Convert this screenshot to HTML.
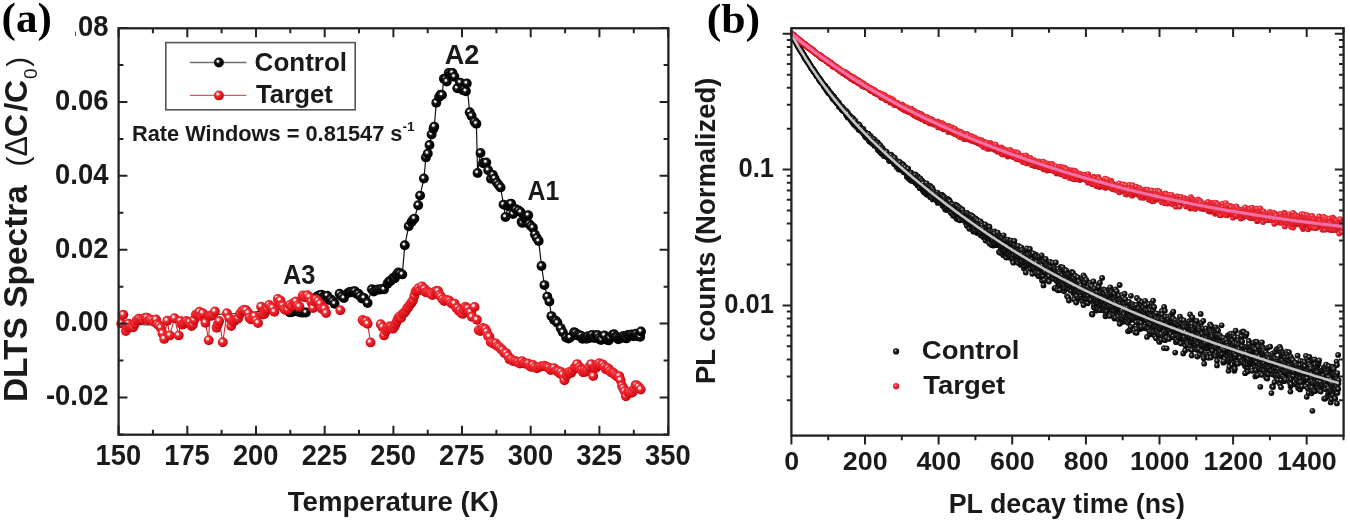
<!DOCTYPE html>
<html><head><meta charset="utf-8"><title>DLTS and PL decay</title>
<style>html,body{margin:0;padding:0;background:#fff;} svg{display:block;will-change:transform;}</style></head>
<body><svg width="1350" height="523" viewBox="0 0 1350 523">
<rect width="1350" height="523" fill="#fff"/>
<defs><radialGradient id="gk" cx="0.4" cy="0.38" r="0.62"><stop offset="0" stop-color="#ffffff"/><stop offset="0.14" stop-color="#f0f0f0"/><stop offset="0.3" stop-color="#2a2a2a"/><stop offset="0.55" stop-color="#050505"/><stop offset="1" stop-color="#000"/></radialGradient><radialGradient id="gr" cx="0.38" cy="0.36" r="0.64"><stop offset="0" stop-color="#ffffff"/><stop offset="0.16" stop-color="#ffd8d8"/><stop offset="0.34" stop-color="#ee3038"/><stop offset="0.7" stop-color="#e3141c"/><stop offset="1" stop-color="#b80810"/></radialGradient><radialGradient id="gk2" cx="0.4" cy="0.38" r="0.6"><stop offset="0" stop-color="#e0e0e0"/><stop offset="0.28" stop-color="#3a3a3a"/><stop offset="0.62" stop-color="#0e0e0e"/><stop offset="1" stop-color="#050505"/></radialGradient><radialGradient id="gr2" cx="0.4" cy="0.38" r="0.6"><stop offset="0" stop-color="#ffb0b8"/><stop offset="0.35" stop-color="#ee3a44"/><stop offset="0.75" stop-color="#e41a26"/><stop offset="1" stop-color="#b80c16"/></radialGradient></defs>
<path d="M118.6 322 L125 322.5 L135 324 L145 325 L155 324.5 L165 322.5 L175 320.5 L185 320 L195 318 L205 316 L215 314.5 L225 314 L235 313.5 L245 312.4 L255 312 L265 310.5 L275 309 L285 310 L292.3 312 L299 312 L305.9 312.5 L312 303 L319.5 295.1 L325.3 296.5 L331 299.4 L334.6 303.7 L339.6 293.7 L343.9 298 L348 293 L351.1 292.2 L356.8 293.7 L360 296 L364 298 L367.6 303 L371.9 289.3 L376 290 L380 289.5 L384 289.4 L387.5 283.8 L390.5 281 L393.1 277.9 L396.5 275 L400 273.3 L402.3 274.4 L404.8 245.3 L408.7 226.2 L411.5 222 L414.4 218.6 L418.2 205.2 L420.1 195.6 L423.9 178.5 L425.9 157.4 L427.8 153.6 L429.5 145 L431.6 134.5 L433.5 128.8 L434.3 126.6 L436.3 102.7 L439.1 96.9 L442 95 L443.9 78.8 L446.8 81.6 L448.7 73 L452.5 73 L454.4 76.8 L457.3 88.3 L460.2 82.6 L463 90.2 L465.9 91.2 L466.8 83.5 L469.7 112.2 L471.6 116 L474.5 121.8 L476.4 123.7 L477.6 173 L480.5 152.9 L483.2 163.2 L486.3 162.5 L488.2 170.2 L491 178.8 L493 174.9 L494.6 178.5 L496.8 182.6 L498.6 185 L500.6 187.4 L503.5 204.6 L505.5 217 L508 206 L511.1 203.6 L513 214 L515.9 209.3 L518.6 210.5 L520.7 212.2 L521.6 221.8 L522.4 222.9 L525 219 L528.2 215.3 L529.1 223.9 L531 226 L532.9 227.7 L534.9 234.4 L536.8 238 L538.7 241.1 L541.5 266 L544.4 285.1 L547.3 296.6 L549.4 301.4 L551.4 316.1 L554.1 320.1 L557.4 322.8 L560.8 328.2 L562.8 332.2 L566.1 337.5 L568.5 338.5 L570.1 337.5 L574.1 332.2 L577 335.4 L579.8 335.9 L582.5 338.8 L585.2 338.1 L588 336.3 L590.8 336 L593.5 337.6 L596.2 335.1 L599 338 L601.8 339.7 L604.5 335.5 L607.2 339.7 L610 338 L612.8 334.6 L615.5 336.7 L618.2 339.3 L621 338.2 L623.8 336 L626.5 338.4 L629.2 335.3 L632 334.5 L634.8 335 L637.5 336 L640.2 336.8 L641 331.5" fill="none" stroke="#111" stroke-width="1.2"/>
<g fill="url(#gk)"><circle cx="289.9" cy="312.4" r="4.95"/><circle cx="292.3" cy="312" r="4.95"/><circle cx="294.5" cy="311" r="4.95"/><circle cx="296.8" cy="310.3" r="4.95"/><circle cx="299" cy="312" r="4.95"/><circle cx="301.3" cy="312.6" r="4.95"/><circle cx="303.6" cy="312.5" r="4.95"/><circle cx="305.9" cy="312.5" r="4.95"/><circle cx="312" cy="303" r="4.95"/><circle cx="314.5" cy="300.9" r="4.95"/><circle cx="317" cy="296.4" r="4.95"/><circle cx="319.5" cy="295.1" r="4.95"/><circle cx="321.4" cy="294.6" r="4.95"/><circle cx="323.4" cy="296.8" r="4.95"/><circle cx="325.3" cy="296.5" r="4.95"/><circle cx="327.2" cy="295.8" r="4.95"/><circle cx="329.1" cy="299.9" r="4.95"/><circle cx="331" cy="299.4" r="4.95"/><circle cx="332.8" cy="301.3" r="4.95"/><circle cx="334.6" cy="303.7" r="4.95"/><circle cx="339.6" cy="293.7" r="4.95"/><circle cx="341.8" cy="296.3" r="4.95"/><circle cx="343.9" cy="298" r="4.95"/><circle cx="348" cy="293" r="4.95"/><circle cx="349.6" cy="291.9" r="4.95"/><circle cx="351.1" cy="292.2" r="4.95"/><circle cx="353" cy="291.4" r="4.95"/><circle cx="354.9" cy="291.2" r="4.95"/><circle cx="356.8" cy="293.7" r="4.95"/><circle cx="358.4" cy="293.7" r="4.95"/><circle cx="360" cy="296" r="4.95"/><circle cx="362" cy="298.5" r="4.95"/><circle cx="364" cy="298" r="4.95"/><circle cx="367.6" cy="303" r="4.95"/><circle cx="371.9" cy="289.3" r="4.95"/><circle cx="373.9" cy="291.5" r="4.95"/><circle cx="376" cy="290" r="4.95"/><circle cx="378" cy="289.5" r="4.95"/><circle cx="380" cy="289.5" r="4.95"/><circle cx="382" cy="289" r="4.95"/><circle cx="384" cy="289.4" r="4.95"/><circle cx="387.5" cy="283.8" r="4.95"/><circle cx="389" cy="281.5" r="4.95"/><circle cx="390.5" cy="281" r="4.95"/><circle cx="393.1" cy="277.9" r="4.95"/><circle cx="394.8" cy="278.3" r="4.95"/><circle cx="396.5" cy="275" r="4.95"/><circle cx="398.2" cy="272.4" r="4.95"/><circle cx="400" cy="273.3" r="4.95"/><circle cx="402.3" cy="274.4" r="4.95"/><circle cx="404.8" cy="245.3" r="4.95"/><circle cx="408.7" cy="226.2" r="4.95"/><circle cx="411.5" cy="222" r="4.95"/><circle cx="412.9" cy="219.9" r="4.95"/><circle cx="414.4" cy="218.6" r="4.95"/><circle cx="418.2" cy="205.2" r="4.95"/><circle cx="420.1" cy="195.6" r="4.95"/><circle cx="423.9" cy="178.5" r="4.95"/><circle cx="425.9" cy="157.4" r="4.95"/><circle cx="427.8" cy="153.6" r="4.95"/><circle cx="429.5" cy="145" r="4.95"/><circle cx="431.6" cy="134.5" r="4.95"/><circle cx="433.5" cy="128.8" r="4.95"/><circle cx="434.3" cy="126.6" r="4.95"/><circle cx="436.3" cy="102.7" r="4.95"/><circle cx="439.1" cy="96.9" r="4.95"/><circle cx="440.6" cy="94.6" r="4.95"/><circle cx="442" cy="95" r="4.95"/><circle cx="443.9" cy="78.8" r="4.95"/><circle cx="445.4" cy="79.2" r="4.95"/><circle cx="446.8" cy="81.6" r="4.95"/><circle cx="448.7" cy="73" r="4.95"/><circle cx="450.6" cy="74.1" r="4.95"/><circle cx="452.5" cy="73" r="4.95"/><circle cx="454.4" cy="76.8" r="4.95"/><circle cx="457.3" cy="88.3" r="4.95"/><circle cx="460.2" cy="82.6" r="4.95"/><circle cx="463" cy="90.2" r="4.95"/><circle cx="464.4" cy="89.5" r="4.95"/><circle cx="465.9" cy="91.2" r="4.95"/><circle cx="466.8" cy="83.5" r="4.95"/><circle cx="469.7" cy="112.2" r="4.95"/><circle cx="471.6" cy="116" r="4.95"/><circle cx="474.5" cy="121.8" r="4.95"/><circle cx="476.4" cy="123.7" r="4.95"/><circle cx="477.6" cy="173" r="4.95"/><circle cx="480.5" cy="152.9" r="4.95"/><circle cx="483.2" cy="163.2" r="4.95"/><circle cx="484.8" cy="163.1" r="4.95"/><circle cx="486.3" cy="162.5" r="4.95"/><circle cx="488.2" cy="170.2" r="4.95"/><circle cx="491" cy="178.8" r="4.95"/><circle cx="493" cy="174.9" r="4.95"/><circle cx="494.6" cy="178.5" r="4.95"/><circle cx="496.8" cy="182.6" r="4.95"/><circle cx="498.6" cy="185" r="4.95"/><circle cx="500.6" cy="187.4" r="4.95"/><circle cx="503.5" cy="204.6" r="4.95"/><circle cx="505.5" cy="217" r="4.95"/><circle cx="508" cy="206" r="4.95"/><circle cx="509.6" cy="204.3" r="4.95"/><circle cx="511.1" cy="203.6" r="4.95"/><circle cx="513" cy="214" r="4.95"/><circle cx="515.9" cy="209.3" r="4.95"/><circle cx="518.6" cy="210.5" r="4.95"/><circle cx="520.7" cy="212.2" r="4.95"/><circle cx="521.6" cy="221.8" r="4.95"/><circle cx="522.4" cy="222.9" r="4.95"/><circle cx="525" cy="219" r="4.95"/><circle cx="526.6" cy="217.2" r="4.95"/><circle cx="528.2" cy="215.3" r="4.95"/><circle cx="529.1" cy="223.9" r="4.95"/><circle cx="531" cy="226" r="4.95"/><circle cx="532.9" cy="227.7" r="4.95"/><circle cx="534.9" cy="234.4" r="4.95"/><circle cx="536.8" cy="238" r="4.95"/><circle cx="538.7" cy="241.1" r="4.95"/><circle cx="541.5" cy="266" r="4.95"/><circle cx="544.4" cy="285.1" r="4.95"/><circle cx="547.3" cy="296.6" r="4.95"/><circle cx="549.4" cy="301.4" r="4.95"/><circle cx="551.4" cy="316.1" r="4.95"/><circle cx="554.1" cy="320.1" r="4.95"/><circle cx="555.8" cy="320.8" r="4.95"/><circle cx="557.4" cy="322.8" r="4.95"/><circle cx="560.8" cy="328.2" r="4.95"/><circle cx="562.8" cy="332.2" r="4.95"/><circle cx="566.1" cy="337.5" r="4.95"/><circle cx="568.5" cy="338.5" r="4.95"/><circle cx="570.1" cy="337.5" r="4.95"/><circle cx="574.1" cy="332.2" r="4.95"/><circle cx="575.5" cy="332.9" r="4.95"/><circle cx="577" cy="335.4" r="4.95"/><circle cx="578.4" cy="334.8" r="4.95"/><circle cx="579.8" cy="335.9" r="4.95"/><circle cx="581.1" cy="335.7" r="4.95"/><circle cx="582.5" cy="338.8" r="4.95"/><circle cx="583.9" cy="338.3" r="4.95"/><circle cx="585.2" cy="338.1" r="4.95"/><circle cx="586.6" cy="338.7" r="4.95"/><circle cx="588" cy="336.3" r="4.95"/><circle cx="589.4" cy="338" r="4.95"/><circle cx="590.8" cy="336" r="4.95"/><circle cx="592.1" cy="334.9" r="4.95"/><circle cx="593.5" cy="337.6" r="4.95"/><circle cx="594.9" cy="338" r="4.95"/><circle cx="596.2" cy="335.1" r="4.95"/><circle cx="597.6" cy="335.1" r="4.95"/><circle cx="599" cy="338" r="4.95"/><circle cx="600.4" cy="339.8" r="4.95"/><circle cx="601.8" cy="339.7" r="4.95"/><circle cx="604.5" cy="335.5" r="4.95"/><circle cx="607.2" cy="339.7" r="4.95"/><circle cx="608.6" cy="340.4" r="4.95"/><circle cx="610" cy="338" r="4.95"/><circle cx="612.8" cy="334.6" r="4.95"/><circle cx="614.1" cy="334.3" r="4.95"/><circle cx="615.5" cy="336.7" r="4.95"/><circle cx="616.9" cy="337.3" r="4.95"/><circle cx="618.2" cy="339.3" r="4.95"/><circle cx="619.6" cy="338.3" r="4.95"/><circle cx="621" cy="338.2" r="4.95"/><circle cx="622.4" cy="336.5" r="4.95"/><circle cx="623.8" cy="336" r="4.95"/><circle cx="625.1" cy="337.2" r="4.95"/><circle cx="626.5" cy="338.4" r="4.95"/><circle cx="627.9" cy="334.9" r="4.95"/><circle cx="629.2" cy="335.3" r="4.95"/><circle cx="630.6" cy="334.6" r="4.95"/><circle cx="632" cy="334.5" r="4.95"/><circle cx="633.4" cy="336.2" r="4.95"/><circle cx="634.8" cy="335" r="4.95"/><circle cx="636.1" cy="333.8" r="4.95"/><circle cx="637.5" cy="336" r="4.95"/><circle cx="638.9" cy="336.4" r="4.95"/><circle cx="640.2" cy="336.8" r="4.95"/><circle cx="641" cy="331.5" r="4.95"/></g>
<path d="M121.2 323.4 L123.3 314.8 L125.9 331.1 L128.5 323.8 L131.5 327.2 L136.7 320.4 L141 319 L145.3 317.8 L150.4 319.5 L156 319.5 L159 325.5 L164.2 338.9 L167.2 320.8 L169.8 335.4 L174.5 318.2 L178.7 335.4 L180.5 321 L183 324.4 L186.5 321 L191.6 326.1 L194.2 320.1 L197.7 314.1 L202.8 313.2 L205.4 322.7 L208.7 340.2 L209.7 315.8 L214.9 311.5 L216.6 327.8 L219.2 321 L222.8 342.2 L226.9 313.2 L231.2 326.1 L232.9 321.8 L238.1 318.4 L244.1 309.8 L248.4 313.2 L249.4 317.8 L254.6 316.1 L258 323 L261.1 306.7 L263.2 314.4 L265.8 310.9 L269.2 304.9 L274.4 311.8 L277.8 298.9 L280.4 300.6 L283 305.8 L285.6 310.1 L289.9 304.9 L295.9 301.5 L299.4 306.7 L302.8 295.5 L305.4 297.2 L309.5 297.2 L313.1 308 L315.9 299.4 L318 301 L320.2 303.7 L323.1 309.4 L326 313" fill="none" stroke="#d01018" stroke-width="1.0"/>
<path d="M362.6 320 L365 322 L367.6 323.8 L370.5 342.4" fill="none" stroke="#d01018" stroke-width="1.0"/>
<path d="M380.7 324.2 L382.5 327 L384.1 335.4 L386 331 L388.4 328.5 L391.5 327 L394.4 326.8 L397 321 L399.6 316.5 L402.5 314 L405.6 311.3 L408.5 307 L411.6 302.7 L414.3 296 L416.8 290.7 L418.4 288.2 L420 290 L422 286.4 L424.5 289 L427.1 291.5 L429.7 293 L432.3 295 L434.5 292 L436.6 290.7 L439.6 295 L442.6 299.3 L446 300 L449.5 301 L452.9 304 L456.4 307.9 L459 311 L461.5 313 L464 310 L466.7 307.9 L469.3 312 L471.8 316.8 L474.5 307 L476.9 319.8 L478.8 330.2 L480.3 331 L483 328 L485.5 329.3 L488 336 L490.7 342 L494 344 L497.5 346 L501 349 L504.4 352.9 L508 356 L511.3 359.3 L515 361 L519.9 363.5 L524 363 L528.5 363.7 L533 365 L538.8 367.1 L543 366 L547.5 367.1 L552 369 L556.1 370.6 L558.5 371 L561 372 L564.4 380.2 L566.5 375.7 L569.5 372 L572.4 370.8 L574.5 368 L577.1 364.1 L579.5 367 L581.8 370.1 L584.5 370 L587.1 370.1 L589 367 L591.1 364.1 L593.2 376.1 L595.5 368 L597.8 364.8 L601 365 L604.5 366.8 L607 368 L609.9 370.8 L612.5 372.5 L615.2 374.8 L618 377 L620.6 380.2 L623.3 388.2 L625.9 396.2 L628 392.2 L630.5 393 L632.6 392.2 L634.5 389 L636.7 385.5 L638.7 387 L640.7 389.5" fill="none" stroke="#d01018" stroke-width="1.0"/>
<g fill="url(#gr)"><circle cx="121.2" cy="323.4" r="4.95"/><circle cx="123.3" cy="314.8" r="4.95"/><circle cx="125.9" cy="331.1" r="4.95"/><circle cx="127.2" cy="327.4" r="4.95"/><circle cx="128.5" cy="323.8" r="4.95"/><circle cx="130" cy="326.9" r="4.95"/><circle cx="131.5" cy="327.2" r="4.95"/><circle cx="133.2" cy="327.3" r="4.95"/><circle cx="135" cy="323.7" r="4.95"/><circle cx="136.7" cy="320.4" r="4.95"/><circle cx="138.8" cy="318.6" r="4.95"/><circle cx="141" cy="319" r="4.95"/><circle cx="143.2" cy="319.3" r="4.95"/><circle cx="145.3" cy="317.8" r="4.95"/><circle cx="147" cy="317.6" r="4.95"/><circle cx="148.7" cy="320.3" r="4.95"/><circle cx="150.4" cy="319.5" r="4.95"/><circle cx="152.3" cy="320.4" r="4.95"/><circle cx="154.1" cy="321.9" r="4.95"/><circle cx="156" cy="319.5" r="4.95"/><circle cx="157.5" cy="324.3" r="4.95"/><circle cx="159" cy="325.5" r="4.95"/><circle cx="160.7" cy="327.7" r="4.95"/><circle cx="162.5" cy="333.4" r="4.95"/><circle cx="164.2" cy="338.9" r="4.95"/><circle cx="167.2" cy="320.8" r="4.95"/><circle cx="169.8" cy="335.4" r="4.95"/><circle cx="174.5" cy="318.2" r="4.95"/><circle cx="178.7" cy="335.4" r="4.95"/><circle cx="180.5" cy="321" r="4.95"/><circle cx="181.8" cy="324.5" r="4.95"/><circle cx="183" cy="324.4" r="4.95"/><circle cx="184.8" cy="323.2" r="4.95"/><circle cx="186.5" cy="321" r="4.95"/><circle cx="188.2" cy="321.9" r="4.95"/><circle cx="189.9" cy="322.2" r="4.95"/><circle cx="191.6" cy="326.1" r="4.95"/><circle cx="192.9" cy="324.4" r="4.95"/><circle cx="194.2" cy="320.1" r="4.95"/><circle cx="195.9" cy="314.6" r="4.95"/><circle cx="197.7" cy="314.1" r="4.95"/><circle cx="199.4" cy="311.8" r="4.95"/><circle cx="201.1" cy="316" r="4.95"/><circle cx="202.8" cy="313.2" r="4.95"/><circle cx="205.4" cy="322.7" r="4.95"/><circle cx="208.7" cy="340.2" r="4.95"/><circle cx="209.7" cy="315.8" r="4.95"/><circle cx="211.4" cy="315.7" r="4.95"/><circle cx="213.2" cy="314.8" r="4.95"/><circle cx="214.9" cy="311.5" r="4.95"/><circle cx="216.6" cy="327.8" r="4.95"/><circle cx="217.9" cy="324.3" r="4.95"/><circle cx="219.2" cy="321" r="4.95"/><circle cx="222.8" cy="342.2" r="4.95"/><circle cx="226.9" cy="313.2" r="4.95"/><circle cx="229.1" cy="318" r="4.95"/><circle cx="231.2" cy="326.1" r="4.95"/><circle cx="232.9" cy="321.8" r="4.95"/><circle cx="234.6" cy="320.8" r="4.95"/><circle cx="236.4" cy="319.2" r="4.95"/><circle cx="238.1" cy="318.4" r="4.95"/><circle cx="240.1" cy="313.8" r="4.95"/><circle cx="242.1" cy="311" r="4.95"/><circle cx="244.1" cy="309.8" r="4.95"/><circle cx="246.2" cy="310.3" r="4.95"/><circle cx="248.4" cy="313.2" r="4.95"/><circle cx="249.4" cy="317.8" r="4.95"/><circle cx="251.1" cy="319.4" r="4.95"/><circle cx="252.9" cy="319.1" r="4.95"/><circle cx="254.6" cy="316.1" r="4.95"/><circle cx="256.3" cy="320.6" r="4.95"/><circle cx="258" cy="323" r="4.95"/><circle cx="261.1" cy="306.7" r="4.95"/><circle cx="263.2" cy="314.4" r="4.95"/><circle cx="264.5" cy="313.8" r="4.95"/><circle cx="265.8" cy="310.9" r="4.95"/><circle cx="267.5" cy="309.1" r="4.95"/><circle cx="269.2" cy="304.9" r="4.95"/><circle cx="270.9" cy="307.3" r="4.95"/><circle cx="272.7" cy="307.9" r="4.95"/><circle cx="274.4" cy="311.8" r="4.95"/><circle cx="277.8" cy="298.9" r="4.95"/><circle cx="279.1" cy="301.6" r="4.95"/><circle cx="280.4" cy="300.6" r="4.95"/><circle cx="281.7" cy="305.1" r="4.95"/><circle cx="283" cy="305.8" r="4.95"/><circle cx="284.3" cy="309" r="4.95"/><circle cx="285.6" cy="310.1" r="4.95"/><circle cx="287.8" cy="309.7" r="4.95"/><circle cx="289.9" cy="304.9" r="4.95"/><circle cx="291.9" cy="306.2" r="4.95"/><circle cx="293.9" cy="302.7" r="4.95"/><circle cx="295.9" cy="301.5" r="4.95"/><circle cx="297.6" cy="305.4" r="4.95"/><circle cx="299.4" cy="306.7" r="4.95"/><circle cx="302.8" cy="295.5" r="4.95"/><circle cx="304.1" cy="296.9" r="4.95"/><circle cx="305.4" cy="297.2" r="4.95"/><circle cx="307.4" cy="295.3" r="4.95"/><circle cx="309.5" cy="297.2" r="4.95"/><circle cx="311.3" cy="301.7" r="4.95"/><circle cx="313.1" cy="308" r="4.95"/><circle cx="314.5" cy="301.5" r="4.95"/><circle cx="315.9" cy="299.4" r="4.95"/><circle cx="318" cy="301" r="4.95"/><circle cx="320.2" cy="303.7" r="4.95"/><circle cx="321.6" cy="308.5" r="4.95"/><circle cx="323.1" cy="309.4" r="4.95"/><circle cx="324.6" cy="308.8" r="4.95"/><circle cx="326" cy="313" r="4.95"/><circle cx="340.3" cy="310.2" r="4.95"/><circle cx="362.6" cy="320" r="4.95"/><circle cx="363.8" cy="321.2" r="4.95"/><circle cx="365" cy="322" r="4.95"/><circle cx="366.3" cy="321.3" r="4.95"/><circle cx="367.6" cy="323.8" r="4.95"/><circle cx="370.5" cy="342.4" r="4.95"/><circle cx="380.7" cy="324.2" r="4.95"/><circle cx="382.5" cy="327" r="4.95"/><circle cx="384.1" cy="335.4" r="4.95"/><circle cx="386" cy="331" r="4.95"/><circle cx="387.2" cy="328" r="4.95"/><circle cx="388.4" cy="328.5" r="4.95"/><circle cx="389.9" cy="326.1" r="4.95"/><circle cx="391.5" cy="327" r="4.95"/><circle cx="392.9" cy="328.8" r="4.95"/><circle cx="394.4" cy="326.8" r="4.95"/><circle cx="395.7" cy="323.9" r="4.95"/><circle cx="397" cy="321" r="4.95"/><circle cx="398.3" cy="318" r="4.95"/><circle cx="399.6" cy="316.5" r="4.95"/><circle cx="401.1" cy="317.7" r="4.95"/><circle cx="402.5" cy="314" r="4.95"/><circle cx="404.1" cy="312.9" r="4.95"/><circle cx="405.6" cy="311.3" r="4.95"/><circle cx="407.1" cy="308.2" r="4.95"/><circle cx="408.5" cy="307" r="4.95"/><circle cx="410.1" cy="304.2" r="4.95"/><circle cx="411.6" cy="302.7" r="4.95"/><circle cx="413" cy="300.3" r="4.95"/><circle cx="414.3" cy="296" r="4.95"/><circle cx="415.6" cy="291.5" r="4.95"/><circle cx="416.8" cy="290.7" r="4.95"/><circle cx="418.4" cy="288.2" r="4.95"/><circle cx="420" cy="290" r="4.95"/><circle cx="422" cy="286.4" r="4.95"/><circle cx="423.2" cy="289" r="4.95"/><circle cx="424.5" cy="289" r="4.95"/><circle cx="425.8" cy="292.2" r="4.95"/><circle cx="427.1" cy="291.5" r="4.95"/><circle cx="428.4" cy="292.1" r="4.95"/><circle cx="429.7" cy="293" r="4.95"/><circle cx="431" cy="293.7" r="4.95"/><circle cx="432.3" cy="295" r="4.95"/><circle cx="434.5" cy="292" r="4.95"/><circle cx="436.6" cy="290.7" r="4.95"/><circle cx="438.1" cy="291.1" r="4.95"/><circle cx="439.6" cy="295" r="4.95"/><circle cx="441.1" cy="296.8" r="4.95"/><circle cx="442.6" cy="299.3" r="4.95"/><circle cx="444.3" cy="301" r="4.95"/><circle cx="446" cy="300" r="4.95"/><circle cx="447.8" cy="300.1" r="4.95"/><circle cx="449.5" cy="301" r="4.95"/><circle cx="451.2" cy="303.1" r="4.95"/><circle cx="452.9" cy="304" r="4.95"/><circle cx="454.6" cy="303.7" r="4.95"/><circle cx="456.4" cy="307.9" r="4.95"/><circle cx="457.7" cy="308" r="4.95"/><circle cx="459" cy="311" r="4.95"/><circle cx="460.2" cy="310.5" r="4.95"/><circle cx="461.5" cy="313" r="4.95"/><circle cx="462.8" cy="313.9" r="4.95"/><circle cx="464" cy="310" r="4.95"/><circle cx="465.4" cy="306.7" r="4.95"/><circle cx="466.7" cy="307.9" r="4.95"/><circle cx="468" cy="308.5" r="4.95"/><circle cx="469.3" cy="312" r="4.95"/><circle cx="470.6" cy="312.1" r="4.95"/><circle cx="471.8" cy="316.8" r="4.95"/><circle cx="474.5" cy="307" r="4.95"/><circle cx="476.9" cy="319.8" r="4.95"/><circle cx="478.8" cy="330.2" r="4.95"/><circle cx="480.3" cy="331" r="4.95"/><circle cx="481.6" cy="330.2" r="4.95"/><circle cx="483" cy="328" r="4.95"/><circle cx="484.2" cy="329.4" r="4.95"/><circle cx="485.5" cy="329.3" r="4.95"/><circle cx="486.8" cy="331.9" r="4.95"/><circle cx="488" cy="336" r="4.95"/><circle cx="489.4" cy="336.7" r="4.95"/><circle cx="490.7" cy="342" r="4.95"/><circle cx="492.4" cy="342.7" r="4.95"/><circle cx="494" cy="344" r="4.95"/><circle cx="495.8" cy="343.4" r="4.95"/><circle cx="497.5" cy="346" r="4.95"/><circle cx="499.2" cy="347.1" r="4.95"/><circle cx="501" cy="349" r="4.95"/><circle cx="502.7" cy="350.3" r="4.95"/><circle cx="504.4" cy="352.9" r="4.95"/><circle cx="506.2" cy="353.1" r="4.95"/><circle cx="508" cy="356" r="4.95"/><circle cx="509.6" cy="359.4" r="4.95"/><circle cx="511.3" cy="359.3" r="4.95"/><circle cx="513.1" cy="361.1" r="4.95"/><circle cx="515" cy="361" r="4.95"/><circle cx="516.6" cy="361.7" r="4.95"/><circle cx="518.3" cy="362.2" r="4.95"/><circle cx="519.9" cy="363.5" r="4.95"/><circle cx="522" cy="361.3" r="4.95"/><circle cx="524" cy="363" r="4.95"/><circle cx="525.5" cy="363.7" r="4.95"/><circle cx="527" cy="363.5" r="4.95"/><circle cx="528.5" cy="363.7" r="4.95"/><circle cx="530" cy="366.2" r="4.95"/><circle cx="531.5" cy="366.9" r="4.95"/><circle cx="533" cy="365" r="4.95"/><circle cx="534.9" cy="367.2" r="4.95"/><circle cx="536.9" cy="368.2" r="4.95"/><circle cx="538.8" cy="367.1" r="4.95"/><circle cx="540.9" cy="366.5" r="4.95"/><circle cx="543" cy="366" r="4.95"/><circle cx="544.5" cy="365.7" r="4.95"/><circle cx="546" cy="366.6" r="4.95"/><circle cx="547.5" cy="367.1" r="4.95"/><circle cx="549" cy="367.9" r="4.95"/><circle cx="550.5" cy="370" r="4.95"/><circle cx="552" cy="369" r="4.95"/><circle cx="554" cy="368.1" r="4.95"/><circle cx="556.1" cy="370.6" r="4.95"/><circle cx="557.3" cy="371.3" r="4.95"/><circle cx="558.5" cy="371" r="4.95"/><circle cx="559.8" cy="373.5" r="4.95"/><circle cx="561" cy="372" r="4.95"/><circle cx="562.7" cy="374.7" r="4.95"/><circle cx="564.4" cy="380.2" r="4.95"/><circle cx="566.5" cy="375.7" r="4.95"/><circle cx="568" cy="372.8" r="4.95"/><circle cx="569.5" cy="372" r="4.95"/><circle cx="571" cy="373.1" r="4.95"/><circle cx="572.4" cy="370.8" r="4.95"/><circle cx="574.5" cy="368" r="4.95"/><circle cx="575.8" cy="366.8" r="4.95"/><circle cx="577.1" cy="364.1" r="4.95"/><circle cx="578.3" cy="367.9" r="4.95"/><circle cx="579.5" cy="367" r="4.95"/><circle cx="580.6" cy="369.3" r="4.95"/><circle cx="581.8" cy="370.1" r="4.95"/><circle cx="583.1" cy="372.3" r="4.95"/><circle cx="584.5" cy="370" r="4.95"/><circle cx="585.8" cy="371.7" r="4.95"/><circle cx="587.1" cy="370.1" r="4.95"/><circle cx="589" cy="367" r="4.95"/><circle cx="591.1" cy="364.1" r="4.95"/><circle cx="593.2" cy="376.1" r="4.95"/><circle cx="595.5" cy="368" r="4.95"/><circle cx="596.6" cy="367.3" r="4.95"/><circle cx="597.8" cy="364.8" r="4.95"/><circle cx="599.4" cy="363.3" r="4.95"/><circle cx="601" cy="365" r="4.95"/><circle cx="602.8" cy="364.5" r="4.95"/><circle cx="604.5" cy="366.8" r="4.95"/><circle cx="605.8" cy="369.2" r="4.95"/><circle cx="607" cy="368" r="4.95"/><circle cx="608.5" cy="368.6" r="4.95"/><circle cx="609.9" cy="370.8" r="4.95"/><circle cx="611.2" cy="372.6" r="4.95"/><circle cx="612.5" cy="372.5" r="4.95"/><circle cx="613.9" cy="373.3" r="4.95"/><circle cx="615.2" cy="374.8" r="4.95"/><circle cx="616.6" cy="375.7" r="4.95"/><circle cx="618" cy="377" r="4.95"/><circle cx="619.3" cy="376.2" r="4.95"/><circle cx="620.6" cy="380.2" r="4.95"/><circle cx="622" cy="385.8" r="4.95"/><circle cx="623.3" cy="388.2" r="4.95"/><circle cx="624.6" cy="391.3" r="4.95"/><circle cx="625.9" cy="396.2" r="4.95"/><circle cx="628" cy="392.2" r="4.95"/><circle cx="629.2" cy="391.8" r="4.95"/><circle cx="630.5" cy="393" r="4.95"/><circle cx="632.6" cy="392.2" r="4.95"/><circle cx="634.5" cy="389" r="4.95"/><circle cx="635.6" cy="385.1" r="4.95"/><circle cx="636.7" cy="385.5" r="4.95"/><circle cx="638.7" cy="387" r="4.95"/><circle cx="640.7" cy="389.5" r="4.95"/></g>
<rect x="118.6" y="28.3" width="549.8" height="406.4" fill="none" stroke="#222" stroke-width="2.3"/>
<path d="M118.6 434.7v-9M118.6 28.3v9M152.9 434.7v-5M152.9 28.3v5M187.3 434.7v-9M187.3 28.3v9M221.6 434.7v-5M221.6 28.3v5M256 434.7v-9M256 28.3v9M290.3 434.7v-5M290.3 28.3v5M324.7 434.7v-9M324.7 28.3v9M359 434.7v-5M359 28.3v5M393.4 434.7v-9M393.4 28.3v9M427.7 434.7v-5M427.7 28.3v5M462 434.7v-9M462 28.3v9M496.4 434.7v-5M496.4 28.3v5M530.7 434.7v-9M530.7 28.3v9M565.1 434.7v-5M565.1 28.3v5M599.4 434.7v-9M599.4 28.3v9M633.8 434.7v-5M633.8 28.3v5M668.1 434.7v-9M668.1 28.3v9M118.6 434.5h4.8M668.4 434.5h-4.8M118.6 397.5h8.8M668.4 397.5h-8.8M118.6 360.6h4.8M668.4 360.6h-4.8M118.6 323.6h8.8M668.4 323.6h-8.8M118.6 286.7h4.8M668.4 286.7h-4.8M118.6 249.7h8.8M668.4 249.7h-8.8M118.6 212.8h4.8M668.4 212.8h-4.8M118.6 175.8h8.8M668.4 175.8h-8.8M118.6 138.9h4.8M668.4 138.9h-4.8M118.6 101.9h8.8M668.4 101.9h-8.8M118.6 64.9h4.8M668.4 64.9h-4.8M118.6 28h8.8M668.4 28h-8.8" stroke="#222" stroke-width="2" fill="none"/>
<text transform="translate(108.4,35.8) scale(1.000,1.095)" font-family="Liberation Sans" font-weight="bold" font-size="27.4" text-anchor="end" fill="#1a1a1a" >0.08</text>
<text transform="translate(108.4,109.7) scale(1.000,1.095)" font-family="Liberation Sans" font-weight="bold" font-size="27.4" text-anchor="end" fill="#1a1a1a" >0.06</text>
<text transform="translate(108.4,183.6) scale(1.000,1.095)" font-family="Liberation Sans" font-weight="bold" font-size="27.4" text-anchor="end" fill="#1a1a1a" >0.04</text>
<text transform="translate(108.4,257.5) scale(1.000,1.095)" font-family="Liberation Sans" font-weight="bold" font-size="27.4" text-anchor="end" fill="#1a1a1a" >0.02</text>
<text transform="translate(108.4,331.4) scale(1.000,1.095)" font-family="Liberation Sans" font-weight="bold" font-size="27.4" text-anchor="end" fill="#1a1a1a" >0.00</text>
<text transform="translate(108.4,405.3) scale(1.000,1.095)" font-family="Liberation Sans" font-weight="bold" font-size="27.4" text-anchor="end" fill="#1a1a1a" >-0.02</text>
<text transform="translate(118.3,464.9) scale(1.000,1.105)" font-family="Liberation Sans" font-weight="bold" font-size="27.3" text-anchor="middle" fill="#1a1a1a" >150</text>
<text transform="translate(187,464.9) scale(1.000,1.105)" font-family="Liberation Sans" font-weight="bold" font-size="27.3" text-anchor="middle" fill="#1a1a1a" >175</text>
<text transform="translate(255.7,464.9) scale(1.000,1.105)" font-family="Liberation Sans" font-weight="bold" font-size="27.3" text-anchor="middle" fill="#1a1a1a" >200</text>
<text transform="translate(324.4,464.9) scale(1.000,1.105)" font-family="Liberation Sans" font-weight="bold" font-size="27.3" text-anchor="middle" fill="#1a1a1a" >225</text>
<text transform="translate(393.1,464.9) scale(1.000,1.105)" font-family="Liberation Sans" font-weight="bold" font-size="27.3" text-anchor="middle" fill="#1a1a1a" >250</text>
<text transform="translate(461.7,464.9) scale(1.000,1.105)" font-family="Liberation Sans" font-weight="bold" font-size="27.3" text-anchor="middle" fill="#1a1a1a" >275</text>
<text transform="translate(530.4,464.9) scale(1.000,1.105)" font-family="Liberation Sans" font-weight="bold" font-size="27.3" text-anchor="middle" fill="#1a1a1a" >300</text>
<text transform="translate(599.1,464.9) scale(1.000,1.105)" font-family="Liberation Sans" font-weight="bold" font-size="27.3" text-anchor="middle" fill="#1a1a1a" >325</text>
<text transform="translate(667.8,464.9) scale(1.000,1.105)" font-family="Liberation Sans" font-weight="bold" font-size="27.3" text-anchor="middle" fill="#1a1a1a" >350</text>
<rect x="0" y="0" width="75.2" height="44" fill="#fff"/>
<text transform="translate(1.6,31.9) scale(1.040,1.000)" font-family="Liberation Serif" font-weight="bold" font-size="41.5" text-anchor="start" fill="#000" >(a)</text>
<text transform="translate(287.8,510.7) scale(1.000,1.030)" font-family="Liberation Sans" font-weight="bold" font-size="27.6" text-anchor="start" fill="#1a1a1a" >Temperature (K)</text>
<text transform="translate(27.3,402.1) rotate(-90) scale(1.015,1)" font-family="Liberation Sans" font-weight="bold" font-size="33.0" fill="#1a1a1a">DLTS Spectra</text>
<text transform="translate(27.8,166.6) rotate(-90) scale(1.000,1)" font-family="Liberation Sans" font-weight="normal" font-size="29.5" fill="#1a1a1a">(</text>
<text transform="translate(27.4,156.4) rotate(-90) scale(1.000,1)" font-family="Liberation Sans" font-weight="normal" font-size="30.5" fill="#1a1a1a">Δ</text>
<text transform="translate(27.4,137) rotate(-90) scale(1.000,1)" font-family="Liberation Sans" font-weight="bold" font-size="32.0" fill="#1a1a1a">C</text>
<text transform="translate(27.4,111.5) rotate(-90) scale(1.000,1)" font-family="Liberation Sans" font-weight="bold" font-size="32.0" fill="#1a1a1a">/</text>
<text transform="translate(27.4,103.1) rotate(-90) scale(1.000,1)" font-family="Liberation Sans" font-weight="bold" font-size="32.0" fill="#1a1a1a">C</text>
<text transform="translate(36.8,78.9) rotate(-90) scale(1.000,1)" font-family="Liberation Sans" font-weight="normal" font-size="19.0" fill="#1a1a1a">0</text>
<text transform="translate(27.8,66.7) rotate(-90) scale(1.000,1)" font-family="Liberation Sans" font-weight="normal" font-size="29.5" fill="#1a1a1a">)</text>
<rect x="165.8" y="42.6" width="189.4" height="67.2" fill="none" stroke="#555" stroke-width="1.6"/>
<path d="M189.8 62.5H246.4" stroke="#707070" stroke-width="1.4"/>
<path d="M189.8 95.4H246.4" stroke="#c86060" stroke-width="1.3"/>
<circle cx="218.9" cy="62.5" r="4.95" fill="url(#gk)"/>
<circle cx="218.9" cy="95.4" r="4.95" fill="url(#gr)"/>
<text transform="translate(254.6,70.5)" font-family="Liberation Sans" font-weight="bold" font-size="26.0" text-anchor="start" fill="#1a1a1a" >Control</text>
<text transform="translate(256,103)" font-family="Liberation Sans" font-weight="bold" font-size="25.8" text-anchor="start" fill="#1a1a1a" >Target</text>
<text transform="translate(131.9,141.1)" font-family="Liberation Sans" font-weight="bold" font-size="21.8" fill="#1a1a1a">Rate Windows = 0.81547 s<tspan font-size="13.7" dy="-10.3">-1</tspan></text>
<text transform="translate(444.7,63.8)" font-family="Liberation Sans" font-weight="bold" font-size="27.0" text-anchor="start" fill="#1a1a1a" >A2</text>
<text transform="translate(527.6,199.5) scale(0.920,1.000)" font-family="Liberation Sans" font-weight="bold" font-size="27.0" text-anchor="start" fill="#1a1a1a" >A1</text>
<text transform="translate(283,283.7) scale(0.940,1.000)" font-family="Liberation Sans" font-weight="bold" font-size="27.0" text-anchor="start" fill="#1a1a1a" >A3</text>
<clipPath id="cb"><rect x="791.4" y="28.2" width="552.2" height="407.4"/></clipPath>
<g clip-path="url(#cb)">
<g fill="url(#gk2)"><circle cx="791.6" cy="35.2" r="2.9"/><circle cx="791.7" cy="35.3" r="2.9"/><circle cx="791.7" cy="34.8" r="2.9"/><circle cx="792.0" cy="35.5" r="2.9"/><circle cx="792.1" cy="35.7" r="2.9"/><circle cx="792.2" cy="35.7" r="2.9"/><circle cx="792.2" cy="36.0" r="2.9"/><circle cx="792.3" cy="36.0" r="2.9"/><circle cx="792.4" cy="35.8" r="2.9"/><circle cx="792.4" cy="36.0" r="2.9"/><circle cx="792.4" cy="36.0" r="2.9"/><circle cx="792.5" cy="36.2" r="2.9"/><circle cx="792.6" cy="36.3" r="2.9"/><circle cx="792.6" cy="36.7" r="2.9"/><circle cx="792.7" cy="36.5" r="2.9"/><circle cx="794.0" cy="38.4" r="2.9"/><circle cx="794.1" cy="39.6" r="2.9"/><circle cx="794.1" cy="39.0" r="2.9"/><circle cx="794.2" cy="39.8" r="2.9"/><circle cx="794.3" cy="39.5" r="2.9"/><circle cx="794.5" cy="39.9" r="2.9"/><circle cx="794.5" cy="39.6" r="2.9"/><circle cx="794.5" cy="39.9" r="2.9"/><circle cx="794.7" cy="40.1" r="2.9"/><circle cx="794.8" cy="40.4" r="2.9"/><circle cx="795.3" cy="41.4" r="2.9"/><circle cx="795.5" cy="41.5" r="2.9"/><circle cx="796.2" cy="43.1" r="2.9"/><circle cx="796.3" cy="42.4" r="2.9"/><circle cx="796.4" cy="42.8" r="2.9"/><circle cx="797.2" cy="44.6" r="2.9"/><circle cx="797.5" cy="45.2" r="2.9"/><circle cx="797.5" cy="45.4" r="2.9"/><circle cx="797.6" cy="45.7" r="2.9"/><circle cx="797.9" cy="45.9" r="2.9"/><circle cx="798.3" cy="46.6" r="2.9"/><circle cx="798.4" cy="46.7" r="2.9"/><circle cx="798.5" cy="46.7" r="2.9"/><circle cx="798.5" cy="46.8" r="2.9"/><circle cx="798.7" cy="47.1" r="2.9"/><circle cx="798.9" cy="47.2" r="2.9"/><circle cx="799.2" cy="47.9" r="2.9"/><circle cx="799.3" cy="48.4" r="2.9"/><circle cx="799.5" cy="48.6" r="2.9"/><circle cx="799.6" cy="49.0" r="2.9"/><circle cx="799.7" cy="48.7" r="2.9"/><circle cx="799.8" cy="48.8" r="2.9"/><circle cx="799.9" cy="49.3" r="2.9"/><circle cx="800.0" cy="48.9" r="2.9"/><circle cx="800.3" cy="49.5" r="2.9"/><circle cx="800.5" cy="50.3" r="2.9"/><circle cx="800.6" cy="50.1" r="2.9"/><circle cx="800.8" cy="51.0" r="2.9"/><circle cx="801.0" cy="50.9" r="2.9"/><circle cx="801.0" cy="50.7" r="2.9"/><circle cx="801.0" cy="50.5" r="2.9"/><circle cx="801.3" cy="51.8" r="2.9"/><circle cx="801.5" cy="51.7" r="2.9"/><circle cx="801.5" cy="51.5" r="2.9"/><circle cx="801.6" cy="51.3" r="2.9"/><circle cx="801.9" cy="52.0" r="2.9"/><circle cx="802.0" cy="52.4" r="2.9"/><circle cx="802.0" cy="53.0" r="2.9"/><circle cx="802.4" cy="53.0" r="2.9"/><circle cx="802.7" cy="53.8" r="2.9"/><circle cx="803.0" cy="54.3" r="2.9"/><circle cx="803.2" cy="53.8" r="2.9"/><circle cx="803.3" cy="54.2" r="2.9"/><circle cx="803.5" cy="55.3" r="2.9"/><circle cx="803.8" cy="54.8" r="2.9"/><circle cx="803.8" cy="56.0" r="2.9"/><circle cx="803.9" cy="55.7" r="2.9"/><circle cx="804.2" cy="55.5" r="2.9"/><circle cx="804.2" cy="56.9" r="2.9"/><circle cx="804.3" cy="56.3" r="2.9"/><circle cx="804.4" cy="57.1" r="2.9"/><circle cx="804.9" cy="57.3" r="2.9"/><circle cx="804.9" cy="57.0" r="2.9"/><circle cx="805.1" cy="58.1" r="2.9"/><circle cx="805.2" cy="58.5" r="2.9"/><circle cx="805.5" cy="58.8" r="2.9"/><circle cx="805.8" cy="58.2" r="2.9"/><circle cx="805.8" cy="58.9" r="2.9"/><circle cx="806.0" cy="58.5" r="2.9"/><circle cx="806.2" cy="59.1" r="2.9"/><circle cx="806.2" cy="59.9" r="2.9"/><circle cx="806.7" cy="59.5" r="2.9"/><circle cx="806.9" cy="61.3" r="2.9"/><circle cx="807.4" cy="60.6" r="2.9"/><circle cx="807.5" cy="60.9" r="2.9"/><circle cx="807.7" cy="62.0" r="2.9"/><circle cx="807.7" cy="61.6" r="2.9"/><circle cx="807.9" cy="61.9" r="2.9"/><circle cx="808.1" cy="61.9" r="2.9"/><circle cx="808.2" cy="62.8" r="2.9"/><circle cx="808.2" cy="62.6" r="2.9"/><circle cx="808.4" cy="62.7" r="2.9"/><circle cx="808.4" cy="62.5" r="2.9"/><circle cx="808.6" cy="62.4" r="2.9"/><circle cx="808.7" cy="63.3" r="2.9"/><circle cx="808.8" cy="62.6" r="2.9"/><circle cx="808.8" cy="63.1" r="2.9"/><circle cx="809.3" cy="64.5" r="2.9"/><circle cx="809.3" cy="64.6" r="2.9"/><circle cx="809.8" cy="64.8" r="2.9"/><circle cx="809.9" cy="64.4" r="2.9"/><circle cx="810.3" cy="66.0" r="2.9"/><circle cx="810.4" cy="66.3" r="2.9"/><circle cx="810.4" cy="66.0" r="2.9"/><circle cx="810.7" cy="67.0" r="2.9"/><circle cx="810.8" cy="67.0" r="2.9"/><circle cx="810.9" cy="65.8" r="2.9"/><circle cx="811.1" cy="66.9" r="2.9"/><circle cx="811.3" cy="67.1" r="2.9"/><circle cx="811.6" cy="68.4" r="2.9"/><circle cx="811.7" cy="68.4" r="2.9"/><circle cx="811.9" cy="68.2" r="2.9"/><circle cx="812.3" cy="69.0" r="2.9"/><circle cx="812.4" cy="69.4" r="2.9"/><circle cx="812.5" cy="68.8" r="2.9"/><circle cx="812.5" cy="69.1" r="2.9"/><circle cx="812.6" cy="69.1" r="2.9"/><circle cx="812.7" cy="69.2" r="2.9"/><circle cx="812.7" cy="69.2" r="2.9"/><circle cx="812.9" cy="69.8" r="2.9"/><circle cx="813.0" cy="69.2" r="2.9"/><circle cx="813.0" cy="69.3" r="2.9"/><circle cx="813.2" cy="70.4" r="2.9"/><circle cx="813.5" cy="71.3" r="2.9"/><circle cx="813.6" cy="71.6" r="2.9"/><circle cx="813.6" cy="70.0" r="2.9"/><circle cx="813.8" cy="71.2" r="2.9"/><circle cx="813.8" cy="70.6" r="2.9"/><circle cx="813.9" cy="70.9" r="2.9"/><circle cx="814.6" cy="72.1" r="2.9"/><circle cx="814.9" cy="72.8" r="2.9"/><circle cx="815.1" cy="73.2" r="2.9"/><circle cx="815.2" cy="72.2" r="2.9"/><circle cx="815.3" cy="72.9" r="2.9"/><circle cx="815.6" cy="74.3" r="2.9"/><circle cx="815.7" cy="73.9" r="2.9"/><circle cx="815.7" cy="73.1" r="2.9"/><circle cx="816.2" cy="74.1" r="2.9"/><circle cx="816.3" cy="74.3" r="2.9"/><circle cx="816.4" cy="75.3" r="2.9"/><circle cx="816.7" cy="76.2" r="2.9"/><circle cx="817.3" cy="75.5" r="2.9"/><circle cx="817.3" cy="76.4" r="2.9"/><circle cx="817.3" cy="76.1" r="2.9"/><circle cx="817.4" cy="76.6" r="2.9"/><circle cx="817.8" cy="76.7" r="2.9"/><circle cx="818.2" cy="76.8" r="2.9"/><circle cx="818.3" cy="77.1" r="2.9"/><circle cx="818.6" cy="77.7" r="2.9"/><circle cx="818.7" cy="78.9" r="2.9"/><circle cx="818.7" cy="77.7" r="2.9"/><circle cx="819.1" cy="79.0" r="2.9"/><circle cx="819.4" cy="78.6" r="2.9"/><circle cx="819.5" cy="78.8" r="2.9"/><circle cx="819.6" cy="79.6" r="2.9"/><circle cx="819.6" cy="79.1" r="2.9"/><circle cx="819.6" cy="80.6" r="2.9"/><circle cx="819.8" cy="80.5" r="2.9"/><circle cx="820.1" cy="79.4" r="2.9"/><circle cx="820.2" cy="80.6" r="2.9"/><circle cx="820.4" cy="81.5" r="2.9"/><circle cx="820.9" cy="80.5" r="2.9"/><circle cx="821.0" cy="81.2" r="2.9"/><circle cx="821.3" cy="82.8" r="2.9"/><circle cx="821.3" cy="81.3" r="2.9"/><circle cx="821.5" cy="82.5" r="2.9"/><circle cx="821.8" cy="82.5" r="2.9"/><circle cx="821.9" cy="82.8" r="2.9"/><circle cx="822.4" cy="82.6" r="2.9"/><circle cx="822.6" cy="83.5" r="2.9"/><circle cx="822.9" cy="83.7" r="2.9"/><circle cx="823.6" cy="86.2" r="2.9"/><circle cx="824.3" cy="86.4" r="2.9"/><circle cx="824.4" cy="86.1" r="2.9"/><circle cx="824.6" cy="86.3" r="2.9"/><circle cx="824.6" cy="86.9" r="2.9"/><circle cx="824.8" cy="85.5" r="2.9"/><circle cx="824.9" cy="86.0" r="2.9"/><circle cx="825.2" cy="86.5" r="2.9"/><circle cx="825.3" cy="86.6" r="2.9"/><circle cx="825.4" cy="86.1" r="2.9"/><circle cx="825.5" cy="87.9" r="2.9"/><circle cx="825.6" cy="87.3" r="2.9"/><circle cx="825.6" cy="88.7" r="2.9"/><circle cx="825.7" cy="87.8" r="2.9"/><circle cx="826.0" cy="88.0" r="2.9"/><circle cx="826.1" cy="88.7" r="2.9"/><circle cx="826.4" cy="89.1" r="2.9"/><circle cx="826.5" cy="88.6" r="2.9"/><circle cx="826.6" cy="89.4" r="2.9"/><circle cx="826.6" cy="90.0" r="2.9"/><circle cx="826.6" cy="88.7" r="2.9"/><circle cx="826.7" cy="90.2" r="2.9"/><circle cx="826.9" cy="89.3" r="2.9"/><circle cx="827.0" cy="90.2" r="2.9"/><circle cx="827.1" cy="89.7" r="2.9"/><circle cx="827.2" cy="89.5" r="2.9"/><circle cx="827.3" cy="90.1" r="2.9"/><circle cx="827.3" cy="89.0" r="2.9"/><circle cx="827.3" cy="88.7" r="2.9"/><circle cx="827.5" cy="90.2" r="2.9"/><circle cx="827.6" cy="90.2" r="2.9"/><circle cx="827.7" cy="89.5" r="2.9"/><circle cx="827.7" cy="92.0" r="2.9"/><circle cx="827.7" cy="90.8" r="2.9"/><circle cx="827.8" cy="90.0" r="2.9"/><circle cx="827.9" cy="91.2" r="2.9"/><circle cx="828.0" cy="91.3" r="2.9"/><circle cx="828.1" cy="90.7" r="2.9"/><circle cx="828.2" cy="91.0" r="2.9"/><circle cx="828.3" cy="89.8" r="2.9"/><circle cx="828.3" cy="91.4" r="2.9"/><circle cx="828.4" cy="92.9" r="2.9"/><circle cx="828.4" cy="92.4" r="2.9"/><circle cx="828.7" cy="92.7" r="2.9"/><circle cx="829.1" cy="91.8" r="2.9"/><circle cx="829.2" cy="91.5" r="2.9"/><circle cx="829.4" cy="93.4" r="2.9"/><circle cx="829.5" cy="93.1" r="2.9"/><circle cx="829.9" cy="93.2" r="2.9"/><circle cx="830.3" cy="93.5" r="2.9"/><circle cx="830.3" cy="94.6" r="2.9"/><circle cx="830.3" cy="94.4" r="2.9"/><circle cx="830.5" cy="93.7" r="2.9"/><circle cx="830.6" cy="94.1" r="2.9"/><circle cx="830.6" cy="92.8" r="2.9"/><circle cx="830.9" cy="93.5" r="2.9"/><circle cx="831.2" cy="95.6" r="2.9"/><circle cx="831.6" cy="95.1" r="2.9"/><circle cx="831.8" cy="95.0" r="2.9"/><circle cx="831.8" cy="96.0" r="2.9"/><circle cx="832.0" cy="97.2" r="2.9"/><circle cx="832.2" cy="95.5" r="2.9"/><circle cx="832.4" cy="96.3" r="2.9"/><circle cx="832.8" cy="96.8" r="2.9"/><circle cx="832.8" cy="98.9" r="2.9"/><circle cx="832.9" cy="98.1" r="2.9"/><circle cx="832.9" cy="97.4" r="2.9"/><circle cx="833.1" cy="96.0" r="2.9"/><circle cx="833.2" cy="98.3" r="2.9"/><circle cx="833.3" cy="98.2" r="2.9"/><circle cx="833.3" cy="97.5" r="2.9"/><circle cx="833.4" cy="97.1" r="2.9"/><circle cx="833.5" cy="97.5" r="2.9"/><circle cx="833.6" cy="96.4" r="2.9"/><circle cx="833.8" cy="97.9" r="2.9"/><circle cx="833.9" cy="98.0" r="2.9"/><circle cx="834.0" cy="97.7" r="2.9"/><circle cx="834.2" cy="98.5" r="2.9"/><circle cx="834.3" cy="97.5" r="2.9"/><circle cx="834.4" cy="100.1" r="2.9"/><circle cx="834.6" cy="99.1" r="2.9"/><circle cx="834.6" cy="98.2" r="2.9"/><circle cx="835.1" cy="100.7" r="2.9"/><circle cx="835.3" cy="100.7" r="2.9"/><circle cx="835.6" cy="100.0" r="2.9"/><circle cx="835.7" cy="99.3" r="2.9"/><circle cx="835.8" cy="100.7" r="2.9"/><circle cx="836.3" cy="101.8" r="2.9"/><circle cx="836.3" cy="102.1" r="2.9"/><circle cx="836.4" cy="102.4" r="2.9"/><circle cx="836.4" cy="102.4" r="2.9"/><circle cx="836.5" cy="100.1" r="2.9"/><circle cx="836.6" cy="101.8" r="2.9"/><circle cx="836.6" cy="100.1" r="2.9"/><circle cx="836.7" cy="102.9" r="2.9"/><circle cx="836.9" cy="102.6" r="2.9"/><circle cx="837.2" cy="103.4" r="2.9"/><circle cx="837.6" cy="103.1" r="2.9"/><circle cx="837.7" cy="103.1" r="2.9"/><circle cx="838.8" cy="103.8" r="2.9"/><circle cx="838.8" cy="102.6" r="2.9"/><circle cx="838.9" cy="104.3" r="2.9"/><circle cx="838.9" cy="106.7" r="2.9"/><circle cx="839.0" cy="106.1" r="2.9"/><circle cx="839.1" cy="104.5" r="2.9"/><circle cx="839.2" cy="105.3" r="2.9"/><circle cx="839.5" cy="105.8" r="2.9"/><circle cx="839.5" cy="104.7" r="2.9"/><circle cx="840.0" cy="105.9" r="2.9"/><circle cx="840.1" cy="106.4" r="2.9"/><circle cx="840.1" cy="105.5" r="2.9"/><circle cx="840.2" cy="106.6" r="2.9"/><circle cx="840.4" cy="107.7" r="2.9"/><circle cx="840.7" cy="107.6" r="2.9"/><circle cx="840.9" cy="107.2" r="2.9"/><circle cx="840.9" cy="106.8" r="2.9"/><circle cx="841.2" cy="108.1" r="2.9"/><circle cx="841.5" cy="107.1" r="2.9"/><circle cx="841.5" cy="107.0" r="2.9"/><circle cx="841.6" cy="109.2" r="2.9"/><circle cx="842.0" cy="107.8" r="2.9"/><circle cx="842.1" cy="106.9" r="2.9"/><circle cx="842.1" cy="109.4" r="2.9"/><circle cx="842.2" cy="109.4" r="2.9"/><circle cx="842.3" cy="109.9" r="2.9"/><circle cx="842.7" cy="109.0" r="2.9"/><circle cx="843.1" cy="110.9" r="2.9"/><circle cx="843.2" cy="109.5" r="2.9"/><circle cx="843.3" cy="108.7" r="2.9"/><circle cx="844.0" cy="110.4" r="2.9"/><circle cx="844.0" cy="110.9" r="2.9"/><circle cx="844.1" cy="109.5" r="2.9"/><circle cx="844.2" cy="110.6" r="2.9"/><circle cx="844.3" cy="111.2" r="2.9"/><circle cx="844.3" cy="110.5" r="2.9"/><circle cx="844.6" cy="111.5" r="2.9"/><circle cx="845.2" cy="112.0" r="2.9"/><circle cx="845.9" cy="111.9" r="2.9"/><circle cx="845.9" cy="113.3" r="2.9"/><circle cx="846.0" cy="113.6" r="2.9"/><circle cx="846.0" cy="110.9" r="2.9"/><circle cx="846.1" cy="112.2" r="2.9"/><circle cx="846.1" cy="114.1" r="2.9"/><circle cx="846.4" cy="113.9" r="2.9"/><circle cx="846.6" cy="111.5" r="2.9"/><circle cx="846.6" cy="113.9" r="2.9"/><circle cx="846.6" cy="115.4" r="2.9"/><circle cx="846.6" cy="114.8" r="2.9"/><circle cx="846.7" cy="114.7" r="2.9"/><circle cx="846.8" cy="113.7" r="2.9"/><circle cx="846.9" cy="114.1" r="2.9"/><circle cx="847.3" cy="113.0" r="2.9"/><circle cx="847.3" cy="114.4" r="2.9"/><circle cx="847.5" cy="117.1" r="2.9"/><circle cx="847.7" cy="114.9" r="2.9"/><circle cx="847.9" cy="114.0" r="2.9"/><circle cx="847.9" cy="115.9" r="2.9"/><circle cx="848.0" cy="113.1" r="2.9"/><circle cx="848.1" cy="117.7" r="2.9"/><circle cx="848.3" cy="116.4" r="2.9"/><circle cx="848.5" cy="115.6" r="2.9"/><circle cx="849.1" cy="116.1" r="2.9"/><circle cx="849.5" cy="115.8" r="2.9"/><circle cx="850.2" cy="117.9" r="2.9"/><circle cx="850.2" cy="117.8" r="2.9"/><circle cx="850.2" cy="115.8" r="2.9"/><circle cx="850.5" cy="119.4" r="2.9"/><circle cx="850.9" cy="118.1" r="2.9"/><circle cx="851.0" cy="117.2" r="2.9"/><circle cx="851.0" cy="119.9" r="2.9"/><circle cx="851.2" cy="119.9" r="2.9"/><circle cx="851.3" cy="118.2" r="2.9"/><circle cx="851.3" cy="118.1" r="2.9"/><circle cx="851.4" cy="120.6" r="2.9"/><circle cx="851.5" cy="118.7" r="2.9"/><circle cx="851.9" cy="119.9" r="2.9"/><circle cx="851.9" cy="121.5" r="2.9"/><circle cx="851.9" cy="118.1" r="2.9"/><circle cx="852.0" cy="117.8" r="2.9"/><circle cx="852.0" cy="118.7" r="2.9"/><circle cx="852.3" cy="119.3" r="2.9"/><circle cx="852.4" cy="120.2" r="2.9"/><circle cx="852.4" cy="121.5" r="2.9"/><circle cx="852.5" cy="119.8" r="2.9"/><circle cx="852.8" cy="123.0" r="2.9"/><circle cx="852.9" cy="121.1" r="2.9"/><circle cx="853.1" cy="118.5" r="2.9"/><circle cx="853.1" cy="121.0" r="2.9"/><circle cx="853.2" cy="122.0" r="2.9"/><circle cx="853.5" cy="122.9" r="2.9"/><circle cx="853.5" cy="120.5" r="2.9"/><circle cx="853.8" cy="121.6" r="2.9"/><circle cx="853.9" cy="124.5" r="2.9"/><circle cx="854.2" cy="122.4" r="2.9"/><circle cx="854.4" cy="121.2" r="2.9"/><circle cx="854.6" cy="120.5" r="2.9"/><circle cx="854.7" cy="122.2" r="2.9"/><circle cx="854.8" cy="123.4" r="2.9"/><circle cx="855.0" cy="121.6" r="2.9"/><circle cx="855.2" cy="125.2" r="2.9"/><circle cx="855.3" cy="122.3" r="2.9"/><circle cx="855.3" cy="120.9" r="2.9"/><circle cx="855.6" cy="124.6" r="2.9"/><circle cx="855.6" cy="123.8" r="2.9"/><circle cx="855.8" cy="123.6" r="2.9"/><circle cx="855.9" cy="125.9" r="2.9"/><circle cx="856.1" cy="123.4" r="2.9"/><circle cx="856.1" cy="125.3" r="2.9"/><circle cx="856.1" cy="123.6" r="2.9"/><circle cx="856.5" cy="127.1" r="2.9"/><circle cx="856.6" cy="124.9" r="2.9"/><circle cx="856.7" cy="124.9" r="2.9"/><circle cx="856.8" cy="125.9" r="2.9"/><circle cx="857.0" cy="125.2" r="2.9"/><circle cx="857.1" cy="126.1" r="2.9"/><circle cx="857.2" cy="125.2" r="2.9"/><circle cx="857.7" cy="126.9" r="2.9"/><circle cx="857.7" cy="126.1" r="2.9"/><circle cx="857.7" cy="125.2" r="2.9"/><circle cx="858.1" cy="127.2" r="2.9"/><circle cx="858.1" cy="127.1" r="2.9"/><circle cx="858.2" cy="125.0" r="2.9"/><circle cx="858.2" cy="126.1" r="2.9"/><circle cx="858.3" cy="124.2" r="2.9"/><circle cx="858.3" cy="126.8" r="2.9"/><circle cx="858.5" cy="128.1" r="2.9"/><circle cx="858.7" cy="129.8" r="2.9"/><circle cx="858.7" cy="127.6" r="2.9"/><circle cx="859.0" cy="128.9" r="2.9"/><circle cx="859.0" cy="129.6" r="2.9"/><circle cx="859.0" cy="128.5" r="2.9"/><circle cx="859.1" cy="124.7" r="2.9"/><circle cx="859.1" cy="126.8" r="2.9"/><circle cx="859.1" cy="128.0" r="2.9"/><circle cx="859.2" cy="128.0" r="2.9"/><circle cx="859.3" cy="127.9" r="2.9"/><circle cx="859.7" cy="126.8" r="2.9"/><circle cx="859.7" cy="125.3" r="2.9"/><circle cx="859.8" cy="128.8" r="2.9"/><circle cx="859.8" cy="130.0" r="2.9"/><circle cx="860.0" cy="127.8" r="2.9"/><circle cx="860.3" cy="129.6" r="2.9"/><circle cx="860.4" cy="128.1" r="2.9"/><circle cx="860.4" cy="128.7" r="2.9"/><circle cx="860.5" cy="128.1" r="2.9"/><circle cx="860.7" cy="130.4" r="2.9"/><circle cx="860.7" cy="127.8" r="2.9"/><circle cx="860.7" cy="129.5" r="2.9"/><circle cx="861.2" cy="131.1" r="2.9"/><circle cx="861.5" cy="130.0" r="2.9"/><circle cx="861.7" cy="128.3" r="2.9"/><circle cx="861.7" cy="130.8" r="2.9"/><circle cx="862.0" cy="130.3" r="2.9"/><circle cx="862.1" cy="128.7" r="2.9"/><circle cx="862.1" cy="130.4" r="2.9"/><circle cx="862.2" cy="130.3" r="2.9"/><circle cx="862.5" cy="132.0" r="2.9"/><circle cx="862.9" cy="130.7" r="2.9"/><circle cx="863.0" cy="131.7" r="2.9"/><circle cx="863.3" cy="132.9" r="2.9"/><circle cx="863.3" cy="129.0" r="2.9"/><circle cx="863.4" cy="133.5" r="2.9"/><circle cx="863.5" cy="132.1" r="2.9"/><circle cx="863.5" cy="130.5" r="2.9"/><circle cx="863.7" cy="132.5" r="2.9"/><circle cx="863.7" cy="133.9" r="2.9"/><circle cx="864.1" cy="131.6" r="2.9"/><circle cx="865.1" cy="132.8" r="2.9"/><circle cx="865.3" cy="136.1" r="2.9"/><circle cx="865.4" cy="136.5" r="2.9"/><circle cx="865.4" cy="137.0" r="2.9"/><circle cx="865.6" cy="134.4" r="2.9"/><circle cx="865.8" cy="133.0" r="2.9"/><circle cx="865.9" cy="133.0" r="2.9"/><circle cx="866.1" cy="134.2" r="2.9"/><circle cx="866.3" cy="133.3" r="2.9"/><circle cx="866.4" cy="135.8" r="2.9"/><circle cx="866.5" cy="137.2" r="2.9"/><circle cx="866.7" cy="133.6" r="2.9"/><circle cx="867.0" cy="138.1" r="2.9"/><circle cx="867.0" cy="134.2" r="2.9"/><circle cx="867.3" cy="134.8" r="2.9"/><circle cx="867.4" cy="133.8" r="2.9"/><circle cx="867.4" cy="137.3" r="2.9"/><circle cx="867.6" cy="136.1" r="2.9"/><circle cx="867.6" cy="136.3" r="2.9"/><circle cx="868.2" cy="133.8" r="2.9"/><circle cx="868.4" cy="136.0" r="2.9"/><circle cx="868.4" cy="137.6" r="2.9"/><circle cx="868.5" cy="134.0" r="2.9"/><circle cx="868.7" cy="140.4" r="2.9"/><circle cx="868.9" cy="138.1" r="2.9"/><circle cx="869.3" cy="139.8" r="2.9"/><circle cx="869.4" cy="137.6" r="2.9"/><circle cx="869.6" cy="139.8" r="2.9"/><circle cx="869.7" cy="140.5" r="2.9"/><circle cx="869.7" cy="141.5" r="2.9"/><circle cx="869.7" cy="136.6" r="2.9"/><circle cx="869.9" cy="141.7" r="2.9"/><circle cx="870.1" cy="136.9" r="2.9"/><circle cx="870.3" cy="139.3" r="2.9"/><circle cx="870.4" cy="138.5" r="2.9"/><circle cx="870.8" cy="139.2" r="2.9"/><circle cx="870.8" cy="136.2" r="2.9"/><circle cx="871.0" cy="139.2" r="2.9"/><circle cx="871.0" cy="137.6" r="2.9"/><circle cx="871.0" cy="139.4" r="2.9"/><circle cx="871.3" cy="140.5" r="2.9"/><circle cx="871.6" cy="140.4" r="2.9"/><circle cx="871.9" cy="140.5" r="2.9"/><circle cx="871.9" cy="143.1" r="2.9"/><circle cx="871.9" cy="141.3" r="2.9"/><circle cx="872.1" cy="141.9" r="2.9"/><circle cx="872.1" cy="143.2" r="2.9"/><circle cx="872.1" cy="140.8" r="2.9"/><circle cx="872.2" cy="141.1" r="2.9"/><circle cx="872.2" cy="142.2" r="2.9"/><circle cx="872.3" cy="140.6" r="2.9"/><circle cx="872.5" cy="143.4" r="2.9"/><circle cx="872.8" cy="140.5" r="2.9"/><circle cx="872.9" cy="141.3" r="2.9"/><circle cx="872.9" cy="141.4" r="2.9"/><circle cx="873.0" cy="141.1" r="2.9"/><circle cx="873.0" cy="141.7" r="2.9"/><circle cx="873.2" cy="141.1" r="2.9"/><circle cx="873.3" cy="138.6" r="2.9"/><circle cx="873.4" cy="144.2" r="2.9"/><circle cx="873.6" cy="141.5" r="2.9"/><circle cx="873.6" cy="143.7" r="2.9"/><circle cx="873.9" cy="140.7" r="2.9"/><circle cx="873.9" cy="143.6" r="2.9"/><circle cx="874.0" cy="140.4" r="2.9"/><circle cx="874.4" cy="145.7" r="2.9"/><circle cx="874.5" cy="142.9" r="2.9"/><circle cx="874.5" cy="142.4" r="2.9"/><circle cx="874.6" cy="139.8" r="2.9"/><circle cx="874.6" cy="139.8" r="2.9"/><circle cx="874.7" cy="142.4" r="2.9"/><circle cx="874.7" cy="142.2" r="2.9"/><circle cx="874.8" cy="142.3" r="2.9"/><circle cx="874.8" cy="142.5" r="2.9"/><circle cx="875.0" cy="145.3" r="2.9"/><circle cx="875.1" cy="143.0" r="2.9"/><circle cx="875.2" cy="143.0" r="2.9"/><circle cx="875.5" cy="142.6" r="2.9"/><circle cx="875.5" cy="142.1" r="2.9"/><circle cx="875.8" cy="145.0" r="2.9"/><circle cx="875.8" cy="143.5" r="2.9"/><circle cx="875.8" cy="143.6" r="2.9"/><circle cx="875.9" cy="145.0" r="2.9"/><circle cx="876.0" cy="144.7" r="2.9"/><circle cx="876.0" cy="146.0" r="2.9"/><circle cx="876.4" cy="146.3" r="2.9"/><circle cx="876.7" cy="142.8" r="2.9"/><circle cx="876.8" cy="143.8" r="2.9"/><circle cx="877.0" cy="147.3" r="2.9"/><circle cx="877.1" cy="144.9" r="2.9"/><circle cx="877.3" cy="146.9" r="2.9"/><circle cx="877.3" cy="144.1" r="2.9"/><circle cx="877.5" cy="142.4" r="2.9"/><circle cx="877.5" cy="142.5" r="2.9"/><circle cx="877.6" cy="144.8" r="2.9"/><circle cx="877.7" cy="145.4" r="2.9"/><circle cx="877.8" cy="149.7" r="2.9"/><circle cx="878.0" cy="147.9" r="2.9"/><circle cx="878.3" cy="148.1" r="2.9"/><circle cx="878.5" cy="148.7" r="2.9"/><circle cx="878.5" cy="144.0" r="2.9"/><circle cx="878.6" cy="147.2" r="2.9"/><circle cx="878.7" cy="146.9" r="2.9"/><circle cx="878.9" cy="150.8" r="2.9"/><circle cx="879.0" cy="146.1" r="2.9"/><circle cx="879.4" cy="145.0" r="2.9"/><circle cx="879.4" cy="148.0" r="2.9"/><circle cx="879.5" cy="147.6" r="2.9"/><circle cx="879.6" cy="148.2" r="2.9"/><circle cx="879.7" cy="148.6" r="2.9"/><circle cx="879.8" cy="148.5" r="2.9"/><circle cx="880.0" cy="147.2" r="2.9"/><circle cx="880.1" cy="147.7" r="2.9"/><circle cx="880.2" cy="152.1" r="2.9"/><circle cx="880.3" cy="147.5" r="2.9"/><circle cx="880.3" cy="149.7" r="2.9"/><circle cx="880.4" cy="146.9" r="2.9"/><circle cx="880.5" cy="145.6" r="2.9"/><circle cx="880.6" cy="150.8" r="2.9"/><circle cx="880.8" cy="149.7" r="2.9"/><circle cx="880.9" cy="152.0" r="2.9"/><circle cx="881.0" cy="151.5" r="2.9"/><circle cx="881.0" cy="150.0" r="2.9"/><circle cx="881.1" cy="148.1" r="2.9"/><circle cx="881.1" cy="153.0" r="2.9"/><circle cx="881.2" cy="149.9" r="2.9"/><circle cx="881.3" cy="153.1" r="2.9"/><circle cx="881.6" cy="151.6" r="2.9"/><circle cx="881.7" cy="152.1" r="2.9"/><circle cx="881.9" cy="151.7" r="2.9"/><circle cx="882.0" cy="151.5" r="2.9"/><circle cx="882.1" cy="150.3" r="2.9"/><circle cx="882.2" cy="154.1" r="2.9"/><circle cx="882.2" cy="149.1" r="2.9"/><circle cx="882.5" cy="148.1" r="2.9"/><circle cx="882.7" cy="151.9" r="2.9"/><circle cx="882.7" cy="150.1" r="2.9"/><circle cx="882.8" cy="153.3" r="2.9"/><circle cx="882.9" cy="151.1" r="2.9"/><circle cx="883.0" cy="154.0" r="2.9"/><circle cx="883.3" cy="152.0" r="2.9"/><circle cx="883.3" cy="150.3" r="2.9"/><circle cx="883.3" cy="151.3" r="2.9"/><circle cx="883.4" cy="153.3" r="2.9"/><circle cx="883.5" cy="150.8" r="2.9"/><circle cx="883.5" cy="150.4" r="2.9"/><circle cx="883.5" cy="151.7" r="2.9"/><circle cx="883.6" cy="152.7" r="2.9"/><circle cx="883.7" cy="154.7" r="2.9"/><circle cx="883.8" cy="153.1" r="2.9"/><circle cx="884.0" cy="154.2" r="2.9"/><circle cx="884.0" cy="152.1" r="2.9"/><circle cx="884.1" cy="155.9" r="2.9"/><circle cx="884.2" cy="156.0" r="2.9"/><circle cx="884.2" cy="151.4" r="2.9"/><circle cx="884.3" cy="153.2" r="2.9"/><circle cx="884.3" cy="152.6" r="2.9"/><circle cx="884.5" cy="153.6" r="2.9"/><circle cx="884.9" cy="152.7" r="2.9"/><circle cx="885.4" cy="152.3" r="2.9"/><circle cx="885.7" cy="151.4" r="2.9"/><circle cx="886.1" cy="153.4" r="2.9"/><circle cx="886.2" cy="154.6" r="2.9"/><circle cx="886.3" cy="156.7" r="2.9"/><circle cx="886.3" cy="155.7" r="2.9"/><circle cx="886.3" cy="153.8" r="2.9"/><circle cx="886.5" cy="153.5" r="2.9"/><circle cx="886.6" cy="151.8" r="2.9"/><circle cx="886.7" cy="156.4" r="2.9"/><circle cx="886.7" cy="155.2" r="2.9"/><circle cx="887.2" cy="156.7" r="2.9"/><circle cx="887.2" cy="157.0" r="2.9"/><circle cx="887.9" cy="157.2" r="2.9"/><circle cx="888.0" cy="155.9" r="2.9"/><circle cx="888.0" cy="155.5" r="2.9"/><circle cx="888.6" cy="154.6" r="2.9"/><circle cx="888.7" cy="155.4" r="2.9"/><circle cx="888.7" cy="157.7" r="2.9"/><circle cx="889.0" cy="160.6" r="2.9"/><circle cx="889.0" cy="156.2" r="2.9"/><circle cx="889.3" cy="157.8" r="2.9"/><circle cx="889.5" cy="161.1" r="2.9"/><circle cx="889.5" cy="157.7" r="2.9"/><circle cx="889.6" cy="156.9" r="2.9"/><circle cx="890.0" cy="157.9" r="2.9"/><circle cx="891.0" cy="158.3" r="2.9"/><circle cx="891.0" cy="154.7" r="2.9"/><circle cx="891.1" cy="160.7" r="2.9"/><circle cx="891.2" cy="155.1" r="2.9"/><circle cx="891.4" cy="157.9" r="2.9"/><circle cx="891.5" cy="158.3" r="2.9"/><circle cx="891.6" cy="160.2" r="2.9"/><circle cx="891.8" cy="158.9" r="2.9"/><circle cx="891.8" cy="158.4" r="2.9"/><circle cx="892.3" cy="158.0" r="2.9"/><circle cx="892.4" cy="160.4" r="2.9"/><circle cx="892.5" cy="159.2" r="2.9"/><circle cx="892.6" cy="158.5" r="2.9"/><circle cx="892.8" cy="157.3" r="2.9"/><circle cx="892.9" cy="158.4" r="2.9"/><circle cx="892.9" cy="160.6" r="2.9"/><circle cx="893.1" cy="157.0" r="2.9"/><circle cx="893.2" cy="160.8" r="2.9"/><circle cx="893.7" cy="161.2" r="2.9"/><circle cx="893.8" cy="163.6" r="2.9"/><circle cx="894.1" cy="159.8" r="2.9"/><circle cx="894.5" cy="159.5" r="2.9"/><circle cx="894.5" cy="161.4" r="2.9"/><circle cx="894.6" cy="160.8" r="2.9"/><circle cx="894.7" cy="157.7" r="2.9"/><circle cx="894.8" cy="164.5" r="2.9"/><circle cx="895.3" cy="162.8" r="2.9"/><circle cx="895.4" cy="162.7" r="2.9"/><circle cx="895.5" cy="160.7" r="2.9"/><circle cx="896.2" cy="163.9" r="2.9"/><circle cx="896.6" cy="162.8" r="2.9"/><circle cx="896.8" cy="167.2" r="2.9"/><circle cx="897.0" cy="165.3" r="2.9"/><circle cx="897.0" cy="167.0" r="2.9"/><circle cx="897.0" cy="161.1" r="2.9"/><circle cx="897.1" cy="161.9" r="2.9"/><circle cx="897.2" cy="163.0" r="2.9"/><circle cx="897.4" cy="162.8" r="2.9"/><circle cx="898.1" cy="168.4" r="2.9"/><circle cx="898.2" cy="165.6" r="2.9"/><circle cx="898.2" cy="162.4" r="2.9"/><circle cx="898.4" cy="164.4" r="2.9"/><circle cx="898.8" cy="169.6" r="2.9"/><circle cx="898.8" cy="164.7" r="2.9"/><circle cx="898.8" cy="166.8" r="2.9"/><circle cx="899.0" cy="161.6" r="2.9"/><circle cx="899.1" cy="164.4" r="2.9"/><circle cx="899.3" cy="165.4" r="2.9"/><circle cx="899.3" cy="165.2" r="2.9"/><circle cx="899.3" cy="165.8" r="2.9"/><circle cx="899.5" cy="166.8" r="2.9"/><circle cx="899.7" cy="168.8" r="2.9"/><circle cx="900.0" cy="162.4" r="2.9"/><circle cx="900.1" cy="166.7" r="2.9"/><circle cx="900.1" cy="168.2" r="2.9"/><circle cx="900.5" cy="167.4" r="2.9"/><circle cx="900.5" cy="169.6" r="2.9"/><circle cx="900.7" cy="166.7" r="2.9"/><circle cx="901.1" cy="166.4" r="2.9"/><circle cx="901.3" cy="165.6" r="2.9"/><circle cx="901.3" cy="169.7" r="2.9"/><circle cx="901.3" cy="164.6" r="2.9"/><circle cx="901.4" cy="166.6" r="2.9"/><circle cx="901.6" cy="167.7" r="2.9"/><circle cx="901.7" cy="169.3" r="2.9"/><circle cx="901.7" cy="167.2" r="2.9"/><circle cx="901.7" cy="165.7" r="2.9"/><circle cx="902.1" cy="169.6" r="2.9"/><circle cx="902.2" cy="165.6" r="2.9"/><circle cx="902.3" cy="166.7" r="2.9"/><circle cx="902.3" cy="164.1" r="2.9"/><circle cx="902.3" cy="168.8" r="2.9"/><circle cx="902.6" cy="168.9" r="2.9"/><circle cx="902.7" cy="164.5" r="2.9"/><circle cx="902.9" cy="168.3" r="2.9"/><circle cx="903.0" cy="170.3" r="2.9"/><circle cx="903.1" cy="167.4" r="2.9"/><circle cx="903.1" cy="165.0" r="2.9"/><circle cx="903.3" cy="168.9" r="2.9"/><circle cx="903.4" cy="170.7" r="2.9"/><circle cx="903.4" cy="165.0" r="2.9"/><circle cx="903.6" cy="171.4" r="2.9"/><circle cx="903.8" cy="169.4" r="2.9"/><circle cx="903.9" cy="171.9" r="2.9"/><circle cx="904.1" cy="167.4" r="2.9"/><circle cx="904.1" cy="172.1" r="2.9"/><circle cx="904.2" cy="170.7" r="2.9"/><circle cx="904.2" cy="171.8" r="2.9"/><circle cx="904.3" cy="170.2" r="2.9"/><circle cx="904.3" cy="172.4" r="2.9"/><circle cx="904.3" cy="169.7" r="2.9"/><circle cx="904.4" cy="169.1" r="2.9"/><circle cx="905.3" cy="168.4" r="2.9"/><circle cx="905.4" cy="167.2" r="2.9"/><circle cx="905.4" cy="171.2" r="2.9"/><circle cx="905.7" cy="170.4" r="2.9"/><circle cx="905.8" cy="171.1" r="2.9"/><circle cx="906.4" cy="171.2" r="2.9"/><circle cx="906.7" cy="172.9" r="2.9"/><circle cx="906.7" cy="172.2" r="2.9"/><circle cx="906.7" cy="170.7" r="2.9"/><circle cx="906.8" cy="174.0" r="2.9"/><circle cx="906.9" cy="177.1" r="2.9"/><circle cx="906.9" cy="170.1" r="2.9"/><circle cx="907.2" cy="171.4" r="2.9"/><circle cx="907.3" cy="173.9" r="2.9"/><circle cx="907.3" cy="170.9" r="2.9"/><circle cx="907.4" cy="175.2" r="2.9"/><circle cx="907.5" cy="171.1" r="2.9"/><circle cx="907.6" cy="169.9" r="2.9"/><circle cx="907.6" cy="170.6" r="2.9"/><circle cx="907.8" cy="175.7" r="2.9"/><circle cx="907.9" cy="168.7" r="2.9"/><circle cx="907.9" cy="173.5" r="2.9"/><circle cx="908.0" cy="168.7" r="2.9"/><circle cx="908.0" cy="175.1" r="2.9"/><circle cx="908.1" cy="174.4" r="2.9"/><circle cx="908.6" cy="175.4" r="2.9"/><circle cx="908.8" cy="178.8" r="2.9"/><circle cx="909.1" cy="174.2" r="2.9"/><circle cx="909.1" cy="177.3" r="2.9"/><circle cx="909.2" cy="175.9" r="2.9"/><circle cx="909.6" cy="177.5" r="2.9"/><circle cx="909.7" cy="173.1" r="2.9"/><circle cx="909.8" cy="177.9" r="2.9"/><circle cx="909.8" cy="174.3" r="2.9"/><circle cx="909.9" cy="179.0" r="2.9"/><circle cx="910.2" cy="177.8" r="2.9"/><circle cx="910.2" cy="175.7" r="2.9"/><circle cx="910.3" cy="177.1" r="2.9"/><circle cx="910.4" cy="177.1" r="2.9"/><circle cx="910.5" cy="176.4" r="2.9"/><circle cx="910.8" cy="180.6" r="2.9"/><circle cx="910.8" cy="174.0" r="2.9"/><circle cx="910.9" cy="172.7" r="2.9"/><circle cx="911.0" cy="173.0" r="2.9"/><circle cx="911.2" cy="175.9" r="2.9"/><circle cx="911.3" cy="176.5" r="2.9"/><circle cx="911.4" cy="178.4" r="2.9"/><circle cx="912.0" cy="179.7" r="2.9"/><circle cx="912.1" cy="177.9" r="2.9"/><circle cx="912.2" cy="177.8" r="2.9"/><circle cx="912.3" cy="175.0" r="2.9"/><circle cx="912.4" cy="180.1" r="2.9"/><circle cx="912.4" cy="181.1" r="2.9"/><circle cx="912.8" cy="177.6" r="2.9"/><circle cx="913.0" cy="180.0" r="2.9"/><circle cx="913.4" cy="176.8" r="2.9"/><circle cx="913.4" cy="178.4" r="2.9"/><circle cx="913.6" cy="178.9" r="2.9"/><circle cx="913.6" cy="180.8" r="2.9"/><circle cx="913.6" cy="174.9" r="2.9"/><circle cx="914.1" cy="179.2" r="2.9"/><circle cx="914.3" cy="181.5" r="2.9"/><circle cx="914.8" cy="180.6" r="2.9"/><circle cx="914.9" cy="181.5" r="2.9"/><circle cx="915.1" cy="174.5" r="2.9"/><circle cx="915.2" cy="177.6" r="2.9"/><circle cx="915.4" cy="178.9" r="2.9"/><circle cx="915.4" cy="178.0" r="2.9"/><circle cx="915.5" cy="174.8" r="2.9"/><circle cx="915.5" cy="182.9" r="2.9"/><circle cx="915.5" cy="180.7" r="2.9"/><circle cx="915.5" cy="175.0" r="2.9"/><circle cx="915.7" cy="178.9" r="2.9"/><circle cx="915.7" cy="180.3" r="2.9"/><circle cx="915.7" cy="182.8" r="2.9"/><circle cx="915.8" cy="182.1" r="2.9"/><circle cx="916.2" cy="177.9" r="2.9"/><circle cx="916.4" cy="179.0" r="2.9"/><circle cx="916.6" cy="181.5" r="2.9"/><circle cx="917.0" cy="183.9" r="2.9"/><circle cx="917.1" cy="180.1" r="2.9"/><circle cx="917.2" cy="179.6" r="2.9"/><circle cx="917.5" cy="183.1" r="2.9"/><circle cx="917.6" cy="182.0" r="2.9"/><circle cx="917.6" cy="185.4" r="2.9"/><circle cx="917.6" cy="183.0" r="2.9"/><circle cx="917.7" cy="184.5" r="2.9"/><circle cx="917.7" cy="176.5" r="2.9"/><circle cx="917.9" cy="178.2" r="2.9"/><circle cx="918.1" cy="177.9" r="2.9"/><circle cx="918.1" cy="180.2" r="2.9"/><circle cx="918.1" cy="183.0" r="2.9"/><circle cx="918.2" cy="181.3" r="2.9"/><circle cx="918.2" cy="183.5" r="2.9"/><circle cx="918.9" cy="180.5" r="2.9"/><circle cx="918.9" cy="185.3" r="2.9"/><circle cx="918.9" cy="185.0" r="2.9"/><circle cx="919.2" cy="178.2" r="2.9"/><circle cx="919.4" cy="180.1" r="2.9"/><circle cx="919.5" cy="181.4" r="2.9"/><circle cx="919.5" cy="185.4" r="2.9"/><circle cx="919.7" cy="185.4" r="2.9"/><circle cx="919.8" cy="188.2" r="2.9"/><circle cx="919.8" cy="179.2" r="2.9"/><circle cx="920.0" cy="184.1" r="2.9"/><circle cx="920.0" cy="183.4" r="2.9"/><circle cx="920.3" cy="182.9" r="2.9"/><circle cx="920.4" cy="183.3" r="2.9"/><circle cx="920.4" cy="178.6" r="2.9"/><circle cx="920.5" cy="184.7" r="2.9"/><circle cx="921.0" cy="183.1" r="2.9"/><circle cx="921.1" cy="180.8" r="2.9"/><circle cx="921.5" cy="188.5" r="2.9"/><circle cx="921.5" cy="182.7" r="2.9"/><circle cx="921.6" cy="185.4" r="2.9"/><circle cx="921.7" cy="182.8" r="2.9"/><circle cx="922.0" cy="180.7" r="2.9"/><circle cx="922.5" cy="184.1" r="2.9"/><circle cx="922.5" cy="186.3" r="2.9"/><circle cx="922.6" cy="182.7" r="2.9"/><circle cx="922.6" cy="186.9" r="2.9"/><circle cx="922.9" cy="190.6" r="2.9"/><circle cx="923.0" cy="189.2" r="2.9"/><circle cx="923.1" cy="185.1" r="2.9"/><circle cx="923.2" cy="183.8" r="2.9"/><circle cx="923.2" cy="188.7" r="2.9"/><circle cx="923.3" cy="182.2" r="2.9"/><circle cx="923.3" cy="183.2" r="2.9"/><circle cx="923.4" cy="191.1" r="2.9"/><circle cx="923.4" cy="187.3" r="2.9"/><circle cx="923.6" cy="187.8" r="2.9"/><circle cx="923.8" cy="185.8" r="2.9"/><circle cx="923.9" cy="191.9" r="2.9"/><circle cx="924.3" cy="192.3" r="2.9"/><circle cx="924.5" cy="186.8" r="2.9"/><circle cx="924.6" cy="189.8" r="2.9"/><circle cx="924.7" cy="186.6" r="2.9"/><circle cx="924.7" cy="188.8" r="2.9"/><circle cx="924.8" cy="191.5" r="2.9"/><circle cx="925.2" cy="191.6" r="2.9"/><circle cx="925.2" cy="187.2" r="2.9"/><circle cx="925.4" cy="189.2" r="2.9"/><circle cx="925.5" cy="193.2" r="2.9"/><circle cx="925.5" cy="191.0" r="2.9"/><circle cx="925.5" cy="192.4" r="2.9"/><circle cx="925.8" cy="190.1" r="2.9"/><circle cx="926.0" cy="188.4" r="2.9"/><circle cx="926.1" cy="185.5" r="2.9"/><circle cx="926.1" cy="185.9" r="2.9"/><circle cx="926.2" cy="183.9" r="2.9"/><circle cx="926.2" cy="185.7" r="2.9"/><circle cx="926.4" cy="186.4" r="2.9"/><circle cx="926.4" cy="191.1" r="2.9"/><circle cx="926.4" cy="184.1" r="2.9"/><circle cx="926.6" cy="190.3" r="2.9"/><circle cx="926.6" cy="183.4" r="2.9"/><circle cx="926.7" cy="194.3" r="2.9"/><circle cx="926.7" cy="187.5" r="2.9"/><circle cx="926.7" cy="189.6" r="2.9"/><circle cx="926.7" cy="194.3" r="2.9"/><circle cx="926.8" cy="188.7" r="2.9"/><circle cx="926.8" cy="189.6" r="2.9"/><circle cx="926.8" cy="189.7" r="2.9"/><circle cx="927.0" cy="191.1" r="2.9"/><circle cx="927.2" cy="188.1" r="2.9"/><circle cx="927.5" cy="194.9" r="2.9"/><circle cx="927.6" cy="193.3" r="2.9"/><circle cx="927.6" cy="190.4" r="2.9"/><circle cx="927.7" cy="193.6" r="2.9"/><circle cx="927.8" cy="189.8" r="2.9"/><circle cx="927.8" cy="188.5" r="2.9"/><circle cx="928.0" cy="189.9" r="2.9"/><circle cx="928.2" cy="191.8" r="2.9"/><circle cx="928.3" cy="185.9" r="2.9"/><circle cx="928.4" cy="189.6" r="2.9"/><circle cx="928.5" cy="192.0" r="2.9"/><circle cx="928.6" cy="187.4" r="2.9"/><circle cx="929.0" cy="192.0" r="2.9"/><circle cx="929.3" cy="188.0" r="2.9"/><circle cx="929.4" cy="192.0" r="2.9"/><circle cx="929.7" cy="191.3" r="2.9"/><circle cx="929.9" cy="192.7" r="2.9"/><circle cx="930.0" cy="189.6" r="2.9"/><circle cx="930.2" cy="186.2" r="2.9"/><circle cx="930.2" cy="186.2" r="2.9"/><circle cx="930.3" cy="197.3" r="2.9"/><circle cx="930.7" cy="187.9" r="2.9"/><circle cx="931.0" cy="189.9" r="2.9"/><circle cx="931.0" cy="187.5" r="2.9"/><circle cx="931.2" cy="196.9" r="2.9"/><circle cx="931.2" cy="194.9" r="2.9"/><circle cx="931.5" cy="195.5" r="2.9"/><circle cx="931.5" cy="189.5" r="2.9"/><circle cx="931.6" cy="196.1" r="2.9"/><circle cx="931.8" cy="190.9" r="2.9"/><circle cx="931.9" cy="197.0" r="2.9"/><circle cx="932.0" cy="193.1" r="2.9"/><circle cx="932.4" cy="187.8" r="2.9"/><circle cx="932.4" cy="193.3" r="2.9"/><circle cx="932.7" cy="191.2" r="2.9"/><circle cx="932.8" cy="199.4" r="2.9"/><circle cx="932.9" cy="189.9" r="2.9"/><circle cx="933.1" cy="193.2" r="2.9"/><circle cx="933.2" cy="193.3" r="2.9"/><circle cx="933.4" cy="191.8" r="2.9"/><circle cx="933.6" cy="192.2" r="2.9"/><circle cx="933.6" cy="194.4" r="2.9"/><circle cx="933.9" cy="195.8" r="2.9"/><circle cx="934.0" cy="193.5" r="2.9"/><circle cx="934.0" cy="194.0" r="2.9"/><circle cx="934.0" cy="194.8" r="2.9"/><circle cx="934.1" cy="191.9" r="2.9"/><circle cx="934.2" cy="194.2" r="2.9"/><circle cx="934.3" cy="195.2" r="2.9"/><circle cx="934.5" cy="198.4" r="2.9"/><circle cx="934.6" cy="197.3" r="2.9"/><circle cx="934.6" cy="196.8" r="2.9"/><circle cx="934.8" cy="198.3" r="2.9"/><circle cx="934.9" cy="193.1" r="2.9"/><circle cx="934.9" cy="199.0" r="2.9"/><circle cx="935.3" cy="194.7" r="2.9"/><circle cx="935.4" cy="195.4" r="2.9"/><circle cx="935.4" cy="194.6" r="2.9"/><circle cx="935.8" cy="198.2" r="2.9"/><circle cx="935.8" cy="194.2" r="2.9"/><circle cx="935.9" cy="198.1" r="2.9"/><circle cx="936.0" cy="195.2" r="2.9"/><circle cx="936.0" cy="194.7" r="2.9"/><circle cx="936.0" cy="197.5" r="2.9"/><circle cx="936.0" cy="193.6" r="2.9"/><circle cx="936.3" cy="200.3" r="2.9"/><circle cx="936.3" cy="194.3" r="2.9"/><circle cx="936.8" cy="195.4" r="2.9"/><circle cx="936.9" cy="200.7" r="2.9"/><circle cx="937.4" cy="192.7" r="2.9"/><circle cx="937.5" cy="200.3" r="2.9"/><circle cx="937.5" cy="197.6" r="2.9"/><circle cx="937.7" cy="197.8" r="2.9"/><circle cx="937.7" cy="198.2" r="2.9"/><circle cx="937.7" cy="194.7" r="2.9"/><circle cx="937.8" cy="202.9" r="2.9"/><circle cx="937.9" cy="199.4" r="2.9"/><circle cx="938.2" cy="200.0" r="2.9"/><circle cx="938.3" cy="200.6" r="2.9"/><circle cx="938.4" cy="201.1" r="2.9"/><circle cx="939.0" cy="199.5" r="2.9"/><circle cx="939.3" cy="195.8" r="2.9"/><circle cx="939.4" cy="194.8" r="2.9"/><circle cx="939.6" cy="194.6" r="2.9"/><circle cx="939.6" cy="197.5" r="2.9"/><circle cx="939.6" cy="202.2" r="2.9"/><circle cx="939.6" cy="194.8" r="2.9"/><circle cx="939.7" cy="197.9" r="2.9"/><circle cx="939.7" cy="200.9" r="2.9"/><circle cx="939.7" cy="198.0" r="2.9"/><circle cx="939.8" cy="198.2" r="2.9"/><circle cx="939.8" cy="195.7" r="2.9"/><circle cx="939.9" cy="199.6" r="2.9"/><circle cx="939.9" cy="197.3" r="2.9"/><circle cx="940.5" cy="197.4" r="2.9"/><circle cx="940.5" cy="198.3" r="2.9"/><circle cx="940.6" cy="200.8" r="2.9"/><circle cx="940.7" cy="202.8" r="2.9"/><circle cx="941.2" cy="196.4" r="2.9"/><circle cx="941.2" cy="201.7" r="2.9"/><circle cx="941.3" cy="196.6" r="2.9"/><circle cx="941.5" cy="194.6" r="2.9"/><circle cx="941.7" cy="198.4" r="2.9"/><circle cx="942.0" cy="200.9" r="2.9"/><circle cx="942.0" cy="200.5" r="2.9"/><circle cx="942.2" cy="202.1" r="2.9"/><circle cx="942.3" cy="195.2" r="2.9"/><circle cx="942.6" cy="205.7" r="2.9"/><circle cx="942.7" cy="203.9" r="2.9"/><circle cx="942.7" cy="203.4" r="2.9"/><circle cx="942.8" cy="196.2" r="2.9"/><circle cx="943.2" cy="203.1" r="2.9"/><circle cx="943.3" cy="200.1" r="2.9"/><circle cx="943.3" cy="200.2" r="2.9"/><circle cx="943.5" cy="201.9" r="2.9"/><circle cx="943.5" cy="196.7" r="2.9"/><circle cx="943.6" cy="205.5" r="2.9"/><circle cx="943.7" cy="205.3" r="2.9"/><circle cx="943.9" cy="204.8" r="2.9"/><circle cx="944.1" cy="207.0" r="2.9"/><circle cx="944.4" cy="197.1" r="2.9"/><circle cx="944.8" cy="201.9" r="2.9"/><circle cx="944.8" cy="201.8" r="2.9"/><circle cx="945.1" cy="199.1" r="2.9"/><circle cx="945.1" cy="205.9" r="2.9"/><circle cx="945.2" cy="209.5" r="2.9"/><circle cx="945.2" cy="199.9" r="2.9"/><circle cx="945.4" cy="205.3" r="2.9"/><circle cx="945.5" cy="203.8" r="2.9"/><circle cx="945.6" cy="204.1" r="2.9"/><circle cx="945.7" cy="204.0" r="2.9"/><circle cx="946.4" cy="206.5" r="2.9"/><circle cx="946.5" cy="202.2" r="2.9"/><circle cx="946.5" cy="202.9" r="2.9"/><circle cx="946.5" cy="209.7" r="2.9"/><circle cx="946.7" cy="204.5" r="2.9"/><circle cx="946.8" cy="204.5" r="2.9"/><circle cx="947.0" cy="198.9" r="2.9"/><circle cx="947.1" cy="206.3" r="2.9"/><circle cx="947.2" cy="206.9" r="2.9"/><circle cx="947.3" cy="205.8" r="2.9"/><circle cx="947.4" cy="210.1" r="2.9"/><circle cx="947.4" cy="198.9" r="2.9"/><circle cx="947.5" cy="208.0" r="2.9"/><circle cx="947.6" cy="199.7" r="2.9"/><circle cx="947.6" cy="201.6" r="2.9"/><circle cx="948.5" cy="199.7" r="2.9"/><circle cx="948.7" cy="208.6" r="2.9"/><circle cx="948.8" cy="205.5" r="2.9"/><circle cx="948.9" cy="204.6" r="2.9"/><circle cx="949.1" cy="206.2" r="2.9"/><circle cx="949.2" cy="200.2" r="2.9"/><circle cx="949.3" cy="204.2" r="2.9"/><circle cx="949.4" cy="207.0" r="2.9"/><circle cx="949.5" cy="204.4" r="2.9"/><circle cx="949.5" cy="206.2" r="2.9"/><circle cx="950.0" cy="201.4" r="2.9"/><circle cx="950.0" cy="207.3" r="2.9"/><circle cx="950.3" cy="205.9" r="2.9"/><circle cx="950.6" cy="207.9" r="2.9"/><circle cx="950.7" cy="212.5" r="2.9"/><circle cx="950.8" cy="207.6" r="2.9"/><circle cx="951.0" cy="205.4" r="2.9"/><circle cx="951.1" cy="208.8" r="2.9"/><circle cx="951.2" cy="203.8" r="2.9"/><circle cx="951.2" cy="213.1" r="2.9"/><circle cx="951.5" cy="207.8" r="2.9"/><circle cx="951.7" cy="208.0" r="2.9"/><circle cx="951.8" cy="209.7" r="2.9"/><circle cx="952.7" cy="204.4" r="2.9"/><circle cx="952.9" cy="208.7" r="2.9"/><circle cx="952.9" cy="208.0" r="2.9"/><circle cx="953.1" cy="215.7" r="2.9"/><circle cx="953.3" cy="213.9" r="2.9"/><circle cx="953.5" cy="215.4" r="2.9"/><circle cx="953.7" cy="209.5" r="2.9"/><circle cx="954.1" cy="210.1" r="2.9"/><circle cx="954.4" cy="213.5" r="2.9"/><circle cx="954.6" cy="207.6" r="2.9"/><circle cx="954.6" cy="206.8" r="2.9"/><circle cx="954.6" cy="215.4" r="2.9"/><circle cx="955.1" cy="212.0" r="2.9"/><circle cx="955.3" cy="212.1" r="2.9"/><circle cx="955.3" cy="204.7" r="2.9"/><circle cx="955.6" cy="209.2" r="2.9"/><circle cx="955.6" cy="209.1" r="2.9"/><circle cx="955.6" cy="208.3" r="2.9"/><circle cx="955.7" cy="211.9" r="2.9"/><circle cx="955.8" cy="207.7" r="2.9"/><circle cx="955.9" cy="206.9" r="2.9"/><circle cx="956.3" cy="218.0" r="2.9"/><circle cx="956.3" cy="212.9" r="2.9"/><circle cx="956.4" cy="207.7" r="2.9"/><circle cx="956.4" cy="218.3" r="2.9"/><circle cx="956.4" cy="213.4" r="2.9"/><circle cx="956.5" cy="212.7" r="2.9"/><circle cx="956.6" cy="205.4" r="2.9"/><circle cx="956.6" cy="216.8" r="2.9"/><circle cx="956.7" cy="212.3" r="2.9"/><circle cx="956.9" cy="216.2" r="2.9"/><circle cx="956.9" cy="217.9" r="2.9"/><circle cx="957.2" cy="207.6" r="2.9"/><circle cx="957.4" cy="218.8" r="2.9"/><circle cx="957.4" cy="215.3" r="2.9"/><circle cx="957.5" cy="212.8" r="2.9"/><circle cx="957.5" cy="206.0" r="2.9"/><circle cx="957.8" cy="219.4" r="2.9"/><circle cx="957.9" cy="213.9" r="2.9"/><circle cx="958.3" cy="215.3" r="2.9"/><circle cx="958.5" cy="209.1" r="2.9"/><circle cx="958.5" cy="215.4" r="2.9"/><circle cx="958.9" cy="215.6" r="2.9"/><circle cx="959.0" cy="219.0" r="2.9"/><circle cx="959.0" cy="210.4" r="2.9"/><circle cx="959.3" cy="207.3" r="2.9"/><circle cx="959.4" cy="211.7" r="2.9"/><circle cx="959.5" cy="210.4" r="2.9"/><circle cx="959.5" cy="214.9" r="2.9"/><circle cx="959.6" cy="213.4" r="2.9"/><circle cx="959.6" cy="214.8" r="2.9"/><circle cx="959.7" cy="218.7" r="2.9"/><circle cx="959.9" cy="220.3" r="2.9"/><circle cx="959.9" cy="214.5" r="2.9"/><circle cx="960.2" cy="208.8" r="2.9"/><circle cx="960.2" cy="214.4" r="2.9"/><circle cx="960.2" cy="213.7" r="2.9"/><circle cx="960.6" cy="214.4" r="2.9"/><circle cx="961.7" cy="214.9" r="2.9"/><circle cx="961.9" cy="215.5" r="2.9"/><circle cx="961.9" cy="209.1" r="2.9"/><circle cx="962.0" cy="217.7" r="2.9"/><circle cx="962.1" cy="217.5" r="2.9"/><circle cx="962.2" cy="217.0" r="2.9"/><circle cx="962.2" cy="215.3" r="2.9"/><circle cx="962.5" cy="219.2" r="2.9"/><circle cx="962.5" cy="209.8" r="2.9"/><circle cx="962.8" cy="215.7" r="2.9"/><circle cx="962.8" cy="218.2" r="2.9"/><circle cx="962.9" cy="214.5" r="2.9"/><circle cx="962.9" cy="215.9" r="2.9"/><circle cx="962.9" cy="219.8" r="2.9"/><circle cx="963.2" cy="215.7" r="2.9"/><circle cx="963.4" cy="213.3" r="2.9"/><circle cx="963.4" cy="214.8" r="2.9"/><circle cx="963.7" cy="218.1" r="2.9"/><circle cx="963.9" cy="213.1" r="2.9"/><circle cx="964.1" cy="217.0" r="2.9"/><circle cx="964.2" cy="215.5" r="2.9"/><circle cx="964.2" cy="217.3" r="2.9"/><circle cx="964.3" cy="219.9" r="2.9"/><circle cx="964.3" cy="219.8" r="2.9"/><circle cx="964.7" cy="217.7" r="2.9"/><circle cx="964.7" cy="218.2" r="2.9"/><circle cx="964.9" cy="220.5" r="2.9"/><circle cx="965.4" cy="215.0" r="2.9"/><circle cx="965.4" cy="218.5" r="2.9"/><circle cx="965.7" cy="213.9" r="2.9"/><circle cx="965.7" cy="222.7" r="2.9"/><circle cx="965.9" cy="218.7" r="2.9"/><circle cx="966.3" cy="213.9" r="2.9"/><circle cx="966.5" cy="217.0" r="2.9"/><circle cx="966.7" cy="221.7" r="2.9"/><circle cx="966.8" cy="220.0" r="2.9"/><circle cx="967.0" cy="213.0" r="2.9"/><circle cx="967.0" cy="225.7" r="2.9"/><circle cx="967.4" cy="220.3" r="2.9"/><circle cx="967.4" cy="220.9" r="2.9"/><circle cx="967.6" cy="218.5" r="2.9"/><circle cx="967.9" cy="216.8" r="2.9"/><circle cx="968.1" cy="214.3" r="2.9"/><circle cx="968.3" cy="220.7" r="2.9"/><circle cx="968.3" cy="220.1" r="2.9"/><circle cx="968.4" cy="219.2" r="2.9"/><circle cx="968.4" cy="223.0" r="2.9"/><circle cx="968.8" cy="221.7" r="2.9"/><circle cx="968.9" cy="216.7" r="2.9"/><circle cx="969.2" cy="219.2" r="2.9"/><circle cx="969.2" cy="225.0" r="2.9"/><circle cx="969.2" cy="215.6" r="2.9"/><circle cx="969.3" cy="228.4" r="2.9"/><circle cx="969.6" cy="219.0" r="2.9"/><circle cx="969.7" cy="228.7" r="2.9"/><circle cx="969.9" cy="223.0" r="2.9"/><circle cx="970.1" cy="215.4" r="2.9"/><circle cx="970.3" cy="223.4" r="2.9"/><circle cx="970.3" cy="222.0" r="2.9"/><circle cx="970.4" cy="220.1" r="2.9"/><circle cx="971.1" cy="222.4" r="2.9"/><circle cx="971.2" cy="222.5" r="2.9"/><circle cx="971.2" cy="215.2" r="2.9"/><circle cx="971.4" cy="225.2" r="2.9"/><circle cx="971.4" cy="221.4" r="2.9"/><circle cx="971.4" cy="222.6" r="2.9"/><circle cx="971.5" cy="225.2" r="2.9"/><circle cx="971.6" cy="222.6" r="2.9"/><circle cx="971.7" cy="218.0" r="2.9"/><circle cx="971.7" cy="225.8" r="2.9"/><circle cx="971.9" cy="221.6" r="2.9"/><circle cx="971.9" cy="223.7" r="2.9"/><circle cx="972.1" cy="220.2" r="2.9"/><circle cx="972.1" cy="222.4" r="2.9"/><circle cx="972.3" cy="219.3" r="2.9"/><circle cx="972.3" cy="229.2" r="2.9"/><circle cx="972.4" cy="219.1" r="2.9"/><circle cx="972.6" cy="227.0" r="2.9"/><circle cx="972.8" cy="216.3" r="2.9"/><circle cx="972.9" cy="224.5" r="2.9"/><circle cx="973.0" cy="222.5" r="2.9"/><circle cx="973.2" cy="227.6" r="2.9"/><circle cx="973.4" cy="224.8" r="2.9"/><circle cx="973.4" cy="231.5" r="2.9"/><circle cx="973.6" cy="231.6" r="2.9"/><circle cx="973.7" cy="222.0" r="2.9"/><circle cx="973.8" cy="226.9" r="2.9"/><circle cx="973.9" cy="220.6" r="2.9"/><circle cx="974.0" cy="220.6" r="2.9"/><circle cx="974.0" cy="224.1" r="2.9"/><circle cx="974.1" cy="227.9" r="2.9"/><circle cx="974.2" cy="227.1" r="2.9"/><circle cx="974.4" cy="223.9" r="2.9"/><circle cx="974.4" cy="229.1" r="2.9"/><circle cx="974.7" cy="220.3" r="2.9"/><circle cx="974.7" cy="221.4" r="2.9"/><circle cx="975.4" cy="225.1" r="2.9"/><circle cx="975.5" cy="218.3" r="2.9"/><circle cx="975.5" cy="230.8" r="2.9"/><circle cx="975.6" cy="225.0" r="2.9"/><circle cx="975.7" cy="224.3" r="2.9"/><circle cx="975.9" cy="227.5" r="2.9"/><circle cx="976.1" cy="220.6" r="2.9"/><circle cx="976.6" cy="225.8" r="2.9"/><circle cx="976.6" cy="219.5" r="2.9"/><circle cx="976.7" cy="225.7" r="2.9"/><circle cx="977.2" cy="227.2" r="2.9"/><circle cx="977.2" cy="233.1" r="2.9"/><circle cx="977.3" cy="226.8" r="2.9"/><circle cx="977.4" cy="232.3" r="2.9"/><circle cx="977.5" cy="226.9" r="2.9"/><circle cx="977.8" cy="220.6" r="2.9"/><circle cx="978.2" cy="230.5" r="2.9"/><circle cx="978.3" cy="227.8" r="2.9"/><circle cx="978.3" cy="225.2" r="2.9"/><circle cx="978.5" cy="231.4" r="2.9"/><circle cx="978.9" cy="223.6" r="2.9"/><circle cx="979.2" cy="226.6" r="2.9"/><circle cx="979.4" cy="231.1" r="2.9"/><circle cx="979.4" cy="231.7" r="2.9"/><circle cx="979.5" cy="225.7" r="2.9"/><circle cx="979.6" cy="229.6" r="2.9"/><circle cx="979.9" cy="228.9" r="2.9"/><circle cx="979.9" cy="231.2" r="2.9"/><circle cx="980.0" cy="227.8" r="2.9"/><circle cx="980.5" cy="221.3" r="2.9"/><circle cx="980.5" cy="227.5" r="2.9"/><circle cx="980.7" cy="235.3" r="2.9"/><circle cx="980.8" cy="225.8" r="2.9"/><circle cx="980.9" cy="228.4" r="2.9"/><circle cx="980.9" cy="232.7" r="2.9"/><circle cx="981.1" cy="228.5" r="2.9"/><circle cx="981.2" cy="225.1" r="2.9"/><circle cx="981.3" cy="229.5" r="2.9"/><circle cx="981.5" cy="228.9" r="2.9"/><circle cx="981.6" cy="226.2" r="2.9"/><circle cx="981.6" cy="229.2" r="2.9"/><circle cx="981.7" cy="224.1" r="2.9"/><circle cx="981.8" cy="223.5" r="2.9"/><circle cx="982.1" cy="225.5" r="2.9"/><circle cx="982.1" cy="229.4" r="2.9"/><circle cx="982.3" cy="230.2" r="2.9"/><circle cx="982.3" cy="227.7" r="2.9"/><circle cx="982.5" cy="234.9" r="2.9"/><circle cx="982.8" cy="233.1" r="2.9"/><circle cx="983.0" cy="231.0" r="2.9"/><circle cx="983.1" cy="235.5" r="2.9"/><circle cx="983.2" cy="237.1" r="2.9"/><circle cx="983.4" cy="234.0" r="2.9"/><circle cx="983.7" cy="228.9" r="2.9"/><circle cx="984.0" cy="235.0" r="2.9"/><circle cx="984.2" cy="236.6" r="2.9"/><circle cx="984.4" cy="233.5" r="2.9"/><circle cx="984.4" cy="231.3" r="2.9"/><circle cx="984.6" cy="233.1" r="2.9"/><circle cx="984.9" cy="233.5" r="2.9"/><circle cx="985.1" cy="224.5" r="2.9"/><circle cx="985.4" cy="239.1" r="2.9"/><circle cx="985.5" cy="232.7" r="2.9"/><circle cx="985.6" cy="240.6" r="2.9"/><circle cx="985.7" cy="233.0" r="2.9"/><circle cx="985.7" cy="229.3" r="2.9"/><circle cx="985.8" cy="236.2" r="2.9"/><circle cx="986.0" cy="233.2" r="2.9"/><circle cx="986.1" cy="236.7" r="2.9"/><circle cx="986.2" cy="231.2" r="2.9"/><circle cx="986.6" cy="231.4" r="2.9"/><circle cx="986.7" cy="230.5" r="2.9"/><circle cx="986.8" cy="230.5" r="2.9"/><circle cx="986.8" cy="235.2" r="2.9"/><circle cx="986.9" cy="228.1" r="2.9"/><circle cx="987.0" cy="234.3" r="2.9"/><circle cx="987.2" cy="238.3" r="2.9"/><circle cx="987.3" cy="229.7" r="2.9"/><circle cx="987.4" cy="232.8" r="2.9"/><circle cx="987.4" cy="230.5" r="2.9"/><circle cx="987.5" cy="232.2" r="2.9"/><circle cx="987.5" cy="234.4" r="2.9"/><circle cx="987.8" cy="237.0" r="2.9"/><circle cx="987.9" cy="237.9" r="2.9"/><circle cx="988.0" cy="231.3" r="2.9"/><circle cx="988.2" cy="237.2" r="2.9"/><circle cx="988.3" cy="231.7" r="2.9"/><circle cx="988.5" cy="229.5" r="2.9"/><circle cx="988.8" cy="230.5" r="2.9"/><circle cx="988.8" cy="226.5" r="2.9"/><circle cx="989.0" cy="234.9" r="2.9"/><circle cx="989.0" cy="226.8" r="2.9"/><circle cx="989.0" cy="235.6" r="2.9"/><circle cx="989.3" cy="243.2" r="2.9"/><circle cx="989.4" cy="231.0" r="2.9"/><circle cx="989.5" cy="226.9" r="2.9"/><circle cx="989.6" cy="236.7" r="2.9"/><circle cx="990.0" cy="230.9" r="2.9"/><circle cx="990.2" cy="235.3" r="2.9"/><circle cx="990.2" cy="235.5" r="2.9"/><circle cx="990.3" cy="236.6" r="2.9"/><circle cx="990.9" cy="244.4" r="2.9"/><circle cx="990.9" cy="237.4" r="2.9"/><circle cx="991.1" cy="237.3" r="2.9"/><circle cx="991.6" cy="236.1" r="2.9"/><circle cx="991.6" cy="233.4" r="2.9"/><circle cx="991.6" cy="233.8" r="2.9"/><circle cx="991.7" cy="232.0" r="2.9"/><circle cx="991.9" cy="240.6" r="2.9"/><circle cx="991.9" cy="236.1" r="2.9"/><circle cx="991.9" cy="239.7" r="2.9"/><circle cx="992.1" cy="238.4" r="2.9"/><circle cx="992.2" cy="245.3" r="2.9"/><circle cx="992.3" cy="236.7" r="2.9"/><circle cx="992.4" cy="239.9" r="2.9"/><circle cx="992.5" cy="234.6" r="2.9"/><circle cx="992.5" cy="242.4" r="2.9"/><circle cx="992.5" cy="236.5" r="2.9"/><circle cx="992.5" cy="237.5" r="2.9"/><circle cx="992.8" cy="231.6" r="2.9"/><circle cx="993.2" cy="240.3" r="2.9"/><circle cx="993.6" cy="245.5" r="2.9"/><circle cx="993.9" cy="244.4" r="2.9"/><circle cx="994.3" cy="233.8" r="2.9"/><circle cx="994.4" cy="242.7" r="2.9"/><circle cx="994.5" cy="235.6" r="2.9"/><circle cx="994.5" cy="231.5" r="2.9"/><circle cx="994.6" cy="233.3" r="2.9"/><circle cx="994.6" cy="244.5" r="2.9"/><circle cx="994.7" cy="237.5" r="2.9"/><circle cx="994.7" cy="233.5" r="2.9"/><circle cx="995.0" cy="240.7" r="2.9"/><circle cx="995.2" cy="240.7" r="2.9"/><circle cx="995.7" cy="238.2" r="2.9"/><circle cx="995.7" cy="241.8" r="2.9"/><circle cx="995.8" cy="238.0" r="2.9"/><circle cx="995.8" cy="245.2" r="2.9"/><circle cx="996.0" cy="243.2" r="2.9"/><circle cx="996.2" cy="239.7" r="2.9"/><circle cx="996.3" cy="241.6" r="2.9"/><circle cx="996.4" cy="244.1" r="2.9"/><circle cx="997.0" cy="240.0" r="2.9"/><circle cx="997.5" cy="243.1" r="2.9"/><circle cx="997.5" cy="240.2" r="2.9"/><circle cx="997.5" cy="239.3" r="2.9"/><circle cx="997.7" cy="232.6" r="2.9"/><circle cx="998.0" cy="235.6" r="2.9"/><circle cx="998.1" cy="236.6" r="2.9"/><circle cx="998.4" cy="241.5" r="2.9"/><circle cx="999.0" cy="251.9" r="2.9"/><circle cx="999.1" cy="237.5" r="2.9"/><circle cx="999.2" cy="239.7" r="2.9"/><circle cx="999.3" cy="236.1" r="2.9"/><circle cx="999.3" cy="240.0" r="2.9"/><circle cx="999.6" cy="240.8" r="2.9"/><circle cx="999.6" cy="245.5" r="2.9"/><circle cx="999.7" cy="235.8" r="2.9"/><circle cx="999.7" cy="244.5" r="2.9"/><circle cx="999.7" cy="243.2" r="2.9"/><circle cx="999.9" cy="240.7" r="2.9"/><circle cx="1000.2" cy="236.7" r="2.9"/><circle cx="1000.2" cy="237.6" r="2.9"/><circle cx="1000.2" cy="241.3" r="2.9"/><circle cx="1000.3" cy="245.2" r="2.9"/><circle cx="1000.3" cy="241.8" r="2.9"/><circle cx="1000.3" cy="238.9" r="2.9"/><circle cx="1000.3" cy="243.7" r="2.9"/><circle cx="1000.3" cy="237.7" r="2.9"/><circle cx="1000.5" cy="246.6" r="2.9"/><circle cx="1000.6" cy="253.2" r="2.9"/><circle cx="1000.6" cy="239.9" r="2.9"/><circle cx="1001.0" cy="248.3" r="2.9"/><circle cx="1001.1" cy="238.5" r="2.9"/><circle cx="1001.2" cy="243.4" r="2.9"/><circle cx="1001.4" cy="245.9" r="2.9"/><circle cx="1001.6" cy="249.6" r="2.9"/><circle cx="1001.7" cy="243.4" r="2.9"/><circle cx="1001.8" cy="250.6" r="2.9"/><circle cx="1002.0" cy="237.8" r="2.9"/><circle cx="1002.1" cy="242.6" r="2.9"/><circle cx="1002.3" cy="243.6" r="2.9"/><circle cx="1002.4" cy="244.2" r="2.9"/><circle cx="1002.5" cy="243.2" r="2.9"/><circle cx="1002.7" cy="253.9" r="2.9"/><circle cx="1002.8" cy="242.3" r="2.9"/><circle cx="1003.0" cy="249.6" r="2.9"/><circle cx="1003.1" cy="246.5" r="2.9"/><circle cx="1003.3" cy="255.3" r="2.9"/><circle cx="1003.4" cy="243.4" r="2.9"/><circle cx="1003.5" cy="248.4" r="2.9"/><circle cx="1003.6" cy="247.7" r="2.9"/><circle cx="1003.6" cy="235.3" r="2.9"/><circle cx="1003.7" cy="246.9" r="2.9"/><circle cx="1004.1" cy="250.6" r="2.9"/><circle cx="1004.2" cy="253.3" r="2.9"/><circle cx="1004.2" cy="240.2" r="2.9"/><circle cx="1004.3" cy="244.2" r="2.9"/><circle cx="1004.4" cy="251.9" r="2.9"/><circle cx="1004.5" cy="240.2" r="2.9"/><circle cx="1004.6" cy="241.7" r="2.9"/><circle cx="1004.7" cy="248.7" r="2.9"/><circle cx="1004.7" cy="249.3" r="2.9"/><circle cx="1004.8" cy="252.8" r="2.9"/><circle cx="1005.0" cy="251.8" r="2.9"/><circle cx="1005.1" cy="246.9" r="2.9"/><circle cx="1005.2" cy="241.0" r="2.9"/><circle cx="1005.2" cy="242.9" r="2.9"/><circle cx="1005.4" cy="246.0" r="2.9"/><circle cx="1005.6" cy="248.2" r="2.9"/><circle cx="1005.7" cy="246.5" r="2.9"/><circle cx="1005.7" cy="250.6" r="2.9"/><circle cx="1005.7" cy="242.7" r="2.9"/><circle cx="1005.8" cy="244.3" r="2.9"/><circle cx="1005.9" cy="240.4" r="2.9"/><circle cx="1006.2" cy="257.5" r="2.9"/><circle cx="1006.4" cy="245.9" r="2.9"/><circle cx="1006.6" cy="252.2" r="2.9"/><circle cx="1007.1" cy="254.2" r="2.9"/><circle cx="1007.1" cy="249.2" r="2.9"/><circle cx="1007.2" cy="246.3" r="2.9"/><circle cx="1007.4" cy="245.1" r="2.9"/><circle cx="1007.5" cy="246.2" r="2.9"/><circle cx="1007.9" cy="239.7" r="2.9"/><circle cx="1007.9" cy="245.2" r="2.9"/><circle cx="1007.9" cy="252.0" r="2.9"/><circle cx="1008.0" cy="249.4" r="2.9"/><circle cx="1008.1" cy="252.5" r="2.9"/><circle cx="1008.1" cy="252.4" r="2.9"/><circle cx="1008.3" cy="251.9" r="2.9"/><circle cx="1008.6" cy="248.8" r="2.9"/><circle cx="1009.0" cy="249.5" r="2.9"/><circle cx="1009.0" cy="253.6" r="2.9"/><circle cx="1009.1" cy="246.7" r="2.9"/><circle cx="1009.1" cy="242.2" r="2.9"/><circle cx="1009.2" cy="253.2" r="2.9"/><circle cx="1009.2" cy="248.7" r="2.9"/><circle cx="1009.3" cy="254.6" r="2.9"/><circle cx="1009.3" cy="245.5" r="2.9"/><circle cx="1009.6" cy="241.1" r="2.9"/><circle cx="1009.8" cy="248.0" r="2.9"/><circle cx="1009.9" cy="245.9" r="2.9"/><circle cx="1010.1" cy="244.5" r="2.9"/><circle cx="1010.1" cy="257.7" r="2.9"/><circle cx="1010.1" cy="250.7" r="2.9"/><circle cx="1010.3" cy="243.6" r="2.9"/><circle cx="1010.3" cy="241.7" r="2.9"/><circle cx="1010.3" cy="248.6" r="2.9"/><circle cx="1010.4" cy="252.5" r="2.9"/><circle cx="1010.7" cy="251.0" r="2.9"/><circle cx="1010.9" cy="256.1" r="2.9"/><circle cx="1010.9" cy="251.4" r="2.9"/><circle cx="1011.0" cy="252.3" r="2.9"/><circle cx="1011.0" cy="240.7" r="2.9"/><circle cx="1011.4" cy="257.1" r="2.9"/><circle cx="1011.5" cy="247.3" r="2.9"/><circle cx="1011.7" cy="255.4" r="2.9"/><circle cx="1011.8" cy="242.8" r="2.9"/><circle cx="1011.9" cy="245.9" r="2.9"/><circle cx="1011.9" cy="256.9" r="2.9"/><circle cx="1011.9" cy="244.4" r="2.9"/><circle cx="1012.3" cy="251.4" r="2.9"/><circle cx="1012.5" cy="248.7" r="2.9"/><circle cx="1012.6" cy="260.5" r="2.9"/><circle cx="1012.8" cy="253.0" r="2.9"/><circle cx="1012.9" cy="258.2" r="2.9"/><circle cx="1013.0" cy="250.8" r="2.9"/><circle cx="1013.1" cy="242.9" r="2.9"/><circle cx="1013.3" cy="262.7" r="2.9"/><circle cx="1013.4" cy="248.4" r="2.9"/><circle cx="1013.5" cy="251.6" r="2.9"/><circle cx="1013.5" cy="251.1" r="2.9"/><circle cx="1013.7" cy="243.9" r="2.9"/><circle cx="1013.8" cy="255.5" r="2.9"/><circle cx="1013.8" cy="249.6" r="2.9"/><circle cx="1014.0" cy="243.2" r="2.9"/><circle cx="1014.4" cy="244.7" r="2.9"/><circle cx="1014.4" cy="240.9" r="2.9"/><circle cx="1014.7" cy="248.1" r="2.9"/><circle cx="1015.0" cy="251.1" r="2.9"/><circle cx="1015.1" cy="247.5" r="2.9"/><circle cx="1015.2" cy="251.9" r="2.9"/><circle cx="1015.6" cy="250.6" r="2.9"/><circle cx="1015.8" cy="255.3" r="2.9"/><circle cx="1015.8" cy="252.4" r="2.9"/><circle cx="1015.8" cy="251.6" r="2.9"/><circle cx="1015.8" cy="248.5" r="2.9"/><circle cx="1015.9" cy="246.7" r="2.9"/><circle cx="1016.4" cy="248.3" r="2.9"/><circle cx="1016.6" cy="255.0" r="2.9"/><circle cx="1016.9" cy="250.7" r="2.9"/><circle cx="1017.1" cy="261.6" r="2.9"/><circle cx="1017.2" cy="257.9" r="2.9"/><circle cx="1017.3" cy="246.7" r="2.9"/><circle cx="1017.4" cy="255.9" r="2.9"/><circle cx="1017.7" cy="260.7" r="2.9"/><circle cx="1017.8" cy="250.4" r="2.9"/><circle cx="1017.8" cy="260.7" r="2.9"/><circle cx="1018.0" cy="250.1" r="2.9"/><circle cx="1018.2" cy="263.0" r="2.9"/><circle cx="1018.2" cy="257.0" r="2.9"/><circle cx="1018.2" cy="252.7" r="2.9"/><circle cx="1018.3" cy="245.8" r="2.9"/><circle cx="1018.6" cy="253.4" r="2.9"/><circle cx="1019.0" cy="250.6" r="2.9"/><circle cx="1019.4" cy="256.7" r="2.9"/><circle cx="1019.5" cy="250.2" r="2.9"/><circle cx="1019.5" cy="257.4" r="2.9"/><circle cx="1019.8" cy="252.4" r="2.9"/><circle cx="1019.8" cy="258.2" r="2.9"/><circle cx="1019.8" cy="259.6" r="2.9"/><circle cx="1020.0" cy="255.9" r="2.9"/><circle cx="1020.1" cy="257.9" r="2.9"/><circle cx="1020.3" cy="261.6" r="2.9"/><circle cx="1020.4" cy="250.5" r="2.9"/><circle cx="1020.5" cy="258.8" r="2.9"/><circle cx="1020.6" cy="256.7" r="2.9"/><circle cx="1020.8" cy="264.9" r="2.9"/><circle cx="1021.0" cy="254.6" r="2.9"/><circle cx="1021.1" cy="261.4" r="2.9"/><circle cx="1021.2" cy="247.3" r="2.9"/><circle cx="1021.4" cy="263.2" r="2.9"/><circle cx="1021.5" cy="258.4" r="2.9"/><circle cx="1021.7" cy="258.2" r="2.9"/><circle cx="1021.8" cy="261.3" r="2.9"/><circle cx="1021.9" cy="249.9" r="2.9"/><circle cx="1022.1" cy="255.1" r="2.9"/><circle cx="1022.2" cy="256.7" r="2.9"/><circle cx="1022.3" cy="254.8" r="2.9"/><circle cx="1022.4" cy="253.8" r="2.9"/><circle cx="1023.0" cy="262.5" r="2.9"/><circle cx="1023.6" cy="257.3" r="2.9"/><circle cx="1023.8" cy="256.0" r="2.9"/><circle cx="1023.8" cy="257.5" r="2.9"/><circle cx="1023.9" cy="265.1" r="2.9"/><circle cx="1023.9" cy="268.4" r="2.9"/><circle cx="1024.0" cy="263.9" r="2.9"/><circle cx="1024.2" cy="260.5" r="2.9"/><circle cx="1024.2" cy="250.8" r="2.9"/><circle cx="1024.7" cy="254.9" r="2.9"/><circle cx="1024.8" cy="253.1" r="2.9"/><circle cx="1024.8" cy="253.1" r="2.9"/><circle cx="1024.9" cy="265.0" r="2.9"/><circle cx="1024.9" cy="254.8" r="2.9"/><circle cx="1024.9" cy="266.2" r="2.9"/><circle cx="1025.0" cy="258.6" r="2.9"/><circle cx="1025.2" cy="257.3" r="2.9"/><circle cx="1025.2" cy="257.0" r="2.9"/><circle cx="1025.2" cy="251.0" r="2.9"/><circle cx="1025.3" cy="256.0" r="2.9"/><circle cx="1025.4" cy="263.3" r="2.9"/><circle cx="1025.7" cy="262.5" r="2.9"/><circle cx="1025.7" cy="259.3" r="2.9"/><circle cx="1025.7" cy="262.5" r="2.9"/><circle cx="1025.8" cy="259.3" r="2.9"/><circle cx="1025.8" cy="260.8" r="2.9"/><circle cx="1025.8" cy="272.5" r="2.9"/><circle cx="1026.3" cy="259.6" r="2.9"/><circle cx="1026.7" cy="250.3" r="2.9"/><circle cx="1026.9" cy="248.5" r="2.9"/><circle cx="1027.0" cy="255.5" r="2.9"/><circle cx="1027.0" cy="260.5" r="2.9"/><circle cx="1027.3" cy="265.3" r="2.9"/><circle cx="1027.4" cy="259.3" r="2.9"/><circle cx="1027.6" cy="260.3" r="2.9"/><circle cx="1028.0" cy="263.4" r="2.9"/><circle cx="1028.1" cy="254.9" r="2.9"/><circle cx="1028.2" cy="259.6" r="2.9"/><circle cx="1028.5" cy="262.1" r="2.9"/><circle cx="1028.6" cy="258.1" r="2.9"/><circle cx="1029.3" cy="256.3" r="2.9"/><circle cx="1029.5" cy="263.9" r="2.9"/><circle cx="1029.9" cy="267.6" r="2.9"/><circle cx="1029.9" cy="261.4" r="2.9"/><circle cx="1029.9" cy="249.0" r="2.9"/><circle cx="1030.1" cy="257.0" r="2.9"/><circle cx="1030.2" cy="258.9" r="2.9"/><circle cx="1030.3" cy="263.8" r="2.9"/><circle cx="1030.5" cy="258.7" r="2.9"/><circle cx="1030.5" cy="258.9" r="2.9"/><circle cx="1030.5" cy="267.2" r="2.9"/><circle cx="1030.7" cy="269.0" r="2.9"/><circle cx="1030.7" cy="261.7" r="2.9"/><circle cx="1030.8" cy="255.7" r="2.9"/><circle cx="1030.8" cy="255.0" r="2.9"/><circle cx="1031.0" cy="265.3" r="2.9"/><circle cx="1031.4" cy="257.6" r="2.9"/><circle cx="1031.5" cy="261.5" r="2.9"/><circle cx="1031.6" cy="260.7" r="2.9"/><circle cx="1031.9" cy="262.8" r="2.9"/><circle cx="1031.9" cy="263.9" r="2.9"/><circle cx="1032.0" cy="256.6" r="2.9"/><circle cx="1032.0" cy="258.6" r="2.9"/><circle cx="1032.2" cy="263.1" r="2.9"/><circle cx="1032.3" cy="262.1" r="2.9"/><circle cx="1032.3" cy="255.1" r="2.9"/><circle cx="1032.3" cy="273.8" r="2.9"/><circle cx="1032.6" cy="255.0" r="2.9"/><circle cx="1032.8" cy="268.7" r="2.9"/><circle cx="1033.2" cy="254.2" r="2.9"/><circle cx="1033.3" cy="268.5" r="2.9"/><circle cx="1033.3" cy="253.5" r="2.9"/><circle cx="1033.7" cy="268.4" r="2.9"/><circle cx="1034.0" cy="264.0" r="2.9"/><circle cx="1034.4" cy="268.1" r="2.9"/><circle cx="1035.2" cy="259.8" r="2.9"/><circle cx="1035.3" cy="265.3" r="2.9"/><circle cx="1035.4" cy="265.2" r="2.9"/><circle cx="1035.5" cy="264.8" r="2.9"/><circle cx="1035.5" cy="260.9" r="2.9"/><circle cx="1035.7" cy="272.4" r="2.9"/><circle cx="1035.8" cy="254.6" r="2.9"/><circle cx="1035.8" cy="256.0" r="2.9"/><circle cx="1036.0" cy="256.5" r="2.9"/><circle cx="1036.0" cy="273.0" r="2.9"/><circle cx="1036.3" cy="259.6" r="2.9"/><circle cx="1036.4" cy="260.5" r="2.9"/><circle cx="1036.4" cy="260.5" r="2.9"/><circle cx="1036.5" cy="262.7" r="2.9"/><circle cx="1036.5" cy="263.0" r="2.9"/><circle cx="1036.6" cy="261.9" r="2.9"/><circle cx="1036.7" cy="256.5" r="2.9"/><circle cx="1036.9" cy="267.1" r="2.9"/><circle cx="1037.0" cy="264.6" r="2.9"/><circle cx="1037.2" cy="274.3" r="2.9"/><circle cx="1037.8" cy="267.7" r="2.9"/><circle cx="1037.8" cy="264.7" r="2.9"/><circle cx="1037.8" cy="257.6" r="2.9"/><circle cx="1037.9" cy="265.7" r="2.9"/><circle cx="1038.0" cy="269.0" r="2.9"/><circle cx="1038.1" cy="275.8" r="2.9"/><circle cx="1038.6" cy="268.1" r="2.9"/><circle cx="1038.7" cy="270.7" r="2.9"/><circle cx="1038.8" cy="269.5" r="2.9"/><circle cx="1038.8" cy="276.1" r="2.9"/><circle cx="1038.9" cy="273.0" r="2.9"/><circle cx="1039.0" cy="266.2" r="2.9"/><circle cx="1039.3" cy="258.4" r="2.9"/><circle cx="1039.4" cy="276.4" r="2.9"/><circle cx="1039.5" cy="266.7" r="2.9"/><circle cx="1039.6" cy="262.0" r="2.9"/><circle cx="1039.7" cy="258.7" r="2.9"/><circle cx="1039.7" cy="256.9" r="2.9"/><circle cx="1040.1" cy="268.1" r="2.9"/><circle cx="1040.3" cy="265.7" r="2.9"/><circle cx="1040.8" cy="268.8" r="2.9"/><circle cx="1040.8" cy="274.7" r="2.9"/><circle cx="1040.9" cy="263.7" r="2.9"/><circle cx="1040.9" cy="268.8" r="2.9"/><circle cx="1041.0" cy="264.2" r="2.9"/><circle cx="1041.4" cy="262.6" r="2.9"/><circle cx="1041.6" cy="255.4" r="2.9"/><circle cx="1041.6" cy="263.2" r="2.9"/><circle cx="1041.7" cy="274.4" r="2.9"/><circle cx="1041.8" cy="264.7" r="2.9"/><circle cx="1041.8" cy="269.4" r="2.9"/><circle cx="1041.9" cy="268.3" r="2.9"/><circle cx="1042.0" cy="280.6" r="2.9"/><circle cx="1042.1" cy="277.0" r="2.9"/><circle cx="1042.2" cy="264.2" r="2.9"/><circle cx="1042.3" cy="265.5" r="2.9"/><circle cx="1042.4" cy="275.2" r="2.9"/><circle cx="1042.7" cy="269.6" r="2.9"/><circle cx="1042.9" cy="268.8" r="2.9"/><circle cx="1042.9" cy="275.8" r="2.9"/><circle cx="1043.3" cy="272.1" r="2.9"/><circle cx="1043.4" cy="269.5" r="2.9"/><circle cx="1043.5" cy="285.4" r="2.9"/><circle cx="1043.7" cy="271.4" r="2.9"/><circle cx="1043.8" cy="261.6" r="2.9"/><circle cx="1044.0" cy="271.1" r="2.9"/><circle cx="1044.2" cy="270.8" r="2.9"/><circle cx="1044.4" cy="280.2" r="2.9"/><circle cx="1044.5" cy="271.4" r="2.9"/><circle cx="1044.7" cy="265.9" r="2.9"/><circle cx="1045.0" cy="271.9" r="2.9"/><circle cx="1045.2" cy="263.0" r="2.9"/><circle cx="1045.2" cy="267.6" r="2.9"/><circle cx="1045.6" cy="272.1" r="2.9"/><circle cx="1045.7" cy="265.2" r="2.9"/><circle cx="1045.7" cy="258.9" r="2.9"/><circle cx="1046.0" cy="264.3" r="2.9"/><circle cx="1046.3" cy="265.7" r="2.9"/><circle cx="1047.1" cy="274.3" r="2.9"/><circle cx="1047.4" cy="268.1" r="2.9"/><circle cx="1047.5" cy="270.3" r="2.9"/><circle cx="1047.5" cy="265.6" r="2.9"/><circle cx="1047.7" cy="271.2" r="2.9"/><circle cx="1047.7" cy="267.3" r="2.9"/><circle cx="1047.7" cy="274.4" r="2.9"/><circle cx="1048.2" cy="272.5" r="2.9"/><circle cx="1048.3" cy="280.5" r="2.9"/><circle cx="1048.5" cy="274.9" r="2.9"/><circle cx="1048.7" cy="269.4" r="2.9"/><circle cx="1048.7" cy="266.4" r="2.9"/><circle cx="1048.7" cy="272.5" r="2.9"/><circle cx="1049.0" cy="276.1" r="2.9"/><circle cx="1049.0" cy="281.5" r="2.9"/><circle cx="1049.2" cy="268.4" r="2.9"/><circle cx="1050.0" cy="264.6" r="2.9"/><circle cx="1050.2" cy="261.9" r="2.9"/><circle cx="1050.7" cy="266.7" r="2.9"/><circle cx="1051.1" cy="271.3" r="2.9"/><circle cx="1051.3" cy="270.9" r="2.9"/><circle cx="1051.5" cy="270.8" r="2.9"/><circle cx="1051.7" cy="272.4" r="2.9"/><circle cx="1051.8" cy="274.8" r="2.9"/><circle cx="1052.0" cy="263.5" r="2.9"/><circle cx="1052.1" cy="273.0" r="2.9"/><circle cx="1052.2" cy="271.9" r="2.9"/><circle cx="1052.4" cy="271.9" r="2.9"/><circle cx="1052.5" cy="270.5" r="2.9"/><circle cx="1052.7" cy="262.7" r="2.9"/><circle cx="1052.7" cy="276.0" r="2.9"/><circle cx="1052.8" cy="270.4" r="2.9"/><circle cx="1052.9" cy="272.4" r="2.9"/><circle cx="1053.0" cy="275.1" r="2.9"/><circle cx="1053.0" cy="273.4" r="2.9"/><circle cx="1053.2" cy="275.9" r="2.9"/><circle cx="1053.4" cy="276.1" r="2.9"/><circle cx="1053.6" cy="268.4" r="2.9"/><circle cx="1053.7" cy="267.2" r="2.9"/><circle cx="1053.7" cy="278.9" r="2.9"/><circle cx="1054.5" cy="269.7" r="2.9"/><circle cx="1054.5" cy="288.4" r="2.9"/><circle cx="1054.6" cy="267.9" r="2.9"/><circle cx="1054.7" cy="275.0" r="2.9"/><circle cx="1054.7" cy="273.7" r="2.9"/><circle cx="1054.8" cy="275.8" r="2.9"/><circle cx="1055.2" cy="269.1" r="2.9"/><circle cx="1055.3" cy="276.4" r="2.9"/><circle cx="1055.5" cy="287.7" r="2.9"/><circle cx="1055.7" cy="271.5" r="2.9"/><circle cx="1055.8" cy="262.4" r="2.9"/><circle cx="1056.1" cy="278.9" r="2.9"/><circle cx="1056.2" cy="277.5" r="2.9"/><circle cx="1056.2" cy="279.2" r="2.9"/><circle cx="1056.3" cy="270.4" r="2.9"/><circle cx="1056.3" cy="277.5" r="2.9"/><circle cx="1056.5" cy="280.8" r="2.9"/><circle cx="1056.9" cy="272.5" r="2.9"/><circle cx="1056.9" cy="275.5" r="2.9"/><circle cx="1057.0" cy="278.6" r="2.9"/><circle cx="1057.0" cy="280.1" r="2.9"/><circle cx="1057.0" cy="274.0" r="2.9"/><circle cx="1057.2" cy="276.5" r="2.9"/><circle cx="1057.3" cy="288.7" r="2.9"/><circle cx="1057.5" cy="289.1" r="2.9"/><circle cx="1057.6" cy="269.7" r="2.9"/><circle cx="1057.9" cy="290.3" r="2.9"/><circle cx="1057.9" cy="273.6" r="2.9"/><circle cx="1058.0" cy="282.8" r="2.9"/><circle cx="1058.1" cy="268.9" r="2.9"/><circle cx="1058.2" cy="274.8" r="2.9"/><circle cx="1058.5" cy="272.4" r="2.9"/><circle cx="1058.5" cy="281.4" r="2.9"/><circle cx="1058.6" cy="277.3" r="2.9"/><circle cx="1058.7" cy="278.9" r="2.9"/><circle cx="1058.7" cy="278.6" r="2.9"/><circle cx="1058.8" cy="277.3" r="2.9"/><circle cx="1059.0" cy="282.3" r="2.9"/><circle cx="1059.0" cy="276.9" r="2.9"/><circle cx="1059.1" cy="275.8" r="2.9"/><circle cx="1059.3" cy="272.8" r="2.9"/><circle cx="1059.5" cy="271.4" r="2.9"/><circle cx="1059.5" cy="273.5" r="2.9"/><circle cx="1059.8" cy="278.9" r="2.9"/><circle cx="1059.8" cy="283.4" r="2.9"/><circle cx="1059.8" cy="275.9" r="2.9"/><circle cx="1059.8" cy="290.0" r="2.9"/><circle cx="1059.9" cy="285.0" r="2.9"/><circle cx="1060.2" cy="277.1" r="2.9"/><circle cx="1060.4" cy="279.2" r="2.9"/><circle cx="1060.5" cy="276.9" r="2.9"/><circle cx="1060.6" cy="266.8" r="2.9"/><circle cx="1060.7" cy="282.5" r="2.9"/><circle cx="1061.1" cy="278.6" r="2.9"/><circle cx="1061.2" cy="267.9" r="2.9"/><circle cx="1061.2" cy="283.2" r="2.9"/><circle cx="1061.3" cy="274.2" r="2.9"/><circle cx="1061.5" cy="276.1" r="2.9"/><circle cx="1061.5" cy="267.8" r="2.9"/><circle cx="1061.6" cy="277.3" r="2.9"/><circle cx="1061.6" cy="280.3" r="2.9"/><circle cx="1062.3" cy="275.5" r="2.9"/><circle cx="1062.4" cy="277.9" r="2.9"/><circle cx="1062.7" cy="267.3" r="2.9"/><circle cx="1062.9" cy="281.6" r="2.9"/><circle cx="1063.0" cy="277.9" r="2.9"/><circle cx="1063.2" cy="278.1" r="2.9"/><circle cx="1063.3" cy="282.8" r="2.9"/><circle cx="1063.4" cy="285.3" r="2.9"/><circle cx="1063.8" cy="278.2" r="2.9"/><circle cx="1064.1" cy="284.8" r="2.9"/><circle cx="1064.1" cy="291.2" r="2.9"/><circle cx="1064.2" cy="272.6" r="2.9"/><circle cx="1064.3" cy="279.4" r="2.9"/><circle cx="1064.7" cy="269.8" r="2.9"/><circle cx="1064.8" cy="281.3" r="2.9"/><circle cx="1065.0" cy="288.5" r="2.9"/><circle cx="1065.2" cy="278.5" r="2.9"/><circle cx="1065.3" cy="272.8" r="2.9"/><circle cx="1065.3" cy="276.3" r="2.9"/><circle cx="1065.5" cy="282.1" r="2.9"/><circle cx="1065.6" cy="270.9" r="2.9"/><circle cx="1065.6" cy="271.4" r="2.9"/><circle cx="1065.7" cy="282.5" r="2.9"/><circle cx="1065.7" cy="271.7" r="2.9"/><circle cx="1065.9" cy="280.0" r="2.9"/><circle cx="1066.0" cy="273.5" r="2.9"/><circle cx="1066.1" cy="270.5" r="2.9"/><circle cx="1066.8" cy="285.5" r="2.9"/><circle cx="1066.8" cy="287.8" r="2.9"/><circle cx="1066.8" cy="275.6" r="2.9"/><circle cx="1067.0" cy="296.1" r="2.9"/><circle cx="1067.0" cy="281.2" r="2.9"/><circle cx="1067.1" cy="283.8" r="2.9"/><circle cx="1067.4" cy="281.6" r="2.9"/><circle cx="1067.7" cy="274.4" r="2.9"/><circle cx="1067.7" cy="287.8" r="2.9"/><circle cx="1067.7" cy="281.6" r="2.9"/><circle cx="1067.9" cy="284.3" r="2.9"/><circle cx="1067.9" cy="281.8" r="2.9"/><circle cx="1067.9" cy="278.7" r="2.9"/><circle cx="1068.2" cy="297.5" r="2.9"/><circle cx="1068.3" cy="284.1" r="2.9"/><circle cx="1068.6" cy="280.0" r="2.9"/><circle cx="1068.6" cy="285.9" r="2.9"/><circle cx="1068.6" cy="274.3" r="2.9"/><circle cx="1068.7" cy="283.8" r="2.9"/><circle cx="1068.9" cy="300.5" r="2.9"/><circle cx="1068.9" cy="277.6" r="2.9"/><circle cx="1069.0" cy="284.9" r="2.9"/><circle cx="1069.3" cy="274.8" r="2.9"/><circle cx="1069.5" cy="282.0" r="2.9"/><circle cx="1069.6" cy="289.6" r="2.9"/><circle cx="1070.5" cy="276.4" r="2.9"/><circle cx="1070.5" cy="276.9" r="2.9"/><circle cx="1070.9" cy="290.7" r="2.9"/><circle cx="1070.9" cy="284.3" r="2.9"/><circle cx="1071.0" cy="287.2" r="2.9"/><circle cx="1071.1" cy="286.3" r="2.9"/><circle cx="1071.4" cy="275.2" r="2.9"/><circle cx="1071.4" cy="272.8" r="2.9"/><circle cx="1071.7" cy="271.9" r="2.9"/><circle cx="1071.8" cy="286.4" r="2.9"/><circle cx="1072.1" cy="274.8" r="2.9"/><circle cx="1072.1" cy="272.7" r="2.9"/><circle cx="1072.6" cy="280.1" r="2.9"/><circle cx="1072.7" cy="282.5" r="2.9"/><circle cx="1072.9" cy="285.2" r="2.9"/><circle cx="1073.0" cy="272.8" r="2.9"/><circle cx="1073.3" cy="293.0" r="2.9"/><circle cx="1073.4" cy="278.2" r="2.9"/><circle cx="1073.5" cy="284.7" r="2.9"/><circle cx="1073.6" cy="283.6" r="2.9"/><circle cx="1073.7" cy="278.0" r="2.9"/><circle cx="1073.8" cy="286.7" r="2.9"/><circle cx="1074.1" cy="286.4" r="2.9"/><circle cx="1074.2" cy="292.1" r="2.9"/><circle cx="1074.3" cy="297.9" r="2.9"/><circle cx="1074.3" cy="299.6" r="2.9"/><circle cx="1074.6" cy="291.1" r="2.9"/><circle cx="1074.8" cy="289.3" r="2.9"/><circle cx="1075.1" cy="282.6" r="2.9"/><circle cx="1075.4" cy="275.9" r="2.9"/><circle cx="1075.4" cy="287.8" r="2.9"/><circle cx="1075.4" cy="281.5" r="2.9"/><circle cx="1075.9" cy="283.5" r="2.9"/><circle cx="1075.9" cy="282.3" r="2.9"/><circle cx="1075.9" cy="288.1" r="2.9"/><circle cx="1076.1" cy="282.8" r="2.9"/><circle cx="1076.2" cy="302.5" r="2.9"/><circle cx="1076.4" cy="291.7" r="2.9"/><circle cx="1076.5" cy="282.4" r="2.9"/><circle cx="1076.7" cy="288.2" r="2.9"/><circle cx="1076.7" cy="295.8" r="2.9"/><circle cx="1076.8" cy="278.5" r="2.9"/><circle cx="1077.0" cy="287.2" r="2.9"/><circle cx="1077.0" cy="282.6" r="2.9"/><circle cx="1077.5" cy="286.4" r="2.9"/><circle cx="1077.6" cy="283.2" r="2.9"/><circle cx="1077.7" cy="287.4" r="2.9"/><circle cx="1077.8" cy="289.5" r="2.9"/><circle cx="1077.8" cy="290.7" r="2.9"/><circle cx="1077.9" cy="277.3" r="2.9"/><circle cx="1077.9" cy="291.4" r="2.9"/><circle cx="1078.1" cy="286.6" r="2.9"/><circle cx="1078.1" cy="282.6" r="2.9"/><circle cx="1078.3" cy="286.2" r="2.9"/><circle cx="1078.4" cy="298.3" r="2.9"/><circle cx="1078.7" cy="285.8" r="2.9"/><circle cx="1078.8" cy="281.5" r="2.9"/><circle cx="1079.0" cy="292.0" r="2.9"/><circle cx="1079.2" cy="285.8" r="2.9"/><circle cx="1079.5" cy="292.3" r="2.9"/><circle cx="1079.7" cy="289.2" r="2.9"/><circle cx="1079.9" cy="297.5" r="2.9"/><circle cx="1080.1" cy="283.9" r="2.9"/><circle cx="1080.7" cy="285.5" r="2.9"/><circle cx="1081.0" cy="296.1" r="2.9"/><circle cx="1082.1" cy="301.1" r="2.9"/><circle cx="1082.2" cy="290.2" r="2.9"/><circle cx="1082.6" cy="297.8" r="2.9"/><circle cx="1082.7" cy="292.4" r="2.9"/><circle cx="1082.8" cy="289.1" r="2.9"/><circle cx="1082.9" cy="278.8" r="2.9"/><circle cx="1083.5" cy="305.0" r="2.9"/><circle cx="1083.5" cy="298.0" r="2.9"/><circle cx="1083.5" cy="275.3" r="2.9"/><circle cx="1083.6" cy="295.2" r="2.9"/><circle cx="1084.0" cy="285.9" r="2.9"/><circle cx="1084.1" cy="283.3" r="2.9"/><circle cx="1084.1" cy="286.1" r="2.9"/><circle cx="1084.1" cy="295.0" r="2.9"/><circle cx="1084.2" cy="289.2" r="2.9"/><circle cx="1084.2" cy="288.3" r="2.9"/><circle cx="1084.3" cy="288.6" r="2.9"/><circle cx="1084.6" cy="287.4" r="2.9"/><circle cx="1084.6" cy="293.7" r="2.9"/><circle cx="1084.6" cy="277.1" r="2.9"/><circle cx="1084.9" cy="281.7" r="2.9"/><circle cx="1084.9" cy="288.9" r="2.9"/><circle cx="1084.9" cy="282.6" r="2.9"/><circle cx="1084.9" cy="291.0" r="2.9"/><circle cx="1085.0" cy="287.6" r="2.9"/><circle cx="1085.0" cy="292.8" r="2.9"/><circle cx="1085.3" cy="289.1" r="2.9"/><circle cx="1085.7" cy="294.8" r="2.9"/><circle cx="1085.7" cy="290.3" r="2.9"/><circle cx="1085.8" cy="295.8" r="2.9"/><circle cx="1086.0" cy="288.4" r="2.9"/><circle cx="1086.3" cy="279.8" r="2.9"/><circle cx="1086.5" cy="290.9" r="2.9"/><circle cx="1086.6" cy="291.1" r="2.9"/><circle cx="1086.6" cy="287.9" r="2.9"/><circle cx="1086.9" cy="298.7" r="2.9"/><circle cx="1087.1" cy="295.2" r="2.9"/><circle cx="1087.5" cy="303.1" r="2.9"/><circle cx="1087.6" cy="289.2" r="2.9"/><circle cx="1087.6" cy="289.2" r="2.9"/><circle cx="1087.6" cy="295.5" r="2.9"/><circle cx="1087.8" cy="303.1" r="2.9"/><circle cx="1087.9" cy="287.5" r="2.9"/><circle cx="1088.1" cy="295.7" r="2.9"/><circle cx="1088.3" cy="291.9" r="2.9"/><circle cx="1088.4" cy="290.3" r="2.9"/><circle cx="1089.3" cy="299.5" r="2.9"/><circle cx="1089.4" cy="299.4" r="2.9"/><circle cx="1089.4" cy="298.1" r="2.9"/><circle cx="1089.8" cy="288.8" r="2.9"/><circle cx="1090.0" cy="293.0" r="2.9"/><circle cx="1090.5" cy="282.7" r="2.9"/><circle cx="1090.5" cy="297.4" r="2.9"/><circle cx="1090.5" cy="285.1" r="2.9"/><circle cx="1090.6" cy="291.6" r="2.9"/><circle cx="1090.9" cy="299.9" r="2.9"/><circle cx="1091.0" cy="292.0" r="2.9"/><circle cx="1091.0" cy="294.7" r="2.9"/><circle cx="1091.2" cy="289.4" r="2.9"/><circle cx="1091.8" cy="313.9" r="2.9"/><circle cx="1091.9" cy="286.3" r="2.9"/><circle cx="1092.1" cy="290.4" r="2.9"/><circle cx="1092.3" cy="293.4" r="2.9"/><circle cx="1092.4" cy="314.5" r="2.9"/><circle cx="1093.1" cy="291.1" r="2.9"/><circle cx="1093.3" cy="295.4" r="2.9"/><circle cx="1093.3" cy="301.2" r="2.9"/><circle cx="1093.4" cy="281.5" r="2.9"/><circle cx="1093.5" cy="302.1" r="2.9"/><circle cx="1093.6" cy="298.1" r="2.9"/><circle cx="1093.8" cy="307.1" r="2.9"/><circle cx="1094.2" cy="307.5" r="2.9"/><circle cx="1094.2" cy="299.7" r="2.9"/><circle cx="1094.3" cy="304.4" r="2.9"/><circle cx="1094.4" cy="291.7" r="2.9"/><circle cx="1094.6" cy="288.6" r="2.9"/><circle cx="1094.7" cy="294.5" r="2.9"/><circle cx="1094.7" cy="297.7" r="2.9"/><circle cx="1094.9" cy="294.1" r="2.9"/><circle cx="1095.3" cy="299.9" r="2.9"/><circle cx="1095.5" cy="301.6" r="2.9"/><circle cx="1095.9" cy="310.4" r="2.9"/><circle cx="1096.0" cy="295.7" r="2.9"/><circle cx="1096.0" cy="293.8" r="2.9"/><circle cx="1096.1" cy="300.7" r="2.9"/><circle cx="1096.2" cy="298.9" r="2.9"/><circle cx="1096.6" cy="301.9" r="2.9"/><circle cx="1096.6" cy="310.6" r="2.9"/><circle cx="1096.9" cy="292.0" r="2.9"/><circle cx="1096.9" cy="303.3" r="2.9"/><circle cx="1096.9" cy="308.1" r="2.9"/><circle cx="1097.4" cy="307.9" r="2.9"/><circle cx="1097.4" cy="288.1" r="2.9"/><circle cx="1097.5" cy="295.6" r="2.9"/><circle cx="1097.5" cy="307.9" r="2.9"/><circle cx="1097.6" cy="297.9" r="2.9"/><circle cx="1097.6" cy="301.4" r="2.9"/><circle cx="1097.7" cy="297.1" r="2.9"/><circle cx="1097.8" cy="308.0" r="2.9"/><circle cx="1097.8" cy="299.9" r="2.9"/><circle cx="1097.9" cy="295.9" r="2.9"/><circle cx="1097.9" cy="298.8" r="2.9"/><circle cx="1098.2" cy="309.0" r="2.9"/><circle cx="1098.4" cy="301.3" r="2.9"/><circle cx="1098.5" cy="287.5" r="2.9"/><circle cx="1098.5" cy="284.5" r="2.9"/><circle cx="1098.7" cy="303.5" r="2.9"/><circle cx="1098.7" cy="287.1" r="2.9"/><circle cx="1099.2" cy="299.3" r="2.9"/><circle cx="1099.5" cy="293.5" r="2.9"/><circle cx="1099.9" cy="300.0" r="2.9"/><circle cx="1099.9" cy="293.4" r="2.9"/><circle cx="1099.9" cy="282.7" r="2.9"/><circle cx="1099.9" cy="309.0" r="2.9"/><circle cx="1100.0" cy="297.7" r="2.9"/><circle cx="1100.1" cy="296.8" r="2.9"/><circle cx="1100.2" cy="310.2" r="2.9"/><circle cx="1100.2" cy="303.4" r="2.9"/><circle cx="1100.3" cy="306.6" r="2.9"/><circle cx="1100.3" cy="296.6" r="2.9"/><circle cx="1100.6" cy="299.1" r="2.9"/><circle cx="1100.9" cy="301.8" r="2.9"/><circle cx="1101.0" cy="294.3" r="2.9"/><circle cx="1101.4" cy="304.9" r="2.9"/><circle cx="1101.4" cy="301.8" r="2.9"/><circle cx="1101.4" cy="296.4" r="2.9"/><circle cx="1101.4" cy="295.7" r="2.9"/><circle cx="1101.5" cy="305.2" r="2.9"/><circle cx="1101.7" cy="297.4" r="2.9"/><circle cx="1102.1" cy="301.9" r="2.9"/><circle cx="1102.1" cy="301.0" r="2.9"/><circle cx="1102.1" cy="297.4" r="2.9"/><circle cx="1102.1" cy="277.9" r="2.9"/><circle cx="1102.1" cy="301.4" r="2.9"/><circle cx="1102.4" cy="305.2" r="2.9"/><circle cx="1102.5" cy="294.7" r="2.9"/><circle cx="1102.9" cy="294.7" r="2.9"/><circle cx="1103.0" cy="306.0" r="2.9"/><circle cx="1103.0" cy="291.4" r="2.9"/><circle cx="1103.0" cy="308.9" r="2.9"/><circle cx="1103.1" cy="303.6" r="2.9"/><circle cx="1103.2" cy="310.1" r="2.9"/><circle cx="1103.3" cy="299.1" r="2.9"/><circle cx="1103.4" cy="300.3" r="2.9"/><circle cx="1103.5" cy="301.7" r="2.9"/><circle cx="1103.5" cy="289.5" r="2.9"/><circle cx="1103.8" cy="293.9" r="2.9"/><circle cx="1104.1" cy="308.5" r="2.9"/><circle cx="1104.2" cy="295.3" r="2.9"/><circle cx="1104.2" cy="293.6" r="2.9"/><circle cx="1104.6" cy="302.6" r="2.9"/><circle cx="1104.6" cy="310.8" r="2.9"/><circle cx="1104.8" cy="299.7" r="2.9"/><circle cx="1104.8" cy="298.3" r="2.9"/><circle cx="1104.8" cy="299.9" r="2.9"/><circle cx="1104.9" cy="303.5" r="2.9"/><circle cx="1104.9" cy="289.9" r="2.9"/><circle cx="1104.9" cy="303.0" r="2.9"/><circle cx="1105.0" cy="303.4" r="2.9"/><circle cx="1105.1" cy="308.5" r="2.9"/><circle cx="1105.2" cy="308.8" r="2.9"/><circle cx="1105.2" cy="305.5" r="2.9"/><circle cx="1105.4" cy="316.3" r="2.9"/><circle cx="1105.6" cy="300.7" r="2.9"/><circle cx="1105.8" cy="299.9" r="2.9"/><circle cx="1105.8" cy="313.6" r="2.9"/><circle cx="1105.8" cy="301.7" r="2.9"/><circle cx="1105.8" cy="296.9" r="2.9"/><circle cx="1106.0" cy="297.2" r="2.9"/><circle cx="1106.1" cy="300.8" r="2.9"/><circle cx="1106.1" cy="292.0" r="2.9"/><circle cx="1106.7" cy="309.0" r="2.9"/><circle cx="1106.9" cy="303.7" r="2.9"/><circle cx="1106.9" cy="311.3" r="2.9"/><circle cx="1106.9" cy="294.5" r="2.9"/><circle cx="1107.1" cy="299.0" r="2.9"/><circle cx="1107.4" cy="297.2" r="2.9"/><circle cx="1107.5" cy="305.7" r="2.9"/><circle cx="1107.5" cy="304.6" r="2.9"/><circle cx="1107.5" cy="307.5" r="2.9"/><circle cx="1107.6" cy="307.1" r="2.9"/><circle cx="1107.7" cy="294.5" r="2.9"/><circle cx="1108.4" cy="304.2" r="2.9"/><circle cx="1108.9" cy="302.9" r="2.9"/><circle cx="1109.1" cy="302.1" r="2.9"/><circle cx="1109.2" cy="306.3" r="2.9"/><circle cx="1109.3" cy="289.9" r="2.9"/><circle cx="1109.4" cy="297.8" r="2.9"/><circle cx="1109.5" cy="300.5" r="2.9"/><circle cx="1109.5" cy="296.8" r="2.9"/><circle cx="1109.5" cy="294.7" r="2.9"/><circle cx="1109.6" cy="309.7" r="2.9"/><circle cx="1109.6" cy="309.2" r="2.9"/><circle cx="1109.9" cy="315.9" r="2.9"/><circle cx="1110.2" cy="296.3" r="2.9"/><circle cx="1110.2" cy="287.3" r="2.9"/><circle cx="1110.5" cy="307.7" r="2.9"/><circle cx="1110.7" cy="300.3" r="2.9"/><circle cx="1110.7" cy="295.4" r="2.9"/><circle cx="1110.8" cy="306.5" r="2.9"/><circle cx="1111.1" cy="302.0" r="2.9"/><circle cx="1111.2" cy="291.3" r="2.9"/><circle cx="1111.4" cy="303.2" r="2.9"/><circle cx="1111.5" cy="291.8" r="2.9"/><circle cx="1111.6" cy="306.8" r="2.9"/><circle cx="1111.7" cy="294.4" r="2.9"/><circle cx="1111.8" cy="292.6" r="2.9"/><circle cx="1112.1" cy="308.4" r="2.9"/><circle cx="1112.2" cy="310.2" r="2.9"/><circle cx="1112.3" cy="301.1" r="2.9"/><circle cx="1113.1" cy="295.5" r="2.9"/><circle cx="1113.3" cy="307.9" r="2.9"/><circle cx="1113.4" cy="304.2" r="2.9"/><circle cx="1113.5" cy="305.1" r="2.9"/><circle cx="1113.6" cy="300.7" r="2.9"/><circle cx="1113.6" cy="293.5" r="2.9"/><circle cx="1113.6" cy="300.2" r="2.9"/><circle cx="1113.7" cy="314.6" r="2.9"/><circle cx="1113.7" cy="299.0" r="2.9"/><circle cx="1113.8" cy="302.6" r="2.9"/><circle cx="1113.8" cy="303.0" r="2.9"/><circle cx="1114.1" cy="310.9" r="2.9"/><circle cx="1114.2" cy="305.7" r="2.9"/><circle cx="1114.3" cy="300.8" r="2.9"/><circle cx="1114.4" cy="318.6" r="2.9"/><circle cx="1114.4" cy="305.0" r="2.9"/><circle cx="1114.4" cy="306.1" r="2.9"/><circle cx="1114.5" cy="299.3" r="2.9"/><circle cx="1114.5" cy="293.7" r="2.9"/><circle cx="1114.8" cy="307.3" r="2.9"/><circle cx="1115.2" cy="301.8" r="2.9"/><circle cx="1115.3" cy="306.6" r="2.9"/><circle cx="1115.5" cy="289.5" r="2.9"/><circle cx="1115.5" cy="317.6" r="2.9"/><circle cx="1116.0" cy="304.7" r="2.9"/><circle cx="1116.0" cy="310.8" r="2.9"/><circle cx="1116.2" cy="297.4" r="2.9"/><circle cx="1116.3" cy="305.3" r="2.9"/><circle cx="1116.3" cy="305.8" r="2.9"/><circle cx="1116.4" cy="313.5" r="2.9"/><circle cx="1116.5" cy="310.9" r="2.9"/><circle cx="1116.7" cy="291.2" r="2.9"/><circle cx="1116.9" cy="306.5" r="2.9"/><circle cx="1117.0" cy="305.9" r="2.9"/><circle cx="1117.1" cy="302.8" r="2.9"/><circle cx="1117.3" cy="306.7" r="2.9"/><circle cx="1117.3" cy="309.7" r="2.9"/><circle cx="1117.3" cy="312.7" r="2.9"/><circle cx="1117.7" cy="297.6" r="2.9"/><circle cx="1117.7" cy="299.6" r="2.9"/><circle cx="1117.8" cy="305.6" r="2.9"/><circle cx="1118.0" cy="310.6" r="2.9"/><circle cx="1118.1" cy="299.0" r="2.9"/><circle cx="1118.1" cy="305.5" r="2.9"/><circle cx="1118.2" cy="297.0" r="2.9"/><circle cx="1118.2" cy="305.7" r="2.9"/><circle cx="1118.2" cy="304.3" r="2.9"/><circle cx="1118.3" cy="309.5" r="2.9"/><circle cx="1118.4" cy="316.6" r="2.9"/><circle cx="1118.4" cy="300.4" r="2.9"/><circle cx="1118.5" cy="309.0" r="2.9"/><circle cx="1118.7" cy="295.3" r="2.9"/><circle cx="1118.9" cy="308.3" r="2.9"/><circle cx="1118.9" cy="320.0" r="2.9"/><circle cx="1119.1" cy="295.7" r="2.9"/><circle cx="1119.5" cy="302.7" r="2.9"/><circle cx="1119.6" cy="285.0" r="2.9"/><circle cx="1119.7" cy="309.6" r="2.9"/><circle cx="1119.7" cy="323.8" r="2.9"/><circle cx="1119.8" cy="300.1" r="2.9"/><circle cx="1120.0" cy="309.0" r="2.9"/><circle cx="1120.4" cy="317.8" r="2.9"/><circle cx="1120.6" cy="301.5" r="2.9"/><circle cx="1120.6" cy="308.3" r="2.9"/><circle cx="1120.7" cy="301.6" r="2.9"/><circle cx="1120.7" cy="303.5" r="2.9"/><circle cx="1120.9" cy="307.0" r="2.9"/><circle cx="1121.0" cy="314.0" r="2.9"/><circle cx="1121.1" cy="308.8" r="2.9"/><circle cx="1121.2" cy="306.7" r="2.9"/><circle cx="1121.6" cy="306.0" r="2.9"/><circle cx="1121.7" cy="316.0" r="2.9"/><circle cx="1122.0" cy="311.5" r="2.9"/><circle cx="1122.0" cy="310.7" r="2.9"/><circle cx="1122.1" cy="295.0" r="2.9"/><circle cx="1122.1" cy="306.0" r="2.9"/><circle cx="1122.3" cy="300.3" r="2.9"/><circle cx="1122.5" cy="321.9" r="2.9"/><circle cx="1122.5" cy="313.1" r="2.9"/><circle cx="1122.7" cy="319.6" r="2.9"/><circle cx="1122.8" cy="302.2" r="2.9"/><circle cx="1123.0" cy="297.5" r="2.9"/><circle cx="1123.4" cy="302.6" r="2.9"/><circle cx="1123.6" cy="313.4" r="2.9"/><circle cx="1123.8" cy="303.6" r="2.9"/><circle cx="1124.1" cy="314.3" r="2.9"/><circle cx="1124.1" cy="319.5" r="2.9"/><circle cx="1124.3" cy="306.2" r="2.9"/><circle cx="1124.5" cy="316.8" r="2.9"/><circle cx="1124.6" cy="293.7" r="2.9"/><circle cx="1124.6" cy="300.2" r="2.9"/><circle cx="1124.8" cy="304.6" r="2.9"/><circle cx="1125.2" cy="306.6" r="2.9"/><circle cx="1125.3" cy="299.2" r="2.9"/><circle cx="1125.5" cy="306.5" r="2.9"/><circle cx="1125.6" cy="317.7" r="2.9"/><circle cx="1126.6" cy="316.6" r="2.9"/><circle cx="1126.6" cy="313.1" r="2.9"/><circle cx="1126.9" cy="303.4" r="2.9"/><circle cx="1126.9" cy="321.5" r="2.9"/><circle cx="1127.3" cy="315.4" r="2.9"/><circle cx="1127.4" cy="303.0" r="2.9"/><circle cx="1127.4" cy="318.1" r="2.9"/><circle cx="1127.5" cy="307.6" r="2.9"/><circle cx="1127.5" cy="314.6" r="2.9"/><circle cx="1127.8" cy="313.3" r="2.9"/><circle cx="1128.0" cy="315.1" r="2.9"/><circle cx="1128.0" cy="322.8" r="2.9"/><circle cx="1128.0" cy="331.3" r="2.9"/><circle cx="1128.0" cy="313.7" r="2.9"/><circle cx="1128.1" cy="311.5" r="2.9"/><circle cx="1128.7" cy="310.5" r="2.9"/><circle cx="1128.8" cy="314.7" r="2.9"/><circle cx="1128.9" cy="316.0" r="2.9"/><circle cx="1129.1" cy="302.0" r="2.9"/><circle cx="1129.7" cy="312.2" r="2.9"/><circle cx="1129.7" cy="330.6" r="2.9"/><circle cx="1129.7" cy="317.9" r="2.9"/><circle cx="1129.7" cy="320.5" r="2.9"/><circle cx="1129.9" cy="311.1" r="2.9"/><circle cx="1130.0" cy="329.7" r="2.9"/><circle cx="1130.0" cy="316.6" r="2.9"/><circle cx="1130.1" cy="309.4" r="2.9"/><circle cx="1130.2" cy="306.4" r="2.9"/><circle cx="1130.6" cy="315.9" r="2.9"/><circle cx="1130.7" cy="326.8" r="2.9"/><circle cx="1130.7" cy="307.3" r="2.9"/><circle cx="1130.7" cy="305.0" r="2.9"/><circle cx="1130.9" cy="295.8" r="2.9"/><circle cx="1130.9" cy="317.9" r="2.9"/><circle cx="1131.0" cy="304.4" r="2.9"/><circle cx="1131.3" cy="306.9" r="2.9"/><circle cx="1131.8" cy="304.8" r="2.9"/><circle cx="1131.9" cy="306.0" r="2.9"/><circle cx="1132.1" cy="318.9" r="2.9"/><circle cx="1132.1" cy="306.8" r="2.9"/><circle cx="1132.1" cy="313.6" r="2.9"/><circle cx="1132.3" cy="307.1" r="2.9"/><circle cx="1132.4" cy="309.7" r="2.9"/><circle cx="1132.5" cy="317.9" r="2.9"/><circle cx="1132.6" cy="317.8" r="2.9"/><circle cx="1132.7" cy="304.2" r="2.9"/><circle cx="1132.9" cy="312.6" r="2.9"/><circle cx="1132.9" cy="305.8" r="2.9"/><circle cx="1133.3" cy="318.6" r="2.9"/><circle cx="1133.5" cy="308.3" r="2.9"/><circle cx="1134.2" cy="306.4" r="2.9"/><circle cx="1134.3" cy="319.9" r="2.9"/><circle cx="1134.5" cy="309.0" r="2.9"/><circle cx="1134.7" cy="314.2" r="2.9"/><circle cx="1134.7" cy="319.1" r="2.9"/><circle cx="1134.8" cy="309.3" r="2.9"/><circle cx="1135.1" cy="310.9" r="2.9"/><circle cx="1135.1" cy="318.3" r="2.9"/><circle cx="1135.3" cy="332.5" r="2.9"/><circle cx="1135.3" cy="318.3" r="2.9"/><circle cx="1135.4" cy="319.6" r="2.9"/><circle cx="1135.4" cy="313.6" r="2.9"/><circle cx="1135.5" cy="313.0" r="2.9"/><circle cx="1135.5" cy="326.1" r="2.9"/><circle cx="1135.6" cy="308.2" r="2.9"/><circle cx="1135.7" cy="308.5" r="2.9"/><circle cx="1136.0" cy="326.2" r="2.9"/><circle cx="1136.0" cy="308.1" r="2.9"/><circle cx="1136.3" cy="304.9" r="2.9"/><circle cx="1136.3" cy="317.8" r="2.9"/><circle cx="1136.4" cy="322.3" r="2.9"/><circle cx="1136.5" cy="328.8" r="2.9"/><circle cx="1136.7" cy="332.8" r="2.9"/><circle cx="1136.9" cy="298.0" r="2.9"/><circle cx="1137.0" cy="312.6" r="2.9"/><circle cx="1137.2" cy="311.8" r="2.9"/><circle cx="1137.3" cy="317.3" r="2.9"/><circle cx="1137.7" cy="308.2" r="2.9"/><circle cx="1138.1" cy="314.8" r="2.9"/><circle cx="1138.2" cy="316.9" r="2.9"/><circle cx="1138.2" cy="316.2" r="2.9"/><circle cx="1138.2" cy="308.5" r="2.9"/><circle cx="1138.4" cy="316.7" r="2.9"/><circle cx="1138.6" cy="308.5" r="2.9"/><circle cx="1138.7" cy="308.7" r="2.9"/><circle cx="1138.8" cy="312.9" r="2.9"/><circle cx="1139.3" cy="321.9" r="2.9"/><circle cx="1139.4" cy="300.7" r="2.9"/><circle cx="1139.5" cy="314.6" r="2.9"/><circle cx="1139.6" cy="327.0" r="2.9"/><circle cx="1139.8" cy="316.5" r="2.9"/><circle cx="1140.0" cy="311.4" r="2.9"/><circle cx="1140.1" cy="317.5" r="2.9"/><circle cx="1140.3" cy="329.0" r="2.9"/><circle cx="1140.4" cy="314.2" r="2.9"/><circle cx="1140.6" cy="310.4" r="2.9"/><circle cx="1141.0" cy="322.3" r="2.9"/><circle cx="1141.0" cy="313.7" r="2.9"/><circle cx="1141.1" cy="310.6" r="2.9"/><circle cx="1141.2" cy="322.8" r="2.9"/><circle cx="1141.2" cy="309.6" r="2.9"/><circle cx="1141.2" cy="313.5" r="2.9"/><circle cx="1141.2" cy="327.2" r="2.9"/><circle cx="1141.3" cy="317.0" r="2.9"/><circle cx="1141.5" cy="326.8" r="2.9"/><circle cx="1141.7" cy="303.0" r="2.9"/><circle cx="1141.7" cy="305.0" r="2.9"/><circle cx="1141.7" cy="310.2" r="2.9"/><circle cx="1142.1" cy="315.0" r="2.9"/><circle cx="1142.4" cy="302.3" r="2.9"/><circle cx="1142.5" cy="318.0" r="2.9"/><circle cx="1142.6" cy="312.2" r="2.9"/><circle cx="1142.8" cy="312.4" r="2.9"/><circle cx="1142.8" cy="316.4" r="2.9"/><circle cx="1142.8" cy="314.4" r="2.9"/><circle cx="1142.9" cy="307.5" r="2.9"/><circle cx="1143.0" cy="314.6" r="2.9"/><circle cx="1143.3" cy="307.7" r="2.9"/><circle cx="1143.9" cy="328.1" r="2.9"/><circle cx="1143.9" cy="313.3" r="2.9"/><circle cx="1144.2" cy="314.8" r="2.9"/><circle cx="1144.2" cy="311.9" r="2.9"/><circle cx="1144.2" cy="316.9" r="2.9"/><circle cx="1144.4" cy="318.8" r="2.9"/><circle cx="1144.6" cy="315.9" r="2.9"/><circle cx="1144.7" cy="309.3" r="2.9"/><circle cx="1144.7" cy="326.7" r="2.9"/><circle cx="1144.9" cy="316.8" r="2.9"/><circle cx="1144.9" cy="303.4" r="2.9"/><circle cx="1145.1" cy="300.8" r="2.9"/><circle cx="1145.2" cy="308.9" r="2.9"/><circle cx="1145.3" cy="308.6" r="2.9"/><circle cx="1145.8" cy="305.2" r="2.9"/><circle cx="1146.0" cy="310.3" r="2.9"/><circle cx="1146.1" cy="320.2" r="2.9"/><circle cx="1146.2" cy="328.4" r="2.9"/><circle cx="1146.5" cy="319.5" r="2.9"/><circle cx="1146.6" cy="320.5" r="2.9"/><circle cx="1146.9" cy="327.7" r="2.9"/><circle cx="1147.0" cy="336.9" r="2.9"/><circle cx="1147.2" cy="327.9" r="2.9"/><circle cx="1147.6" cy="323.3" r="2.9"/><circle cx="1147.7" cy="317.1" r="2.9"/><circle cx="1147.8" cy="310.7" r="2.9"/><circle cx="1147.8" cy="321.8" r="2.9"/><circle cx="1148.0" cy="328.7" r="2.9"/><circle cx="1148.0" cy="320.9" r="2.9"/><circle cx="1148.2" cy="314.3" r="2.9"/><circle cx="1148.4" cy="323.4" r="2.9"/><circle cx="1148.7" cy="317.8" r="2.9"/><circle cx="1148.7" cy="314.1" r="2.9"/><circle cx="1148.8" cy="304.0" r="2.9"/><circle cx="1148.8" cy="323.2" r="2.9"/><circle cx="1148.9" cy="313.7" r="2.9"/><circle cx="1148.9" cy="328.8" r="2.9"/><circle cx="1149.1" cy="314.0" r="2.9"/><circle cx="1149.5" cy="319.5" r="2.9"/><circle cx="1149.5" cy="314.7" r="2.9"/><circle cx="1149.6" cy="334.4" r="2.9"/><circle cx="1149.6" cy="330.8" r="2.9"/><circle cx="1149.6" cy="318.8" r="2.9"/><circle cx="1149.7" cy="331.5" r="2.9"/><circle cx="1149.9" cy="309.8" r="2.9"/><circle cx="1150.0" cy="324.8" r="2.9"/><circle cx="1150.0" cy="315.0" r="2.9"/><circle cx="1150.2" cy="318.1" r="2.9"/><circle cx="1150.7" cy="315.9" r="2.9"/><circle cx="1151.0" cy="324.7" r="2.9"/><circle cx="1151.5" cy="306.5" r="2.9"/><circle cx="1151.6" cy="316.3" r="2.9"/><circle cx="1151.7" cy="331.9" r="2.9"/><circle cx="1151.7" cy="303.1" r="2.9"/><circle cx="1152.6" cy="318.5" r="2.9"/><circle cx="1152.9" cy="310.3" r="2.9"/><circle cx="1153.1" cy="300.6" r="2.9"/><circle cx="1153.2" cy="323.9" r="2.9"/><circle cx="1153.2" cy="316.8" r="2.9"/><circle cx="1153.4" cy="331.8" r="2.9"/><circle cx="1153.6" cy="306.7" r="2.9"/><circle cx="1153.8" cy="324.0" r="2.9"/><circle cx="1153.9" cy="334.9" r="2.9"/><circle cx="1154.2" cy="307.1" r="2.9"/><circle cx="1154.2" cy="326.6" r="2.9"/><circle cx="1154.3" cy="327.1" r="2.9"/><circle cx="1154.6" cy="322.8" r="2.9"/><circle cx="1154.7" cy="333.6" r="2.9"/><circle cx="1154.7" cy="327.1" r="2.9"/><circle cx="1154.8" cy="315.8" r="2.9"/><circle cx="1155.1" cy="315.5" r="2.9"/><circle cx="1155.1" cy="320.2" r="2.9"/><circle cx="1155.1" cy="336.1" r="2.9"/><circle cx="1155.3" cy="320.4" r="2.9"/><circle cx="1155.4" cy="329.5" r="2.9"/><circle cx="1155.5" cy="320.4" r="2.9"/><circle cx="1155.6" cy="327.2" r="2.9"/><circle cx="1155.9" cy="326.5" r="2.9"/><circle cx="1155.9" cy="332.8" r="2.9"/><circle cx="1156.0" cy="338.3" r="2.9"/><circle cx="1156.3" cy="318.2" r="2.9"/><circle cx="1156.4" cy="313.3" r="2.9"/><circle cx="1156.8" cy="321.5" r="2.9"/><circle cx="1157.0" cy="321.9" r="2.9"/><circle cx="1157.0" cy="324.7" r="2.9"/><circle cx="1157.3" cy="331.4" r="2.9"/><circle cx="1157.7" cy="319.4" r="2.9"/><circle cx="1157.8" cy="322.7" r="2.9"/><circle cx="1158.0" cy="322.8" r="2.9"/><circle cx="1158.0" cy="332.8" r="2.9"/><circle cx="1158.4" cy="319.6" r="2.9"/><circle cx="1158.7" cy="333.9" r="2.9"/><circle cx="1158.9" cy="340.8" r="2.9"/><circle cx="1159.2" cy="321.6" r="2.9"/><circle cx="1159.3" cy="336.3" r="2.9"/><circle cx="1159.3" cy="328.4" r="2.9"/><circle cx="1159.4" cy="322.9" r="2.9"/><circle cx="1159.5" cy="341.9" r="2.9"/><circle cx="1159.7" cy="335.0" r="2.9"/><circle cx="1160.1" cy="321.4" r="2.9"/><circle cx="1160.3" cy="329.1" r="2.9"/><circle cx="1160.5" cy="318.9" r="2.9"/><circle cx="1160.5" cy="313.5" r="2.9"/><circle cx="1161.1" cy="334.0" r="2.9"/><circle cx="1161.2" cy="324.5" r="2.9"/><circle cx="1161.3" cy="339.6" r="2.9"/><circle cx="1161.3" cy="326.0" r="2.9"/><circle cx="1161.5" cy="327.1" r="2.9"/><circle cx="1161.5" cy="323.6" r="2.9"/><circle cx="1161.5" cy="326.2" r="2.9"/><circle cx="1161.8" cy="318.6" r="2.9"/><circle cx="1161.8" cy="322.8" r="2.9"/><circle cx="1161.9" cy="311.4" r="2.9"/><circle cx="1161.9" cy="310.9" r="2.9"/><circle cx="1162.3" cy="314.4" r="2.9"/><circle cx="1162.7" cy="320.1" r="2.9"/><circle cx="1162.9" cy="324.2" r="2.9"/><circle cx="1163.0" cy="323.6" r="2.9"/><circle cx="1163.1" cy="335.9" r="2.9"/><circle cx="1163.9" cy="348.1" r="2.9"/><circle cx="1164.1" cy="306.9" r="2.9"/><circle cx="1164.5" cy="339.0" r="2.9"/><circle cx="1164.6" cy="334.2" r="2.9"/><circle cx="1164.7" cy="321.1" r="2.9"/><circle cx="1164.9" cy="327.1" r="2.9"/><circle cx="1164.9" cy="310.7" r="2.9"/><circle cx="1164.9" cy="323.8" r="2.9"/><circle cx="1164.9" cy="340.2" r="2.9"/><circle cx="1165.5" cy="316.7" r="2.9"/><circle cx="1165.5" cy="321.2" r="2.9"/><circle cx="1165.7" cy="326.8" r="2.9"/><circle cx="1165.8" cy="332.2" r="2.9"/><circle cx="1165.9" cy="326.3" r="2.9"/><circle cx="1166.1" cy="321.9" r="2.9"/><circle cx="1166.2" cy="332.1" r="2.9"/><circle cx="1166.4" cy="321.5" r="2.9"/><circle cx="1166.6" cy="348.3" r="2.9"/><circle cx="1166.6" cy="337.7" r="2.9"/><circle cx="1166.9" cy="327.3" r="2.9"/><circle cx="1167.2" cy="320.1" r="2.9"/><circle cx="1167.3" cy="322.0" r="2.9"/><circle cx="1167.5" cy="320.8" r="2.9"/><circle cx="1167.5" cy="323.9" r="2.9"/><circle cx="1167.9" cy="330.6" r="2.9"/><circle cx="1168.1" cy="316.7" r="2.9"/><circle cx="1168.3" cy="328.3" r="2.9"/><circle cx="1168.4" cy="326.9" r="2.9"/><circle cx="1168.5" cy="319.4" r="2.9"/><circle cx="1169.0" cy="338.9" r="2.9"/><circle cx="1169.2" cy="331.5" r="2.9"/><circle cx="1169.3" cy="330.1" r="2.9"/><circle cx="1169.3" cy="322.6" r="2.9"/><circle cx="1169.9" cy="321.6" r="2.9"/><circle cx="1170.1" cy="327.7" r="2.9"/><circle cx="1170.5" cy="316.2" r="2.9"/><circle cx="1170.6" cy="330.8" r="2.9"/><circle cx="1170.6" cy="318.7" r="2.9"/><circle cx="1170.8" cy="327.3" r="2.9"/><circle cx="1170.8" cy="333.7" r="2.9"/><circle cx="1171.2" cy="325.6" r="2.9"/><circle cx="1171.2" cy="322.6" r="2.9"/><circle cx="1171.4" cy="321.9" r="2.9"/><circle cx="1171.4" cy="329.0" r="2.9"/><circle cx="1171.8" cy="319.2" r="2.9"/><circle cx="1172.2" cy="327.5" r="2.9"/><circle cx="1172.3" cy="337.0" r="2.9"/><circle cx="1172.3" cy="313.4" r="2.9"/><circle cx="1172.3" cy="321.8" r="2.9"/><circle cx="1173.0" cy="330.7" r="2.9"/><circle cx="1173.1" cy="319.6" r="2.9"/><circle cx="1173.1" cy="320.1" r="2.9"/><circle cx="1173.2" cy="318.7" r="2.9"/><circle cx="1173.3" cy="336.1" r="2.9"/><circle cx="1173.3" cy="311.7" r="2.9"/><circle cx="1173.5" cy="327.2" r="2.9"/><circle cx="1173.6" cy="326.5" r="2.9"/><circle cx="1173.9" cy="328.3" r="2.9"/><circle cx="1174.1" cy="322.2" r="2.9"/><circle cx="1174.4" cy="329.0" r="2.9"/><circle cx="1174.9" cy="324.5" r="2.9"/><circle cx="1175.0" cy="321.9" r="2.9"/><circle cx="1175.2" cy="352.6" r="2.9"/><circle cx="1175.2" cy="337.9" r="2.9"/><circle cx="1175.5" cy="320.3" r="2.9"/><circle cx="1175.7" cy="323.3" r="2.9"/><circle cx="1175.9" cy="332.8" r="2.9"/><circle cx="1176.0" cy="342.2" r="2.9"/><circle cx="1176.1" cy="327.4" r="2.9"/><circle cx="1176.1" cy="335.4" r="2.9"/><circle cx="1176.3" cy="330.8" r="2.9"/><circle cx="1176.3" cy="339.8" r="2.9"/><circle cx="1177.1" cy="325.1" r="2.9"/><circle cx="1177.3" cy="323.4" r="2.9"/><circle cx="1177.3" cy="331.9" r="2.9"/><circle cx="1177.4" cy="331.9" r="2.9"/><circle cx="1177.7" cy="329.9" r="2.9"/><circle cx="1177.8" cy="341.0" r="2.9"/><circle cx="1177.8" cy="336.0" r="2.9"/><circle cx="1178.0" cy="330.7" r="2.9"/><circle cx="1178.2" cy="320.7" r="2.9"/><circle cx="1178.8" cy="336.4" r="2.9"/><circle cx="1179.1" cy="338.1" r="2.9"/><circle cx="1179.2" cy="325.2" r="2.9"/><circle cx="1179.5" cy="329.6" r="2.9"/><circle cx="1179.5" cy="321.7" r="2.9"/><circle cx="1179.6" cy="331.4" r="2.9"/><circle cx="1179.8" cy="328.7" r="2.9"/><circle cx="1179.9" cy="316.7" r="2.9"/><circle cx="1180.0" cy="330.5" r="2.9"/><circle cx="1180.2" cy="328.0" r="2.9"/><circle cx="1180.4" cy="328.0" r="2.9"/><circle cx="1180.5" cy="340.4" r="2.9"/><circle cx="1180.6" cy="335.3" r="2.9"/><circle cx="1180.6" cy="338.9" r="2.9"/><circle cx="1180.6" cy="328.3" r="2.9"/><circle cx="1180.9" cy="343.5" r="2.9"/><circle cx="1180.9" cy="325.0" r="2.9"/><circle cx="1181.2" cy="337.9" r="2.9"/><circle cx="1181.3" cy="319.5" r="2.9"/><circle cx="1181.3" cy="333.1" r="2.9"/><circle cx="1181.4" cy="323.2" r="2.9"/><circle cx="1181.5" cy="319.9" r="2.9"/><circle cx="1181.5" cy="337.4" r="2.9"/><circle cx="1181.9" cy="333.1" r="2.9"/><circle cx="1182.2" cy="336.1" r="2.9"/><circle cx="1182.7" cy="332.0" r="2.9"/><circle cx="1182.8" cy="334.2" r="2.9"/><circle cx="1182.9" cy="331.4" r="2.9"/><circle cx="1183.1" cy="330.6" r="2.9"/><circle cx="1183.1" cy="332.9" r="2.9"/><circle cx="1183.2" cy="353.5" r="2.9"/><circle cx="1183.8" cy="324.2" r="2.9"/><circle cx="1183.8" cy="320.4" r="2.9"/><circle cx="1183.8" cy="325.0" r="2.9"/><circle cx="1184.0" cy="327.0" r="2.9"/><circle cx="1184.3" cy="337.5" r="2.9"/><circle cx="1184.4" cy="342.8" r="2.9"/><circle cx="1185.0" cy="343.5" r="2.9"/><circle cx="1185.1" cy="331.1" r="2.9"/><circle cx="1185.1" cy="339.7" r="2.9"/><circle cx="1185.1" cy="350.4" r="2.9"/><circle cx="1185.3" cy="339.1" r="2.9"/><circle cx="1185.5" cy="345.5" r="2.9"/><circle cx="1186.2" cy="325.8" r="2.9"/><circle cx="1186.4" cy="341.9" r="2.9"/><circle cx="1186.4" cy="341.2" r="2.9"/><circle cx="1186.5" cy="323.9" r="2.9"/><circle cx="1186.6" cy="334.0" r="2.9"/><circle cx="1186.8" cy="339.6" r="2.9"/><circle cx="1186.8" cy="326.7" r="2.9"/><circle cx="1187.4" cy="342.5" r="2.9"/><circle cx="1187.4" cy="343.2" r="2.9"/><circle cx="1187.4" cy="336.8" r="2.9"/><circle cx="1187.5" cy="333.0" r="2.9"/><circle cx="1187.7" cy="332.4" r="2.9"/><circle cx="1187.8" cy="337.6" r="2.9"/><circle cx="1188.1" cy="344.8" r="2.9"/><circle cx="1188.1" cy="323.4" r="2.9"/><circle cx="1188.4" cy="336.0" r="2.9"/><circle cx="1188.6" cy="336.6" r="2.9"/><circle cx="1188.6" cy="327.4" r="2.9"/><circle cx="1188.9" cy="324.2" r="2.9"/><circle cx="1189.0" cy="332.6" r="2.9"/><circle cx="1189.4" cy="321.2" r="2.9"/><circle cx="1189.5" cy="336.6" r="2.9"/><circle cx="1189.6" cy="332.2" r="2.9"/><circle cx="1189.9" cy="325.8" r="2.9"/><circle cx="1189.9" cy="334.6" r="2.9"/><circle cx="1189.9" cy="327.8" r="2.9"/><circle cx="1189.9" cy="328.8" r="2.9"/><circle cx="1190.1" cy="345.7" r="2.9"/><circle cx="1190.1" cy="328.4" r="2.9"/><circle cx="1190.1" cy="314.3" r="2.9"/><circle cx="1190.2" cy="337.3" r="2.9"/><circle cx="1190.3" cy="326.3" r="2.9"/><circle cx="1190.4" cy="327.4" r="2.9"/><circle cx="1190.5" cy="349.3" r="2.9"/><circle cx="1190.6" cy="334.0" r="2.9"/><circle cx="1190.6" cy="342.4" r="2.9"/><circle cx="1190.7" cy="323.6" r="2.9"/><circle cx="1190.9" cy="326.4" r="2.9"/><circle cx="1191.3" cy="328.1" r="2.9"/><circle cx="1191.3" cy="341.6" r="2.9"/><circle cx="1191.3" cy="329.4" r="2.9"/><circle cx="1191.4" cy="319.5" r="2.9"/><circle cx="1191.5" cy="341.9" r="2.9"/><circle cx="1191.6" cy="330.6" r="2.9"/><circle cx="1191.7" cy="335.6" r="2.9"/><circle cx="1191.7" cy="342.0" r="2.9"/><circle cx="1191.7" cy="355.5" r="2.9"/><circle cx="1191.8" cy="334.5" r="2.9"/><circle cx="1191.9" cy="350.0" r="2.9"/><circle cx="1192.0" cy="324.0" r="2.9"/><circle cx="1192.0" cy="336.4" r="2.9"/><circle cx="1192.2" cy="337.8" r="2.9"/><circle cx="1192.4" cy="317.5" r="2.9"/><circle cx="1192.4" cy="327.3" r="2.9"/><circle cx="1192.7" cy="329.4" r="2.9"/><circle cx="1192.7" cy="339.8" r="2.9"/><circle cx="1193.0" cy="331.4" r="2.9"/><circle cx="1193.2" cy="332.0" r="2.9"/><circle cx="1193.2" cy="330.0" r="2.9"/><circle cx="1193.6" cy="339.8" r="2.9"/><circle cx="1193.7" cy="335.0" r="2.9"/><circle cx="1193.8" cy="334.9" r="2.9"/><circle cx="1193.9" cy="333.8" r="2.9"/><circle cx="1194.7" cy="342.4" r="2.9"/><circle cx="1194.9" cy="330.4" r="2.9"/><circle cx="1194.9" cy="335.9" r="2.9"/><circle cx="1194.9" cy="336.2" r="2.9"/><circle cx="1195.1" cy="339.8" r="2.9"/><circle cx="1195.1" cy="345.9" r="2.9"/><circle cx="1195.1" cy="339.6" r="2.9"/><circle cx="1195.2" cy="325.8" r="2.9"/><circle cx="1195.3" cy="346.0" r="2.9"/><circle cx="1195.3" cy="348.1" r="2.9"/><circle cx="1195.4" cy="348.8" r="2.9"/><circle cx="1195.6" cy="345.0" r="2.9"/><circle cx="1195.7" cy="324.5" r="2.9"/><circle cx="1195.8" cy="335.8" r="2.9"/><circle cx="1195.8" cy="344.6" r="2.9"/><circle cx="1195.9" cy="344.8" r="2.9"/><circle cx="1196.0" cy="336.3" r="2.9"/><circle cx="1196.0" cy="338.4" r="2.9"/><circle cx="1196.0" cy="328.5" r="2.9"/><circle cx="1196.3" cy="341.1" r="2.9"/><circle cx="1196.6" cy="320.9" r="2.9"/><circle cx="1196.7" cy="335.6" r="2.9"/><circle cx="1196.8" cy="346.7" r="2.9"/><circle cx="1196.9" cy="328.0" r="2.9"/><circle cx="1197.2" cy="349.9" r="2.9"/><circle cx="1197.3" cy="356.5" r="2.9"/><circle cx="1197.5" cy="342.9" r="2.9"/><circle cx="1197.6" cy="333.7" r="2.9"/><circle cx="1197.7" cy="334.0" r="2.9"/><circle cx="1197.7" cy="328.3" r="2.9"/><circle cx="1197.9" cy="345.1" r="2.9"/><circle cx="1198.1" cy="329.3" r="2.9"/><circle cx="1198.1" cy="340.0" r="2.9"/><circle cx="1198.4" cy="329.5" r="2.9"/><circle cx="1198.5" cy="343.5" r="2.9"/><circle cx="1198.5" cy="327.3" r="2.9"/><circle cx="1198.5" cy="337.2" r="2.9"/><circle cx="1198.8" cy="332.6" r="2.9"/><circle cx="1198.8" cy="348.1" r="2.9"/><circle cx="1198.8" cy="335.1" r="2.9"/><circle cx="1198.8" cy="337.0" r="2.9"/><circle cx="1198.9" cy="349.2" r="2.9"/><circle cx="1198.9" cy="329.5" r="2.9"/><circle cx="1199.3" cy="328.6" r="2.9"/><circle cx="1199.3" cy="337.9" r="2.9"/><circle cx="1199.4" cy="330.3" r="2.9"/><circle cx="1199.7" cy="354.6" r="2.9"/><circle cx="1200.5" cy="340.2" r="2.9"/><circle cx="1200.5" cy="341.2" r="2.9"/><circle cx="1200.5" cy="336.1" r="2.9"/><circle cx="1200.7" cy="313.9" r="2.9"/><circle cx="1201.0" cy="351.1" r="2.9"/><circle cx="1201.3" cy="338.0" r="2.9"/><circle cx="1201.3" cy="322.9" r="2.9"/><circle cx="1201.3" cy="330.4" r="2.9"/><circle cx="1201.4" cy="338.8" r="2.9"/><circle cx="1201.6" cy="350.9" r="2.9"/><circle cx="1201.8" cy="342.4" r="2.9"/><circle cx="1201.8" cy="342.6" r="2.9"/><circle cx="1202.2" cy="342.4" r="2.9"/><circle cx="1202.2" cy="332.1" r="2.9"/><circle cx="1202.3" cy="333.9" r="2.9"/><circle cx="1202.4" cy="339.5" r="2.9"/><circle cx="1202.5" cy="328.7" r="2.9"/><circle cx="1202.7" cy="339.8" r="2.9"/><circle cx="1202.8" cy="345.8" r="2.9"/><circle cx="1203.3" cy="320.8" r="2.9"/><circle cx="1203.3" cy="337.8" r="2.9"/><circle cx="1203.4" cy="337.4" r="2.9"/><circle cx="1203.4" cy="340.5" r="2.9"/><circle cx="1203.4" cy="356.4" r="2.9"/><circle cx="1203.5" cy="328.6" r="2.9"/><circle cx="1203.7" cy="358.3" r="2.9"/><circle cx="1204.1" cy="346.4" r="2.9"/><circle cx="1204.2" cy="363.7" r="2.9"/><circle cx="1204.2" cy="336.9" r="2.9"/><circle cx="1204.6" cy="343.5" r="2.9"/><circle cx="1204.6" cy="339.0" r="2.9"/><circle cx="1204.7" cy="344.9" r="2.9"/><circle cx="1204.8" cy="332.9" r="2.9"/><circle cx="1204.9" cy="333.8" r="2.9"/><circle cx="1205.1" cy="338.8" r="2.9"/><circle cx="1205.2" cy="346.4" r="2.9"/><circle cx="1205.3" cy="329.8" r="2.9"/><circle cx="1205.5" cy="337.6" r="2.9"/><circle cx="1205.7" cy="335.3" r="2.9"/><circle cx="1205.7" cy="343.2" r="2.9"/><circle cx="1206.0" cy="348.4" r="2.9"/><circle cx="1206.0" cy="328.5" r="2.9"/><circle cx="1206.1" cy="332.4" r="2.9"/><circle cx="1206.1" cy="337.6" r="2.9"/><circle cx="1206.3" cy="332.4" r="2.9"/><circle cx="1206.3" cy="354.1" r="2.9"/><circle cx="1206.5" cy="356.8" r="2.9"/><circle cx="1206.5" cy="347.8" r="2.9"/><circle cx="1206.7" cy="345.5" r="2.9"/><circle cx="1206.8" cy="331.8" r="2.9"/><circle cx="1206.8" cy="332.9" r="2.9"/><circle cx="1207.5" cy="344.9" r="2.9"/><circle cx="1207.6" cy="355.2" r="2.9"/><circle cx="1207.6" cy="338.0" r="2.9"/><circle cx="1207.7" cy="343.6" r="2.9"/><circle cx="1208.1" cy="356.5" r="2.9"/><circle cx="1208.3" cy="357.8" r="2.9"/><circle cx="1208.6" cy="333.1" r="2.9"/><circle cx="1208.7" cy="343.8" r="2.9"/><circle cx="1209.0" cy="348.5" r="2.9"/><circle cx="1209.3" cy="328.2" r="2.9"/><circle cx="1209.3" cy="337.5" r="2.9"/><circle cx="1209.7" cy="343.3" r="2.9"/><circle cx="1209.8" cy="337.3" r="2.9"/><circle cx="1209.9" cy="346.5" r="2.9"/><circle cx="1210.0" cy="338.4" r="2.9"/><circle cx="1210.0" cy="327.7" r="2.9"/><circle cx="1210.1" cy="331.4" r="2.9"/><circle cx="1210.1" cy="324.3" r="2.9"/><circle cx="1210.2" cy="330.8" r="2.9"/><circle cx="1210.4" cy="347.0" r="2.9"/><circle cx="1210.4" cy="344.1" r="2.9"/><circle cx="1210.4" cy="346.2" r="2.9"/><circle cx="1210.6" cy="353.9" r="2.9"/><circle cx="1210.7" cy="332.3" r="2.9"/><circle cx="1210.8" cy="337.5" r="2.9"/><circle cx="1210.8" cy="342.6" r="2.9"/><circle cx="1210.9" cy="357.6" r="2.9"/><circle cx="1211.0" cy="344.2" r="2.9"/><circle cx="1211.0" cy="340.5" r="2.9"/><circle cx="1211.2" cy="344.5" r="2.9"/><circle cx="1211.2" cy="334.4" r="2.9"/><circle cx="1211.3" cy="325.9" r="2.9"/><circle cx="1211.4" cy="346.2" r="2.9"/><circle cx="1211.8" cy="338.4" r="2.9"/><circle cx="1211.8" cy="346.0" r="2.9"/><circle cx="1211.8" cy="332.3" r="2.9"/><circle cx="1212.0" cy="334.6" r="2.9"/><circle cx="1212.0" cy="349.1" r="2.9"/><circle cx="1212.1" cy="343.8" r="2.9"/><circle cx="1212.4" cy="351.1" r="2.9"/><circle cx="1212.5" cy="336.6" r="2.9"/><circle cx="1212.6" cy="342.7" r="2.9"/><circle cx="1212.6" cy="348.7" r="2.9"/><circle cx="1212.6" cy="350.7" r="2.9"/><circle cx="1212.9" cy="341.8" r="2.9"/><circle cx="1213.3" cy="345.0" r="2.9"/><circle cx="1213.4" cy="341.6" r="2.9"/><circle cx="1213.5" cy="341.2" r="2.9"/><circle cx="1213.6" cy="342.0" r="2.9"/><circle cx="1213.9" cy="346.8" r="2.9"/><circle cx="1214.0" cy="331.8" r="2.9"/><circle cx="1214.3" cy="342.3" r="2.9"/><circle cx="1214.6" cy="334.5" r="2.9"/><circle cx="1214.8" cy="342.8" r="2.9"/><circle cx="1214.9" cy="340.6" r="2.9"/><circle cx="1215.1" cy="344.3" r="2.9"/><circle cx="1215.2" cy="340.7" r="2.9"/><circle cx="1215.4" cy="341.5" r="2.9"/><circle cx="1215.4" cy="331.5" r="2.9"/><circle cx="1215.7" cy="356.1" r="2.9"/><circle cx="1215.7" cy="331.8" r="2.9"/><circle cx="1215.8" cy="327.5" r="2.9"/><circle cx="1215.9" cy="345.9" r="2.9"/><circle cx="1216.0" cy="348.2" r="2.9"/><circle cx="1216.4" cy="342.1" r="2.9"/><circle cx="1216.7" cy="340.3" r="2.9"/><circle cx="1216.7" cy="333.8" r="2.9"/><circle cx="1217.0" cy="360.8" r="2.9"/><circle cx="1217.0" cy="329.3" r="2.9"/><circle cx="1217.0" cy="365.4" r="2.9"/><circle cx="1217.1" cy="330.3" r="2.9"/><circle cx="1217.1" cy="334.8" r="2.9"/><circle cx="1217.3" cy="341.1" r="2.9"/><circle cx="1217.5" cy="339.6" r="2.9"/><circle cx="1217.6" cy="347.7" r="2.9"/><circle cx="1217.8" cy="336.4" r="2.9"/><circle cx="1217.9" cy="340.5" r="2.9"/><circle cx="1218.1" cy="330.6" r="2.9"/><circle cx="1218.1" cy="354.7" r="2.9"/><circle cx="1218.2" cy="341.0" r="2.9"/><circle cx="1218.4" cy="337.4" r="2.9"/><circle cx="1218.5" cy="343.7" r="2.9"/><circle cx="1218.5" cy="352.3" r="2.9"/><circle cx="1218.9" cy="347.2" r="2.9"/><circle cx="1219.0" cy="338.1" r="2.9"/><circle cx="1219.0" cy="345.2" r="2.9"/><circle cx="1219.3" cy="347.2" r="2.9"/><circle cx="1219.5" cy="348.1" r="2.9"/><circle cx="1219.7" cy="341.8" r="2.9"/><circle cx="1219.7" cy="350.8" r="2.9"/><circle cx="1219.7" cy="335.5" r="2.9"/><circle cx="1219.9" cy="345.6" r="2.9"/><circle cx="1220.2" cy="338.0" r="2.9"/><circle cx="1220.2" cy="345.1" r="2.9"/><circle cx="1220.3" cy="340.0" r="2.9"/><circle cx="1220.6" cy="351.3" r="2.9"/><circle cx="1220.8" cy="341.7" r="2.9"/><circle cx="1220.9" cy="356.5" r="2.9"/><circle cx="1221.0" cy="337.5" r="2.9"/><circle cx="1221.1" cy="355.0" r="2.9"/><circle cx="1221.5" cy="338.4" r="2.9"/><circle cx="1221.6" cy="325.3" r="2.9"/><circle cx="1221.7" cy="337.3" r="2.9"/><circle cx="1222.2" cy="353.9" r="2.9"/><circle cx="1222.2" cy="347.4" r="2.9"/><circle cx="1222.6" cy="350.3" r="2.9"/><circle cx="1222.7" cy="342.5" r="2.9"/><circle cx="1222.7" cy="348.9" r="2.9"/><circle cx="1223.3" cy="337.8" r="2.9"/><circle cx="1223.4" cy="362.7" r="2.9"/><circle cx="1223.5" cy="361.4" r="2.9"/><circle cx="1224.1" cy="350.6" r="2.9"/><circle cx="1224.3" cy="341.7" r="2.9"/><circle cx="1224.5" cy="341.2" r="2.9"/><circle cx="1224.7" cy="352.6" r="2.9"/><circle cx="1224.9" cy="350.1" r="2.9"/><circle cx="1226.2" cy="339.8" r="2.9"/><circle cx="1226.7" cy="354.5" r="2.9"/><circle cx="1226.8" cy="355.9" r="2.9"/><circle cx="1227.1" cy="353.0" r="2.9"/><circle cx="1227.3" cy="351.6" r="2.9"/><circle cx="1227.3" cy="350.0" r="2.9"/><circle cx="1227.3" cy="347.8" r="2.9"/><circle cx="1227.4" cy="345.4" r="2.9"/><circle cx="1227.6" cy="343.0" r="2.9"/><circle cx="1227.8" cy="360.1" r="2.9"/><circle cx="1227.8" cy="335.5" r="2.9"/><circle cx="1227.9" cy="349.2" r="2.9"/><circle cx="1228.0" cy="356.6" r="2.9"/><circle cx="1228.5" cy="370.8" r="2.9"/><circle cx="1228.5" cy="345.5" r="2.9"/><circle cx="1228.6" cy="361.9" r="2.9"/><circle cx="1228.9" cy="361.1" r="2.9"/><circle cx="1229.2" cy="358.0" r="2.9"/><circle cx="1229.3" cy="366.9" r="2.9"/><circle cx="1229.4" cy="335.5" r="2.9"/><circle cx="1229.5" cy="358.7" r="2.9"/><circle cx="1229.6" cy="348.2" r="2.9"/><circle cx="1229.8" cy="353.6" r="2.9"/><circle cx="1229.8" cy="348.1" r="2.9"/><circle cx="1230.0" cy="342.5" r="2.9"/><circle cx="1230.0" cy="334.2" r="2.9"/><circle cx="1230.1" cy="353.6" r="2.9"/><circle cx="1230.1" cy="347.4" r="2.9"/><circle cx="1230.5" cy="338.7" r="2.9"/><circle cx="1230.5" cy="348.4" r="2.9"/><circle cx="1230.9" cy="340.5" r="2.9"/><circle cx="1231.0" cy="342.4" r="2.9"/><circle cx="1231.0" cy="351.3" r="2.9"/><circle cx="1231.1" cy="357.2" r="2.9"/><circle cx="1231.1" cy="333.7" r="2.9"/><circle cx="1231.4" cy="348.8" r="2.9"/><circle cx="1231.4" cy="355.4" r="2.9"/><circle cx="1231.7" cy="339.2" r="2.9"/><circle cx="1231.8" cy="346.9" r="2.9"/><circle cx="1232.0" cy="352.7" r="2.9"/><circle cx="1232.2" cy="358.8" r="2.9"/><circle cx="1232.4" cy="340.3" r="2.9"/><circle cx="1232.5" cy="336.4" r="2.9"/><circle cx="1232.7" cy="344.6" r="2.9"/><circle cx="1232.8" cy="345.5" r="2.9"/><circle cx="1232.9" cy="349.3" r="2.9"/><circle cx="1233.4" cy="350.2" r="2.9"/><circle cx="1233.7" cy="334.1" r="2.9"/><circle cx="1233.8" cy="356.9" r="2.9"/><circle cx="1233.8" cy="336.3" r="2.9"/><circle cx="1234.0" cy="353.3" r="2.9"/><circle cx="1234.0" cy="354.8" r="2.9"/><circle cx="1234.1" cy="354.0" r="2.9"/><circle cx="1234.1" cy="352.9" r="2.9"/><circle cx="1234.2" cy="353.4" r="2.9"/><circle cx="1234.2" cy="343.5" r="2.9"/><circle cx="1234.2" cy="343.2" r="2.9"/><circle cx="1234.3" cy="370.8" r="2.9"/><circle cx="1234.6" cy="365.6" r="2.9"/><circle cx="1234.7" cy="363.4" r="2.9"/><circle cx="1234.7" cy="358.3" r="2.9"/><circle cx="1234.9" cy="337.2" r="2.9"/><circle cx="1234.9" cy="368.7" r="2.9"/><circle cx="1235.1" cy="348.5" r="2.9"/><circle cx="1235.1" cy="350.0" r="2.9"/><circle cx="1235.3" cy="357.8" r="2.9"/><circle cx="1235.4" cy="344.9" r="2.9"/><circle cx="1235.4" cy="363.3" r="2.9"/><circle cx="1235.6" cy="330.7" r="2.9"/><circle cx="1235.7" cy="362.5" r="2.9"/><circle cx="1235.7" cy="355.5" r="2.9"/><circle cx="1236.6" cy="343.7" r="2.9"/><circle cx="1236.7" cy="359.1" r="2.9"/><circle cx="1236.7" cy="362.2" r="2.9"/><circle cx="1236.7" cy="358.6" r="2.9"/><circle cx="1237.2" cy="360.2" r="2.9"/><circle cx="1237.4" cy="348.9" r="2.9"/><circle cx="1237.4" cy="361.3" r="2.9"/><circle cx="1237.6" cy="361.4" r="2.9"/><circle cx="1237.7" cy="363.7" r="2.9"/><circle cx="1237.9" cy="357.6" r="2.9"/><circle cx="1238.2" cy="337.5" r="2.9"/><circle cx="1238.3" cy="356.4" r="2.9"/><circle cx="1238.5" cy="340.4" r="2.9"/><circle cx="1238.5" cy="344.8" r="2.9"/><circle cx="1238.5" cy="350.0" r="2.9"/><circle cx="1239.0" cy="352.8" r="2.9"/><circle cx="1239.3" cy="348.8" r="2.9"/><circle cx="1239.5" cy="354.4" r="2.9"/><circle cx="1239.6" cy="356.2" r="2.9"/><circle cx="1239.6" cy="352.9" r="2.9"/><circle cx="1239.8" cy="351.9" r="2.9"/><circle cx="1240.0" cy="354.6" r="2.9"/><circle cx="1240.1" cy="358.0" r="2.9"/><circle cx="1240.5" cy="343.8" r="2.9"/><circle cx="1240.9" cy="339.2" r="2.9"/><circle cx="1241.0" cy="361.8" r="2.9"/><circle cx="1241.1" cy="352.5" r="2.9"/><circle cx="1241.3" cy="332.4" r="2.9"/><circle cx="1241.3" cy="362.3" r="2.9"/><circle cx="1241.4" cy="362.6" r="2.9"/><circle cx="1241.5" cy="336.4" r="2.9"/><circle cx="1241.7" cy="341.7" r="2.9"/><circle cx="1242.0" cy="347.3" r="2.9"/><circle cx="1242.1" cy="341.5" r="2.9"/><circle cx="1242.2" cy="346.4" r="2.9"/><circle cx="1242.4" cy="351.1" r="2.9"/><circle cx="1242.5" cy="361.3" r="2.9"/><circle cx="1243.0" cy="331.4" r="2.9"/><circle cx="1243.2" cy="352.7" r="2.9"/><circle cx="1243.5" cy="362.8" r="2.9"/><circle cx="1243.8" cy="332.0" r="2.9"/><circle cx="1243.8" cy="355.2" r="2.9"/><circle cx="1244.3" cy="351.8" r="2.9"/><circle cx="1244.3" cy="347.7" r="2.9"/><circle cx="1244.7" cy="360.0" r="2.9"/><circle cx="1244.9" cy="365.7" r="2.9"/><circle cx="1245.1" cy="363.6" r="2.9"/><circle cx="1245.1" cy="373.2" r="2.9"/><circle cx="1245.2" cy="346.9" r="2.9"/><circle cx="1245.7" cy="336.0" r="2.9"/><circle cx="1245.7" cy="348.6" r="2.9"/><circle cx="1245.8" cy="354.6" r="2.9"/><circle cx="1245.8" cy="364.7" r="2.9"/><circle cx="1246.0" cy="358.5" r="2.9"/><circle cx="1246.0" cy="348.2" r="2.9"/><circle cx="1246.1" cy="366.9" r="2.9"/><circle cx="1246.1" cy="357.7" r="2.9"/><circle cx="1246.2" cy="355.6" r="2.9"/><circle cx="1246.3" cy="351.7" r="2.9"/><circle cx="1246.4" cy="357.4" r="2.9"/><circle cx="1246.5" cy="359.1" r="2.9"/><circle cx="1246.6" cy="353.8" r="2.9"/><circle cx="1246.6" cy="333.7" r="2.9"/><circle cx="1246.9" cy="346.3" r="2.9"/><circle cx="1246.9" cy="357.9" r="2.9"/><circle cx="1247.2" cy="369.5" r="2.9"/><circle cx="1247.3" cy="365.6" r="2.9"/><circle cx="1247.6" cy="365.0" r="2.9"/><circle cx="1247.8" cy="371.5" r="2.9"/><circle cx="1247.9" cy="360.9" r="2.9"/><circle cx="1247.9" cy="367.5" r="2.9"/><circle cx="1248.0" cy="364.4" r="2.9"/><circle cx="1248.1" cy="356.7" r="2.9"/><circle cx="1248.5" cy="347.1" r="2.9"/><circle cx="1248.7" cy="341.0" r="2.9"/><circle cx="1248.7" cy="359.0" r="2.9"/><circle cx="1249.1" cy="344.5" r="2.9"/><circle cx="1249.6" cy="354.1" r="2.9"/><circle cx="1249.8" cy="362.4" r="2.9"/><circle cx="1250.0" cy="349.2" r="2.9"/><circle cx="1250.0" cy="364.3" r="2.9"/><circle cx="1250.1" cy="355.9" r="2.9"/><circle cx="1250.5" cy="347.9" r="2.9"/><circle cx="1250.6" cy="361.3" r="2.9"/><circle cx="1250.6" cy="362.7" r="2.9"/><circle cx="1250.6" cy="351.4" r="2.9"/><circle cx="1251.0" cy="360.7" r="2.9"/><circle cx="1251.0" cy="346.2" r="2.9"/><circle cx="1251.5" cy="357.0" r="2.9"/><circle cx="1251.5" cy="358.9" r="2.9"/><circle cx="1251.7" cy="347.3" r="2.9"/><circle cx="1251.8" cy="357.0" r="2.9"/><circle cx="1252.2" cy="370.8" r="2.9"/><circle cx="1252.3" cy="350.8" r="2.9"/><circle cx="1252.6" cy="346.7" r="2.9"/><circle cx="1253.3" cy="344.5" r="2.9"/><circle cx="1253.4" cy="350.0" r="2.9"/><circle cx="1253.4" cy="347.2" r="2.9"/><circle cx="1253.6" cy="342.7" r="2.9"/><circle cx="1253.8" cy="357.7" r="2.9"/><circle cx="1254.2" cy="360.2" r="2.9"/><circle cx="1254.2" cy="348.7" r="2.9"/><circle cx="1254.3" cy="357.6" r="2.9"/><circle cx="1254.6" cy="366.6" r="2.9"/><circle cx="1254.9" cy="360.9" r="2.9"/><circle cx="1255.0" cy="359.2" r="2.9"/><circle cx="1255.1" cy="364.3" r="2.9"/><circle cx="1255.3" cy="351.8" r="2.9"/><circle cx="1255.3" cy="366.5" r="2.9"/><circle cx="1255.3" cy="376.4" r="2.9"/><circle cx="1255.4" cy="351.9" r="2.9"/><circle cx="1255.7" cy="341.7" r="2.9"/><circle cx="1255.8" cy="351.5" r="2.9"/><circle cx="1255.8" cy="349.2" r="2.9"/><circle cx="1256.0" cy="360.0" r="2.9"/><circle cx="1256.2" cy="370.2" r="2.9"/><circle cx="1256.5" cy="363.8" r="2.9"/><circle cx="1256.5" cy="375.5" r="2.9"/><circle cx="1256.5" cy="362.7" r="2.9"/><circle cx="1256.7" cy="359.0" r="2.9"/><circle cx="1256.7" cy="341.8" r="2.9"/><circle cx="1256.8" cy="362.2" r="2.9"/><circle cx="1257.1" cy="352.9" r="2.9"/><circle cx="1257.2" cy="353.8" r="2.9"/><circle cx="1257.4" cy="356.0" r="2.9"/><circle cx="1257.8" cy="375.0" r="2.9"/><circle cx="1258.2" cy="367.5" r="2.9"/><circle cx="1258.2" cy="359.0" r="2.9"/><circle cx="1258.5" cy="346.7" r="2.9"/><circle cx="1259.2" cy="355.3" r="2.9"/><circle cx="1259.3" cy="356.7" r="2.9"/><circle cx="1259.5" cy="368.1" r="2.9"/><circle cx="1259.9" cy="364.8" r="2.9"/><circle cx="1259.9" cy="364.6" r="2.9"/><circle cx="1259.9" cy="351.2" r="2.9"/><circle cx="1260.0" cy="369.0" r="2.9"/><circle cx="1260.3" cy="386.8" r="2.9"/><circle cx="1260.9" cy="347.7" r="2.9"/><circle cx="1261.1" cy="350.8" r="2.9"/><circle cx="1261.2" cy="360.3" r="2.9"/><circle cx="1261.4" cy="369.6" r="2.9"/><circle cx="1261.6" cy="362.3" r="2.9"/><circle cx="1261.7" cy="360.7" r="2.9"/><circle cx="1261.8" cy="374.8" r="2.9"/><circle cx="1261.8" cy="350.5" r="2.9"/><circle cx="1261.9" cy="342.3" r="2.9"/><circle cx="1262.3" cy="346.8" r="2.9"/><circle cx="1262.3" cy="367.9" r="2.9"/><circle cx="1262.4" cy="369.4" r="2.9"/><circle cx="1262.4" cy="356.3" r="2.9"/><circle cx="1262.5" cy="347.4" r="2.9"/><circle cx="1262.5" cy="352.2" r="2.9"/><circle cx="1262.6" cy="363.4" r="2.9"/><circle cx="1262.6" cy="369.3" r="2.9"/><circle cx="1262.7" cy="354.2" r="2.9"/><circle cx="1262.9" cy="352.4" r="2.9"/><circle cx="1262.9" cy="351.6" r="2.9"/><circle cx="1263.2" cy="354.3" r="2.9"/><circle cx="1263.2" cy="366.2" r="2.9"/><circle cx="1263.3" cy="361.3" r="2.9"/><circle cx="1263.4" cy="363.0" r="2.9"/><circle cx="1263.4" cy="360.4" r="2.9"/><circle cx="1263.7" cy="361.4" r="2.9"/><circle cx="1263.7" cy="348.5" r="2.9"/><circle cx="1263.8" cy="350.5" r="2.9"/><circle cx="1263.8" cy="363.0" r="2.9"/><circle cx="1264.0" cy="363.6" r="2.9"/><circle cx="1264.0" cy="370.6" r="2.9"/><circle cx="1264.2" cy="359.0" r="2.9"/><circle cx="1264.3" cy="352.4" r="2.9"/><circle cx="1264.7" cy="358.1" r="2.9"/><circle cx="1265.0" cy="357.9" r="2.9"/><circle cx="1265.1" cy="365.4" r="2.9"/><circle cx="1265.1" cy="358.6" r="2.9"/><circle cx="1265.2" cy="365.3" r="2.9"/><circle cx="1265.3" cy="365.8" r="2.9"/><circle cx="1265.5" cy="365.8" r="2.9"/><circle cx="1265.6" cy="366.4" r="2.9"/><circle cx="1265.8" cy="352.2" r="2.9"/><circle cx="1266.1" cy="372.4" r="2.9"/><circle cx="1266.3" cy="377.8" r="2.9"/><circle cx="1266.4" cy="369.6" r="2.9"/><circle cx="1266.4" cy="377.7" r="2.9"/><circle cx="1266.9" cy="366.0" r="2.9"/><circle cx="1267.0" cy="357.0" r="2.9"/><circle cx="1267.0" cy="367.4" r="2.9"/><circle cx="1267.2" cy="361.7" r="2.9"/><circle cx="1267.3" cy="360.8" r="2.9"/><circle cx="1267.3" cy="378.5" r="2.9"/><circle cx="1267.8" cy="354.7" r="2.9"/><circle cx="1267.8" cy="373.9" r="2.9"/><circle cx="1267.8" cy="357.5" r="2.9"/><circle cx="1267.9" cy="347.7" r="2.9"/><circle cx="1268.2" cy="370.2" r="2.9"/><circle cx="1268.3" cy="363.9" r="2.9"/><circle cx="1268.3" cy="365.1" r="2.9"/><circle cx="1268.4" cy="365.6" r="2.9"/><circle cx="1268.5" cy="374.2" r="2.9"/><circle cx="1268.5" cy="366.9" r="2.9"/><circle cx="1268.7" cy="360.9" r="2.9"/><circle cx="1268.9" cy="362.6" r="2.9"/><circle cx="1269.1" cy="368.2" r="2.9"/><circle cx="1269.1" cy="358.7" r="2.9"/><circle cx="1269.3" cy="367.8" r="2.9"/><circle cx="1270.1" cy="346.7" r="2.9"/><circle cx="1270.3" cy="363.0" r="2.9"/><circle cx="1270.4" cy="364.0" r="2.9"/><circle cx="1270.7" cy="371.5" r="2.9"/><circle cx="1270.7" cy="354.8" r="2.9"/><circle cx="1270.9" cy="362.3" r="2.9"/><circle cx="1271.1" cy="369.0" r="2.9"/><circle cx="1271.4" cy="393.1" r="2.9"/><circle cx="1271.5" cy="366.4" r="2.9"/><circle cx="1271.7" cy="370.8" r="2.9"/><circle cx="1272.0" cy="359.8" r="2.9"/><circle cx="1272.1" cy="386.5" r="2.9"/><circle cx="1272.2" cy="362.5" r="2.9"/><circle cx="1272.4" cy="362.4" r="2.9"/><circle cx="1272.4" cy="366.3" r="2.9"/><circle cx="1272.5" cy="353.6" r="2.9"/><circle cx="1272.5" cy="356.0" r="2.9"/><circle cx="1272.6" cy="361.4" r="2.9"/><circle cx="1272.6" cy="357.5" r="2.9"/><circle cx="1272.7" cy="374.5" r="2.9"/><circle cx="1272.7" cy="360.1" r="2.9"/><circle cx="1273.0" cy="387.0" r="2.9"/><circle cx="1273.2" cy="367.4" r="2.9"/><circle cx="1273.3" cy="358.2" r="2.9"/><circle cx="1273.7" cy="366.3" r="2.9"/><circle cx="1273.7" cy="371.7" r="2.9"/><circle cx="1273.8" cy="364.7" r="2.9"/><circle cx="1274.0" cy="369.1" r="2.9"/><circle cx="1274.2" cy="362.5" r="2.9"/><circle cx="1274.4" cy="357.9" r="2.9"/><circle cx="1274.4" cy="363.7" r="2.9"/><circle cx="1274.5" cy="382.1" r="2.9"/><circle cx="1274.8" cy="361.1" r="2.9"/><circle cx="1274.9" cy="364.0" r="2.9"/><circle cx="1275.2" cy="351.8" r="2.9"/><circle cx="1275.3" cy="359.0" r="2.9"/><circle cx="1275.4" cy="367.9" r="2.9"/><circle cx="1275.6" cy="361.6" r="2.9"/><circle cx="1275.7" cy="376.2" r="2.9"/><circle cx="1275.7" cy="374.4" r="2.9"/><circle cx="1275.9" cy="360.8" r="2.9"/><circle cx="1276.0" cy="363.6" r="2.9"/><circle cx="1276.2" cy="371.3" r="2.9"/><circle cx="1276.2" cy="368.3" r="2.9"/><circle cx="1276.3" cy="362.0" r="2.9"/><circle cx="1276.5" cy="349.4" r="2.9"/><circle cx="1277.1" cy="378.7" r="2.9"/><circle cx="1277.6" cy="365.3" r="2.9"/><circle cx="1277.8" cy="366.8" r="2.9"/><circle cx="1277.8" cy="359.1" r="2.9"/><circle cx="1277.9" cy="380.0" r="2.9"/><circle cx="1277.9" cy="364.1" r="2.9"/><circle cx="1278.0" cy="367.0" r="2.9"/><circle cx="1278.1" cy="348.4" r="2.9"/><circle cx="1278.2" cy="361.2" r="2.9"/><circle cx="1278.3" cy="364.6" r="2.9"/><circle cx="1278.5" cy="369.1" r="2.9"/><circle cx="1278.6" cy="372.1" r="2.9"/><circle cx="1278.7" cy="363.4" r="2.9"/><circle cx="1278.9" cy="375.5" r="2.9"/><circle cx="1279.1" cy="364.2" r="2.9"/><circle cx="1279.2" cy="363.8" r="2.9"/><circle cx="1279.7" cy="365.4" r="2.9"/><circle cx="1279.7" cy="351.4" r="2.9"/><circle cx="1279.8" cy="346.9" r="2.9"/><circle cx="1279.9" cy="383.7" r="2.9"/><circle cx="1279.9" cy="350.9" r="2.9"/><circle cx="1280.0" cy="360.2" r="2.9"/><circle cx="1280.0" cy="371.1" r="2.9"/><circle cx="1280.2" cy="359.7" r="2.9"/><circle cx="1280.6" cy="376.5" r="2.9"/><circle cx="1280.7" cy="349.1" r="2.9"/><circle cx="1280.8" cy="366.7" r="2.9"/><circle cx="1280.9" cy="371.6" r="2.9"/><circle cx="1281.0" cy="387.3" r="2.9"/><circle cx="1281.0" cy="380.2" r="2.9"/><circle cx="1281.1" cy="359.4" r="2.9"/><circle cx="1281.1" cy="374.1" r="2.9"/><circle cx="1281.2" cy="368.2" r="2.9"/><circle cx="1281.3" cy="355.4" r="2.9"/><circle cx="1281.5" cy="361.2" r="2.9"/><circle cx="1282.0" cy="376.2" r="2.9"/><circle cx="1282.2" cy="363.2" r="2.9"/><circle cx="1282.2" cy="357.7" r="2.9"/><circle cx="1282.4" cy="360.5" r="2.9"/><circle cx="1282.4" cy="355.2" r="2.9"/><circle cx="1282.5" cy="352.6" r="2.9"/><circle cx="1282.6" cy="369.3" r="2.9"/><circle cx="1282.7" cy="370.3" r="2.9"/><circle cx="1283.0" cy="376.1" r="2.9"/><circle cx="1283.1" cy="353.0" r="2.9"/><circle cx="1283.2" cy="356.4" r="2.9"/><circle cx="1283.2" cy="369.9" r="2.9"/><circle cx="1283.2" cy="367.1" r="2.9"/><circle cx="1283.2" cy="364.2" r="2.9"/><circle cx="1284.0" cy="356.0" r="2.9"/><circle cx="1284.0" cy="363.3" r="2.9"/><circle cx="1284.1" cy="354.2" r="2.9"/><circle cx="1284.3" cy="381.2" r="2.9"/><circle cx="1284.4" cy="372.9" r="2.9"/><circle cx="1284.7" cy="357.9" r="2.9"/><circle cx="1284.7" cy="378.3" r="2.9"/><circle cx="1285.3" cy="357.7" r="2.9"/><circle cx="1285.3" cy="371.9" r="2.9"/><circle cx="1285.4" cy="367.7" r="2.9"/><circle cx="1285.6" cy="362.9" r="2.9"/><circle cx="1285.6" cy="379.6" r="2.9"/><circle cx="1285.8" cy="352.6" r="2.9"/><circle cx="1285.9" cy="363.5" r="2.9"/><circle cx="1286.1" cy="363.6" r="2.9"/><circle cx="1286.6" cy="351.7" r="2.9"/><circle cx="1287.0" cy="354.1" r="2.9"/><circle cx="1287.0" cy="367.7" r="2.9"/><circle cx="1287.0" cy="369.0" r="2.9"/><circle cx="1287.1" cy="358.3" r="2.9"/><circle cx="1287.4" cy="372.2" r="2.9"/><circle cx="1287.4" cy="371.3" r="2.9"/><circle cx="1287.6" cy="374.4" r="2.9"/><circle cx="1287.6" cy="364.8" r="2.9"/><circle cx="1287.6" cy="366.0" r="2.9"/><circle cx="1287.9" cy="372.9" r="2.9"/><circle cx="1287.9" cy="362.3" r="2.9"/><circle cx="1287.9" cy="360.0" r="2.9"/><circle cx="1288.7" cy="357.2" r="2.9"/><circle cx="1288.7" cy="372.2" r="2.9"/><circle cx="1288.9" cy="379.9" r="2.9"/><circle cx="1289.0" cy="352.1" r="2.9"/><circle cx="1289.3" cy="365.2" r="2.9"/><circle cx="1289.5" cy="374.9" r="2.9"/><circle cx="1289.9" cy="382.8" r="2.9"/><circle cx="1290.0" cy="370.7" r="2.9"/><circle cx="1290.3" cy="361.5" r="2.9"/><circle cx="1290.3" cy="375.5" r="2.9"/><circle cx="1290.4" cy="391.6" r="2.9"/><circle cx="1290.5" cy="372.5" r="2.9"/><circle cx="1290.5" cy="375.8" r="2.9"/><circle cx="1290.6" cy="386.2" r="2.9"/><circle cx="1290.7" cy="356.7" r="2.9"/><circle cx="1290.9" cy="377.3" r="2.9"/><circle cx="1291.0" cy="384.1" r="2.9"/><circle cx="1291.0" cy="379.3" r="2.9"/><circle cx="1291.2" cy="371.4" r="2.9"/><circle cx="1291.6" cy="366.6" r="2.9"/><circle cx="1291.6" cy="365.0" r="2.9"/><circle cx="1291.6" cy="358.9" r="2.9"/><circle cx="1291.7" cy="365.5" r="2.9"/><circle cx="1291.8" cy="359.9" r="2.9"/><circle cx="1292.3" cy="369.0" r="2.9"/><circle cx="1292.4" cy="368.0" r="2.9"/><circle cx="1292.5" cy="365.0" r="2.9"/><circle cx="1292.7" cy="366.5" r="2.9"/><circle cx="1292.7" cy="370.7" r="2.9"/><circle cx="1292.8" cy="359.8" r="2.9"/><circle cx="1292.8" cy="376.3" r="2.9"/><circle cx="1293.1" cy="371.9" r="2.9"/><circle cx="1293.4" cy="376.0" r="2.9"/><circle cx="1293.4" cy="367.4" r="2.9"/><circle cx="1293.6" cy="368.5" r="2.9"/><circle cx="1293.6" cy="371.8" r="2.9"/><circle cx="1293.6" cy="371.5" r="2.9"/><circle cx="1293.6" cy="367.0" r="2.9"/><circle cx="1294.4" cy="367.7" r="2.9"/><circle cx="1294.5" cy="366.2" r="2.9"/><circle cx="1294.7" cy="367.5" r="2.9"/><circle cx="1294.8" cy="364.5" r="2.9"/><circle cx="1294.9" cy="364.1" r="2.9"/><circle cx="1295.2" cy="362.6" r="2.9"/><circle cx="1295.3" cy="384.4" r="2.9"/><circle cx="1295.3" cy="365.3" r="2.9"/><circle cx="1295.4" cy="369.9" r="2.9"/><circle cx="1295.4" cy="362.8" r="2.9"/><circle cx="1295.6" cy="372.4" r="2.9"/><circle cx="1296.3" cy="383.3" r="2.9"/><circle cx="1296.6" cy="365.3" r="2.9"/><circle cx="1296.7" cy="372.9" r="2.9"/><circle cx="1296.8" cy="370.7" r="2.9"/><circle cx="1296.9" cy="380.0" r="2.9"/><circle cx="1297.5" cy="370.9" r="2.9"/><circle cx="1297.5" cy="370.7" r="2.9"/><circle cx="1297.5" cy="369.6" r="2.9"/><circle cx="1297.6" cy="355.7" r="2.9"/><circle cx="1298.1" cy="381.7" r="2.9"/><circle cx="1298.1" cy="388.1" r="2.9"/><circle cx="1298.4" cy="365.1" r="2.9"/><circle cx="1298.5" cy="380.5" r="2.9"/><circle cx="1298.7" cy="372.2" r="2.9"/><circle cx="1298.8" cy="386.5" r="2.9"/><circle cx="1298.9" cy="367.8" r="2.9"/><circle cx="1299.2" cy="376.9" r="2.9"/><circle cx="1299.2" cy="385.6" r="2.9"/><circle cx="1299.3" cy="378.1" r="2.9"/><circle cx="1299.5" cy="374.8" r="2.9"/><circle cx="1299.7" cy="372.5" r="2.9"/><circle cx="1299.8" cy="367.8" r="2.9"/><circle cx="1299.9" cy="374.4" r="2.9"/><circle cx="1300.0" cy="365.0" r="2.9"/><circle cx="1300.0" cy="389.4" r="2.9"/><circle cx="1300.0" cy="378.7" r="2.9"/><circle cx="1300.2" cy="371.9" r="2.9"/><circle cx="1300.3" cy="360.8" r="2.9"/><circle cx="1300.4" cy="383.8" r="2.9"/><circle cx="1300.4" cy="386.6" r="2.9"/><circle cx="1300.5" cy="378.0" r="2.9"/><circle cx="1300.7" cy="382.4" r="2.9"/><circle cx="1300.7" cy="382.3" r="2.9"/><circle cx="1300.9" cy="373.5" r="2.9"/><circle cx="1301.4" cy="371.5" r="2.9"/><circle cx="1301.8" cy="375.3" r="2.9"/><circle cx="1302.0" cy="386.4" r="2.9"/><circle cx="1302.3" cy="369.4" r="2.9"/><circle cx="1302.7" cy="361.4" r="2.9"/><circle cx="1302.9" cy="375.7" r="2.9"/><circle cx="1302.9" cy="375.7" r="2.9"/><circle cx="1303.0" cy="373.7" r="2.9"/><circle cx="1303.0" cy="376.3" r="2.9"/><circle cx="1303.2" cy="364.8" r="2.9"/><circle cx="1303.4" cy="367.3" r="2.9"/><circle cx="1303.4" cy="371.1" r="2.9"/><circle cx="1303.5" cy="373.9" r="2.9"/><circle cx="1303.6" cy="379.5" r="2.9"/><circle cx="1303.6" cy="381.7" r="2.9"/><circle cx="1303.8" cy="376.6" r="2.9"/><circle cx="1303.8" cy="373.3" r="2.9"/><circle cx="1304.2" cy="366.5" r="2.9"/><circle cx="1304.3" cy="370.5" r="2.9"/><circle cx="1304.6" cy="361.8" r="2.9"/><circle cx="1304.9" cy="368.7" r="2.9"/><circle cx="1304.9" cy="378.8" r="2.9"/><circle cx="1305.0" cy="380.2" r="2.9"/><circle cx="1305.0" cy="366.2" r="2.9"/><circle cx="1305.7" cy="386.2" r="2.9"/><circle cx="1305.9" cy="355.8" r="2.9"/><circle cx="1305.9" cy="380.0" r="2.9"/><circle cx="1305.9" cy="374.8" r="2.9"/><circle cx="1306.0" cy="373.3" r="2.9"/><circle cx="1306.2" cy="378.8" r="2.9"/><circle cx="1306.3" cy="371.3" r="2.9"/><circle cx="1306.7" cy="396.8" r="2.9"/><circle cx="1306.9" cy="371.1" r="2.9"/><circle cx="1307.0" cy="372.1" r="2.9"/><circle cx="1307.2" cy="378.1" r="2.9"/><circle cx="1307.3" cy="359.1" r="2.9"/><circle cx="1307.5" cy="373.9" r="2.9"/><circle cx="1307.7" cy="363.7" r="2.9"/><circle cx="1307.7" cy="388.3" r="2.9"/><circle cx="1307.7" cy="370.9" r="2.9"/><circle cx="1307.8" cy="373.9" r="2.9"/><circle cx="1308.4" cy="360.8" r="2.9"/><circle cx="1308.7" cy="393.0" r="2.9"/><circle cx="1308.8" cy="361.3" r="2.9"/><circle cx="1309.0" cy="363.4" r="2.9"/><circle cx="1309.1" cy="369.2" r="2.9"/><circle cx="1309.4" cy="357.0" r="2.9"/><circle cx="1309.4" cy="364.5" r="2.9"/><circle cx="1309.4" cy="371.8" r="2.9"/><circle cx="1310.0" cy="385.8" r="2.9"/><circle cx="1310.3" cy="386.3" r="2.9"/><circle cx="1310.5" cy="366.1" r="2.9"/><circle cx="1310.6" cy="370.8" r="2.9"/><circle cx="1310.7" cy="382.1" r="2.9"/><circle cx="1310.8" cy="387.1" r="2.9"/><circle cx="1310.8" cy="368.6" r="2.9"/><circle cx="1310.8" cy="373.3" r="2.9"/><circle cx="1311.4" cy="375.6" r="2.9"/><circle cx="1311.4" cy="377.1" r="2.9"/><circle cx="1311.5" cy="373.5" r="2.9"/><circle cx="1311.6" cy="393.3" r="2.9"/><circle cx="1311.9" cy="373.9" r="2.9"/><circle cx="1312.0" cy="387.6" r="2.9"/><circle cx="1312.2" cy="381.3" r="2.9"/><circle cx="1312.4" cy="410.8" r="2.9"/><circle cx="1312.4" cy="390.8" r="2.9"/><circle cx="1313.0" cy="360.7" r="2.9"/><circle cx="1313.2" cy="382.9" r="2.9"/><circle cx="1313.6" cy="359.9" r="2.9"/><circle cx="1313.8" cy="390.0" r="2.9"/><circle cx="1314.2" cy="374.2" r="2.9"/><circle cx="1314.5" cy="359.5" r="2.9"/><circle cx="1314.7" cy="368.7" r="2.9"/><circle cx="1314.8" cy="373.9" r="2.9"/><circle cx="1315.0" cy="391.2" r="2.9"/><circle cx="1315.0" cy="377.9" r="2.9"/><circle cx="1315.1" cy="381.7" r="2.9"/><circle cx="1315.1" cy="371.3" r="2.9"/><circle cx="1315.2" cy="372.8" r="2.9"/><circle cx="1315.3" cy="364.5" r="2.9"/><circle cx="1315.3" cy="373.3" r="2.9"/><circle cx="1315.6" cy="374.3" r="2.9"/><circle cx="1315.7" cy="375.9" r="2.9"/><circle cx="1315.8" cy="369.7" r="2.9"/><circle cx="1316.0" cy="374.7" r="2.9"/><circle cx="1316.0" cy="372.7" r="2.9"/><circle cx="1316.1" cy="378.8" r="2.9"/><circle cx="1316.3" cy="371.1" r="2.9"/><circle cx="1316.4" cy="371.3" r="2.9"/><circle cx="1316.4" cy="368.9" r="2.9"/><circle cx="1316.4" cy="370.5" r="2.9"/><circle cx="1316.4" cy="373.7" r="2.9"/><circle cx="1316.5" cy="367.7" r="2.9"/><circle cx="1316.6" cy="388.3" r="2.9"/><circle cx="1316.8" cy="386.2" r="2.9"/><circle cx="1317.0" cy="379.7" r="2.9"/><circle cx="1317.0" cy="383.6" r="2.9"/><circle cx="1317.4" cy="366.2" r="2.9"/><circle cx="1317.4" cy="371.1" r="2.9"/><circle cx="1317.5" cy="372.4" r="2.9"/><circle cx="1317.7" cy="378.6" r="2.9"/><circle cx="1317.8" cy="384.3" r="2.9"/><circle cx="1317.9" cy="384.9" r="2.9"/><circle cx="1318.1" cy="364.5" r="2.9"/><circle cx="1318.2" cy="376.1" r="2.9"/><circle cx="1318.2" cy="387.6" r="2.9"/><circle cx="1318.3" cy="374.5" r="2.9"/><circle cx="1318.3" cy="381.2" r="2.9"/><circle cx="1318.6" cy="362.9" r="2.9"/><circle cx="1318.8" cy="377.1" r="2.9"/><circle cx="1318.9" cy="374.6" r="2.9"/><circle cx="1319.1" cy="360.4" r="2.9"/><circle cx="1319.3" cy="384.7" r="2.9"/><circle cx="1319.5" cy="390.5" r="2.9"/><circle cx="1319.7" cy="385.1" r="2.9"/><circle cx="1319.8" cy="374.2" r="2.9"/><circle cx="1320.0" cy="376.0" r="2.9"/><circle cx="1320.4" cy="371.9" r="2.9"/><circle cx="1320.5" cy="383.3" r="2.9"/><circle cx="1320.5" cy="381.9" r="2.9"/><circle cx="1320.7" cy="391.6" r="2.9"/><circle cx="1320.7" cy="377.4" r="2.9"/><circle cx="1321.2" cy="386.8" r="2.9"/><circle cx="1321.3" cy="375.8" r="2.9"/><circle cx="1321.5" cy="371.9" r="2.9"/><circle cx="1321.7" cy="377.6" r="2.9"/><circle cx="1321.9" cy="370.7" r="2.9"/><circle cx="1322.0" cy="370.8" r="2.9"/><circle cx="1322.3" cy="385.3" r="2.9"/><circle cx="1322.3" cy="384.9" r="2.9"/><circle cx="1322.4" cy="371.5" r="2.9"/><circle cx="1322.6" cy="370.5" r="2.9"/><circle cx="1322.9" cy="376.4" r="2.9"/><circle cx="1323.2" cy="371.9" r="2.9"/><circle cx="1323.5" cy="385.2" r="2.9"/><circle cx="1323.6" cy="375.4" r="2.9"/><circle cx="1323.8" cy="367.4" r="2.9"/><circle cx="1323.9" cy="371.2" r="2.9"/><circle cx="1324.2" cy="382.4" r="2.9"/><circle cx="1324.2" cy="398.7" r="2.9"/><circle cx="1324.6" cy="383.4" r="2.9"/><circle cx="1324.8" cy="367.1" r="2.9"/><circle cx="1324.9" cy="370.9" r="2.9"/><circle cx="1325.0" cy="380.0" r="2.9"/><circle cx="1325.2" cy="377.1" r="2.9"/><circle cx="1325.2" cy="379.9" r="2.9"/><circle cx="1325.3" cy="398.5" r="2.9"/><circle cx="1325.4" cy="370.0" r="2.9"/><circle cx="1325.4" cy="370.5" r="2.9"/><circle cx="1325.5" cy="378.2" r="2.9"/><circle cx="1325.6" cy="378.9" r="2.9"/><circle cx="1325.6" cy="380.6" r="2.9"/><circle cx="1325.7" cy="386.8" r="2.9"/><circle cx="1325.7" cy="378.5" r="2.9"/><circle cx="1325.7" cy="389.2" r="2.9"/><circle cx="1325.8" cy="380.5" r="2.9"/><circle cx="1325.9" cy="382.5" r="2.9"/><circle cx="1326.1" cy="364.7" r="2.9"/><circle cx="1326.2" cy="371.7" r="2.9"/><circle cx="1326.6" cy="375.8" r="2.9"/><circle cx="1326.7" cy="385.5" r="2.9"/><circle cx="1326.8" cy="373.8" r="2.9"/><circle cx="1326.8" cy="371.1" r="2.9"/><circle cx="1327.1" cy="373.0" r="2.9"/><circle cx="1327.7" cy="396.5" r="2.9"/><circle cx="1327.8" cy="367.1" r="2.9"/><circle cx="1327.8" cy="381.7" r="2.9"/><circle cx="1328.1" cy="379.9" r="2.9"/><circle cx="1328.2" cy="393.8" r="2.9"/><circle cx="1328.2" cy="386.5" r="2.9"/><circle cx="1328.4" cy="377.0" r="2.9"/><circle cx="1328.5" cy="388.2" r="2.9"/><circle cx="1328.6" cy="392.7" r="2.9"/><circle cx="1328.6" cy="376.9" r="2.9"/><circle cx="1328.9" cy="366.2" r="2.9"/><circle cx="1328.9" cy="370.1" r="2.9"/><circle cx="1328.9" cy="380.4" r="2.9"/><circle cx="1329.5" cy="371.7" r="2.9"/><circle cx="1329.6" cy="381.5" r="2.9"/><circle cx="1330.0" cy="391.6" r="2.9"/><circle cx="1330.1" cy="382.4" r="2.9"/><circle cx="1330.7" cy="402.4" r="2.9"/><circle cx="1330.7" cy="379.5" r="2.9"/><circle cx="1330.8" cy="370.5" r="2.9"/><circle cx="1331.0" cy="382.6" r="2.9"/><circle cx="1331.0" cy="390.5" r="2.9"/><circle cx="1331.2" cy="369.3" r="2.9"/><circle cx="1331.2" cy="385.3" r="2.9"/><circle cx="1331.3" cy="397.4" r="2.9"/><circle cx="1331.4" cy="383.0" r="2.9"/><circle cx="1331.6" cy="399.2" r="2.9"/><circle cx="1331.7" cy="368.5" r="2.9"/><circle cx="1331.8" cy="386.6" r="2.9"/><circle cx="1332.0" cy="367.1" r="2.9"/><circle cx="1332.4" cy="366.7" r="2.9"/><circle cx="1332.4" cy="368.9" r="2.9"/><circle cx="1332.5" cy="391.7" r="2.9"/><circle cx="1332.8" cy="384.2" r="2.9"/><circle cx="1332.9" cy="395.2" r="2.9"/><circle cx="1333.0" cy="374.2" r="2.9"/><circle cx="1333.1" cy="367.2" r="2.9"/><circle cx="1333.3" cy="390.0" r="2.9"/><circle cx="1333.6" cy="375.6" r="2.9"/><circle cx="1333.8" cy="368.8" r="2.9"/><circle cx="1333.9" cy="389.2" r="2.9"/><circle cx="1334.4" cy="392.1" r="2.9"/><circle cx="1334.5" cy="375.2" r="2.9"/><circle cx="1334.8" cy="383.2" r="2.9"/><circle cx="1334.9" cy="387.3" r="2.9"/><circle cx="1334.9" cy="374.0" r="2.9"/><circle cx="1334.9" cy="375.0" r="2.9"/><circle cx="1335.0" cy="384.6" r="2.9"/><circle cx="1335.2" cy="398.5" r="2.9"/><circle cx="1335.3" cy="373.8" r="2.9"/><circle cx="1335.3" cy="390.2" r="2.9"/><circle cx="1335.4" cy="388.0" r="2.9"/><circle cx="1335.5" cy="384.1" r="2.9"/><circle cx="1335.5" cy="380.6" r="2.9"/><circle cx="1335.6" cy="375.2" r="2.9"/><circle cx="1335.8" cy="389.1" r="2.9"/><circle cx="1336.2" cy="381.5" r="2.9"/><circle cx="1336.6" cy="361.6" r="2.9"/><circle cx="1336.6" cy="386.0" r="2.9"/><circle cx="1336.7" cy="375.9" r="2.9"/><circle cx="1336.8" cy="381.5" r="2.9"/><circle cx="1336.9" cy="403.4" r="2.9"/><circle cx="1336.9" cy="386.2" r="2.9"/><circle cx="1337.0" cy="365.1" r="2.9"/><circle cx="1337.1" cy="379.1" r="2.9"/><circle cx="1337.3" cy="373.1" r="2.9"/><circle cx="1337.4" cy="393.1" r="2.9"/><circle cx="1338.1" cy="354.9" r="2.9"/><circle cx="1338.3" cy="389.0" r="2.9"/><circle cx="1338.4" cy="383.6" r="2.9"/><circle cx="1338.6" cy="380.1" r="2.9"/></g>
<g fill="url(#gr2)"><circle cx="791.4" cy="33.5" r="2.9"/><circle cx="791.4" cy="33.8" r="2.9"/><circle cx="791.7" cy="34.0" r="2.9"/><circle cx="792.2" cy="34.4" r="2.9"/><circle cx="792.2" cy="34.8" r="2.9"/><circle cx="792.3" cy="34.4" r="2.9"/><circle cx="792.4" cy="34.6" r="2.9"/><circle cx="792.5" cy="35.0" r="2.9"/><circle cx="792.7" cy="34.7" r="2.9"/><circle cx="792.8" cy="34.2" r="2.9"/><circle cx="792.9" cy="34.8" r="2.9"/><circle cx="793.1" cy="35.0" r="2.9"/><circle cx="793.1" cy="34.9" r="2.9"/><circle cx="793.3" cy="35.5" r="2.9"/><circle cx="793.4" cy="35.4" r="2.9"/><circle cx="793.4" cy="35.1" r="2.9"/><circle cx="793.4" cy="35.2" r="2.9"/><circle cx="793.8" cy="35.2" r="2.9"/><circle cx="793.8" cy="35.5" r="2.9"/><circle cx="793.9" cy="36.5" r="2.9"/><circle cx="794.0" cy="35.2" r="2.9"/><circle cx="794.2" cy="36.7" r="2.9"/><circle cx="794.3" cy="36.1" r="2.9"/><circle cx="794.5" cy="36.2" r="2.9"/><circle cx="794.7" cy="36.2" r="2.9"/><circle cx="794.7" cy="35.9" r="2.9"/><circle cx="795.1" cy="37.0" r="2.9"/><circle cx="795.9" cy="37.3" r="2.9"/><circle cx="796.6" cy="37.7" r="2.9"/><circle cx="796.6" cy="37.9" r="2.9"/><circle cx="796.6" cy="38.6" r="2.9"/><circle cx="797.0" cy="38.1" r="2.9"/><circle cx="797.4" cy="38.6" r="2.9"/><circle cx="797.6" cy="39.2" r="2.9"/><circle cx="797.6" cy="38.4" r="2.9"/><circle cx="797.9" cy="39.3" r="2.9"/><circle cx="798.1" cy="40.0" r="2.9"/><circle cx="798.2" cy="39.3" r="2.9"/><circle cx="798.3" cy="38.7" r="2.9"/><circle cx="798.4" cy="39.7" r="2.9"/><circle cx="798.6" cy="39.4" r="2.9"/><circle cx="798.6" cy="40.1" r="2.9"/><circle cx="799.1" cy="40.1" r="2.9"/><circle cx="799.2" cy="40.2" r="2.9"/><circle cx="799.3" cy="39.8" r="2.9"/><circle cx="799.4" cy="40.7" r="2.9"/><circle cx="799.4" cy="40.4" r="2.9"/><circle cx="799.6" cy="40.5" r="2.9"/><circle cx="799.6" cy="40.6" r="2.9"/><circle cx="799.8" cy="40.7" r="2.9"/><circle cx="799.8" cy="40.6" r="2.9"/><circle cx="799.9" cy="40.6" r="2.9"/><circle cx="800.2" cy="40.2" r="2.9"/><circle cx="800.6" cy="41.0" r="2.9"/><circle cx="800.8" cy="41.2" r="2.9"/><circle cx="800.9" cy="41.9" r="2.9"/><circle cx="801.5" cy="42.3" r="2.9"/><circle cx="801.6" cy="41.6" r="2.9"/><circle cx="801.6" cy="41.8" r="2.9"/><circle cx="801.7" cy="41.8" r="2.9"/><circle cx="801.9" cy="42.3" r="2.9"/><circle cx="802.1" cy="42.5" r="2.9"/><circle cx="802.2" cy="42.7" r="2.9"/><circle cx="802.4" cy="42.3" r="2.9"/><circle cx="802.4" cy="42.4" r="2.9"/><circle cx="802.4" cy="43.4" r="2.9"/><circle cx="802.4" cy="42.1" r="2.9"/><circle cx="802.8" cy="43.5" r="2.9"/><circle cx="802.8" cy="43.2" r="2.9"/><circle cx="802.8" cy="43.3" r="2.9"/><circle cx="803.0" cy="43.2" r="2.9"/><circle cx="803.0" cy="43.1" r="2.9"/><circle cx="803.1" cy="43.5" r="2.9"/><circle cx="803.4" cy="43.3" r="2.9"/><circle cx="803.9" cy="43.8" r="2.9"/><circle cx="804.0" cy="43.8" r="2.9"/><circle cx="804.1" cy="44.1" r="2.9"/><circle cx="804.3" cy="44.1" r="2.9"/><circle cx="804.4" cy="44.0" r="2.9"/><circle cx="804.4" cy="44.5" r="2.9"/><circle cx="804.6" cy="44.4" r="2.9"/><circle cx="804.7" cy="43.8" r="2.9"/><circle cx="804.9" cy="44.5" r="2.9"/><circle cx="805.0" cy="45.3" r="2.9"/><circle cx="805.3" cy="45.1" r="2.9"/><circle cx="805.4" cy="45.6" r="2.9"/><circle cx="805.5" cy="44.3" r="2.9"/><circle cx="805.5" cy="45.3" r="2.9"/><circle cx="805.6" cy="44.3" r="2.9"/><circle cx="805.7" cy="45.4" r="2.9"/><circle cx="806.0" cy="45.1" r="2.9"/><circle cx="806.2" cy="45.5" r="2.9"/><circle cx="806.2" cy="45.8" r="2.9"/><circle cx="806.4" cy="45.3" r="2.9"/><circle cx="806.4" cy="45.4" r="2.9"/><circle cx="806.4" cy="45.6" r="2.9"/><circle cx="806.5" cy="46.2" r="2.9"/><circle cx="806.6" cy="46.5" r="2.9"/><circle cx="806.6" cy="45.6" r="2.9"/><circle cx="806.7" cy="45.5" r="2.9"/><circle cx="807.0" cy="46.2" r="2.9"/><circle cx="807.2" cy="45.8" r="2.9"/><circle cx="807.3" cy="45.8" r="2.9"/><circle cx="807.4" cy="46.7" r="2.9"/><circle cx="807.5" cy="46.4" r="2.9"/><circle cx="808.1" cy="47.8" r="2.9"/><circle cx="808.6" cy="47.0" r="2.9"/><circle cx="809.1" cy="48.5" r="2.9"/><circle cx="809.6" cy="48.7" r="2.9"/><circle cx="809.8" cy="48.2" r="2.9"/><circle cx="810.0" cy="48.6" r="2.9"/><circle cx="810.0" cy="47.6" r="2.9"/><circle cx="810.0" cy="48.6" r="2.9"/><circle cx="810.6" cy="49.0" r="2.9"/><circle cx="810.9" cy="48.8" r="2.9"/><circle cx="811.0" cy="49.9" r="2.9"/><circle cx="811.1" cy="48.4" r="2.9"/><circle cx="811.2" cy="49.7" r="2.9"/><circle cx="811.7" cy="49.8" r="2.9"/><circle cx="811.9" cy="50.0" r="2.9"/><circle cx="812.2" cy="49.4" r="2.9"/><circle cx="812.4" cy="50.6" r="2.9"/><circle cx="812.5" cy="50.1" r="2.9"/><circle cx="812.5" cy="50.5" r="2.9"/><circle cx="812.6" cy="50.9" r="2.9"/><circle cx="812.7" cy="50.1" r="2.9"/><circle cx="813.0" cy="49.8" r="2.9"/><circle cx="813.1" cy="51.0" r="2.9"/><circle cx="813.5" cy="51.2" r="2.9"/><circle cx="813.8" cy="51.2" r="2.9"/><circle cx="813.8" cy="51.0" r="2.9"/><circle cx="814.1" cy="51.2" r="2.9"/><circle cx="814.2" cy="51.7" r="2.9"/><circle cx="814.4" cy="52.1" r="2.9"/><circle cx="814.4" cy="51.6" r="2.9"/><circle cx="814.5" cy="52.6" r="2.9"/><circle cx="814.8" cy="52.1" r="2.9"/><circle cx="814.9" cy="52.5" r="2.9"/><circle cx="815.2" cy="52.4" r="2.9"/><circle cx="815.3" cy="52.5" r="2.9"/><circle cx="815.3" cy="53.0" r="2.9"/><circle cx="815.5" cy="53.1" r="2.9"/><circle cx="815.9" cy="53.6" r="2.9"/><circle cx="816.5" cy="54.1" r="2.9"/><circle cx="816.7" cy="53.6" r="2.9"/><circle cx="816.9" cy="54.1" r="2.9"/><circle cx="817.1" cy="54.2" r="2.9"/><circle cx="817.5" cy="54.4" r="2.9"/><circle cx="817.5" cy="54.6" r="2.9"/><circle cx="817.8" cy="54.5" r="2.9"/><circle cx="818.1" cy="54.7" r="2.9"/><circle cx="818.7" cy="55.3" r="2.9"/><circle cx="818.7" cy="54.6" r="2.9"/><circle cx="819.1" cy="55.8" r="2.9"/><circle cx="819.2" cy="56.0" r="2.9"/><circle cx="819.2" cy="54.3" r="2.9"/><circle cx="819.7" cy="56.3" r="2.9"/><circle cx="819.8" cy="55.5" r="2.9"/><circle cx="819.9" cy="55.5" r="2.9"/><circle cx="819.9" cy="56.3" r="2.9"/><circle cx="819.9" cy="55.5" r="2.9"/><circle cx="820.0" cy="56.1" r="2.9"/><circle cx="820.3" cy="55.9" r="2.9"/><circle cx="820.3" cy="55.6" r="2.9"/><circle cx="820.4" cy="57.3" r="2.9"/><circle cx="820.5" cy="55.9" r="2.9"/><circle cx="821.0" cy="56.1" r="2.9"/><circle cx="821.0" cy="56.5" r="2.9"/><circle cx="821.2" cy="57.9" r="2.9"/><circle cx="821.2" cy="56.0" r="2.9"/><circle cx="821.4" cy="57.7" r="2.9"/><circle cx="821.5" cy="56.7" r="2.9"/><circle cx="821.8" cy="57.4" r="2.9"/><circle cx="821.9" cy="57.4" r="2.9"/><circle cx="821.9" cy="58.0" r="2.9"/><circle cx="822.0" cy="57.0" r="2.9"/><circle cx="822.0" cy="58.5" r="2.9"/><circle cx="822.6" cy="57.7" r="2.9"/><circle cx="822.7" cy="57.1" r="2.9"/><circle cx="822.7" cy="58.1" r="2.9"/><circle cx="822.7" cy="58.4" r="2.9"/><circle cx="822.7" cy="58.4" r="2.9"/><circle cx="822.9" cy="58.7" r="2.9"/><circle cx="823.1" cy="58.2" r="2.9"/><circle cx="823.2" cy="59.2" r="2.9"/><circle cx="823.3" cy="58.9" r="2.9"/><circle cx="823.7" cy="58.2" r="2.9"/><circle cx="823.7" cy="58.5" r="2.9"/><circle cx="823.9" cy="58.4" r="2.9"/><circle cx="824.3" cy="59.0" r="2.9"/><circle cx="824.6" cy="59.5" r="2.9"/><circle cx="825.3" cy="59.6" r="2.9"/><circle cx="825.4" cy="59.9" r="2.9"/><circle cx="825.6" cy="60.5" r="2.9"/><circle cx="825.9" cy="60.8" r="2.9"/><circle cx="826.1" cy="61.3" r="2.9"/><circle cx="826.4" cy="59.4" r="2.9"/><circle cx="826.5" cy="60.4" r="2.9"/><circle cx="826.6" cy="60.4" r="2.9"/><circle cx="826.9" cy="60.7" r="2.9"/><circle cx="827.3" cy="60.8" r="2.9"/><circle cx="827.6" cy="61.0" r="2.9"/><circle cx="828.0" cy="62.3" r="2.9"/><circle cx="828.1" cy="62.6" r="2.9"/><circle cx="828.2" cy="61.3" r="2.9"/><circle cx="828.2" cy="62.4" r="2.9"/><circle cx="828.5" cy="60.9" r="2.9"/><circle cx="828.7" cy="62.6" r="2.9"/><circle cx="828.7" cy="63.3" r="2.9"/><circle cx="828.8" cy="63.0" r="2.9"/><circle cx="829.2" cy="62.1" r="2.9"/><circle cx="829.5" cy="62.3" r="2.9"/><circle cx="829.5" cy="62.6" r="2.9"/><circle cx="829.7" cy="63.8" r="2.9"/><circle cx="830.0" cy="63.4" r="2.9"/><circle cx="830.0" cy="63.3" r="2.9"/><circle cx="830.5" cy="63.9" r="2.9"/><circle cx="830.5" cy="62.9" r="2.9"/><circle cx="830.9" cy="62.5" r="2.9"/><circle cx="831.3" cy="63.7" r="2.9"/><circle cx="831.8" cy="64.2" r="2.9"/><circle cx="831.9" cy="64.7" r="2.9"/><circle cx="832.1" cy="64.7" r="2.9"/><circle cx="832.2" cy="65.9" r="2.9"/><circle cx="832.3" cy="64.5" r="2.9"/><circle cx="832.3" cy="64.4" r="2.9"/><circle cx="832.6" cy="65.9" r="2.9"/><circle cx="832.7" cy="65.1" r="2.9"/><circle cx="832.8" cy="66.3" r="2.9"/><circle cx="832.9" cy="66.4" r="2.9"/><circle cx="833.1" cy="65.9" r="2.9"/><circle cx="833.1" cy="65.9" r="2.9"/><circle cx="833.2" cy="64.5" r="2.9"/><circle cx="833.2" cy="66.3" r="2.9"/><circle cx="833.7" cy="65.9" r="2.9"/><circle cx="833.8" cy="66.3" r="2.9"/><circle cx="834.2" cy="66.8" r="2.9"/><circle cx="834.3" cy="66.3" r="2.9"/><circle cx="834.3" cy="65.6" r="2.9"/><circle cx="834.9" cy="66.3" r="2.9"/><circle cx="835.1" cy="66.1" r="2.9"/><circle cx="835.4" cy="67.6" r="2.9"/><circle cx="835.5" cy="67.0" r="2.9"/><circle cx="835.9" cy="67.4" r="2.9"/><circle cx="836.2" cy="67.2" r="2.9"/><circle cx="836.7" cy="67.8" r="2.9"/><circle cx="836.8" cy="67.2" r="2.9"/><circle cx="836.9" cy="68.1" r="2.9"/><circle cx="836.9" cy="67.3" r="2.9"/><circle cx="837.3" cy="68.4" r="2.9"/><circle cx="837.3" cy="68.1" r="2.9"/><circle cx="837.7" cy="68.8" r="2.9"/><circle cx="837.8" cy="69.3" r="2.9"/><circle cx="837.9" cy="69.0" r="2.9"/><circle cx="838.3" cy="69.1" r="2.9"/><circle cx="838.4" cy="69.6" r="2.9"/><circle cx="838.5" cy="68.7" r="2.9"/><circle cx="838.7" cy="69.2" r="2.9"/><circle cx="839.1" cy="69.8" r="2.9"/><circle cx="839.2" cy="68.6" r="2.9"/><circle cx="839.3" cy="69.2" r="2.9"/><circle cx="839.5" cy="71.0" r="2.9"/><circle cx="839.5" cy="69.9" r="2.9"/><circle cx="839.5" cy="69.9" r="2.9"/><circle cx="839.6" cy="70.3" r="2.9"/><circle cx="839.9" cy="69.9" r="2.9"/><circle cx="840.3" cy="70.0" r="2.9"/><circle cx="840.3" cy="70.1" r="2.9"/><circle cx="840.4" cy="71.1" r="2.9"/><circle cx="840.5" cy="71.6" r="2.9"/><circle cx="841.3" cy="70.6" r="2.9"/><circle cx="841.7" cy="71.2" r="2.9"/><circle cx="841.7" cy="71.6" r="2.9"/><circle cx="841.9" cy="70.6" r="2.9"/><circle cx="842.1" cy="71.6" r="2.9"/><circle cx="842.3" cy="72.4" r="2.9"/><circle cx="842.7" cy="72.7" r="2.9"/><circle cx="842.8" cy="73.3" r="2.9"/><circle cx="842.9" cy="71.8" r="2.9"/><circle cx="843.3" cy="72.3" r="2.9"/><circle cx="844.0" cy="73.4" r="2.9"/><circle cx="844.1" cy="73.1" r="2.9"/><circle cx="844.2" cy="73.7" r="2.9"/><circle cx="844.3" cy="73.0" r="2.9"/><circle cx="844.4" cy="71.8" r="2.9"/><circle cx="844.5" cy="72.6" r="2.9"/><circle cx="844.8" cy="72.1" r="2.9"/><circle cx="845.0" cy="73.6" r="2.9"/><circle cx="845.3" cy="74.6" r="2.9"/><circle cx="845.3" cy="74.1" r="2.9"/><circle cx="845.5" cy="73.4" r="2.9"/><circle cx="845.5" cy="72.3" r="2.9"/><circle cx="845.6" cy="73.9" r="2.9"/><circle cx="845.9" cy="73.5" r="2.9"/><circle cx="845.9" cy="73.6" r="2.9"/><circle cx="845.9" cy="74.1" r="2.9"/><circle cx="846.5" cy="75.7" r="2.9"/><circle cx="846.7" cy="74.2" r="2.9"/><circle cx="846.7" cy="74.0" r="2.9"/><circle cx="846.9" cy="73.6" r="2.9"/><circle cx="846.9" cy="75.3" r="2.9"/><circle cx="847.0" cy="74.0" r="2.9"/><circle cx="847.2" cy="73.5" r="2.9"/><circle cx="847.3" cy="74.6" r="2.9"/><circle cx="847.4" cy="75.1" r="2.9"/><circle cx="847.4" cy="74.0" r="2.9"/><circle cx="847.6" cy="75.0" r="2.9"/><circle cx="847.6" cy="73.9" r="2.9"/><circle cx="847.9" cy="76.2" r="2.9"/><circle cx="848.3" cy="74.7" r="2.9"/><circle cx="848.4" cy="75.6" r="2.9"/><circle cx="848.6" cy="75.0" r="2.9"/><circle cx="849.1" cy="75.6" r="2.9"/><circle cx="849.4" cy="76.5" r="2.9"/><circle cx="849.5" cy="75.8" r="2.9"/><circle cx="849.5" cy="76.2" r="2.9"/><circle cx="849.5" cy="77.2" r="2.9"/><circle cx="849.6" cy="77.8" r="2.9"/><circle cx="849.7" cy="77.1" r="2.9"/><circle cx="849.7" cy="76.5" r="2.9"/><circle cx="849.8" cy="76.7" r="2.9"/><circle cx="850.0" cy="75.7" r="2.9"/><circle cx="850.2" cy="75.9" r="2.9"/><circle cx="850.4" cy="76.0" r="2.9"/><circle cx="850.4" cy="77.2" r="2.9"/><circle cx="850.4" cy="76.8" r="2.9"/><circle cx="850.5" cy="76.7" r="2.9"/><circle cx="850.7" cy="78.5" r="2.9"/><circle cx="851.2" cy="77.4" r="2.9"/><circle cx="851.2" cy="78.0" r="2.9"/><circle cx="851.3" cy="77.8" r="2.9"/><circle cx="851.3" cy="77.5" r="2.9"/><circle cx="851.5" cy="78.0" r="2.9"/><circle cx="851.9" cy="76.7" r="2.9"/><circle cx="851.9" cy="77.9" r="2.9"/><circle cx="852.1" cy="78.8" r="2.9"/><circle cx="852.1" cy="79.3" r="2.9"/><circle cx="852.2" cy="77.9" r="2.9"/><circle cx="852.3" cy="79.2" r="2.9"/><circle cx="852.3" cy="78.8" r="2.9"/><circle cx="852.4" cy="77.9" r="2.9"/><circle cx="852.5" cy="77.0" r="2.9"/><circle cx="852.8" cy="78.7" r="2.9"/><circle cx="852.9" cy="78.0" r="2.9"/><circle cx="853.0" cy="79.5" r="2.9"/><circle cx="853.1" cy="78.9" r="2.9"/><circle cx="853.3" cy="77.6" r="2.9"/><circle cx="853.3" cy="78.4" r="2.9"/><circle cx="853.3" cy="79.1" r="2.9"/><circle cx="853.5" cy="79.9" r="2.9"/><circle cx="853.5" cy="77.2" r="2.9"/><circle cx="853.8" cy="79.5" r="2.9"/><circle cx="853.8" cy="78.1" r="2.9"/><circle cx="854.0" cy="79.0" r="2.9"/><circle cx="854.0" cy="78.5" r="2.9"/><circle cx="854.3" cy="80.1" r="2.9"/><circle cx="854.3" cy="79.6" r="2.9"/><circle cx="854.4" cy="80.9" r="2.9"/><circle cx="854.5" cy="80.6" r="2.9"/><circle cx="855.2" cy="79.4" r="2.9"/><circle cx="855.2" cy="78.3" r="2.9"/><circle cx="855.5" cy="79.9" r="2.9"/><circle cx="855.7" cy="79.8" r="2.9"/><circle cx="855.8" cy="80.4" r="2.9"/><circle cx="856.0" cy="79.8" r="2.9"/><circle cx="856.0" cy="79.9" r="2.9"/><circle cx="856.6" cy="81.5" r="2.9"/><circle cx="856.7" cy="81.1" r="2.9"/><circle cx="856.9" cy="80.5" r="2.9"/><circle cx="857.0" cy="81.4" r="2.9"/><circle cx="857.1" cy="80.4" r="2.9"/><circle cx="857.3" cy="81.3" r="2.9"/><circle cx="857.4" cy="82.1" r="2.9"/><circle cx="857.5" cy="81.0" r="2.9"/><circle cx="857.7" cy="80.4" r="2.9"/><circle cx="857.7" cy="81.6" r="2.9"/><circle cx="857.8" cy="81.2" r="2.9"/><circle cx="857.8" cy="83.0" r="2.9"/><circle cx="857.8" cy="81.4" r="2.9"/><circle cx="857.9" cy="81.1" r="2.9"/><circle cx="858.0" cy="80.7" r="2.9"/><circle cx="858.3" cy="80.2" r="2.9"/><circle cx="858.7" cy="81.4" r="2.9"/><circle cx="858.8" cy="82.2" r="2.9"/><circle cx="859.4" cy="81.7" r="2.9"/><circle cx="859.4" cy="83.0" r="2.9"/><circle cx="859.6" cy="83.4" r="2.9"/><circle cx="859.8" cy="83.4" r="2.9"/><circle cx="859.8" cy="82.2" r="2.9"/><circle cx="859.9" cy="82.2" r="2.9"/><circle cx="860.0" cy="83.6" r="2.9"/><circle cx="860.7" cy="82.8" r="2.9"/><circle cx="860.7" cy="82.8" r="2.9"/><circle cx="860.9" cy="83.0" r="2.9"/><circle cx="861.0" cy="84.7" r="2.9"/><circle cx="861.0" cy="81.9" r="2.9"/><circle cx="861.5" cy="84.8" r="2.9"/><circle cx="861.8" cy="84.8" r="2.9"/><circle cx="862.1" cy="85.6" r="2.9"/><circle cx="862.2" cy="84.7" r="2.9"/><circle cx="862.6" cy="86.2" r="2.9"/><circle cx="862.6" cy="85.2" r="2.9"/><circle cx="862.8" cy="83.9" r="2.9"/><circle cx="862.8" cy="83.4" r="2.9"/><circle cx="862.9" cy="84.7" r="2.9"/><circle cx="863.1" cy="85.2" r="2.9"/><circle cx="863.3" cy="85.2" r="2.9"/><circle cx="863.3" cy="85.8" r="2.9"/><circle cx="863.3" cy="86.0" r="2.9"/><circle cx="863.6" cy="83.3" r="2.9"/><circle cx="863.6" cy="85.1" r="2.9"/><circle cx="863.6" cy="85.1" r="2.9"/><circle cx="864.3" cy="86.1" r="2.9"/><circle cx="864.3" cy="84.8" r="2.9"/><circle cx="864.9" cy="86.9" r="2.9"/><circle cx="865.0" cy="86.0" r="2.9"/><circle cx="865.1" cy="87.2" r="2.9"/><circle cx="865.9" cy="85.9" r="2.9"/><circle cx="866.3" cy="86.6" r="2.9"/><circle cx="866.4" cy="85.6" r="2.9"/><circle cx="866.5" cy="86.0" r="2.9"/><circle cx="866.5" cy="86.6" r="2.9"/><circle cx="866.8" cy="86.6" r="2.9"/><circle cx="867.3" cy="87.7" r="2.9"/><circle cx="867.4" cy="87.8" r="2.9"/><circle cx="867.5" cy="87.5" r="2.9"/><circle cx="867.7" cy="87.6" r="2.9"/><circle cx="868.0" cy="86.7" r="2.9"/><circle cx="869.0" cy="88.0" r="2.9"/><circle cx="869.0" cy="88.2" r="2.9"/><circle cx="869.1" cy="87.7" r="2.9"/><circle cx="869.2" cy="89.2" r="2.9"/><circle cx="869.2" cy="89.0" r="2.9"/><circle cx="869.4" cy="87.8" r="2.9"/><circle cx="869.7" cy="88.3" r="2.9"/><circle cx="869.7" cy="88.7" r="2.9"/><circle cx="869.7" cy="88.8" r="2.9"/><circle cx="870.0" cy="90.3" r="2.9"/><circle cx="870.1" cy="88.8" r="2.9"/><circle cx="870.1" cy="88.4" r="2.9"/><circle cx="870.3" cy="89.4" r="2.9"/><circle cx="870.5" cy="89.8" r="2.9"/><circle cx="870.6" cy="90.4" r="2.9"/><circle cx="871.2" cy="88.7" r="2.9"/><circle cx="871.2" cy="89.4" r="2.9"/><circle cx="871.4" cy="89.9" r="2.9"/><circle cx="871.5" cy="89.9" r="2.9"/><circle cx="871.6" cy="88.4" r="2.9"/><circle cx="871.7" cy="90.2" r="2.9"/><circle cx="872.0" cy="91.4" r="2.9"/><circle cx="872.2" cy="90.7" r="2.9"/><circle cx="872.4" cy="90.1" r="2.9"/><circle cx="872.6" cy="89.4" r="2.9"/><circle cx="873.0" cy="89.7" r="2.9"/><circle cx="873.1" cy="90.7" r="2.9"/><circle cx="873.2" cy="90.0" r="2.9"/><circle cx="873.5" cy="90.2" r="2.9"/><circle cx="873.9" cy="89.6" r="2.9"/><circle cx="874.0" cy="91.6" r="2.9"/><circle cx="874.1" cy="92.1" r="2.9"/><circle cx="874.5" cy="91.4" r="2.9"/><circle cx="874.6" cy="92.1" r="2.9"/><circle cx="874.6" cy="91.7" r="2.9"/><circle cx="874.7" cy="93.2" r="2.9"/><circle cx="875.0" cy="91.7" r="2.9"/><circle cx="875.1" cy="91.9" r="2.9"/><circle cx="875.3" cy="90.8" r="2.9"/><circle cx="875.4" cy="92.0" r="2.9"/><circle cx="875.5" cy="91.7" r="2.9"/><circle cx="875.5" cy="91.6" r="2.9"/><circle cx="875.6" cy="93.6" r="2.9"/><circle cx="876.0" cy="93.1" r="2.9"/><circle cx="876.0" cy="93.4" r="2.9"/><circle cx="876.0" cy="92.7" r="2.9"/><circle cx="876.1" cy="91.5" r="2.9"/><circle cx="877.1" cy="93.0" r="2.9"/><circle cx="877.5" cy="94.2" r="2.9"/><circle cx="877.8" cy="92.6" r="2.9"/><circle cx="877.8" cy="93.3" r="2.9"/><circle cx="877.9" cy="93.4" r="2.9"/><circle cx="878.1" cy="94.6" r="2.9"/><circle cx="878.5" cy="93.9" r="2.9"/><circle cx="878.6" cy="94.6" r="2.9"/><circle cx="878.7" cy="94.6" r="2.9"/><circle cx="878.7" cy="93.7" r="2.9"/><circle cx="878.8" cy="94.2" r="2.9"/><circle cx="879.2" cy="93.0" r="2.9"/><circle cx="879.2" cy="93.8" r="2.9"/><circle cx="879.9" cy="95.2" r="2.9"/><circle cx="880.3" cy="95.3" r="2.9"/><circle cx="880.5" cy="95.3" r="2.9"/><circle cx="880.6" cy="95.1" r="2.9"/><circle cx="880.9" cy="96.1" r="2.9"/><circle cx="881.0" cy="95.9" r="2.9"/><circle cx="881.0" cy="95.4" r="2.9"/><circle cx="881.1" cy="93.7" r="2.9"/><circle cx="881.2" cy="97.5" r="2.9"/><circle cx="881.3" cy="97.5" r="2.9"/><circle cx="881.5" cy="94.8" r="2.9"/><circle cx="881.5" cy="97.2" r="2.9"/><circle cx="881.6" cy="95.5" r="2.9"/><circle cx="881.8" cy="97.0" r="2.9"/><circle cx="882.0" cy="95.0" r="2.9"/><circle cx="882.0" cy="95.9" r="2.9"/><circle cx="882.3" cy="95.6" r="2.9"/><circle cx="882.7" cy="97.1" r="2.9"/><circle cx="882.8" cy="97.3" r="2.9"/><circle cx="882.8" cy="96.5" r="2.9"/><circle cx="882.8" cy="94.3" r="2.9"/><circle cx="883.2" cy="96.7" r="2.9"/><circle cx="883.8" cy="95.8" r="2.9"/><circle cx="883.9" cy="98.6" r="2.9"/><circle cx="884.2" cy="96.6" r="2.9"/><circle cx="884.2" cy="95.0" r="2.9"/><circle cx="884.4" cy="97.1" r="2.9"/><circle cx="884.6" cy="96.0" r="2.9"/><circle cx="884.7" cy="97.9" r="2.9"/><circle cx="884.9" cy="96.2" r="2.9"/><circle cx="885.2" cy="98.1" r="2.9"/><circle cx="885.5" cy="96.2" r="2.9"/><circle cx="885.6" cy="99.2" r="2.9"/><circle cx="885.9" cy="98.0" r="2.9"/><circle cx="885.9" cy="98.9" r="2.9"/><circle cx="886.0" cy="97.9" r="2.9"/><circle cx="886.1" cy="100.3" r="2.9"/><circle cx="886.5" cy="98.1" r="2.9"/><circle cx="886.6" cy="99.2" r="2.9"/><circle cx="886.8" cy="98.4" r="2.9"/><circle cx="886.9" cy="99.9" r="2.9"/><circle cx="887.6" cy="97.5" r="2.9"/><circle cx="888.1" cy="97.6" r="2.9"/><circle cx="888.5" cy="100.1" r="2.9"/><circle cx="888.6" cy="98.7" r="2.9"/><circle cx="888.7" cy="98.5" r="2.9"/><circle cx="888.7" cy="100.1" r="2.9"/><circle cx="889.0" cy="99.7" r="2.9"/><circle cx="889.0" cy="97.6" r="2.9"/><circle cx="889.2" cy="99.9" r="2.9"/><circle cx="889.5" cy="99.4" r="2.9"/><circle cx="889.6" cy="98.9" r="2.9"/><circle cx="889.6" cy="100.8" r="2.9"/><circle cx="889.8" cy="100.8" r="2.9"/><circle cx="889.9" cy="101.7" r="2.9"/><circle cx="890.0" cy="99.7" r="2.9"/><circle cx="890.2" cy="99.4" r="2.9"/><circle cx="890.3" cy="102.7" r="2.9"/><circle cx="890.5" cy="101.5" r="2.9"/><circle cx="890.5" cy="101.3" r="2.9"/><circle cx="890.9" cy="99.7" r="2.9"/><circle cx="891.1" cy="100.3" r="2.9"/><circle cx="891.2" cy="101.8" r="2.9"/><circle cx="891.4" cy="98.9" r="2.9"/><circle cx="892.1" cy="99.9" r="2.9"/><circle cx="892.1" cy="101.7" r="2.9"/><circle cx="892.3" cy="99.3" r="2.9"/><circle cx="892.3" cy="102.3" r="2.9"/><circle cx="892.4" cy="101.3" r="2.9"/><circle cx="892.6" cy="99.7" r="2.9"/><circle cx="892.6" cy="101.6" r="2.9"/><circle cx="892.7" cy="101.7" r="2.9"/><circle cx="892.9" cy="101.7" r="2.9"/><circle cx="893.1" cy="102.5" r="2.9"/><circle cx="893.3" cy="100.2" r="2.9"/><circle cx="893.5" cy="101.5" r="2.9"/><circle cx="893.5" cy="102.6" r="2.9"/><circle cx="893.5" cy="102.4" r="2.9"/><circle cx="893.9" cy="102.5" r="2.9"/><circle cx="894.0" cy="104.7" r="2.9"/><circle cx="894.4" cy="102.1" r="2.9"/><circle cx="894.5" cy="101.9" r="2.9"/><circle cx="894.5" cy="103.3" r="2.9"/><circle cx="894.6" cy="102.4" r="2.9"/><circle cx="894.7" cy="103.7" r="2.9"/><circle cx="894.8" cy="102.6" r="2.9"/><circle cx="894.9" cy="104.8" r="2.9"/><circle cx="895.3" cy="102.3" r="2.9"/><circle cx="895.4" cy="102.8" r="2.9"/><circle cx="895.5" cy="104.2" r="2.9"/><circle cx="895.6" cy="103.3" r="2.9"/><circle cx="896.0" cy="104.5" r="2.9"/><circle cx="896.5" cy="104.6" r="2.9"/><circle cx="897.3" cy="105.2" r="2.9"/><circle cx="897.4" cy="102.8" r="2.9"/><circle cx="897.8" cy="105.5" r="2.9"/><circle cx="897.8" cy="104.6" r="2.9"/><circle cx="897.9" cy="104.9" r="2.9"/><circle cx="897.9" cy="103.5" r="2.9"/><circle cx="898.2" cy="105.3" r="2.9"/><circle cx="898.4" cy="105.8" r="2.9"/><circle cx="898.6" cy="105.4" r="2.9"/><circle cx="898.7" cy="105.6" r="2.9"/><circle cx="898.8" cy="105.2" r="2.9"/><circle cx="898.8" cy="104.8" r="2.9"/><circle cx="899.1" cy="105.8" r="2.9"/><circle cx="899.3" cy="105.1" r="2.9"/><circle cx="899.4" cy="105.2" r="2.9"/><circle cx="899.7" cy="106.1" r="2.9"/><circle cx="900.1" cy="106.9" r="2.9"/><circle cx="900.1" cy="107.8" r="2.9"/><circle cx="900.6" cy="107.3" r="2.9"/><circle cx="900.8" cy="106.2" r="2.9"/><circle cx="900.9" cy="105.3" r="2.9"/><circle cx="901.1" cy="106.7" r="2.9"/><circle cx="901.3" cy="105.2" r="2.9"/><circle cx="901.7" cy="105.4" r="2.9"/><circle cx="901.9" cy="104.5" r="2.9"/><circle cx="902.1" cy="108.3" r="2.9"/><circle cx="902.2" cy="108.2" r="2.9"/><circle cx="902.3" cy="105.7" r="2.9"/><circle cx="902.4" cy="107.1" r="2.9"/><circle cx="902.6" cy="107.5" r="2.9"/><circle cx="902.7" cy="109.0" r="2.9"/><circle cx="902.7" cy="108.9" r="2.9"/><circle cx="902.8" cy="106.1" r="2.9"/><circle cx="903.0" cy="107.7" r="2.9"/><circle cx="903.2" cy="105.5" r="2.9"/><circle cx="903.3" cy="107.3" r="2.9"/><circle cx="903.8" cy="107.8" r="2.9"/><circle cx="903.9" cy="107.4" r="2.9"/><circle cx="904.0" cy="106.4" r="2.9"/><circle cx="904.0" cy="107.4" r="2.9"/><circle cx="904.3" cy="110.3" r="2.9"/><circle cx="904.8" cy="107.5" r="2.9"/><circle cx="904.9" cy="108.3" r="2.9"/><circle cx="905.1" cy="109.5" r="2.9"/><circle cx="905.1" cy="109.4" r="2.9"/><circle cx="905.1" cy="108.0" r="2.9"/><circle cx="905.3" cy="110.3" r="2.9"/><circle cx="905.9" cy="110.5" r="2.9"/><circle cx="905.9" cy="109.1" r="2.9"/><circle cx="905.9" cy="109.2" r="2.9"/><circle cx="906.0" cy="108.8" r="2.9"/><circle cx="906.1" cy="109.6" r="2.9"/><circle cx="906.3" cy="109.4" r="2.9"/><circle cx="906.9" cy="110.7" r="2.9"/><circle cx="907.1" cy="107.4" r="2.9"/><circle cx="907.4" cy="110.8" r="2.9"/><circle cx="907.8" cy="109.6" r="2.9"/><circle cx="908.0" cy="111.7" r="2.9"/><circle cx="908.0" cy="111.4" r="2.9"/><circle cx="908.0" cy="109.7" r="2.9"/><circle cx="908.0" cy="109.9" r="2.9"/><circle cx="908.1" cy="109.4" r="2.9"/><circle cx="908.1" cy="108.7" r="2.9"/><circle cx="908.9" cy="110.1" r="2.9"/><circle cx="909.0" cy="111.4" r="2.9"/><circle cx="909.5" cy="110.3" r="2.9"/><circle cx="909.5" cy="109.0" r="2.9"/><circle cx="909.8" cy="110.8" r="2.9"/><circle cx="909.9" cy="109.5" r="2.9"/><circle cx="909.9" cy="110.9" r="2.9"/><circle cx="909.9" cy="111.7" r="2.9"/><circle cx="910.0" cy="112.0" r="2.9"/><circle cx="910.3" cy="112.4" r="2.9"/><circle cx="910.3" cy="110.0" r="2.9"/><circle cx="910.9" cy="108.7" r="2.9"/><circle cx="911.0" cy="111.3" r="2.9"/><circle cx="911.2" cy="111.2" r="2.9"/><circle cx="911.3" cy="112.4" r="2.9"/><circle cx="911.3" cy="112.4" r="2.9"/><circle cx="911.3" cy="111.2" r="2.9"/><circle cx="911.5" cy="111.7" r="2.9"/><circle cx="911.6" cy="112.7" r="2.9"/><circle cx="911.7" cy="110.9" r="2.9"/><circle cx="911.9" cy="109.2" r="2.9"/><circle cx="912.0" cy="112.2" r="2.9"/><circle cx="912.0" cy="112.0" r="2.9"/><circle cx="912.1" cy="111.2" r="2.9"/><circle cx="912.1" cy="113.5" r="2.9"/><circle cx="912.3" cy="111.8" r="2.9"/><circle cx="912.6" cy="111.2" r="2.9"/><circle cx="913.1" cy="112.7" r="2.9"/><circle cx="913.1" cy="114.6" r="2.9"/><circle cx="913.3" cy="111.1" r="2.9"/><circle cx="913.3" cy="113.5" r="2.9"/><circle cx="913.5" cy="111.0" r="2.9"/><circle cx="913.8" cy="113.6" r="2.9"/><circle cx="914.1" cy="112.2" r="2.9"/><circle cx="914.1" cy="112.3" r="2.9"/><circle cx="914.1" cy="113.7" r="2.9"/><circle cx="914.3" cy="115.6" r="2.9"/><circle cx="914.4" cy="110.8" r="2.9"/><circle cx="914.5" cy="112.8" r="2.9"/><circle cx="914.5" cy="112.0" r="2.9"/><circle cx="914.5" cy="114.6" r="2.9"/><circle cx="914.6" cy="113.2" r="2.9"/><circle cx="914.6" cy="112.0" r="2.9"/><circle cx="914.7" cy="114.2" r="2.9"/><circle cx="915.0" cy="114.2" r="2.9"/><circle cx="915.2" cy="113.2" r="2.9"/><circle cx="915.3" cy="114.5" r="2.9"/><circle cx="915.4" cy="113.9" r="2.9"/><circle cx="915.7" cy="114.8" r="2.9"/><circle cx="915.8" cy="112.3" r="2.9"/><circle cx="916.1" cy="114.7" r="2.9"/><circle cx="916.2" cy="115.1" r="2.9"/><circle cx="916.2" cy="112.8" r="2.9"/><circle cx="916.3" cy="116.6" r="2.9"/><circle cx="916.4" cy="116.0" r="2.9"/><circle cx="916.5" cy="114.4" r="2.9"/><circle cx="916.5" cy="113.4" r="2.9"/><circle cx="916.6" cy="113.8" r="2.9"/><circle cx="916.7" cy="114.1" r="2.9"/><circle cx="916.9" cy="114.8" r="2.9"/><circle cx="917.1" cy="112.6" r="2.9"/><circle cx="917.2" cy="112.9" r="2.9"/><circle cx="917.2" cy="116.1" r="2.9"/><circle cx="917.9" cy="113.0" r="2.9"/><circle cx="918.1" cy="117.4" r="2.9"/><circle cx="918.3" cy="114.8" r="2.9"/><circle cx="918.7" cy="113.3" r="2.9"/><circle cx="918.8" cy="114.0" r="2.9"/><circle cx="919.0" cy="117.5" r="2.9"/><circle cx="919.2" cy="115.7" r="2.9"/><circle cx="919.2" cy="114.1" r="2.9"/><circle cx="919.3" cy="117.1" r="2.9"/><circle cx="919.4" cy="116.1" r="2.9"/><circle cx="919.8" cy="114.8" r="2.9"/><circle cx="919.9" cy="114.2" r="2.9"/><circle cx="919.9" cy="113.7" r="2.9"/><circle cx="919.9" cy="115.8" r="2.9"/><circle cx="920.0" cy="116.4" r="2.9"/><circle cx="920.0" cy="117.8" r="2.9"/><circle cx="920.3" cy="118.0" r="2.9"/><circle cx="920.4" cy="117.3" r="2.9"/><circle cx="920.5" cy="114.1" r="2.9"/><circle cx="920.6" cy="115.3" r="2.9"/><circle cx="920.6" cy="116.8" r="2.9"/><circle cx="920.7" cy="115.8" r="2.9"/><circle cx="921.1" cy="116.5" r="2.9"/><circle cx="921.1" cy="115.8" r="2.9"/><circle cx="921.1" cy="116.4" r="2.9"/><circle cx="921.2" cy="117.7" r="2.9"/><circle cx="921.2" cy="117.1" r="2.9"/><circle cx="921.2" cy="114.5" r="2.9"/><circle cx="921.2" cy="115.8" r="2.9"/><circle cx="921.3" cy="114.9" r="2.9"/><circle cx="921.6" cy="114.4" r="2.9"/><circle cx="921.6" cy="117.9" r="2.9"/><circle cx="921.7" cy="116.6" r="2.9"/><circle cx="921.7" cy="119.3" r="2.9"/><circle cx="921.8" cy="117.6" r="2.9"/><circle cx="921.8" cy="117.4" r="2.9"/><circle cx="921.8" cy="116.0" r="2.9"/><circle cx="922.3" cy="116.0" r="2.9"/><circle cx="922.3" cy="118.0" r="2.9"/><circle cx="922.6" cy="116.4" r="2.9"/><circle cx="922.6" cy="119.2" r="2.9"/><circle cx="923.0" cy="118.6" r="2.9"/><circle cx="923.0" cy="118.6" r="2.9"/><circle cx="923.1" cy="117.6" r="2.9"/><circle cx="923.6" cy="116.4" r="2.9"/><circle cx="923.8" cy="119.3" r="2.9"/><circle cx="924.3" cy="117.2" r="2.9"/><circle cx="924.3" cy="118.0" r="2.9"/><circle cx="924.5" cy="119.1" r="2.9"/><circle cx="924.5" cy="117.6" r="2.9"/><circle cx="924.6" cy="117.5" r="2.9"/><circle cx="924.6" cy="116.3" r="2.9"/><circle cx="924.9" cy="119.7" r="2.9"/><circle cx="924.9" cy="120.6" r="2.9"/><circle cx="925.0" cy="117.2" r="2.9"/><circle cx="925.1" cy="119.9" r="2.9"/><circle cx="925.2" cy="121.0" r="2.9"/><circle cx="925.2" cy="120.8" r="2.9"/><circle cx="925.5" cy="120.0" r="2.9"/><circle cx="925.5" cy="117.7" r="2.9"/><circle cx="925.7" cy="116.8" r="2.9"/><circle cx="925.7" cy="117.8" r="2.9"/><circle cx="925.9" cy="119.5" r="2.9"/><circle cx="926.5" cy="121.0" r="2.9"/><circle cx="926.7" cy="121.0" r="2.9"/><circle cx="927.1" cy="119.3" r="2.9"/><circle cx="927.3" cy="120.1" r="2.9"/><circle cx="927.4" cy="119.0" r="2.9"/><circle cx="927.4" cy="117.2" r="2.9"/><circle cx="927.6" cy="118.8" r="2.9"/><circle cx="928.1" cy="121.4" r="2.9"/><circle cx="928.6" cy="121.2" r="2.9"/><circle cx="928.7" cy="120.4" r="2.9"/><circle cx="928.7" cy="120.3" r="2.9"/><circle cx="928.7" cy="122.8" r="2.9"/><circle cx="929.2" cy="121.1" r="2.9"/><circle cx="929.3" cy="120.1" r="2.9"/><circle cx="929.4" cy="118.7" r="2.9"/><circle cx="929.7" cy="119.9" r="2.9"/><circle cx="929.8" cy="121.3" r="2.9"/><circle cx="929.8" cy="120.0" r="2.9"/><circle cx="929.9" cy="121.5" r="2.9"/><circle cx="930.0" cy="120.2" r="2.9"/><circle cx="930.1" cy="123.4" r="2.9"/><circle cx="930.4" cy="120.5" r="2.9"/><circle cx="930.7" cy="122.4" r="2.9"/><circle cx="930.8" cy="120.2" r="2.9"/><circle cx="930.9" cy="121.6" r="2.9"/><circle cx="930.9" cy="122.5" r="2.9"/><circle cx="931.1" cy="121.7" r="2.9"/><circle cx="931.2" cy="119.0" r="2.9"/><circle cx="931.3" cy="123.4" r="2.9"/><circle cx="931.4" cy="122.4" r="2.9"/><circle cx="931.7" cy="120.3" r="2.9"/><circle cx="931.8" cy="121.0" r="2.9"/><circle cx="932.1" cy="122.6" r="2.9"/><circle cx="932.5" cy="120.8" r="2.9"/><circle cx="932.9" cy="123.0" r="2.9"/><circle cx="933.1" cy="120.4" r="2.9"/><circle cx="933.6" cy="122.5" r="2.9"/><circle cx="933.7" cy="123.5" r="2.9"/><circle cx="933.7" cy="121.8" r="2.9"/><circle cx="933.8" cy="122.6" r="2.9"/><circle cx="933.9" cy="123.0" r="2.9"/><circle cx="934.0" cy="124.6" r="2.9"/><circle cx="934.3" cy="124.4" r="2.9"/><circle cx="934.4" cy="123.0" r="2.9"/><circle cx="934.5" cy="123.2" r="2.9"/><circle cx="934.6" cy="122.3" r="2.9"/><circle cx="934.6" cy="122.3" r="2.9"/><circle cx="934.7" cy="122.2" r="2.9"/><circle cx="934.8" cy="122.1" r="2.9"/><circle cx="935.0" cy="124.1" r="2.9"/><circle cx="935.2" cy="122.7" r="2.9"/><circle cx="935.3" cy="121.8" r="2.9"/><circle cx="935.3" cy="121.9" r="2.9"/><circle cx="936.1" cy="123.2" r="2.9"/><circle cx="936.7" cy="124.3" r="2.9"/><circle cx="936.9" cy="123.0" r="2.9"/><circle cx="937.2" cy="122.4" r="2.9"/><circle cx="937.5" cy="124.3" r="2.9"/><circle cx="937.5" cy="125.4" r="2.9"/><circle cx="937.6" cy="122.6" r="2.9"/><circle cx="937.6" cy="123.4" r="2.9"/><circle cx="937.7" cy="121.4" r="2.9"/><circle cx="937.8" cy="127.1" r="2.9"/><circle cx="937.9" cy="122.7" r="2.9"/><circle cx="938.0" cy="122.5" r="2.9"/><circle cx="938.4" cy="124.7" r="2.9"/><circle cx="938.6" cy="124.0" r="2.9"/><circle cx="938.7" cy="125.6" r="2.9"/><circle cx="938.9" cy="123.4" r="2.9"/><circle cx="939.2" cy="124.9" r="2.9"/><circle cx="939.3" cy="125.1" r="2.9"/><circle cx="939.4" cy="125.6" r="2.9"/><circle cx="939.6" cy="127.6" r="2.9"/><circle cx="939.6" cy="124.9" r="2.9"/><circle cx="939.9" cy="123.9" r="2.9"/><circle cx="940.1" cy="125.8" r="2.9"/><circle cx="940.1" cy="124.2" r="2.9"/><circle cx="940.2" cy="126.5" r="2.9"/><circle cx="940.5" cy="125.8" r="2.9"/><circle cx="940.5" cy="125.5" r="2.9"/><circle cx="940.9" cy="123.3" r="2.9"/><circle cx="941.2" cy="123.5" r="2.9"/><circle cx="941.5" cy="124.9" r="2.9"/><circle cx="942.0" cy="125.9" r="2.9"/><circle cx="942.0" cy="123.2" r="2.9"/><circle cx="942.0" cy="125.3" r="2.9"/><circle cx="942.1" cy="126.4" r="2.9"/><circle cx="942.1" cy="125.2" r="2.9"/><circle cx="942.2" cy="127.4" r="2.9"/><circle cx="942.3" cy="126.5" r="2.9"/><circle cx="942.4" cy="128.5" r="2.9"/><circle cx="942.5" cy="125.2" r="2.9"/><circle cx="942.8" cy="127.1" r="2.9"/><circle cx="942.9" cy="123.6" r="2.9"/><circle cx="943.1" cy="125.3" r="2.9"/><circle cx="943.1" cy="127.9" r="2.9"/><circle cx="943.4" cy="126.1" r="2.9"/><circle cx="943.7" cy="126.0" r="2.9"/><circle cx="943.7" cy="125.0" r="2.9"/><circle cx="943.8" cy="129.3" r="2.9"/><circle cx="943.9" cy="128.7" r="2.9"/><circle cx="944.2" cy="127.0" r="2.9"/><circle cx="944.7" cy="127.7" r="2.9"/><circle cx="944.8" cy="127.3" r="2.9"/><circle cx="944.9" cy="125.3" r="2.9"/><circle cx="945.3" cy="128.0" r="2.9"/><circle cx="945.6" cy="126.9" r="2.9"/><circle cx="945.7" cy="126.5" r="2.9"/><circle cx="945.7" cy="129.2" r="2.9"/><circle cx="946.1" cy="127.9" r="2.9"/><circle cx="946.3" cy="126.4" r="2.9"/><circle cx="946.5" cy="128.8" r="2.9"/><circle cx="946.7" cy="128.1" r="2.9"/><circle cx="947.0" cy="128.7" r="2.9"/><circle cx="947.5" cy="128.3" r="2.9"/><circle cx="947.7" cy="129.0" r="2.9"/><circle cx="947.9" cy="129.1" r="2.9"/><circle cx="948.2" cy="127.5" r="2.9"/><circle cx="948.2" cy="131.9" r="2.9"/><circle cx="948.3" cy="129.2" r="2.9"/><circle cx="948.7" cy="126.0" r="2.9"/><circle cx="949.0" cy="130.6" r="2.9"/><circle cx="949.0" cy="127.0" r="2.9"/><circle cx="949.3" cy="129.8" r="2.9"/><circle cx="949.3" cy="131.6" r="2.9"/><circle cx="949.5" cy="128.9" r="2.9"/><circle cx="949.6" cy="129.2" r="2.9"/><circle cx="949.6" cy="131.1" r="2.9"/><circle cx="950.2" cy="130.6" r="2.9"/><circle cx="950.3" cy="130.5" r="2.9"/><circle cx="950.4" cy="129.5" r="2.9"/><circle cx="950.6" cy="129.9" r="2.9"/><circle cx="950.8" cy="127.1" r="2.9"/><circle cx="951.1" cy="129.4" r="2.9"/><circle cx="951.2" cy="129.9" r="2.9"/><circle cx="952.0" cy="131.4" r="2.9"/><circle cx="952.1" cy="131.2" r="2.9"/><circle cx="952.2" cy="128.6" r="2.9"/><circle cx="952.2" cy="129.4" r="2.9"/><circle cx="952.5" cy="127.7" r="2.9"/><circle cx="952.7" cy="130.5" r="2.9"/><circle cx="952.8" cy="133.0" r="2.9"/><circle cx="952.8" cy="131.0" r="2.9"/><circle cx="952.9" cy="129.6" r="2.9"/><circle cx="952.9" cy="131.0" r="2.9"/><circle cx="953.0" cy="130.5" r="2.9"/><circle cx="953.1" cy="129.0" r="2.9"/><circle cx="953.5" cy="129.6" r="2.9"/><circle cx="953.5" cy="130.7" r="2.9"/><circle cx="953.7" cy="132.3" r="2.9"/><circle cx="953.7" cy="130.2" r="2.9"/><circle cx="954.1" cy="130.2" r="2.9"/><circle cx="954.2" cy="129.2" r="2.9"/><circle cx="954.6" cy="131.4" r="2.9"/><circle cx="954.6" cy="129.8" r="2.9"/><circle cx="954.6" cy="134.1" r="2.9"/><circle cx="954.9" cy="131.7" r="2.9"/><circle cx="955.1" cy="128.8" r="2.9"/><circle cx="955.1" cy="133.7" r="2.9"/><circle cx="955.2" cy="132.1" r="2.9"/><circle cx="955.5" cy="131.7" r="2.9"/><circle cx="956.0" cy="132.3" r="2.9"/><circle cx="956.2" cy="131.2" r="2.9"/><circle cx="957.2" cy="131.1" r="2.9"/><circle cx="957.4" cy="131.5" r="2.9"/><circle cx="957.4" cy="132.4" r="2.9"/><circle cx="957.6" cy="133.3" r="2.9"/><circle cx="957.7" cy="135.6" r="2.9"/><circle cx="957.8" cy="133.3" r="2.9"/><circle cx="958.4" cy="134.3" r="2.9"/><circle cx="958.5" cy="134.6" r="2.9"/><circle cx="958.6" cy="131.9" r="2.9"/><circle cx="958.6" cy="131.7" r="2.9"/><circle cx="958.9" cy="132.0" r="2.9"/><circle cx="959.1" cy="135.7" r="2.9"/><circle cx="959.4" cy="131.4" r="2.9"/><circle cx="959.5" cy="134.4" r="2.9"/><circle cx="960.2" cy="132.6" r="2.9"/><circle cx="960.2" cy="137.2" r="2.9"/><circle cx="960.5" cy="131.9" r="2.9"/><circle cx="961.2" cy="132.4" r="2.9"/><circle cx="961.4" cy="133.6" r="2.9"/><circle cx="961.6" cy="132.7" r="2.9"/><circle cx="961.7" cy="135.6" r="2.9"/><circle cx="961.7" cy="135.9" r="2.9"/><circle cx="962.2" cy="136.2" r="2.9"/><circle cx="963.0" cy="138.3" r="2.9"/><circle cx="963.4" cy="133.8" r="2.9"/><circle cx="963.5" cy="135.6" r="2.9"/><circle cx="963.6" cy="134.7" r="2.9"/><circle cx="963.8" cy="134.3" r="2.9"/><circle cx="964.1" cy="136.1" r="2.9"/><circle cx="964.4" cy="139.0" r="2.9"/><circle cx="964.6" cy="134.4" r="2.9"/><circle cx="964.8" cy="139.2" r="2.9"/><circle cx="965.1" cy="136.5" r="2.9"/><circle cx="965.2" cy="135.4" r="2.9"/><circle cx="965.3" cy="134.3" r="2.9"/><circle cx="965.7" cy="137.6" r="2.9"/><circle cx="965.9" cy="136.6" r="2.9"/><circle cx="966.1" cy="136.2" r="2.9"/><circle cx="966.1" cy="135.5" r="2.9"/><circle cx="966.2" cy="136.2" r="2.9"/><circle cx="966.5" cy="136.0" r="2.9"/><circle cx="966.8" cy="137.0" r="2.9"/><circle cx="966.9" cy="133.9" r="2.9"/><circle cx="966.9" cy="137.2" r="2.9"/><circle cx="967.2" cy="138.4" r="2.9"/><circle cx="967.6" cy="138.3" r="2.9"/><circle cx="967.7" cy="135.0" r="2.9"/><circle cx="968.5" cy="137.6" r="2.9"/><circle cx="968.6" cy="137.9" r="2.9"/><circle cx="969.2" cy="139.5" r="2.9"/><circle cx="969.3" cy="139.2" r="2.9"/><circle cx="970.0" cy="139.7" r="2.9"/><circle cx="970.0" cy="137.9" r="2.9"/><circle cx="970.1" cy="139.2" r="2.9"/><circle cx="970.2" cy="138.0" r="2.9"/><circle cx="970.2" cy="137.7" r="2.9"/><circle cx="970.4" cy="135.8" r="2.9"/><circle cx="970.5" cy="138.8" r="2.9"/><circle cx="970.7" cy="138.1" r="2.9"/><circle cx="971.2" cy="136.1" r="2.9"/><circle cx="971.3" cy="140.7" r="2.9"/><circle cx="971.7" cy="138.2" r="2.9"/><circle cx="972.0" cy="139.5" r="2.9"/><circle cx="972.1" cy="139.5" r="2.9"/><circle cx="972.1" cy="138.7" r="2.9"/><circle cx="972.3" cy="139.3" r="2.9"/><circle cx="972.4" cy="140.5" r="2.9"/><circle cx="972.4" cy="137.8" r="2.9"/><circle cx="972.8" cy="137.1" r="2.9"/><circle cx="973.4" cy="141.1" r="2.9"/><circle cx="973.8" cy="140.5" r="2.9"/><circle cx="974.0" cy="138.5" r="2.9"/><circle cx="974.2" cy="141.5" r="2.9"/><circle cx="974.2" cy="137.9" r="2.9"/><circle cx="974.4" cy="140.1" r="2.9"/><circle cx="974.5" cy="140.5" r="2.9"/><circle cx="974.6" cy="140.0" r="2.9"/><circle cx="974.6" cy="140.7" r="2.9"/><circle cx="974.6" cy="139.2" r="2.9"/><circle cx="974.6" cy="137.4" r="2.9"/><circle cx="974.8" cy="139.1" r="2.9"/><circle cx="974.9" cy="141.0" r="2.9"/><circle cx="975.3" cy="140.4" r="2.9"/><circle cx="975.5" cy="140.3" r="2.9"/><circle cx="975.6" cy="139.9" r="2.9"/><circle cx="976.0" cy="142.3" r="2.9"/><circle cx="976.1" cy="139.8" r="2.9"/><circle cx="976.1" cy="141.1" r="2.9"/><circle cx="976.9" cy="141.4" r="2.9"/><circle cx="977.0" cy="139.5" r="2.9"/><circle cx="977.6" cy="142.5" r="2.9"/><circle cx="977.8" cy="142.0" r="2.9"/><circle cx="978.1" cy="142.4" r="2.9"/><circle cx="978.3" cy="139.4" r="2.9"/><circle cx="978.5" cy="143.5" r="2.9"/><circle cx="978.9" cy="141.1" r="2.9"/><circle cx="979.0" cy="141.7" r="2.9"/><circle cx="979.0" cy="142.4" r="2.9"/><circle cx="979.2" cy="143.3" r="2.9"/><circle cx="979.2" cy="141.0" r="2.9"/><circle cx="979.3" cy="142.4" r="2.9"/><circle cx="979.5" cy="142.0" r="2.9"/><circle cx="979.8" cy="142.0" r="2.9"/><circle cx="980.4" cy="142.3" r="2.9"/><circle cx="980.6" cy="140.8" r="2.9"/><circle cx="980.8" cy="142.4" r="2.9"/><circle cx="981.1" cy="144.5" r="2.9"/><circle cx="981.3" cy="141.1" r="2.9"/><circle cx="981.5" cy="140.2" r="2.9"/><circle cx="981.6" cy="145.0" r="2.9"/><circle cx="981.9" cy="140.7" r="2.9"/><circle cx="982.2" cy="142.5" r="2.9"/><circle cx="982.7" cy="142.2" r="2.9"/><circle cx="982.8" cy="143.6" r="2.9"/><circle cx="983.1" cy="142.8" r="2.9"/><circle cx="983.2" cy="144.1" r="2.9"/><circle cx="983.2" cy="142.6" r="2.9"/><circle cx="983.4" cy="141.7" r="2.9"/><circle cx="983.4" cy="147.0" r="2.9"/><circle cx="984.2" cy="143.9" r="2.9"/><circle cx="984.4" cy="144.7" r="2.9"/><circle cx="984.6" cy="141.9" r="2.9"/><circle cx="984.6" cy="142.8" r="2.9"/><circle cx="985.1" cy="143.3" r="2.9"/><circle cx="985.3" cy="145.8" r="2.9"/><circle cx="985.4" cy="142.9" r="2.9"/><circle cx="985.7" cy="145.2" r="2.9"/><circle cx="985.8" cy="143.9" r="2.9"/><circle cx="985.9" cy="143.4" r="2.9"/><circle cx="985.9" cy="145.7" r="2.9"/><circle cx="986.1" cy="145.1" r="2.9"/><circle cx="986.1" cy="142.9" r="2.9"/><circle cx="986.2" cy="145.7" r="2.9"/><circle cx="986.6" cy="142.7" r="2.9"/><circle cx="986.6" cy="145.6" r="2.9"/><circle cx="986.8" cy="144.7" r="2.9"/><circle cx="986.9" cy="148.4" r="2.9"/><circle cx="987.7" cy="146.0" r="2.9"/><circle cx="987.9" cy="148.8" r="2.9"/><circle cx="988.2" cy="146.4" r="2.9"/><circle cx="988.5" cy="144.9" r="2.9"/><circle cx="988.8" cy="146.8" r="2.9"/><circle cx="989.1" cy="143.3" r="2.9"/><circle cx="989.3" cy="143.9" r="2.9"/><circle cx="990.0" cy="145.9" r="2.9"/><circle cx="990.3" cy="148.7" r="2.9"/><circle cx="990.3" cy="147.7" r="2.9"/><circle cx="990.3" cy="144.0" r="2.9"/><circle cx="990.4" cy="142.9" r="2.9"/><circle cx="990.4" cy="146.7" r="2.9"/><circle cx="990.8" cy="143.8" r="2.9"/><circle cx="991.1" cy="144.6" r="2.9"/><circle cx="991.1" cy="145.4" r="2.9"/><circle cx="991.3" cy="144.9" r="2.9"/><circle cx="991.9" cy="145.4" r="2.9"/><circle cx="992.0" cy="146.5" r="2.9"/><circle cx="992.1" cy="148.4" r="2.9"/><circle cx="992.4" cy="145.9" r="2.9"/><circle cx="992.5" cy="147.1" r="2.9"/><circle cx="993.0" cy="147.9" r="2.9"/><circle cx="993.1" cy="148.0" r="2.9"/><circle cx="993.1" cy="147.1" r="2.9"/><circle cx="993.4" cy="146.1" r="2.9"/><circle cx="994.1" cy="147.5" r="2.9"/><circle cx="994.2" cy="145.2" r="2.9"/><circle cx="994.3" cy="147.6" r="2.9"/><circle cx="994.4" cy="149.8" r="2.9"/><circle cx="994.6" cy="148.8" r="2.9"/><circle cx="994.7" cy="144.4" r="2.9"/><circle cx="995.1" cy="148.9" r="2.9"/><circle cx="995.1" cy="148.9" r="2.9"/><circle cx="995.1" cy="147.4" r="2.9"/><circle cx="995.3" cy="149.2" r="2.9"/><circle cx="995.6" cy="149.3" r="2.9"/><circle cx="995.7" cy="148.0" r="2.9"/><circle cx="995.8" cy="147.8" r="2.9"/><circle cx="995.8" cy="146.3" r="2.9"/><circle cx="995.8" cy="150.0" r="2.9"/><circle cx="995.8" cy="144.8" r="2.9"/><circle cx="995.9" cy="148.9" r="2.9"/><circle cx="996.0" cy="147.7" r="2.9"/><circle cx="996.9" cy="148.8" r="2.9"/><circle cx="996.9" cy="148.0" r="2.9"/><circle cx="997.0" cy="148.6" r="2.9"/><circle cx="997.0" cy="147.3" r="2.9"/><circle cx="997.2" cy="147.2" r="2.9"/><circle cx="997.6" cy="151.7" r="2.9"/><circle cx="997.7" cy="148.4" r="2.9"/><circle cx="998.0" cy="151.3" r="2.9"/><circle cx="998.0" cy="150.4" r="2.9"/><circle cx="998.0" cy="149.4" r="2.9"/><circle cx="998.1" cy="149.7" r="2.9"/><circle cx="998.3" cy="149.2" r="2.9"/><circle cx="998.4" cy="150.9" r="2.9"/><circle cx="998.8" cy="149.2" r="2.9"/><circle cx="998.8" cy="148.8" r="2.9"/><circle cx="998.9" cy="150.5" r="2.9"/><circle cx="999.1" cy="149.5" r="2.9"/><circle cx="999.3" cy="150.5" r="2.9"/><circle cx="999.4" cy="148.6" r="2.9"/><circle cx="999.4" cy="149.6" r="2.9"/><circle cx="999.6" cy="151.3" r="2.9"/><circle cx="999.9" cy="151.4" r="2.9"/><circle cx="1000.0" cy="148.1" r="2.9"/><circle cx="1000.1" cy="149.7" r="2.9"/><circle cx="1000.2" cy="148.1" r="2.9"/><circle cx="1000.3" cy="151.3" r="2.9"/><circle cx="1001.0" cy="148.7" r="2.9"/><circle cx="1001.4" cy="147.3" r="2.9"/><circle cx="1001.4" cy="148.4" r="2.9"/><circle cx="1001.5" cy="148.4" r="2.9"/><circle cx="1001.6" cy="154.1" r="2.9"/><circle cx="1001.6" cy="149.4" r="2.9"/><circle cx="1001.6" cy="151.7" r="2.9"/><circle cx="1001.7" cy="149.2" r="2.9"/><circle cx="1001.8" cy="151.2" r="2.9"/><circle cx="1001.9" cy="152.6" r="2.9"/><circle cx="1002.0" cy="152.1" r="2.9"/><circle cx="1002.0" cy="152.8" r="2.9"/><circle cx="1002.1" cy="152.2" r="2.9"/><circle cx="1002.1" cy="150.2" r="2.9"/><circle cx="1002.2" cy="151.5" r="2.9"/><circle cx="1002.4" cy="151.0" r="2.9"/><circle cx="1002.6" cy="150.0" r="2.9"/><circle cx="1003.1" cy="154.6" r="2.9"/><circle cx="1003.2" cy="149.4" r="2.9"/><circle cx="1003.4" cy="149.0" r="2.9"/><circle cx="1003.6" cy="150.3" r="2.9"/><circle cx="1003.9" cy="153.1" r="2.9"/><circle cx="1004.2" cy="150.7" r="2.9"/><circle cx="1004.4" cy="151.9" r="2.9"/><circle cx="1004.6" cy="150.3" r="2.9"/><circle cx="1004.7" cy="153.6" r="2.9"/><circle cx="1004.8" cy="152.2" r="2.9"/><circle cx="1004.8" cy="151.8" r="2.9"/><circle cx="1005.3" cy="154.2" r="2.9"/><circle cx="1005.7" cy="150.6" r="2.9"/><circle cx="1005.8" cy="154.5" r="2.9"/><circle cx="1006.1" cy="153.6" r="2.9"/><circle cx="1006.2" cy="150.1" r="2.9"/><circle cx="1006.3" cy="151.9" r="2.9"/><circle cx="1006.5" cy="153.1" r="2.9"/><circle cx="1007.0" cy="150.7" r="2.9"/><circle cx="1007.1" cy="151.1" r="2.9"/><circle cx="1007.7" cy="155.1" r="2.9"/><circle cx="1007.7" cy="156.5" r="2.9"/><circle cx="1007.9" cy="155.6" r="2.9"/><circle cx="1007.9" cy="153.9" r="2.9"/><circle cx="1008.5" cy="153.3" r="2.9"/><circle cx="1008.8" cy="151.5" r="2.9"/><circle cx="1009.1" cy="154.6" r="2.9"/><circle cx="1009.1" cy="152.4" r="2.9"/><circle cx="1009.1" cy="153.4" r="2.9"/><circle cx="1009.7" cy="153.7" r="2.9"/><circle cx="1009.9" cy="155.0" r="2.9"/><circle cx="1009.9" cy="154.5" r="2.9"/><circle cx="1010.1" cy="150.0" r="2.9"/><circle cx="1010.1" cy="152.7" r="2.9"/><circle cx="1010.1" cy="155.3" r="2.9"/><circle cx="1010.5" cy="156.0" r="2.9"/><circle cx="1010.6" cy="155.2" r="2.9"/><circle cx="1011.0" cy="155.7" r="2.9"/><circle cx="1011.1" cy="152.2" r="2.9"/><circle cx="1011.1" cy="153.9" r="2.9"/><circle cx="1011.1" cy="154.2" r="2.9"/><circle cx="1011.5" cy="155.8" r="2.9"/><circle cx="1011.7" cy="154.5" r="2.9"/><circle cx="1011.8" cy="153.4" r="2.9"/><circle cx="1012.0" cy="156.0" r="2.9"/><circle cx="1012.4" cy="154.6" r="2.9"/><circle cx="1012.4" cy="155.6" r="2.9"/><circle cx="1012.8" cy="151.9" r="2.9"/><circle cx="1013.0" cy="154.9" r="2.9"/><circle cx="1013.3" cy="155.8" r="2.9"/><circle cx="1013.4" cy="157.3" r="2.9"/><circle cx="1013.7" cy="155.1" r="2.9"/><circle cx="1014.1" cy="152.4" r="2.9"/><circle cx="1014.3" cy="153.0" r="2.9"/><circle cx="1014.4" cy="157.1" r="2.9"/><circle cx="1014.4" cy="157.0" r="2.9"/><circle cx="1014.8" cy="155.0" r="2.9"/><circle cx="1014.9" cy="154.0" r="2.9"/><circle cx="1015.2" cy="157.4" r="2.9"/><circle cx="1015.5" cy="154.7" r="2.9"/><circle cx="1015.6" cy="155.6" r="2.9"/><circle cx="1015.8" cy="153.2" r="2.9"/><circle cx="1016.4" cy="152.1" r="2.9"/><circle cx="1016.5" cy="156.3" r="2.9"/><circle cx="1016.7" cy="159.2" r="2.9"/><circle cx="1016.9" cy="155.6" r="2.9"/><circle cx="1017.0" cy="154.0" r="2.9"/><circle cx="1017.5" cy="158.6" r="2.9"/><circle cx="1017.9" cy="154.7" r="2.9"/><circle cx="1018.0" cy="152.8" r="2.9"/><circle cx="1018.6" cy="155.8" r="2.9"/><circle cx="1018.7" cy="157.2" r="2.9"/><circle cx="1019.0" cy="155.4" r="2.9"/><circle cx="1019.4" cy="156.9" r="2.9"/><circle cx="1019.5" cy="157.0" r="2.9"/><circle cx="1019.8" cy="157.2" r="2.9"/><circle cx="1019.9" cy="159.7" r="2.9"/><circle cx="1020.4" cy="157.6" r="2.9"/><circle cx="1020.5" cy="158.3" r="2.9"/><circle cx="1021.1" cy="159.9" r="2.9"/><circle cx="1021.1" cy="157.0" r="2.9"/><circle cx="1021.2" cy="159.1" r="2.9"/><circle cx="1021.4" cy="156.6" r="2.9"/><circle cx="1021.4" cy="157.8" r="2.9"/><circle cx="1021.5" cy="157.6" r="2.9"/><circle cx="1021.5" cy="159.5" r="2.9"/><circle cx="1021.8" cy="159.4" r="2.9"/><circle cx="1022.1" cy="156.7" r="2.9"/><circle cx="1022.1" cy="156.2" r="2.9"/><circle cx="1022.1" cy="155.9" r="2.9"/><circle cx="1022.1" cy="156.2" r="2.9"/><circle cx="1022.2" cy="156.8" r="2.9"/><circle cx="1022.4" cy="157.9" r="2.9"/><circle cx="1022.4" cy="156.6" r="2.9"/><circle cx="1022.6" cy="161.3" r="2.9"/><circle cx="1022.9" cy="160.4" r="2.9"/><circle cx="1022.9" cy="161.9" r="2.9"/><circle cx="1023.2" cy="159.2" r="2.9"/><circle cx="1023.3" cy="159.6" r="2.9"/><circle cx="1023.6" cy="158.1" r="2.9"/><circle cx="1023.9" cy="160.7" r="2.9"/><circle cx="1024.5" cy="159.8" r="2.9"/><circle cx="1024.6" cy="158.7" r="2.9"/><circle cx="1024.7" cy="159.6" r="2.9"/><circle cx="1025.1" cy="162.3" r="2.9"/><circle cx="1025.6" cy="162.1" r="2.9"/><circle cx="1025.8" cy="159.3" r="2.9"/><circle cx="1025.8" cy="155.9" r="2.9"/><circle cx="1026.0" cy="155.4" r="2.9"/><circle cx="1026.1" cy="159.3" r="2.9"/><circle cx="1026.1" cy="159.3" r="2.9"/><circle cx="1026.3" cy="159.4" r="2.9"/><circle cx="1026.4" cy="160.2" r="2.9"/><circle cx="1026.5" cy="160.4" r="2.9"/><circle cx="1026.6" cy="158.2" r="2.9"/><circle cx="1026.7" cy="158.6" r="2.9"/><circle cx="1026.8" cy="162.4" r="2.9"/><circle cx="1026.8" cy="163.4" r="2.9"/><circle cx="1027.2" cy="160.1" r="2.9"/><circle cx="1027.3" cy="160.2" r="2.9"/><circle cx="1028.0" cy="161.6" r="2.9"/><circle cx="1028.0" cy="160.8" r="2.9"/><circle cx="1028.1" cy="160.3" r="2.9"/><circle cx="1028.3" cy="160.2" r="2.9"/><circle cx="1028.4" cy="162.9" r="2.9"/><circle cx="1028.7" cy="159.2" r="2.9"/><circle cx="1028.8" cy="161.4" r="2.9"/><circle cx="1029.4" cy="158.6" r="2.9"/><circle cx="1029.5" cy="161.7" r="2.9"/><circle cx="1029.6" cy="161.3" r="2.9"/><circle cx="1030.0" cy="160.7" r="2.9"/><circle cx="1030.1" cy="161.5" r="2.9"/><circle cx="1030.3" cy="157.9" r="2.9"/><circle cx="1030.6" cy="159.7" r="2.9"/><circle cx="1030.7" cy="160.3" r="2.9"/><circle cx="1030.7" cy="161.3" r="2.9"/><circle cx="1031.1" cy="161.2" r="2.9"/><circle cx="1031.1" cy="160.0" r="2.9"/><circle cx="1031.3" cy="161.4" r="2.9"/><circle cx="1031.3" cy="162.0" r="2.9"/><circle cx="1031.5" cy="165.1" r="2.9"/><circle cx="1031.6" cy="161.8" r="2.9"/><circle cx="1032.2" cy="162.2" r="2.9"/><circle cx="1032.4" cy="162.3" r="2.9"/><circle cx="1033.2" cy="161.5" r="2.9"/><circle cx="1033.3" cy="161.2" r="2.9"/><circle cx="1033.3" cy="163.4" r="2.9"/><circle cx="1033.4" cy="161.6" r="2.9"/><circle cx="1033.5" cy="161.2" r="2.9"/><circle cx="1033.8" cy="162.2" r="2.9"/><circle cx="1033.8" cy="165.1" r="2.9"/><circle cx="1033.9" cy="160.2" r="2.9"/><circle cx="1033.9" cy="161.6" r="2.9"/><circle cx="1034.0" cy="162.8" r="2.9"/><circle cx="1034.6" cy="163.6" r="2.9"/><circle cx="1034.8" cy="165.5" r="2.9"/><circle cx="1034.9" cy="166.2" r="2.9"/><circle cx="1035.1" cy="161.6" r="2.9"/><circle cx="1035.2" cy="164.1" r="2.9"/><circle cx="1035.3" cy="166.2" r="2.9"/><circle cx="1035.3" cy="164.8" r="2.9"/><circle cx="1035.5" cy="161.3" r="2.9"/><circle cx="1035.8" cy="161.9" r="2.9"/><circle cx="1035.8" cy="163.1" r="2.9"/><circle cx="1036.1" cy="164.6" r="2.9"/><circle cx="1036.4" cy="161.3" r="2.9"/><circle cx="1036.7" cy="164.8" r="2.9"/><circle cx="1036.7" cy="162.1" r="2.9"/><circle cx="1037.4" cy="164.6" r="2.9"/><circle cx="1037.5" cy="164.8" r="2.9"/><circle cx="1037.6" cy="164.4" r="2.9"/><circle cx="1038.1" cy="165.6" r="2.9"/><circle cx="1038.2" cy="163.7" r="2.9"/><circle cx="1038.2" cy="164.1" r="2.9"/><circle cx="1038.3" cy="166.1" r="2.9"/><circle cx="1038.5" cy="162.8" r="2.9"/><circle cx="1038.5" cy="162.8" r="2.9"/><circle cx="1038.7" cy="161.4" r="2.9"/><circle cx="1038.8" cy="167.0" r="2.9"/><circle cx="1038.9" cy="162.6" r="2.9"/><circle cx="1039.1" cy="165.7" r="2.9"/><circle cx="1039.3" cy="164.3" r="2.9"/><circle cx="1039.3" cy="164.9" r="2.9"/><circle cx="1039.7" cy="163.5" r="2.9"/><circle cx="1039.9" cy="164.0" r="2.9"/><circle cx="1040.1" cy="166.1" r="2.9"/><circle cx="1040.3" cy="164.6" r="2.9"/><circle cx="1040.6" cy="162.7" r="2.9"/><circle cx="1040.6" cy="164.2" r="2.9"/><circle cx="1040.8" cy="162.0" r="2.9"/><circle cx="1040.9" cy="165.5" r="2.9"/><circle cx="1040.9" cy="166.1" r="2.9"/><circle cx="1041.1" cy="165.0" r="2.9"/><circle cx="1041.1" cy="167.3" r="2.9"/><circle cx="1041.2" cy="167.4" r="2.9"/><circle cx="1041.4" cy="164.4" r="2.9"/><circle cx="1041.7" cy="166.7" r="2.9"/><circle cx="1042.0" cy="164.4" r="2.9"/><circle cx="1042.1" cy="165.2" r="2.9"/><circle cx="1042.1" cy="164.5" r="2.9"/><circle cx="1042.2" cy="165.1" r="2.9"/><circle cx="1042.3" cy="162.8" r="2.9"/><circle cx="1042.4" cy="164.7" r="2.9"/><circle cx="1042.5" cy="162.7" r="2.9"/><circle cx="1042.6" cy="167.9" r="2.9"/><circle cx="1042.8" cy="164.2" r="2.9"/><circle cx="1043.1" cy="165.1" r="2.9"/><circle cx="1043.1" cy="162.4" r="2.9"/><circle cx="1043.2" cy="164.0" r="2.9"/><circle cx="1043.2" cy="166.2" r="2.9"/><circle cx="1043.4" cy="161.6" r="2.9"/><circle cx="1043.5" cy="165.9" r="2.9"/><circle cx="1043.5" cy="164.5" r="2.9"/><circle cx="1044.0" cy="169.4" r="2.9"/><circle cx="1044.0" cy="166.8" r="2.9"/><circle cx="1044.1" cy="167.2" r="2.9"/><circle cx="1044.3" cy="166.3" r="2.9"/><circle cx="1044.5" cy="167.6" r="2.9"/><circle cx="1044.6" cy="163.7" r="2.9"/><circle cx="1044.7" cy="168.9" r="2.9"/><circle cx="1044.7" cy="167.3" r="2.9"/><circle cx="1044.9" cy="163.1" r="2.9"/><circle cx="1044.9" cy="166.7" r="2.9"/><circle cx="1045.1" cy="166.1" r="2.9"/><circle cx="1045.6" cy="168.9" r="2.9"/><circle cx="1045.9" cy="165.8" r="2.9"/><circle cx="1046.0" cy="166.4" r="2.9"/><circle cx="1046.1" cy="167.2" r="2.9"/><circle cx="1046.2" cy="166.1" r="2.9"/><circle cx="1046.2" cy="169.5" r="2.9"/><circle cx="1046.2" cy="167.3" r="2.9"/><circle cx="1046.4" cy="165.3" r="2.9"/><circle cx="1046.5" cy="166.9" r="2.9"/><circle cx="1046.8" cy="166.2" r="2.9"/><circle cx="1046.9" cy="169.7" r="2.9"/><circle cx="1047.0" cy="164.7" r="2.9"/><circle cx="1047.1" cy="163.4" r="2.9"/><circle cx="1047.3" cy="170.5" r="2.9"/><circle cx="1047.3" cy="166.8" r="2.9"/><circle cx="1047.9" cy="169.2" r="2.9"/><circle cx="1048.1" cy="167.2" r="2.9"/><circle cx="1048.4" cy="166.3" r="2.9"/><circle cx="1048.4" cy="168.2" r="2.9"/><circle cx="1048.5" cy="167.4" r="2.9"/><circle cx="1048.6" cy="166.2" r="2.9"/><circle cx="1048.9" cy="163.9" r="2.9"/><circle cx="1049.0" cy="168.0" r="2.9"/><circle cx="1049.2" cy="170.0" r="2.9"/><circle cx="1049.2" cy="169.6" r="2.9"/><circle cx="1049.4" cy="165.0" r="2.9"/><circle cx="1049.6" cy="170.2" r="2.9"/><circle cx="1049.9" cy="165.2" r="2.9"/><circle cx="1049.9" cy="166.8" r="2.9"/><circle cx="1050.1" cy="167.9" r="2.9"/><circle cx="1050.2" cy="168.0" r="2.9"/><circle cx="1050.2" cy="166.3" r="2.9"/><circle cx="1050.2" cy="167.3" r="2.9"/><circle cx="1050.3" cy="168.1" r="2.9"/><circle cx="1050.5" cy="168.2" r="2.9"/><circle cx="1050.7" cy="169.3" r="2.9"/><circle cx="1051.1" cy="169.9" r="2.9"/><circle cx="1051.3" cy="168.5" r="2.9"/><circle cx="1051.5" cy="167.0" r="2.9"/><circle cx="1051.6" cy="169.7" r="2.9"/><circle cx="1051.6" cy="168.3" r="2.9"/><circle cx="1051.6" cy="166.9" r="2.9"/><circle cx="1052.1" cy="164.0" r="2.9"/><circle cx="1052.3" cy="168.8" r="2.9"/><circle cx="1052.4" cy="169.8" r="2.9"/><circle cx="1052.6" cy="170.6" r="2.9"/><circle cx="1052.7" cy="166.8" r="2.9"/><circle cx="1052.7" cy="168.5" r="2.9"/><circle cx="1053.1" cy="165.5" r="2.9"/><circle cx="1053.1" cy="169.1" r="2.9"/><circle cx="1053.4" cy="169.3" r="2.9"/><circle cx="1053.5" cy="167.3" r="2.9"/><circle cx="1053.5" cy="169.8" r="2.9"/><circle cx="1053.7" cy="170.8" r="2.9"/><circle cx="1054.0" cy="171.0" r="2.9"/><circle cx="1054.3" cy="167.4" r="2.9"/><circle cx="1054.4" cy="169.2" r="2.9"/><circle cx="1054.4" cy="171.1" r="2.9"/><circle cx="1055.3" cy="169.1" r="2.9"/><circle cx="1055.3" cy="168.8" r="2.9"/><circle cx="1055.8" cy="169.1" r="2.9"/><circle cx="1055.8" cy="171.3" r="2.9"/><circle cx="1056.2" cy="169.3" r="2.9"/><circle cx="1056.2" cy="166.3" r="2.9"/><circle cx="1056.3" cy="171.0" r="2.9"/><circle cx="1056.4" cy="173.5" r="2.9"/><circle cx="1056.9" cy="170.9" r="2.9"/><circle cx="1057.0" cy="172.6" r="2.9"/><circle cx="1057.2" cy="170.7" r="2.9"/><circle cx="1057.4" cy="169.8" r="2.9"/><circle cx="1057.5" cy="168.3" r="2.9"/><circle cx="1058.0" cy="171.3" r="2.9"/><circle cx="1058.1" cy="170.4" r="2.9"/><circle cx="1058.2" cy="172.2" r="2.9"/><circle cx="1058.3" cy="170.8" r="2.9"/><circle cx="1058.5" cy="171.8" r="2.9"/><circle cx="1058.8" cy="166.8" r="2.9"/><circle cx="1058.8" cy="171.3" r="2.9"/><circle cx="1059.1" cy="171.9" r="2.9"/><circle cx="1059.3" cy="171.4" r="2.9"/><circle cx="1059.4" cy="173.3" r="2.9"/><circle cx="1059.4" cy="170.7" r="2.9"/><circle cx="1059.7" cy="172.1" r="2.9"/><circle cx="1059.7" cy="167.2" r="2.9"/><circle cx="1059.8" cy="172.4" r="2.9"/><circle cx="1059.9" cy="172.3" r="2.9"/><circle cx="1059.9" cy="169.2" r="2.9"/><circle cx="1059.9" cy="166.8" r="2.9"/><circle cx="1060.1" cy="169.1" r="2.9"/><circle cx="1060.6" cy="171.0" r="2.9"/><circle cx="1060.9" cy="174.2" r="2.9"/><circle cx="1060.9" cy="168.9" r="2.9"/><circle cx="1060.9" cy="172.0" r="2.9"/><circle cx="1061.2" cy="172.4" r="2.9"/><circle cx="1061.3" cy="172.3" r="2.9"/><circle cx="1061.5" cy="170.0" r="2.9"/><circle cx="1061.5" cy="172.5" r="2.9"/><circle cx="1061.7" cy="168.7" r="2.9"/><circle cx="1061.9" cy="167.7" r="2.9"/><circle cx="1062.1" cy="171.3" r="2.9"/><circle cx="1062.2" cy="169.8" r="2.9"/><circle cx="1062.3" cy="167.1" r="2.9"/><circle cx="1062.7" cy="174.1" r="2.9"/><circle cx="1062.8" cy="173.1" r="2.9"/><circle cx="1062.8" cy="172.8" r="2.9"/><circle cx="1062.8" cy="169.9" r="2.9"/><circle cx="1063.1" cy="170.4" r="2.9"/><circle cx="1063.3" cy="168.8" r="2.9"/><circle cx="1063.4" cy="171.8" r="2.9"/><circle cx="1063.5" cy="171.3" r="2.9"/><circle cx="1063.6" cy="171.8" r="2.9"/><circle cx="1063.8" cy="174.8" r="2.9"/><circle cx="1063.8" cy="171.0" r="2.9"/><circle cx="1063.9" cy="171.6" r="2.9"/><circle cx="1063.9" cy="169.1" r="2.9"/><circle cx="1063.9" cy="175.0" r="2.9"/><circle cx="1064.0" cy="174.4" r="2.9"/><circle cx="1064.3" cy="167.7" r="2.9"/><circle cx="1064.5" cy="167.9" r="2.9"/><circle cx="1064.6" cy="175.5" r="2.9"/><circle cx="1064.7" cy="176.0" r="2.9"/><circle cx="1064.8" cy="173.7" r="2.9"/><circle cx="1064.8" cy="175.1" r="2.9"/><circle cx="1064.9" cy="169.8" r="2.9"/><circle cx="1064.9" cy="172.5" r="2.9"/><circle cx="1065.0" cy="174.0" r="2.9"/><circle cx="1065.1" cy="172.1" r="2.9"/><circle cx="1065.2" cy="170.5" r="2.9"/><circle cx="1065.4" cy="172.2" r="2.9"/><circle cx="1065.5" cy="170.8" r="2.9"/><circle cx="1065.5" cy="176.3" r="2.9"/><circle cx="1066.0" cy="171.9" r="2.9"/><circle cx="1066.1" cy="171.3" r="2.9"/><circle cx="1066.3" cy="169.0" r="2.9"/><circle cx="1066.9" cy="175.8" r="2.9"/><circle cx="1066.9" cy="172.6" r="2.9"/><circle cx="1067.0" cy="174.1" r="2.9"/><circle cx="1067.7" cy="172.9" r="2.9"/><circle cx="1068.1" cy="173.8" r="2.9"/><circle cx="1068.1" cy="173.3" r="2.9"/><circle cx="1068.2" cy="172.1" r="2.9"/><circle cx="1068.3" cy="174.3" r="2.9"/><circle cx="1068.3" cy="171.7" r="2.9"/><circle cx="1068.4" cy="173.9" r="2.9"/><circle cx="1068.4" cy="174.1" r="2.9"/><circle cx="1068.7" cy="175.1" r="2.9"/><circle cx="1068.8" cy="171.7" r="2.9"/><circle cx="1069.2" cy="177.7" r="2.9"/><circle cx="1069.5" cy="174.1" r="2.9"/><circle cx="1069.9" cy="171.5" r="2.9"/><circle cx="1069.9" cy="170.5" r="2.9"/><circle cx="1070.0" cy="174.0" r="2.9"/><circle cx="1070.1" cy="173.6" r="2.9"/><circle cx="1070.1" cy="175.1" r="2.9"/><circle cx="1070.2" cy="170.7" r="2.9"/><circle cx="1070.4" cy="173.8" r="2.9"/><circle cx="1070.5" cy="174.8" r="2.9"/><circle cx="1070.6" cy="175.9" r="2.9"/><circle cx="1070.7" cy="170.5" r="2.9"/><circle cx="1071.0" cy="172.8" r="2.9"/><circle cx="1071.0" cy="172.4" r="2.9"/><circle cx="1071.1" cy="173.8" r="2.9"/><circle cx="1071.2" cy="173.5" r="2.9"/><circle cx="1071.5" cy="174.3" r="2.9"/><circle cx="1071.5" cy="172.3" r="2.9"/><circle cx="1071.5" cy="175.0" r="2.9"/><circle cx="1071.6" cy="171.1" r="2.9"/><circle cx="1071.7" cy="174.1" r="2.9"/><circle cx="1071.8" cy="178.5" r="2.9"/><circle cx="1071.9" cy="172.2" r="2.9"/><circle cx="1072.1" cy="177.9" r="2.9"/><circle cx="1072.2" cy="177.0" r="2.9"/><circle cx="1072.3" cy="173.4" r="2.9"/><circle cx="1072.5" cy="175.4" r="2.9"/><circle cx="1072.8" cy="175.7" r="2.9"/><circle cx="1073.1" cy="172.6" r="2.9"/><circle cx="1073.2" cy="170.4" r="2.9"/><circle cx="1073.3" cy="174.1" r="2.9"/><circle cx="1073.5" cy="172.0" r="2.9"/><circle cx="1073.5" cy="175.8" r="2.9"/><circle cx="1073.6" cy="171.3" r="2.9"/><circle cx="1073.9" cy="179.1" r="2.9"/><circle cx="1074.2" cy="179.3" r="2.9"/><circle cx="1074.3" cy="173.4" r="2.9"/><circle cx="1074.4" cy="170.8" r="2.9"/><circle cx="1074.5" cy="175.7" r="2.9"/><circle cx="1074.5" cy="173.9" r="2.9"/><circle cx="1074.6" cy="174.8" r="2.9"/><circle cx="1074.8" cy="171.8" r="2.9"/><circle cx="1074.9" cy="172.1" r="2.9"/><circle cx="1075.0" cy="176.2" r="2.9"/><circle cx="1075.0" cy="172.4" r="2.9"/><circle cx="1075.1" cy="171.0" r="2.9"/><circle cx="1075.4" cy="176.3" r="2.9"/><circle cx="1075.8" cy="176.5" r="2.9"/><circle cx="1075.9" cy="174.7" r="2.9"/><circle cx="1076.0" cy="173.2" r="2.9"/><circle cx="1076.1" cy="178.8" r="2.9"/><circle cx="1076.7" cy="174.9" r="2.9"/><circle cx="1076.7" cy="177.0" r="2.9"/><circle cx="1076.8" cy="172.9" r="2.9"/><circle cx="1076.9" cy="172.8" r="2.9"/><circle cx="1077.2" cy="176.2" r="2.9"/><circle cx="1077.4" cy="179.0" r="2.9"/><circle cx="1077.9" cy="173.8" r="2.9"/><circle cx="1077.9" cy="174.7" r="2.9"/><circle cx="1078.3" cy="175.2" r="2.9"/><circle cx="1078.5" cy="179.0" r="2.9"/><circle cx="1078.5" cy="176.1" r="2.9"/><circle cx="1078.5" cy="177.0" r="2.9"/><circle cx="1079.0" cy="178.2" r="2.9"/><circle cx="1079.1" cy="177.8" r="2.9"/><circle cx="1079.8" cy="180.0" r="2.9"/><circle cx="1080.0" cy="173.9" r="2.9"/><circle cx="1080.1" cy="177.2" r="2.9"/><circle cx="1080.1" cy="177.4" r="2.9"/><circle cx="1080.1" cy="174.1" r="2.9"/><circle cx="1080.3" cy="177.0" r="2.9"/><circle cx="1080.4" cy="177.3" r="2.9"/><circle cx="1080.4" cy="176.0" r="2.9"/><circle cx="1080.5" cy="175.4" r="2.9"/><circle cx="1080.6" cy="179.4" r="2.9"/><circle cx="1080.8" cy="177.4" r="2.9"/><circle cx="1080.8" cy="176.7" r="2.9"/><circle cx="1081.1" cy="177.5" r="2.9"/><circle cx="1081.2" cy="176.0" r="2.9"/><circle cx="1081.2" cy="177.5" r="2.9"/><circle cx="1081.3" cy="178.1" r="2.9"/><circle cx="1081.3" cy="175.2" r="2.9"/><circle cx="1081.4" cy="176.9" r="2.9"/><circle cx="1081.4" cy="176.9" r="2.9"/><circle cx="1081.6" cy="177.5" r="2.9"/><circle cx="1081.7" cy="176.3" r="2.9"/><circle cx="1082.0" cy="177.2" r="2.9"/><circle cx="1084.2" cy="176.9" r="2.9"/><circle cx="1084.5" cy="176.1" r="2.9"/><circle cx="1084.5" cy="176.8" r="2.9"/><circle cx="1084.6" cy="174.6" r="2.9"/><circle cx="1084.9" cy="179.3" r="2.9"/><circle cx="1085.2" cy="178.9" r="2.9"/><circle cx="1085.3" cy="176.3" r="2.9"/><circle cx="1085.4" cy="176.2" r="2.9"/><circle cx="1085.5" cy="176.3" r="2.9"/><circle cx="1085.6" cy="175.7" r="2.9"/><circle cx="1085.6" cy="175.8" r="2.9"/><circle cx="1085.9" cy="179.4" r="2.9"/><circle cx="1086.2" cy="177.8" r="2.9"/><circle cx="1086.5" cy="180.4" r="2.9"/><circle cx="1086.6" cy="179.6" r="2.9"/><circle cx="1086.6" cy="179.4" r="2.9"/><circle cx="1087.1" cy="175.9" r="2.9"/><circle cx="1087.9" cy="182.7" r="2.9"/><circle cx="1088.1" cy="178.6" r="2.9"/><circle cx="1088.2" cy="174.2" r="2.9"/><circle cx="1088.4" cy="178.5" r="2.9"/><circle cx="1088.6" cy="178.3" r="2.9"/><circle cx="1088.7" cy="180.3" r="2.9"/><circle cx="1088.7" cy="176.9" r="2.9"/><circle cx="1088.9" cy="179.5" r="2.9"/><circle cx="1089.0" cy="178.4" r="2.9"/><circle cx="1089.1" cy="181.8" r="2.9"/><circle cx="1089.5" cy="178.7" r="2.9"/><circle cx="1089.6" cy="180.4" r="2.9"/><circle cx="1090.2" cy="181.7" r="2.9"/><circle cx="1090.2" cy="177.8" r="2.9"/><circle cx="1090.8" cy="180.4" r="2.9"/><circle cx="1091.3" cy="179.9" r="2.9"/><circle cx="1091.3" cy="183.3" r="2.9"/><circle cx="1091.4" cy="181.2" r="2.9"/><circle cx="1091.7" cy="178.4" r="2.9"/><circle cx="1091.8" cy="184.0" r="2.9"/><circle cx="1092.0" cy="178.9" r="2.9"/><circle cx="1092.3" cy="180.1" r="2.9"/><circle cx="1092.4" cy="180.5" r="2.9"/><circle cx="1092.5" cy="181.5" r="2.9"/><circle cx="1092.7" cy="178.8" r="2.9"/><circle cx="1092.8" cy="179.8" r="2.9"/><circle cx="1092.8" cy="179.5" r="2.9"/><circle cx="1092.9" cy="180.8" r="2.9"/><circle cx="1093.0" cy="178.6" r="2.9"/><circle cx="1093.1" cy="179.5" r="2.9"/><circle cx="1093.2" cy="177.4" r="2.9"/><circle cx="1093.2" cy="184.2" r="2.9"/><circle cx="1093.7" cy="181.7" r="2.9"/><circle cx="1093.9" cy="183.3" r="2.9"/><circle cx="1094.0" cy="179.1" r="2.9"/><circle cx="1094.1" cy="176.9" r="2.9"/><circle cx="1094.2" cy="177.2" r="2.9"/><circle cx="1094.3" cy="178.0" r="2.9"/><circle cx="1094.3" cy="181.9" r="2.9"/><circle cx="1094.4" cy="179.9" r="2.9"/><circle cx="1094.5" cy="179.6" r="2.9"/><circle cx="1094.5" cy="178.0" r="2.9"/><circle cx="1094.9" cy="184.5" r="2.9"/><circle cx="1095.0" cy="177.9" r="2.9"/><circle cx="1095.0" cy="180.4" r="2.9"/><circle cx="1095.1" cy="180.3" r="2.9"/><circle cx="1095.4" cy="180.7" r="2.9"/><circle cx="1095.4" cy="180.7" r="2.9"/><circle cx="1095.7" cy="181.9" r="2.9"/><circle cx="1096.2" cy="186.0" r="2.9"/><circle cx="1096.2" cy="183.7" r="2.9"/><circle cx="1096.3" cy="182.0" r="2.9"/><circle cx="1096.7" cy="179.1" r="2.9"/><circle cx="1096.7" cy="184.8" r="2.9"/><circle cx="1096.8" cy="184.9" r="2.9"/><circle cx="1097.2" cy="180.3" r="2.9"/><circle cx="1097.8" cy="183.0" r="2.9"/><circle cx="1098.2" cy="176.8" r="2.9"/><circle cx="1098.2" cy="179.6" r="2.9"/><circle cx="1098.5" cy="184.4" r="2.9"/><circle cx="1098.5" cy="178.2" r="2.9"/><circle cx="1098.5" cy="183.4" r="2.9"/><circle cx="1098.8" cy="184.5" r="2.9"/><circle cx="1098.9" cy="178.9" r="2.9"/><circle cx="1099.3" cy="181.9" r="2.9"/><circle cx="1099.5" cy="185.6" r="2.9"/><circle cx="1099.6" cy="187.0" r="2.9"/><circle cx="1099.8" cy="182.6" r="2.9"/><circle cx="1100.2" cy="185.9" r="2.9"/><circle cx="1100.9" cy="180.9" r="2.9"/><circle cx="1101.1" cy="181.3" r="2.9"/><circle cx="1101.1" cy="183.8" r="2.9"/><circle cx="1101.2" cy="184.5" r="2.9"/><circle cx="1101.4" cy="183.3" r="2.9"/><circle cx="1101.9" cy="185.6" r="2.9"/><circle cx="1102.3" cy="185.1" r="2.9"/><circle cx="1102.3" cy="186.2" r="2.9"/><circle cx="1102.5" cy="185.1" r="2.9"/><circle cx="1102.7" cy="183.6" r="2.9"/><circle cx="1102.8" cy="183.9" r="2.9"/><circle cx="1103.0" cy="183.4" r="2.9"/><circle cx="1103.6" cy="184.1" r="2.9"/><circle cx="1103.7" cy="186.3" r="2.9"/><circle cx="1103.7" cy="186.1" r="2.9"/><circle cx="1103.9" cy="186.9" r="2.9"/><circle cx="1103.9" cy="186.0" r="2.9"/><circle cx="1103.9" cy="185.9" r="2.9"/><circle cx="1104.0" cy="182.1" r="2.9"/><circle cx="1104.1" cy="183.2" r="2.9"/><circle cx="1104.6" cy="183.1" r="2.9"/><circle cx="1104.8" cy="182.5" r="2.9"/><circle cx="1104.9" cy="178.6" r="2.9"/><circle cx="1105.2" cy="185.8" r="2.9"/><circle cx="1105.4" cy="181.8" r="2.9"/><circle cx="1105.5" cy="182.5" r="2.9"/><circle cx="1105.5" cy="182.6" r="2.9"/><circle cx="1105.6" cy="187.7" r="2.9"/><circle cx="1105.6" cy="185.2" r="2.9"/><circle cx="1105.6" cy="187.6" r="2.9"/><circle cx="1106.0" cy="184.2" r="2.9"/><circle cx="1106.0" cy="186.1" r="2.9"/><circle cx="1106.2" cy="186.2" r="2.9"/><circle cx="1106.5" cy="184.1" r="2.9"/><circle cx="1106.7" cy="184.8" r="2.9"/><circle cx="1107.0" cy="180.7" r="2.9"/><circle cx="1107.1" cy="182.2" r="2.9"/><circle cx="1107.1" cy="184.8" r="2.9"/><circle cx="1107.2" cy="179.3" r="2.9"/><circle cx="1107.2" cy="185.1" r="2.9"/><circle cx="1107.6" cy="185.0" r="2.9"/><circle cx="1107.9" cy="183.2" r="2.9"/><circle cx="1107.9" cy="186.4" r="2.9"/><circle cx="1108.0" cy="185.8" r="2.9"/><circle cx="1108.0" cy="187.3" r="2.9"/><circle cx="1108.2" cy="185.2" r="2.9"/><circle cx="1108.8" cy="186.3" r="2.9"/><circle cx="1108.9" cy="185.6" r="2.9"/><circle cx="1109.8" cy="182.1" r="2.9"/><circle cx="1109.8" cy="185.1" r="2.9"/><circle cx="1109.9" cy="184.8" r="2.9"/><circle cx="1110.0" cy="185.4" r="2.9"/><circle cx="1110.3" cy="185.3" r="2.9"/><circle cx="1110.5" cy="187.1" r="2.9"/><circle cx="1110.5" cy="185.2" r="2.9"/><circle cx="1110.9" cy="183.8" r="2.9"/><circle cx="1111.0" cy="186.7" r="2.9"/><circle cx="1111.0" cy="180.7" r="2.9"/><circle cx="1111.3" cy="182.2" r="2.9"/><circle cx="1111.4" cy="188.2" r="2.9"/><circle cx="1111.5" cy="182.2" r="2.9"/><circle cx="1111.6" cy="186.1" r="2.9"/><circle cx="1111.7" cy="183.1" r="2.9"/><circle cx="1111.7" cy="187.0" r="2.9"/><circle cx="1112.2" cy="186.5" r="2.9"/><circle cx="1112.3" cy="188.0" r="2.9"/><circle cx="1112.5" cy="187.0" r="2.9"/><circle cx="1112.6" cy="188.4" r="2.9"/><circle cx="1112.8" cy="183.7" r="2.9"/><circle cx="1112.9" cy="189.3" r="2.9"/><circle cx="1113.4" cy="185.0" r="2.9"/><circle cx="1113.7" cy="187.9" r="2.9"/><circle cx="1113.8" cy="185.7" r="2.9"/><circle cx="1114.0" cy="188.7" r="2.9"/><circle cx="1114.5" cy="187.3" r="2.9"/><circle cx="1114.7" cy="186.9" r="2.9"/><circle cx="1115.1" cy="187.8" r="2.9"/><circle cx="1115.1" cy="186.4" r="2.9"/><circle cx="1115.5" cy="186.6" r="2.9"/><circle cx="1115.9" cy="189.9" r="2.9"/><circle cx="1115.9" cy="188.0" r="2.9"/><circle cx="1116.4" cy="187.1" r="2.9"/><circle cx="1116.5" cy="186.0" r="2.9"/><circle cx="1116.8" cy="189.7" r="2.9"/><circle cx="1116.8" cy="185.2" r="2.9"/><circle cx="1117.1" cy="186.9" r="2.9"/><circle cx="1117.2" cy="184.4" r="2.9"/><circle cx="1117.3" cy="185.7" r="2.9"/><circle cx="1117.3" cy="186.7" r="2.9"/><circle cx="1117.8" cy="188.0" r="2.9"/><circle cx="1118.3" cy="187.2" r="2.9"/><circle cx="1118.5" cy="189.5" r="2.9"/><circle cx="1119.0" cy="183.3" r="2.9"/><circle cx="1119.1" cy="192.3" r="2.9"/><circle cx="1119.5" cy="189.0" r="2.9"/><circle cx="1119.7" cy="188.8" r="2.9"/><circle cx="1120.3" cy="186.0" r="2.9"/><circle cx="1120.5" cy="190.2" r="2.9"/><circle cx="1121.0" cy="186.3" r="2.9"/><circle cx="1121.3" cy="188.0" r="2.9"/><circle cx="1121.4" cy="188.6" r="2.9"/><circle cx="1121.5" cy="189.5" r="2.9"/><circle cx="1121.6" cy="189.4" r="2.9"/><circle cx="1121.6" cy="186.3" r="2.9"/><circle cx="1121.7" cy="185.4" r="2.9"/><circle cx="1122.0" cy="191.4" r="2.9"/><circle cx="1122.2" cy="190.2" r="2.9"/><circle cx="1122.2" cy="189.8" r="2.9"/><circle cx="1122.4" cy="189.5" r="2.9"/><circle cx="1122.5" cy="189.7" r="2.9"/><circle cx="1122.9" cy="184.4" r="2.9"/><circle cx="1123.1" cy="188.8" r="2.9"/><circle cx="1123.2" cy="191.0" r="2.9"/><circle cx="1123.8" cy="189.2" r="2.9"/><circle cx="1124.0" cy="190.7" r="2.9"/><circle cx="1124.0" cy="190.0" r="2.9"/><circle cx="1124.3" cy="188.1" r="2.9"/><circle cx="1124.5" cy="187.4" r="2.9"/><circle cx="1125.1" cy="189.1" r="2.9"/><circle cx="1125.1" cy="191.7" r="2.9"/><circle cx="1125.3" cy="185.7" r="2.9"/><circle cx="1125.4" cy="191.5" r="2.9"/><circle cx="1125.5" cy="185.1" r="2.9"/><circle cx="1125.5" cy="194.0" r="2.9"/><circle cx="1125.7" cy="189.1" r="2.9"/><circle cx="1125.8" cy="189.9" r="2.9"/><circle cx="1125.8" cy="188.5" r="2.9"/><circle cx="1125.9" cy="191.7" r="2.9"/><circle cx="1126.0" cy="188.0" r="2.9"/><circle cx="1126.3" cy="192.9" r="2.9"/><circle cx="1126.3" cy="194.5" r="2.9"/><circle cx="1126.3" cy="189.8" r="2.9"/><circle cx="1126.7" cy="187.9" r="2.9"/><circle cx="1126.7" cy="191.6" r="2.9"/><circle cx="1127.3" cy="188.3" r="2.9"/><circle cx="1127.6" cy="189.3" r="2.9"/><circle cx="1127.6" cy="190.5" r="2.9"/><circle cx="1127.7" cy="192.5" r="2.9"/><circle cx="1127.7" cy="187.6" r="2.9"/><circle cx="1127.8" cy="191.7" r="2.9"/><circle cx="1128.0" cy="191.3" r="2.9"/><circle cx="1128.1" cy="189.9" r="2.9"/><circle cx="1128.4" cy="191.8" r="2.9"/><circle cx="1128.5" cy="190.5" r="2.9"/><circle cx="1128.9" cy="189.5" r="2.9"/><circle cx="1129.0" cy="185.8" r="2.9"/><circle cx="1129.3" cy="184.8" r="2.9"/><circle cx="1129.4" cy="190.6" r="2.9"/><circle cx="1129.4" cy="192.0" r="2.9"/><circle cx="1129.4" cy="188.1" r="2.9"/><circle cx="1130.7" cy="190.1" r="2.9"/><circle cx="1131.1" cy="194.5" r="2.9"/><circle cx="1131.3" cy="192.8" r="2.9"/><circle cx="1131.4" cy="186.9" r="2.9"/><circle cx="1131.5" cy="192.4" r="2.9"/><circle cx="1131.7" cy="190.3" r="2.9"/><circle cx="1131.8" cy="192.1" r="2.9"/><circle cx="1131.8" cy="191.1" r="2.9"/><circle cx="1131.9" cy="188.8" r="2.9"/><circle cx="1132.1" cy="195.7" r="2.9"/><circle cx="1132.5" cy="185.2" r="2.9"/><circle cx="1132.6" cy="188.6" r="2.9"/><circle cx="1133.0" cy="193.8" r="2.9"/><circle cx="1133.1" cy="190.8" r="2.9"/><circle cx="1133.3" cy="191.8" r="2.9"/><circle cx="1133.3" cy="188.7" r="2.9"/><circle cx="1133.6" cy="192.9" r="2.9"/><circle cx="1133.7" cy="189.3" r="2.9"/><circle cx="1133.7" cy="188.3" r="2.9"/><circle cx="1134.0" cy="188.3" r="2.9"/><circle cx="1134.3" cy="193.7" r="2.9"/><circle cx="1134.3" cy="190.9" r="2.9"/><circle cx="1134.6" cy="192.8" r="2.9"/><circle cx="1134.6" cy="192.1" r="2.9"/><circle cx="1135.1" cy="190.9" r="2.9"/><circle cx="1135.2" cy="188.5" r="2.9"/><circle cx="1135.3" cy="192.0" r="2.9"/><circle cx="1135.4" cy="192.8" r="2.9"/><circle cx="1135.7" cy="188.7" r="2.9"/><circle cx="1135.9" cy="190.1" r="2.9"/><circle cx="1135.9" cy="189.4" r="2.9"/><circle cx="1136.2" cy="186.7" r="2.9"/><circle cx="1136.4" cy="192.3" r="2.9"/><circle cx="1136.5" cy="193.0" r="2.9"/><circle cx="1136.5" cy="191.4" r="2.9"/><circle cx="1137.1" cy="192.3" r="2.9"/><circle cx="1137.6" cy="192.3" r="2.9"/><circle cx="1137.8" cy="194.8" r="2.9"/><circle cx="1137.8" cy="193.9" r="2.9"/><circle cx="1137.8" cy="194.2" r="2.9"/><circle cx="1137.9" cy="190.2" r="2.9"/><circle cx="1138.0" cy="193.2" r="2.9"/><circle cx="1138.0" cy="192.0" r="2.9"/><circle cx="1138.2" cy="189.5" r="2.9"/><circle cx="1138.2" cy="193.1" r="2.9"/><circle cx="1138.6" cy="188.2" r="2.9"/><circle cx="1138.7" cy="189.5" r="2.9"/><circle cx="1138.9" cy="194.7" r="2.9"/><circle cx="1139.2" cy="193.9" r="2.9"/><circle cx="1139.3" cy="187.9" r="2.9"/><circle cx="1139.3" cy="193.2" r="2.9"/><circle cx="1139.5" cy="192.6" r="2.9"/><circle cx="1139.7" cy="191.8" r="2.9"/><circle cx="1139.8" cy="189.7" r="2.9"/><circle cx="1140.1" cy="191.8" r="2.9"/><circle cx="1140.1" cy="194.2" r="2.9"/><circle cx="1140.2" cy="196.8" r="2.9"/><circle cx="1140.4" cy="194.6" r="2.9"/><circle cx="1140.7" cy="190.6" r="2.9"/><circle cx="1140.8" cy="194.3" r="2.9"/><circle cx="1141.0" cy="197.7" r="2.9"/><circle cx="1141.4" cy="192.4" r="2.9"/><circle cx="1141.6" cy="189.9" r="2.9"/><circle cx="1141.7" cy="195.5" r="2.9"/><circle cx="1141.8" cy="191.5" r="2.9"/><circle cx="1142.1" cy="193.2" r="2.9"/><circle cx="1142.6" cy="194.0" r="2.9"/><circle cx="1142.6" cy="192.7" r="2.9"/><circle cx="1142.7" cy="193.1" r="2.9"/><circle cx="1142.8" cy="194.7" r="2.9"/><circle cx="1143.1" cy="195.1" r="2.9"/><circle cx="1143.3" cy="194.1" r="2.9"/><circle cx="1143.4" cy="195.2" r="2.9"/><circle cx="1143.4" cy="194.2" r="2.9"/><circle cx="1143.5" cy="191.8" r="2.9"/><circle cx="1143.9" cy="197.8" r="2.9"/><circle cx="1143.9" cy="194.3" r="2.9"/><circle cx="1144.1" cy="194.8" r="2.9"/><circle cx="1144.1" cy="196.1" r="2.9"/><circle cx="1144.2" cy="193.3" r="2.9"/><circle cx="1144.3" cy="190.4" r="2.9"/><circle cx="1144.9" cy="189.7" r="2.9"/><circle cx="1145.2" cy="192.8" r="2.9"/><circle cx="1145.4" cy="196.4" r="2.9"/><circle cx="1145.5" cy="194.8" r="2.9"/><circle cx="1145.6" cy="195.3" r="2.9"/><circle cx="1145.6" cy="192.7" r="2.9"/><circle cx="1146.0" cy="190.5" r="2.9"/><circle cx="1146.2" cy="193.4" r="2.9"/><circle cx="1146.4" cy="189.6" r="2.9"/><circle cx="1146.6" cy="191.9" r="2.9"/><circle cx="1146.7" cy="195.2" r="2.9"/><circle cx="1146.8" cy="192.4" r="2.9"/><circle cx="1146.8" cy="190.5" r="2.9"/><circle cx="1146.9" cy="195.2" r="2.9"/><circle cx="1147.2" cy="195.2" r="2.9"/><circle cx="1147.3" cy="194.4" r="2.9"/><circle cx="1147.6" cy="189.7" r="2.9"/><circle cx="1147.8" cy="195.8" r="2.9"/><circle cx="1147.9" cy="193.4" r="2.9"/><circle cx="1147.9" cy="195.4" r="2.9"/><circle cx="1147.9" cy="196.7" r="2.9"/><circle cx="1148.5" cy="195.3" r="2.9"/><circle cx="1148.6" cy="197.4" r="2.9"/><circle cx="1148.7" cy="196.0" r="2.9"/><circle cx="1148.8" cy="193.3" r="2.9"/><circle cx="1148.9" cy="193.0" r="2.9"/><circle cx="1148.9" cy="199.1" r="2.9"/><circle cx="1149.0" cy="199.8" r="2.9"/><circle cx="1149.2" cy="193.9" r="2.9"/><circle cx="1149.6" cy="195.4" r="2.9"/><circle cx="1149.8" cy="195.9" r="2.9"/><circle cx="1149.8" cy="196.8" r="2.9"/><circle cx="1149.9" cy="191.2" r="2.9"/><circle cx="1149.9" cy="196.9" r="2.9"/><circle cx="1150.0" cy="195.5" r="2.9"/><circle cx="1150.1" cy="195.6" r="2.9"/><circle cx="1150.2" cy="194.3" r="2.9"/><circle cx="1150.2" cy="198.6" r="2.9"/><circle cx="1150.3" cy="194.4" r="2.9"/><circle cx="1150.7" cy="199.7" r="2.9"/><circle cx="1150.8" cy="199.2" r="2.9"/><circle cx="1151.1" cy="194.2" r="2.9"/><circle cx="1151.5" cy="198.0" r="2.9"/><circle cx="1151.5" cy="198.1" r="2.9"/><circle cx="1151.6" cy="195.0" r="2.9"/><circle cx="1151.6" cy="190.4" r="2.9"/><circle cx="1151.7" cy="195.0" r="2.9"/><circle cx="1152.2" cy="196.7" r="2.9"/><circle cx="1152.3" cy="201.2" r="2.9"/><circle cx="1152.8" cy="199.2" r="2.9"/><circle cx="1152.9" cy="198.5" r="2.9"/><circle cx="1153.1" cy="196.8" r="2.9"/><circle cx="1153.1" cy="198.4" r="2.9"/><circle cx="1153.1" cy="194.1" r="2.9"/><circle cx="1153.5" cy="194.2" r="2.9"/><circle cx="1153.5" cy="193.0" r="2.9"/><circle cx="1153.6" cy="193.4" r="2.9"/><circle cx="1153.6" cy="195.8" r="2.9"/><circle cx="1153.7" cy="201.1" r="2.9"/><circle cx="1153.7" cy="192.8" r="2.9"/><circle cx="1153.8" cy="196.9" r="2.9"/><circle cx="1154.6" cy="196.5" r="2.9"/><circle cx="1154.8" cy="191.9" r="2.9"/><circle cx="1155.0" cy="196.1" r="2.9"/><circle cx="1155.1" cy="191.2" r="2.9"/><circle cx="1155.1" cy="199.2" r="2.9"/><circle cx="1155.1" cy="198.5" r="2.9"/><circle cx="1155.2" cy="194.5" r="2.9"/><circle cx="1155.5" cy="195.5" r="2.9"/><circle cx="1155.7" cy="195.2" r="2.9"/><circle cx="1155.7" cy="194.8" r="2.9"/><circle cx="1156.2" cy="198.4" r="2.9"/><circle cx="1156.3" cy="193.8" r="2.9"/><circle cx="1156.3" cy="195.7" r="2.9"/><circle cx="1156.4" cy="193.6" r="2.9"/><circle cx="1156.5" cy="199.4" r="2.9"/><circle cx="1156.8" cy="197.0" r="2.9"/><circle cx="1157.3" cy="199.4" r="2.9"/><circle cx="1157.3" cy="194.7" r="2.9"/><circle cx="1157.6" cy="190.6" r="2.9"/><circle cx="1157.8" cy="198.3" r="2.9"/><circle cx="1158.1" cy="197.8" r="2.9"/><circle cx="1158.2" cy="199.1" r="2.9"/><circle cx="1158.3" cy="196.8" r="2.9"/><circle cx="1158.4" cy="198.6" r="2.9"/><circle cx="1158.6" cy="199.1" r="2.9"/><circle cx="1159.0" cy="195.7" r="2.9"/><circle cx="1159.5" cy="191.7" r="2.9"/><circle cx="1160.1" cy="198.9" r="2.9"/><circle cx="1160.2" cy="197.7" r="2.9"/><circle cx="1160.3" cy="196.2" r="2.9"/><circle cx="1161.3" cy="194.4" r="2.9"/><circle cx="1161.6" cy="201.9" r="2.9"/><circle cx="1161.6" cy="198.0" r="2.9"/><circle cx="1162.0" cy="198.0" r="2.9"/><circle cx="1162.0" cy="195.4" r="2.9"/><circle cx="1162.9" cy="196.0" r="2.9"/><circle cx="1163.1" cy="198.4" r="2.9"/><circle cx="1163.2" cy="194.6" r="2.9"/><circle cx="1163.2" cy="200.9" r="2.9"/><circle cx="1163.3" cy="196.8" r="2.9"/><circle cx="1163.3" cy="201.1" r="2.9"/><circle cx="1163.4" cy="198.3" r="2.9"/><circle cx="1163.5" cy="196.0" r="2.9"/><circle cx="1164.5" cy="203.2" r="2.9"/><circle cx="1164.7" cy="198.1" r="2.9"/><circle cx="1164.8" cy="197.0" r="2.9"/><circle cx="1164.9" cy="200.6" r="2.9"/><circle cx="1165.2" cy="199.3" r="2.9"/><circle cx="1165.2" cy="198.4" r="2.9"/><circle cx="1165.3" cy="193.4" r="2.9"/><circle cx="1165.4" cy="194.0" r="2.9"/><circle cx="1165.7" cy="200.7" r="2.9"/><circle cx="1166.1" cy="197.2" r="2.9"/><circle cx="1166.2" cy="199.7" r="2.9"/><circle cx="1166.2" cy="196.3" r="2.9"/><circle cx="1166.2" cy="199.2" r="2.9"/><circle cx="1166.3" cy="194.1" r="2.9"/><circle cx="1166.5" cy="198.0" r="2.9"/><circle cx="1166.8" cy="202.3" r="2.9"/><circle cx="1166.8" cy="199.2" r="2.9"/><circle cx="1167.2" cy="197.8" r="2.9"/><circle cx="1167.2" cy="198.4" r="2.9"/><circle cx="1167.4" cy="198.8" r="2.9"/><circle cx="1167.5" cy="203.5" r="2.9"/><circle cx="1167.5" cy="199.2" r="2.9"/><circle cx="1167.7" cy="199.9" r="2.9"/><circle cx="1168.2" cy="197.7" r="2.9"/><circle cx="1168.4" cy="200.4" r="2.9"/><circle cx="1168.8" cy="200.2" r="2.9"/><circle cx="1168.9" cy="197.3" r="2.9"/><circle cx="1169.0" cy="194.9" r="2.9"/><circle cx="1169.2" cy="198.5" r="2.9"/><circle cx="1169.2" cy="202.1" r="2.9"/><circle cx="1169.3" cy="197.6" r="2.9"/><circle cx="1170.1" cy="198.4" r="2.9"/><circle cx="1170.3" cy="202.3" r="2.9"/><circle cx="1171.4" cy="199.3" r="2.9"/><circle cx="1171.6" cy="194.8" r="2.9"/><circle cx="1172.1" cy="203.9" r="2.9"/><circle cx="1172.1" cy="199.9" r="2.9"/><circle cx="1172.4" cy="198.4" r="2.9"/><circle cx="1172.4" cy="199.1" r="2.9"/><circle cx="1172.8" cy="201.2" r="2.9"/><circle cx="1173.2" cy="198.6" r="2.9"/><circle cx="1173.4" cy="204.6" r="2.9"/><circle cx="1173.5" cy="201.2" r="2.9"/><circle cx="1174.1" cy="201.8" r="2.9"/><circle cx="1174.2" cy="201.0" r="2.9"/><circle cx="1174.3" cy="198.8" r="2.9"/><circle cx="1174.5" cy="200.8" r="2.9"/><circle cx="1174.6" cy="204.8" r="2.9"/><circle cx="1174.6" cy="199.1" r="2.9"/><circle cx="1174.7" cy="199.9" r="2.9"/><circle cx="1174.9" cy="201.3" r="2.9"/><circle cx="1175.0" cy="198.4" r="2.9"/><circle cx="1175.2" cy="202.6" r="2.9"/><circle cx="1175.3" cy="197.3" r="2.9"/><circle cx="1175.4" cy="201.5" r="2.9"/><circle cx="1175.5" cy="197.9" r="2.9"/><circle cx="1175.5" cy="199.7" r="2.9"/><circle cx="1175.7" cy="199.7" r="2.9"/><circle cx="1175.8" cy="206.7" r="2.9"/><circle cx="1175.9" cy="199.1" r="2.9"/><circle cx="1176.0" cy="203.2" r="2.9"/><circle cx="1176.3" cy="201.7" r="2.9"/><circle cx="1176.6" cy="198.8" r="2.9"/><circle cx="1176.8" cy="203.1" r="2.9"/><circle cx="1177.0" cy="200.7" r="2.9"/><circle cx="1177.0" cy="196.7" r="2.9"/><circle cx="1177.2" cy="196.4" r="2.9"/><circle cx="1177.3" cy="201.2" r="2.9"/><circle cx="1177.6" cy="201.3" r="2.9"/><circle cx="1178.2" cy="196.9" r="2.9"/><circle cx="1178.2" cy="201.2" r="2.9"/><circle cx="1178.4" cy="200.2" r="2.9"/><circle cx="1178.7" cy="202.3" r="2.9"/><circle cx="1178.9" cy="199.3" r="2.9"/><circle cx="1179.0" cy="201.3" r="2.9"/><circle cx="1179.2" cy="200.8" r="2.9"/><circle cx="1179.4" cy="202.6" r="2.9"/><circle cx="1179.4" cy="203.9" r="2.9"/><circle cx="1179.7" cy="206.5" r="2.9"/><circle cx="1180.0" cy="197.5" r="2.9"/><circle cx="1180.5" cy="202.1" r="2.9"/><circle cx="1180.5" cy="199.0" r="2.9"/><circle cx="1180.8" cy="198.5" r="2.9"/><circle cx="1180.9" cy="196.9" r="2.9"/><circle cx="1181.2" cy="200.0" r="2.9"/><circle cx="1181.4" cy="201.6" r="2.9"/><circle cx="1181.9" cy="200.9" r="2.9"/><circle cx="1182.7" cy="202.3" r="2.9"/><circle cx="1182.8" cy="202.2" r="2.9"/><circle cx="1182.9" cy="202.9" r="2.9"/><circle cx="1183.0" cy="201.8" r="2.9"/><circle cx="1183.0" cy="202.5" r="2.9"/><circle cx="1183.3" cy="202.2" r="2.9"/><circle cx="1184.1" cy="200.7" r="2.9"/><circle cx="1184.2" cy="198.5" r="2.9"/><circle cx="1184.4" cy="198.1" r="2.9"/><circle cx="1184.8" cy="203.1" r="2.9"/><circle cx="1184.8" cy="199.4" r="2.9"/><circle cx="1184.9" cy="203.8" r="2.9"/><circle cx="1184.9" cy="200.7" r="2.9"/><circle cx="1184.9" cy="199.9" r="2.9"/><circle cx="1185.1" cy="201.3" r="2.9"/><circle cx="1185.9" cy="202.4" r="2.9"/><circle cx="1186.0" cy="206.5" r="2.9"/><circle cx="1186.8" cy="201.1" r="2.9"/><circle cx="1187.1" cy="201.0" r="2.9"/><circle cx="1187.7" cy="203.4" r="2.9"/><circle cx="1187.7" cy="205.0" r="2.9"/><circle cx="1188.3" cy="202.3" r="2.9"/><circle cx="1188.3" cy="201.2" r="2.9"/><circle cx="1188.4" cy="204.0" r="2.9"/><circle cx="1188.4" cy="203.4" r="2.9"/><circle cx="1188.5" cy="203.8" r="2.9"/><circle cx="1188.7" cy="199.2" r="2.9"/><circle cx="1189.2" cy="204.5" r="2.9"/><circle cx="1189.2" cy="203.1" r="2.9"/><circle cx="1189.7" cy="205.8" r="2.9"/><circle cx="1189.8" cy="202.4" r="2.9"/><circle cx="1189.9" cy="204.2" r="2.9"/><circle cx="1190.0" cy="202.4" r="2.9"/><circle cx="1190.2" cy="208.6" r="2.9"/><circle cx="1190.4" cy="199.3" r="2.9"/><circle cx="1190.5" cy="200.6" r="2.9"/><circle cx="1190.6" cy="201.1" r="2.9"/><circle cx="1190.8" cy="197.1" r="2.9"/><circle cx="1190.9" cy="201.8" r="2.9"/><circle cx="1191.3" cy="207.5" r="2.9"/><circle cx="1191.4" cy="205.2" r="2.9"/><circle cx="1191.7" cy="206.2" r="2.9"/><circle cx="1191.7" cy="203.1" r="2.9"/><circle cx="1191.9" cy="201.8" r="2.9"/><circle cx="1192.0" cy="203.1" r="2.9"/><circle cx="1192.1" cy="200.1" r="2.9"/><circle cx="1192.1" cy="199.0" r="2.9"/><circle cx="1192.5" cy="206.4" r="2.9"/><circle cx="1192.7" cy="203.6" r="2.9"/><circle cx="1192.9" cy="207.2" r="2.9"/><circle cx="1193.0" cy="200.1" r="2.9"/><circle cx="1193.0" cy="203.9" r="2.9"/><circle cx="1193.1" cy="199.8" r="2.9"/><circle cx="1193.2" cy="207.8" r="2.9"/><circle cx="1193.6" cy="204.1" r="2.9"/><circle cx="1193.8" cy="201.2" r="2.9"/><circle cx="1194.2" cy="201.3" r="2.9"/><circle cx="1194.3" cy="207.2" r="2.9"/><circle cx="1194.6" cy="201.2" r="2.9"/><circle cx="1194.6" cy="203.4" r="2.9"/><circle cx="1194.7" cy="204.0" r="2.9"/><circle cx="1194.7" cy="201.4" r="2.9"/><circle cx="1194.8" cy="208.0" r="2.9"/><circle cx="1195.1" cy="208.9" r="2.9"/><circle cx="1195.1" cy="202.7" r="2.9"/><circle cx="1195.2" cy="204.6" r="2.9"/><circle cx="1195.5" cy="206.1" r="2.9"/><circle cx="1195.7" cy="205.9" r="2.9"/><circle cx="1195.9" cy="206.2" r="2.9"/><circle cx="1195.9" cy="201.3" r="2.9"/><circle cx="1196.2" cy="204.5" r="2.9"/><circle cx="1196.4" cy="200.7" r="2.9"/><circle cx="1197.4" cy="204.3" r="2.9"/><circle cx="1197.6" cy="206.0" r="2.9"/><circle cx="1197.6" cy="206.9" r="2.9"/><circle cx="1198.0" cy="199.3" r="2.9"/><circle cx="1198.2" cy="205.4" r="2.9"/><circle cx="1198.5" cy="201.2" r="2.9"/><circle cx="1198.8" cy="206.2" r="2.9"/><circle cx="1198.8" cy="206.0" r="2.9"/><circle cx="1199.2" cy="205.5" r="2.9"/><circle cx="1199.3" cy="207.6" r="2.9"/><circle cx="1199.5" cy="205.8" r="2.9"/><circle cx="1199.8" cy="203.1" r="2.9"/><circle cx="1199.9" cy="204.3" r="2.9"/><circle cx="1200.0" cy="206.1" r="2.9"/><circle cx="1200.1" cy="200.9" r="2.9"/><circle cx="1200.1" cy="204.6" r="2.9"/><circle cx="1200.2" cy="206.2" r="2.9"/><circle cx="1200.6" cy="202.5" r="2.9"/><circle cx="1201.0" cy="208.6" r="2.9"/><circle cx="1201.0" cy="208.3" r="2.9"/><circle cx="1201.7" cy="206.9" r="2.9"/><circle cx="1201.9" cy="205.3" r="2.9"/><circle cx="1202.0" cy="204.7" r="2.9"/><circle cx="1202.2" cy="207.2" r="2.9"/><circle cx="1202.3" cy="206.9" r="2.9"/><circle cx="1202.8" cy="208.3" r="2.9"/><circle cx="1202.8" cy="203.9" r="2.9"/><circle cx="1203.7" cy="207.5" r="2.9"/><circle cx="1203.9" cy="208.9" r="2.9"/><circle cx="1203.9" cy="203.4" r="2.9"/><circle cx="1204.0" cy="206.3" r="2.9"/><circle cx="1204.1" cy="206.1" r="2.9"/><circle cx="1204.2" cy="205.5" r="2.9"/><circle cx="1204.4" cy="208.6" r="2.9"/><circle cx="1204.6" cy="205.6" r="2.9"/><circle cx="1204.7" cy="208.0" r="2.9"/><circle cx="1204.7" cy="207.2" r="2.9"/><circle cx="1204.8" cy="208.1" r="2.9"/><circle cx="1204.9" cy="205.5" r="2.9"/><circle cx="1205.1" cy="204.4" r="2.9"/><circle cx="1205.3" cy="207.9" r="2.9"/><circle cx="1205.5" cy="206.4" r="2.9"/><circle cx="1205.6" cy="208.4" r="2.9"/><circle cx="1205.8" cy="205.0" r="2.9"/><circle cx="1205.8" cy="204.8" r="2.9"/><circle cx="1205.8" cy="208.1" r="2.9"/><circle cx="1205.9" cy="206.7" r="2.9"/><circle cx="1205.9" cy="206.0" r="2.9"/><circle cx="1206.0" cy="208.1" r="2.9"/><circle cx="1206.2" cy="205.9" r="2.9"/><circle cx="1206.5" cy="206.9" r="2.9"/><circle cx="1207.3" cy="208.0" r="2.9"/><circle cx="1207.3" cy="203.8" r="2.9"/><circle cx="1207.4" cy="209.2" r="2.9"/><circle cx="1207.4" cy="206.6" r="2.9"/><circle cx="1207.8" cy="206.0" r="2.9"/><circle cx="1207.9" cy="206.6" r="2.9"/><circle cx="1208.0" cy="205.1" r="2.9"/><circle cx="1208.0" cy="202.0" r="2.9"/><circle cx="1208.3" cy="207.0" r="2.9"/><circle cx="1208.4" cy="205.7" r="2.9"/><circle cx="1208.4" cy="211.1" r="2.9"/><circle cx="1208.5" cy="210.7" r="2.9"/><circle cx="1208.8" cy="205.7" r="2.9"/><circle cx="1208.9" cy="207.8" r="2.9"/><circle cx="1208.9" cy="209.8" r="2.9"/><circle cx="1209.0" cy="208.0" r="2.9"/><circle cx="1209.4" cy="206.7" r="2.9"/><circle cx="1209.6" cy="206.3" r="2.9"/><circle cx="1209.6" cy="204.5" r="2.9"/><circle cx="1209.6" cy="209.4" r="2.9"/><circle cx="1209.7" cy="208.8" r="2.9"/><circle cx="1210.0" cy="207.6" r="2.9"/><circle cx="1210.1" cy="207.2" r="2.9"/><circle cx="1210.2" cy="211.7" r="2.9"/><circle cx="1210.3" cy="208.4" r="2.9"/><circle cx="1210.3" cy="210.8" r="2.9"/><circle cx="1210.3" cy="204.2" r="2.9"/><circle cx="1210.4" cy="205.1" r="2.9"/><circle cx="1210.6" cy="205.2" r="2.9"/><circle cx="1210.6" cy="209.2" r="2.9"/><circle cx="1210.8" cy="206.5" r="2.9"/><circle cx="1211.0" cy="210.9" r="2.9"/><circle cx="1211.1" cy="207.8" r="2.9"/><circle cx="1211.3" cy="210.1" r="2.9"/><circle cx="1211.5" cy="206.7" r="2.9"/><circle cx="1211.6" cy="209.9" r="2.9"/><circle cx="1211.6" cy="206.8" r="2.9"/><circle cx="1211.7" cy="207.5" r="2.9"/><circle cx="1211.8" cy="205.1" r="2.9"/><circle cx="1211.8" cy="203.0" r="2.9"/><circle cx="1212.0" cy="204.7" r="2.9"/><circle cx="1212.1" cy="208.4" r="2.9"/><circle cx="1212.2" cy="208.4" r="2.9"/><circle cx="1212.2" cy="203.6" r="2.9"/><circle cx="1212.4" cy="204.7" r="2.9"/><circle cx="1212.5" cy="204.2" r="2.9"/><circle cx="1212.6" cy="209.2" r="2.9"/><circle cx="1212.8" cy="205.5" r="2.9"/><circle cx="1213.2" cy="205.2" r="2.9"/><circle cx="1213.3" cy="209.1" r="2.9"/><circle cx="1213.7" cy="206.4" r="2.9"/><circle cx="1214.2" cy="209.4" r="2.9"/><circle cx="1214.3" cy="210.0" r="2.9"/><circle cx="1214.4" cy="206.6" r="2.9"/><circle cx="1214.4" cy="203.7" r="2.9"/><circle cx="1214.9" cy="207.4" r="2.9"/><circle cx="1215.0" cy="213.8" r="2.9"/><circle cx="1215.1" cy="205.4" r="2.9"/><circle cx="1215.5" cy="211.7" r="2.9"/><circle cx="1215.6" cy="206.6" r="2.9"/><circle cx="1215.6" cy="205.8" r="2.9"/><circle cx="1215.6" cy="212.1" r="2.9"/><circle cx="1215.6" cy="207.2" r="2.9"/><circle cx="1215.8" cy="202.7" r="2.9"/><circle cx="1216.0" cy="204.8" r="2.9"/><circle cx="1216.1" cy="206.2" r="2.9"/><circle cx="1216.3" cy="206.9" r="2.9"/><circle cx="1216.5" cy="211.7" r="2.9"/><circle cx="1217.0" cy="211.0" r="2.9"/><circle cx="1217.2" cy="208.5" r="2.9"/><circle cx="1217.3" cy="209.7" r="2.9"/><circle cx="1217.4" cy="207.3" r="2.9"/><circle cx="1217.4" cy="204.2" r="2.9"/><circle cx="1217.6" cy="208.7" r="2.9"/><circle cx="1217.7" cy="208.0" r="2.9"/><circle cx="1217.8" cy="211.1" r="2.9"/><circle cx="1217.9" cy="209.5" r="2.9"/><circle cx="1217.9" cy="211.7" r="2.9"/><circle cx="1218.5" cy="207.7" r="2.9"/><circle cx="1218.7" cy="207.9" r="2.9"/><circle cx="1218.8" cy="207.7" r="2.9"/><circle cx="1218.8" cy="206.6" r="2.9"/><circle cx="1219.1" cy="211.7" r="2.9"/><circle cx="1219.1" cy="209.3" r="2.9"/><circle cx="1219.2" cy="205.8" r="2.9"/><circle cx="1219.5" cy="207.3" r="2.9"/><circle cx="1219.6" cy="213.9" r="2.9"/><circle cx="1219.6" cy="215.1" r="2.9"/><circle cx="1219.9" cy="212.7" r="2.9"/><circle cx="1220.0" cy="209.4" r="2.9"/><circle cx="1220.0" cy="213.2" r="2.9"/><circle cx="1220.1" cy="208.9" r="2.9"/><circle cx="1220.2" cy="206.0" r="2.9"/><circle cx="1220.3" cy="209.3" r="2.9"/><circle cx="1220.5" cy="206.3" r="2.9"/><circle cx="1220.9" cy="208.7" r="2.9"/><circle cx="1220.9" cy="215.2" r="2.9"/><circle cx="1221.0" cy="210.6" r="2.9"/><circle cx="1221.2" cy="209.8" r="2.9"/><circle cx="1221.3" cy="211.4" r="2.9"/><circle cx="1221.3" cy="208.1" r="2.9"/><circle cx="1221.4" cy="210.0" r="2.9"/><circle cx="1221.6" cy="206.7" r="2.9"/><circle cx="1221.9" cy="205.8" r="2.9"/><circle cx="1222.2" cy="208.2" r="2.9"/><circle cx="1222.2" cy="206.3" r="2.9"/><circle cx="1222.6" cy="203.6" r="2.9"/><circle cx="1222.6" cy="208.1" r="2.9"/><circle cx="1222.8" cy="206.7" r="2.9"/><circle cx="1223.1" cy="207.1" r="2.9"/><circle cx="1223.3" cy="213.4" r="2.9"/><circle cx="1223.9" cy="211.3" r="2.9"/><circle cx="1224.7" cy="212.4" r="2.9"/><circle cx="1224.9" cy="209.3" r="2.9"/><circle cx="1225.3" cy="207.2" r="2.9"/><circle cx="1225.3" cy="207.5" r="2.9"/><circle cx="1225.5" cy="214.7" r="2.9"/><circle cx="1225.6" cy="203.1" r="2.9"/><circle cx="1225.7" cy="208.6" r="2.9"/><circle cx="1225.8" cy="210.5" r="2.9"/><circle cx="1225.9" cy="206.0" r="2.9"/><circle cx="1226.3" cy="212.8" r="2.9"/><circle cx="1226.4" cy="207.9" r="2.9"/><circle cx="1226.7" cy="210.1" r="2.9"/><circle cx="1226.7" cy="214.3" r="2.9"/><circle cx="1226.7" cy="212.5" r="2.9"/><circle cx="1226.7" cy="209.6" r="2.9"/><circle cx="1226.8" cy="209.9" r="2.9"/><circle cx="1227.1" cy="214.2" r="2.9"/><circle cx="1227.1" cy="215.3" r="2.9"/><circle cx="1227.4" cy="211.7" r="2.9"/><circle cx="1227.9" cy="205.5" r="2.9"/><circle cx="1228.4" cy="209.3" r="2.9"/><circle cx="1228.6" cy="213.4" r="2.9"/><circle cx="1228.6" cy="208.6" r="2.9"/><circle cx="1229.0" cy="209.9" r="2.9"/><circle cx="1229.1" cy="208.1" r="2.9"/><circle cx="1229.3" cy="209.6" r="2.9"/><circle cx="1229.5" cy="213.4" r="2.9"/><circle cx="1229.7" cy="212.7" r="2.9"/><circle cx="1229.7" cy="207.9" r="2.9"/><circle cx="1229.8" cy="214.2" r="2.9"/><circle cx="1229.8" cy="207.0" r="2.9"/><circle cx="1229.9" cy="213.4" r="2.9"/><circle cx="1230.1" cy="213.3" r="2.9"/><circle cx="1230.2" cy="207.5" r="2.9"/><circle cx="1230.3" cy="206.0" r="2.9"/><circle cx="1230.3" cy="213.7" r="2.9"/><circle cx="1230.5" cy="212.8" r="2.9"/><circle cx="1230.6" cy="211.7" r="2.9"/><circle cx="1230.9" cy="209.0" r="2.9"/><circle cx="1231.1" cy="212.2" r="2.9"/><circle cx="1231.1" cy="207.2" r="2.9"/><circle cx="1232.6" cy="213.5" r="2.9"/><circle cx="1232.9" cy="217.7" r="2.9"/><circle cx="1233.1" cy="211.0" r="2.9"/><circle cx="1233.2" cy="214.3" r="2.9"/><circle cx="1233.4" cy="209.2" r="2.9"/><circle cx="1233.5" cy="212.4" r="2.9"/><circle cx="1233.6" cy="211.0" r="2.9"/><circle cx="1233.7" cy="212.8" r="2.9"/><circle cx="1233.8" cy="210.8" r="2.9"/><circle cx="1233.8" cy="207.0" r="2.9"/><circle cx="1234.1" cy="214.5" r="2.9"/><circle cx="1234.5" cy="208.6" r="2.9"/><circle cx="1234.5" cy="214.7" r="2.9"/><circle cx="1234.7" cy="208.5" r="2.9"/><circle cx="1234.9" cy="213.9" r="2.9"/><circle cx="1235.7" cy="212.9" r="2.9"/><circle cx="1235.7" cy="210.5" r="2.9"/><circle cx="1235.8" cy="214.5" r="2.9"/><circle cx="1235.9" cy="212.6" r="2.9"/><circle cx="1236.0" cy="216.3" r="2.9"/><circle cx="1236.0" cy="213.8" r="2.9"/><circle cx="1236.3" cy="215.3" r="2.9"/><circle cx="1236.4" cy="206.5" r="2.9"/><circle cx="1236.5" cy="215.7" r="2.9"/><circle cx="1237.1" cy="211.5" r="2.9"/><circle cx="1237.4" cy="211.5" r="2.9"/><circle cx="1237.6" cy="208.7" r="2.9"/><circle cx="1238.2" cy="210.3" r="2.9"/><circle cx="1238.3" cy="211.5" r="2.9"/><circle cx="1238.3" cy="212.5" r="2.9"/><circle cx="1238.4" cy="212.5" r="2.9"/><circle cx="1238.5" cy="211.3" r="2.9"/><circle cx="1238.8" cy="212.8" r="2.9"/><circle cx="1238.9" cy="214.7" r="2.9"/><circle cx="1239.0" cy="211.0" r="2.9"/><circle cx="1239.1" cy="210.6" r="2.9"/><circle cx="1239.2" cy="215.3" r="2.9"/><circle cx="1239.4" cy="213.6" r="2.9"/><circle cx="1240.1" cy="210.0" r="2.9"/><circle cx="1240.3" cy="214.4" r="2.9"/><circle cx="1240.5" cy="213.8" r="2.9"/><circle cx="1240.6" cy="218.6" r="2.9"/><circle cx="1240.7" cy="215.1" r="2.9"/><circle cx="1240.9" cy="214.9" r="2.9"/><circle cx="1241.2" cy="212.5" r="2.9"/><circle cx="1241.5" cy="210.2" r="2.9"/><circle cx="1241.7" cy="212.6" r="2.9"/><circle cx="1241.8" cy="212.2" r="2.9"/><circle cx="1241.9" cy="212.1" r="2.9"/><circle cx="1242.6" cy="216.1" r="2.9"/><circle cx="1242.7" cy="210.2" r="2.9"/><circle cx="1242.7" cy="217.7" r="2.9"/><circle cx="1242.9" cy="210.3" r="2.9"/><circle cx="1243.2" cy="209.2" r="2.9"/><circle cx="1243.5" cy="215.7" r="2.9"/><circle cx="1243.5" cy="212.5" r="2.9"/><circle cx="1243.6" cy="211.2" r="2.9"/><circle cx="1243.7" cy="214.3" r="2.9"/><circle cx="1244.0" cy="211.9" r="2.9"/><circle cx="1244.1" cy="213.5" r="2.9"/><circle cx="1244.1" cy="212.2" r="2.9"/><circle cx="1244.6" cy="213.7" r="2.9"/><circle cx="1244.7" cy="211.0" r="2.9"/><circle cx="1245.0" cy="215.2" r="2.9"/><circle cx="1245.0" cy="212.2" r="2.9"/><circle cx="1245.2" cy="213.6" r="2.9"/><circle cx="1245.2" cy="207.4" r="2.9"/><circle cx="1245.5" cy="214.7" r="2.9"/><circle cx="1245.8" cy="211.8" r="2.9"/><circle cx="1246.0" cy="212.8" r="2.9"/><circle cx="1246.0" cy="212.4" r="2.9"/><circle cx="1246.2" cy="211.8" r="2.9"/><circle cx="1246.4" cy="210.7" r="2.9"/><circle cx="1246.8" cy="216.0" r="2.9"/><circle cx="1247.0" cy="212.1" r="2.9"/><circle cx="1247.4" cy="212.9" r="2.9"/><circle cx="1247.4" cy="212.6" r="2.9"/><circle cx="1247.5" cy="211.5" r="2.9"/><circle cx="1247.7" cy="216.5" r="2.9"/><circle cx="1248.1" cy="211.7" r="2.9"/><circle cx="1248.2" cy="214.5" r="2.9"/><circle cx="1248.5" cy="211.4" r="2.9"/><circle cx="1248.5" cy="209.6" r="2.9"/><circle cx="1248.7" cy="209.5" r="2.9"/><circle cx="1248.8" cy="214.9" r="2.9"/><circle cx="1249.5" cy="208.3" r="2.9"/><circle cx="1249.7" cy="209.0" r="2.9"/><circle cx="1249.8" cy="212.0" r="2.9"/><circle cx="1249.8" cy="215.3" r="2.9"/><circle cx="1249.8" cy="211.7" r="2.9"/><circle cx="1249.9" cy="216.6" r="2.9"/><circle cx="1250.0" cy="213.2" r="2.9"/><circle cx="1250.1" cy="213.1" r="2.9"/><circle cx="1250.1" cy="217.9" r="2.9"/><circle cx="1250.5" cy="215.1" r="2.9"/><circle cx="1250.5" cy="212.6" r="2.9"/><circle cx="1250.5" cy="212.3" r="2.9"/><circle cx="1250.6" cy="216.0" r="2.9"/><circle cx="1250.7" cy="217.6" r="2.9"/><circle cx="1251.1" cy="213.1" r="2.9"/><circle cx="1251.3" cy="213.5" r="2.9"/><circle cx="1251.3" cy="216.9" r="2.9"/><circle cx="1251.4" cy="212.0" r="2.9"/><circle cx="1251.5" cy="215.1" r="2.9"/><circle cx="1251.6" cy="214.7" r="2.9"/><circle cx="1251.7" cy="213.6" r="2.9"/><circle cx="1251.8" cy="211.5" r="2.9"/><circle cx="1251.9" cy="207.6" r="2.9"/><circle cx="1252.1" cy="213.6" r="2.9"/><circle cx="1252.6" cy="210.7" r="2.9"/><circle cx="1252.9" cy="214.9" r="2.9"/><circle cx="1253.3" cy="212.7" r="2.9"/><circle cx="1253.4" cy="213.1" r="2.9"/><circle cx="1253.5" cy="218.2" r="2.9"/><circle cx="1253.7" cy="216.2" r="2.9"/><circle cx="1254.0" cy="211.7" r="2.9"/><circle cx="1254.0" cy="216.7" r="2.9"/><circle cx="1254.2" cy="213.4" r="2.9"/><circle cx="1254.2" cy="210.8" r="2.9"/><circle cx="1254.3" cy="214.8" r="2.9"/><circle cx="1254.3" cy="214.4" r="2.9"/><circle cx="1254.3" cy="217.1" r="2.9"/><circle cx="1254.5" cy="217.2" r="2.9"/><circle cx="1255.0" cy="217.5" r="2.9"/><circle cx="1255.1" cy="212.7" r="2.9"/><circle cx="1255.4" cy="214.4" r="2.9"/><circle cx="1255.5" cy="209.7" r="2.9"/><circle cx="1255.7" cy="215.5" r="2.9"/><circle cx="1255.7" cy="214.0" r="2.9"/><circle cx="1255.7" cy="208.7" r="2.9"/><circle cx="1256.3" cy="216.4" r="2.9"/><circle cx="1256.3" cy="215.9" r="2.9"/><circle cx="1256.5" cy="210.4" r="2.9"/><circle cx="1256.7" cy="208.6" r="2.9"/><circle cx="1256.8" cy="213.8" r="2.9"/><circle cx="1256.9" cy="215.4" r="2.9"/><circle cx="1256.9" cy="214.5" r="2.9"/><circle cx="1257.1" cy="218.7" r="2.9"/><circle cx="1257.1" cy="221.2" r="2.9"/><circle cx="1257.4" cy="215.1" r="2.9"/><circle cx="1257.5" cy="214.3" r="2.9"/><circle cx="1257.6" cy="213.6" r="2.9"/><circle cx="1257.6" cy="220.6" r="2.9"/><circle cx="1257.8" cy="215.0" r="2.9"/><circle cx="1257.8" cy="216.8" r="2.9"/><circle cx="1257.9" cy="217.4" r="2.9"/><circle cx="1258.1" cy="217.8" r="2.9"/><circle cx="1258.1" cy="216.2" r="2.9"/><circle cx="1258.2" cy="220.2" r="2.9"/><circle cx="1258.3" cy="216.6" r="2.9"/><circle cx="1258.8" cy="215.7" r="2.9"/><circle cx="1258.9" cy="212.2" r="2.9"/><circle cx="1258.9" cy="214.2" r="2.9"/><circle cx="1259.2" cy="215.1" r="2.9"/><circle cx="1259.3" cy="218.1" r="2.9"/><circle cx="1259.3" cy="213.7" r="2.9"/><circle cx="1259.9" cy="216.0" r="2.9"/><circle cx="1260.0" cy="214.8" r="2.9"/><circle cx="1260.1" cy="208.5" r="2.9"/><circle cx="1260.8" cy="216.2" r="2.9"/><circle cx="1260.9" cy="220.2" r="2.9"/><circle cx="1261.0" cy="211.5" r="2.9"/><circle cx="1261.3" cy="218.7" r="2.9"/><circle cx="1261.4" cy="212.2" r="2.9"/><circle cx="1261.7" cy="214.4" r="2.9"/><circle cx="1261.9" cy="215.3" r="2.9"/><circle cx="1261.9" cy="218.3" r="2.9"/><circle cx="1262.1" cy="215.7" r="2.9"/><circle cx="1262.2" cy="215.9" r="2.9"/><circle cx="1262.2" cy="218.3" r="2.9"/><circle cx="1262.3" cy="218.5" r="2.9"/><circle cx="1262.3" cy="215.4" r="2.9"/><circle cx="1262.6" cy="217.2" r="2.9"/><circle cx="1262.7" cy="219.7" r="2.9"/><circle cx="1262.8" cy="217.3" r="2.9"/><circle cx="1262.9" cy="213.1" r="2.9"/><circle cx="1263.0" cy="216.1" r="2.9"/><circle cx="1263.1" cy="211.7" r="2.9"/><circle cx="1263.1" cy="222.1" r="2.9"/><circle cx="1263.2" cy="216.5" r="2.9"/><circle cx="1263.5" cy="211.4" r="2.9"/><circle cx="1263.8" cy="214.8" r="2.9"/><circle cx="1263.9" cy="217.3" r="2.9"/><circle cx="1264.2" cy="218.1" r="2.9"/><circle cx="1264.2" cy="215.7" r="2.9"/><circle cx="1264.4" cy="215.0" r="2.9"/><circle cx="1265.1" cy="213.6" r="2.9"/><circle cx="1265.1" cy="218.7" r="2.9"/><circle cx="1265.3" cy="219.8" r="2.9"/><circle cx="1265.8" cy="217.3" r="2.9"/><circle cx="1266.0" cy="216.9" r="2.9"/><circle cx="1266.1" cy="216.8" r="2.9"/><circle cx="1266.1" cy="214.8" r="2.9"/><circle cx="1266.4" cy="215.4" r="2.9"/><circle cx="1266.8" cy="218.0" r="2.9"/><circle cx="1267.1" cy="217.2" r="2.9"/><circle cx="1267.1" cy="217.7" r="2.9"/><circle cx="1267.1" cy="214.4" r="2.9"/><circle cx="1267.4" cy="218.7" r="2.9"/><circle cx="1267.8" cy="213.7" r="2.9"/><circle cx="1268.0" cy="220.2" r="2.9"/><circle cx="1268.3" cy="216.2" r="2.9"/><circle cx="1268.8" cy="217.6" r="2.9"/><circle cx="1269.4" cy="214.9" r="2.9"/><circle cx="1269.5" cy="216.6" r="2.9"/><circle cx="1269.6" cy="214.7" r="2.9"/><circle cx="1269.6" cy="217.3" r="2.9"/><circle cx="1269.7" cy="211.8" r="2.9"/><circle cx="1269.9" cy="220.1" r="2.9"/><circle cx="1270.0" cy="217.5" r="2.9"/><circle cx="1270.0" cy="218.9" r="2.9"/><circle cx="1270.0" cy="216.6" r="2.9"/><circle cx="1270.3" cy="218.4" r="2.9"/><circle cx="1270.5" cy="215.0" r="2.9"/><circle cx="1270.7" cy="214.5" r="2.9"/><circle cx="1270.7" cy="215.8" r="2.9"/><circle cx="1271.0" cy="212.9" r="2.9"/><circle cx="1271.1" cy="219.3" r="2.9"/><circle cx="1271.2" cy="216.1" r="2.9"/><circle cx="1271.3" cy="216.5" r="2.9"/><circle cx="1271.3" cy="214.7" r="2.9"/><circle cx="1271.4" cy="218.6" r="2.9"/><circle cx="1271.8" cy="220.2" r="2.9"/><circle cx="1272.0" cy="216.3" r="2.9"/><circle cx="1272.4" cy="220.4" r="2.9"/><circle cx="1272.8" cy="218.3" r="2.9"/><circle cx="1273.1" cy="218.0" r="2.9"/><circle cx="1273.2" cy="212.6" r="2.9"/><circle cx="1273.3" cy="214.9" r="2.9"/><circle cx="1273.8" cy="220.9" r="2.9"/><circle cx="1274.1" cy="220.6" r="2.9"/><circle cx="1274.2" cy="223.8" r="2.9"/><circle cx="1274.2" cy="215.9" r="2.9"/><circle cx="1274.3" cy="219.9" r="2.9"/><circle cx="1274.8" cy="213.4" r="2.9"/><circle cx="1275.2" cy="215.4" r="2.9"/><circle cx="1275.9" cy="214.8" r="2.9"/><circle cx="1275.9" cy="215.5" r="2.9"/><circle cx="1276.8" cy="218.9" r="2.9"/><circle cx="1277.5" cy="222.3" r="2.9"/><circle cx="1278.3" cy="218.9" r="2.9"/><circle cx="1279.3" cy="214.9" r="2.9"/><circle cx="1279.4" cy="222.3" r="2.9"/><circle cx="1279.6" cy="219.5" r="2.9"/><circle cx="1279.6" cy="214.1" r="2.9"/><circle cx="1279.7" cy="222.5" r="2.9"/><circle cx="1279.8" cy="218.7" r="2.9"/><circle cx="1279.9" cy="220.8" r="2.9"/><circle cx="1280.3" cy="216.9" r="2.9"/><circle cx="1280.4" cy="217.2" r="2.9"/><circle cx="1280.7" cy="219.9" r="2.9"/><circle cx="1280.7" cy="214.1" r="2.9"/><circle cx="1280.8" cy="218.9" r="2.9"/><circle cx="1281.0" cy="221.3" r="2.9"/><circle cx="1281.1" cy="220.0" r="2.9"/><circle cx="1281.5" cy="218.6" r="2.9"/><circle cx="1281.5" cy="217.6" r="2.9"/><circle cx="1282.3" cy="217.7" r="2.9"/><circle cx="1282.7" cy="223.3" r="2.9"/><circle cx="1282.9" cy="219.8" r="2.9"/><circle cx="1283.6" cy="219.6" r="2.9"/><circle cx="1283.9" cy="216.5" r="2.9"/><circle cx="1284.2" cy="220.4" r="2.9"/><circle cx="1284.3" cy="221.4" r="2.9"/><circle cx="1284.3" cy="212.6" r="2.9"/><circle cx="1284.5" cy="224.1" r="2.9"/><circle cx="1284.8" cy="221.7" r="2.9"/><circle cx="1284.8" cy="218.7" r="2.9"/><circle cx="1284.8" cy="214.0" r="2.9"/><circle cx="1284.8" cy="226.4" r="2.9"/><circle cx="1284.9" cy="221.3" r="2.9"/><circle cx="1285.0" cy="217.8" r="2.9"/><circle cx="1285.0" cy="215.1" r="2.9"/><circle cx="1285.1" cy="222.3" r="2.9"/><circle cx="1285.2" cy="214.0" r="2.9"/><circle cx="1285.2" cy="219.2" r="2.9"/><circle cx="1285.3" cy="218.4" r="2.9"/><circle cx="1285.3" cy="215.7" r="2.9"/><circle cx="1285.4" cy="217.1" r="2.9"/><circle cx="1285.5" cy="217.2" r="2.9"/><circle cx="1286.0" cy="222.0" r="2.9"/><circle cx="1286.5" cy="220.6" r="2.9"/><circle cx="1286.5" cy="222.8" r="2.9"/><circle cx="1286.9" cy="216.5" r="2.9"/><circle cx="1287.0" cy="223.3" r="2.9"/><circle cx="1287.2" cy="220.6" r="2.9"/><circle cx="1287.4" cy="223.2" r="2.9"/><circle cx="1288.1" cy="218.8" r="2.9"/><circle cx="1288.3" cy="221.1" r="2.9"/><circle cx="1288.3" cy="216.9" r="2.9"/><circle cx="1288.6" cy="223.1" r="2.9"/><circle cx="1288.7" cy="220.1" r="2.9"/><circle cx="1288.8" cy="218.0" r="2.9"/><circle cx="1289.0" cy="219.3" r="2.9"/><circle cx="1289.2" cy="220.0" r="2.9"/><circle cx="1289.2" cy="214.3" r="2.9"/><circle cx="1289.3" cy="220.0" r="2.9"/><circle cx="1289.8" cy="216.5" r="2.9"/><circle cx="1289.9" cy="219.4" r="2.9"/><circle cx="1290.8" cy="220.3" r="2.9"/><circle cx="1291.0" cy="226.8" r="2.9"/><circle cx="1291.3" cy="221.1" r="2.9"/><circle cx="1291.4" cy="216.0" r="2.9"/><circle cx="1291.7" cy="221.6" r="2.9"/><circle cx="1292.1" cy="216.6" r="2.9"/><circle cx="1292.2" cy="217.0" r="2.9"/><circle cx="1292.3" cy="217.8" r="2.9"/><circle cx="1292.6" cy="222.8" r="2.9"/><circle cx="1292.6" cy="225.0" r="2.9"/><circle cx="1292.6" cy="222.1" r="2.9"/><circle cx="1292.7" cy="216.2" r="2.9"/><circle cx="1292.7" cy="220.5" r="2.9"/><circle cx="1292.7" cy="222.5" r="2.9"/><circle cx="1293.0" cy="213.0" r="2.9"/><circle cx="1293.0" cy="219.0" r="2.9"/><circle cx="1293.0" cy="227.6" r="2.9"/><circle cx="1293.1" cy="216.0" r="2.9"/><circle cx="1293.2" cy="217.1" r="2.9"/><circle cx="1293.4" cy="216.7" r="2.9"/><circle cx="1293.5" cy="224.4" r="2.9"/><circle cx="1293.7" cy="223.1" r="2.9"/><circle cx="1294.6" cy="222.7" r="2.9"/><circle cx="1294.8" cy="224.0" r="2.9"/><circle cx="1295.1" cy="218.6" r="2.9"/><circle cx="1295.3" cy="214.9" r="2.9"/><circle cx="1295.4" cy="222.2" r="2.9"/><circle cx="1295.4" cy="215.7" r="2.9"/><circle cx="1295.7" cy="222.5" r="2.9"/><circle cx="1296.0" cy="222.3" r="2.9"/><circle cx="1296.0" cy="221.2" r="2.9"/><circle cx="1296.1" cy="224.6" r="2.9"/><circle cx="1296.2" cy="222.0" r="2.9"/><circle cx="1296.4" cy="217.2" r="2.9"/><circle cx="1296.7" cy="218.5" r="2.9"/><circle cx="1296.7" cy="222.9" r="2.9"/><circle cx="1297.0" cy="219.0" r="2.9"/><circle cx="1297.3" cy="222.9" r="2.9"/><circle cx="1297.8" cy="220.2" r="2.9"/><circle cx="1298.1" cy="221.9" r="2.9"/><circle cx="1298.5" cy="218.3" r="2.9"/><circle cx="1298.7" cy="220.7" r="2.9"/><circle cx="1298.8" cy="216.4" r="2.9"/><circle cx="1298.9" cy="219.1" r="2.9"/><circle cx="1299.0" cy="222.9" r="2.9"/><circle cx="1299.2" cy="219.3" r="2.9"/><circle cx="1299.3" cy="218.4" r="2.9"/><circle cx="1299.5" cy="223.9" r="2.9"/><circle cx="1299.7" cy="223.6" r="2.9"/><circle cx="1299.8" cy="217.9" r="2.9"/><circle cx="1300.0" cy="222.1" r="2.9"/><circle cx="1300.1" cy="222.8" r="2.9"/><circle cx="1300.3" cy="218.8" r="2.9"/><circle cx="1301.0" cy="219.2" r="2.9"/><circle cx="1301.2" cy="221.0" r="2.9"/><circle cx="1301.3" cy="226.0" r="2.9"/><circle cx="1301.4" cy="221.4" r="2.9"/><circle cx="1301.4" cy="221.4" r="2.9"/><circle cx="1301.5" cy="214.1" r="2.9"/><circle cx="1301.7" cy="222.6" r="2.9"/><circle cx="1301.8" cy="224.4" r="2.9"/><circle cx="1302.1" cy="218.3" r="2.9"/><circle cx="1302.3" cy="223.9" r="2.9"/><circle cx="1302.3" cy="222.7" r="2.9"/><circle cx="1302.5" cy="224.0" r="2.9"/><circle cx="1302.9" cy="221.7" r="2.9"/><circle cx="1302.9" cy="221.8" r="2.9"/><circle cx="1303.0" cy="229.1" r="2.9"/><circle cx="1303.0" cy="227.2" r="2.9"/><circle cx="1303.0" cy="219.0" r="2.9"/><circle cx="1303.1" cy="216.8" r="2.9"/><circle cx="1303.2" cy="222.9" r="2.9"/><circle cx="1303.2" cy="223.1" r="2.9"/><circle cx="1303.3" cy="222.1" r="2.9"/><circle cx="1303.4" cy="221.4" r="2.9"/><circle cx="1303.6" cy="226.1" r="2.9"/><circle cx="1303.9" cy="214.4" r="2.9"/><circle cx="1304.0" cy="218.9" r="2.9"/><circle cx="1304.1" cy="223.7" r="2.9"/><circle cx="1304.4" cy="223.3" r="2.9"/><circle cx="1304.5" cy="223.3" r="2.9"/><circle cx="1305.0" cy="219.7" r="2.9"/><circle cx="1305.1" cy="227.0" r="2.9"/><circle cx="1305.2" cy="224.9" r="2.9"/><circle cx="1305.3" cy="224.5" r="2.9"/><circle cx="1305.3" cy="223.3" r="2.9"/><circle cx="1305.4" cy="217.7" r="2.9"/><circle cx="1305.6" cy="220.2" r="2.9"/><circle cx="1306.0" cy="218.1" r="2.9"/><circle cx="1306.0" cy="221.9" r="2.9"/><circle cx="1306.0" cy="217.4" r="2.9"/><circle cx="1306.3" cy="221.7" r="2.9"/><circle cx="1306.6" cy="219.8" r="2.9"/><circle cx="1306.6" cy="221.7" r="2.9"/><circle cx="1306.9" cy="215.2" r="2.9"/><circle cx="1306.9" cy="218.4" r="2.9"/><circle cx="1307.4" cy="222.1" r="2.9"/><circle cx="1307.7" cy="223.8" r="2.9"/><circle cx="1307.8" cy="218.0" r="2.9"/><circle cx="1308.0" cy="223.7" r="2.9"/><circle cx="1308.1" cy="229.3" r="2.9"/><circle cx="1308.2" cy="221.3" r="2.9"/><circle cx="1308.3" cy="219.5" r="2.9"/><circle cx="1309.0" cy="216.3" r="2.9"/><circle cx="1309.2" cy="217.0" r="2.9"/><circle cx="1309.3" cy="220.2" r="2.9"/><circle cx="1309.3" cy="221.0" r="2.9"/><circle cx="1309.7" cy="223.6" r="2.9"/><circle cx="1309.7" cy="227.3" r="2.9"/><circle cx="1309.8" cy="219.4" r="2.9"/><circle cx="1310.0" cy="222.8" r="2.9"/><circle cx="1310.1" cy="226.6" r="2.9"/><circle cx="1310.1" cy="223.9" r="2.9"/><circle cx="1310.3" cy="222.9" r="2.9"/><circle cx="1310.4" cy="222.8" r="2.9"/><circle cx="1310.5" cy="218.5" r="2.9"/><circle cx="1310.7" cy="218.2" r="2.9"/><circle cx="1310.8" cy="224.7" r="2.9"/><circle cx="1311.0" cy="226.6" r="2.9"/><circle cx="1311.4" cy="225.7" r="2.9"/><circle cx="1311.4" cy="225.7" r="2.9"/><circle cx="1311.7" cy="227.5" r="2.9"/><circle cx="1311.7" cy="227.1" r="2.9"/><circle cx="1312.0" cy="221.6" r="2.9"/><circle cx="1312.0" cy="223.5" r="2.9"/><circle cx="1312.1" cy="216.0" r="2.9"/><circle cx="1312.9" cy="226.0" r="2.9"/><circle cx="1313.2" cy="223.4" r="2.9"/><circle cx="1313.3" cy="223.2" r="2.9"/><circle cx="1313.3" cy="225.9" r="2.9"/><circle cx="1313.6" cy="219.0" r="2.9"/><circle cx="1313.7" cy="223.4" r="2.9"/><circle cx="1313.9" cy="220.4" r="2.9"/><circle cx="1314.1" cy="227.7" r="2.9"/><circle cx="1314.2" cy="219.2" r="2.9"/><circle cx="1315.1" cy="221.4" r="2.9"/><circle cx="1315.6" cy="224.5" r="2.9"/><circle cx="1315.6" cy="228.2" r="2.9"/><circle cx="1315.7" cy="223.1" r="2.9"/><circle cx="1316.3" cy="219.0" r="2.9"/><circle cx="1316.5" cy="221.1" r="2.9"/><circle cx="1316.7" cy="224.3" r="2.9"/><circle cx="1317.2" cy="225.0" r="2.9"/><circle cx="1317.3" cy="219.7" r="2.9"/><circle cx="1317.9" cy="226.9" r="2.9"/><circle cx="1318.1" cy="220.8" r="2.9"/><circle cx="1318.2" cy="220.7" r="2.9"/><circle cx="1318.2" cy="222.9" r="2.9"/><circle cx="1318.6" cy="219.9" r="2.9"/><circle cx="1318.7" cy="219.9" r="2.9"/><circle cx="1318.8" cy="222.9" r="2.9"/><circle cx="1319.1" cy="216.4" r="2.9"/><circle cx="1319.4" cy="222.4" r="2.9"/><circle cx="1319.5" cy="219.9" r="2.9"/><circle cx="1319.6" cy="224.4" r="2.9"/><circle cx="1319.6" cy="220.7" r="2.9"/><circle cx="1319.8" cy="226.2" r="2.9"/><circle cx="1319.8" cy="224.6" r="2.9"/><circle cx="1320.0" cy="225.1" r="2.9"/><circle cx="1320.0" cy="224.3" r="2.9"/><circle cx="1320.5" cy="221.1" r="2.9"/><circle cx="1320.6" cy="224.8" r="2.9"/><circle cx="1320.8" cy="225.5" r="2.9"/><circle cx="1320.9" cy="224.1" r="2.9"/><circle cx="1320.9" cy="224.7" r="2.9"/><circle cx="1321.7" cy="224.8" r="2.9"/><circle cx="1321.7" cy="223.1" r="2.9"/><circle cx="1321.8" cy="222.3" r="2.9"/><circle cx="1322.2" cy="224.2" r="2.9"/><circle cx="1322.2" cy="224.4" r="2.9"/><circle cx="1322.3" cy="225.8" r="2.9"/><circle cx="1322.4" cy="227.5" r="2.9"/><circle cx="1322.4" cy="223.0" r="2.9"/><circle cx="1322.5" cy="222.6" r="2.9"/><circle cx="1322.5" cy="229.8" r="2.9"/><circle cx="1322.5" cy="223.8" r="2.9"/><circle cx="1322.7" cy="223.9" r="2.9"/><circle cx="1322.7" cy="221.6" r="2.9"/><circle cx="1323.0" cy="225.2" r="2.9"/><circle cx="1323.0" cy="217.5" r="2.9"/><circle cx="1323.1" cy="221.8" r="2.9"/><circle cx="1323.3" cy="223.3" r="2.9"/><circle cx="1323.4" cy="221.9" r="2.9"/><circle cx="1323.4" cy="224.7" r="2.9"/><circle cx="1323.5" cy="227.4" r="2.9"/><circle cx="1323.5" cy="225.1" r="2.9"/><circle cx="1323.6" cy="222.9" r="2.9"/><circle cx="1323.7" cy="216.9" r="2.9"/><circle cx="1323.7" cy="221.7" r="2.9"/><circle cx="1323.8" cy="227.7" r="2.9"/><circle cx="1323.9" cy="228.5" r="2.9"/><circle cx="1324.1" cy="225.8" r="2.9"/><circle cx="1324.1" cy="226.6" r="2.9"/><circle cx="1324.3" cy="226.4" r="2.9"/><circle cx="1324.3" cy="219.7" r="2.9"/><circle cx="1324.4" cy="222.8" r="2.9"/><circle cx="1324.6" cy="222.5" r="2.9"/><circle cx="1324.9" cy="225.9" r="2.9"/><circle cx="1325.0" cy="227.3" r="2.9"/><circle cx="1325.3" cy="224.2" r="2.9"/><circle cx="1325.3" cy="229.7" r="2.9"/><circle cx="1325.5" cy="223.7" r="2.9"/><circle cx="1325.5" cy="222.5" r="2.9"/><circle cx="1325.6" cy="222.4" r="2.9"/><circle cx="1326.2" cy="218.1" r="2.9"/><circle cx="1326.2" cy="226.3" r="2.9"/><circle cx="1326.2" cy="222.6" r="2.9"/><circle cx="1326.3" cy="226.1" r="2.9"/><circle cx="1326.5" cy="225.5" r="2.9"/><circle cx="1327.4" cy="225.9" r="2.9"/><circle cx="1327.7" cy="219.4" r="2.9"/><circle cx="1327.7" cy="223.2" r="2.9"/><circle cx="1327.8" cy="223.5" r="2.9"/><circle cx="1327.9" cy="225.3" r="2.9"/><circle cx="1328.0" cy="221.3" r="2.9"/><circle cx="1328.0" cy="221.2" r="2.9"/><circle cx="1328.1" cy="227.8" r="2.9"/><circle cx="1328.6" cy="220.2" r="2.9"/><circle cx="1328.8" cy="225.1" r="2.9"/><circle cx="1328.8" cy="221.1" r="2.9"/><circle cx="1328.8" cy="226.8" r="2.9"/><circle cx="1328.8" cy="223.0" r="2.9"/><circle cx="1328.9" cy="223.3" r="2.9"/><circle cx="1329.0" cy="221.6" r="2.9"/><circle cx="1329.5" cy="218.6" r="2.9"/><circle cx="1329.8" cy="229.8" r="2.9"/><circle cx="1330.0" cy="224.4" r="2.9"/><circle cx="1330.0" cy="228.9" r="2.9"/><circle cx="1330.0" cy="226.6" r="2.9"/><circle cx="1330.1" cy="221.7" r="2.9"/><circle cx="1330.2" cy="223.0" r="2.9"/><circle cx="1330.3" cy="226.3" r="2.9"/><circle cx="1330.4" cy="224.9" r="2.9"/><circle cx="1330.6" cy="222.6" r="2.9"/><circle cx="1330.6" cy="225.8" r="2.9"/><circle cx="1331.3" cy="227.3" r="2.9"/><circle cx="1331.6" cy="228.4" r="2.9"/><circle cx="1331.9" cy="229.9" r="2.9"/><circle cx="1332.1" cy="225.2" r="2.9"/><circle cx="1332.2" cy="223.9" r="2.9"/><circle cx="1332.3" cy="223.9" r="2.9"/><circle cx="1332.5" cy="217.7" r="2.9"/><circle cx="1332.5" cy="229.0" r="2.9"/><circle cx="1332.6" cy="229.9" r="2.9"/><circle cx="1332.6" cy="217.7" r="2.9"/><circle cx="1332.8" cy="225.5" r="2.9"/><circle cx="1333.0" cy="223.4" r="2.9"/><circle cx="1333.1" cy="224.3" r="2.9"/><circle cx="1333.4" cy="219.7" r="2.9"/><circle cx="1333.4" cy="224.6" r="2.9"/><circle cx="1333.7" cy="218.7" r="2.9"/><circle cx="1333.8" cy="226.9" r="2.9"/><circle cx="1333.9" cy="227.9" r="2.9"/><circle cx="1334.2" cy="228.8" r="2.9"/><circle cx="1334.2" cy="220.0" r="2.9"/><circle cx="1334.5" cy="221.4" r="2.9"/><circle cx="1334.6" cy="223.2" r="2.9"/><circle cx="1334.6" cy="229.2" r="2.9"/><circle cx="1334.9" cy="224.4" r="2.9"/><circle cx="1335.1" cy="229.8" r="2.9"/><circle cx="1335.1" cy="225.7" r="2.9"/><circle cx="1335.1" cy="227.1" r="2.9"/><circle cx="1335.1" cy="220.7" r="2.9"/><circle cx="1335.6" cy="220.1" r="2.9"/><circle cx="1336.2" cy="222.8" r="2.9"/><circle cx="1336.3" cy="221.5" r="2.9"/><circle cx="1336.4" cy="220.7" r="2.9"/><circle cx="1336.6" cy="226.9" r="2.9"/><circle cx="1336.8" cy="230.0" r="2.9"/><circle cx="1337.0" cy="223.0" r="2.9"/><circle cx="1337.4" cy="225.0" r="2.9"/><circle cx="1337.4" cy="229.4" r="2.9"/><circle cx="1337.5" cy="225.6" r="2.9"/><circle cx="1337.9" cy="227.8" r="2.9"/><circle cx="1337.9" cy="227.7" r="2.9"/><circle cx="1337.9" cy="229.2" r="2.9"/><circle cx="1338.0" cy="229.0" r="2.9"/><circle cx="1338.3" cy="226.5" r="2.9"/><circle cx="1338.4" cy="222.6" r="2.9"/><circle cx="1338.7" cy="229.0" r="2.9"/><circle cx="1338.8" cy="222.4" r="2.9"/><circle cx="1338.8" cy="226.2" r="2.9"/><circle cx="1339.0" cy="227.2" r="2.9"/><circle cx="1339.2" cy="233.6" r="2.9"/><circle cx="1339.2" cy="228.1" r="2.9"/><circle cx="1339.3" cy="227.3" r="2.9"/><circle cx="1339.4" cy="224.9" r="2.9"/><circle cx="1339.7" cy="225.5" r="2.9"/><circle cx="1340.1" cy="221.4" r="2.9"/><circle cx="1340.1" cy="219.2" r="2.9"/><circle cx="1340.1" cy="225.5" r="2.9"/><circle cx="1340.5" cy="226.5" r="2.9"/><circle cx="1340.7" cy="224.6" r="2.9"/><circle cx="1340.7" cy="225.2" r="2.9"/><circle cx="1341.0" cy="225.2" r="2.9"/><circle cx="1341.6" cy="231.6" r="2.9"/><circle cx="1341.8" cy="224.2" r="2.9"/><circle cx="1342.2" cy="232.1" r="2.9"/><circle cx="1343.1" cy="224.2" r="2.9"/><circle cx="1343.2" cy="225.7" r="2.9"/><circle cx="1343.3" cy="226.2" r="2.9"/><circle cx="1343.3" cy="228.2" r="2.9"/></g>
<path d="M791.4 34.3 L793.2 37.6 L795.1 40.8 L796.9 44 L798.7 47.1 L800.6 50.2 L802.4 53.2 L804.2 56.2 L806 59.2 L807.9 62 L809.7 64.9 L811.5 67.7 L813.4 70.4 L815.2 73.1 L817 75.8 L818.9 78.4 L820.7 81 L822.5 83.6 L824.3 86.1 L826.2 88.6 L828 91 L829.8 93.4 L831.7 95.7 L833.5 98.1 L835.3 100.4 L837.2 102.6 L839 104.8 L840.8 107 L842.7 109.2 L844.5 111.3 L846.3 113.4 L848.1 115.5 L850 117.6 L851.8 119.6 L853.6 121.6 L855.5 123.6 L857.3 125.6 L859.1 127.5 L861 129.4 L862.8 131.3 L864.6 133.2 L866.5 135.1 L868.3 136.9 L870.1 138.8 L871.9 140.6 L873.8 142.4 L875.6 144.1 L877.4 145.9 L879.3 147.6 L881.1 149.4 L882.9 151.1 L884.8 152.8 L886.6 154.5 L888.4 156.2 L890.2 157.8 L892.1 159.5 L893.9 161.1 L895.7 162.8 L897.6 164.4 L899.4 166 L901.2 167.6 L903.1 169.2 L904.9 170.8 L906.7 172.3 L908.6 173.9 L910.4 175.4 L912.2 177 L914 178.5 L915.9 180 L917.7 181.6 L919.5 183.1 L921.4 184.6 L923.2 186.1 L925 187.6 L926.9 189 L928.7 190.5 L930.5 192 L932.3 193.4 L934.2 194.9 L936 196.3 L937.8 197.7 L939.7 199.1 L941.5 200.6 L943.3 202 L945.2 203.4 L947 204.8 L948.8 206.1 L950.7 207.5 L952.5 208.9 L954.3 210.3 L956.1 211.6 L958 213 L959.8 214.3 L961.6 215.7 L963.5 217 L965.3 218.3 L967.1 219.6 L969 220.9 L970.8 222.2 L972.6 223.5 L974.5 224.8 L976.3 226.1 L978.1 227.4 L979.9 228.7 L981.8 229.9 L983.6 231.2 L985.4 232.4 L987.3 233.7 L989.1 234.9 L990.9 236.1 L992.8 237.3 L994.6 238.5 L996.4 239.8 L998.2 241 L1000.1 242.1 L1001.9 243.3 L1003.7 244.5 L1005.6 245.7 L1007.4 246.9 L1009.2 248 L1011.1 249.2 L1012.9 250.3 L1014.7 251.4 L1016.6 252.6 L1018.4 253.7 L1020.2 254.8 L1022 255.9 L1023.9 257 L1025.7 258.1 L1027.5 259.2 L1029.4 260.3 L1031.2 261.4 L1033 262.5 L1034.9 263.5 L1036.7 264.6 L1038.5 265.6 L1040.3 266.7 L1042.2 267.7 L1044 268.8 L1045.8 269.8 L1047.7 270.8 L1049.5 271.8 L1051.3 272.8 L1053.2 273.8 L1055 274.8 L1056.8 275.8 L1058.7 276.8 L1060.5 277.8 L1062.3 278.8 L1064.1 279.7 L1066 280.7 L1067.8 281.6 L1069.6 282.6 L1071.5 283.5 L1073.3 284.5 L1075.1 285.4 L1077 286.3 L1078.8 287.2 L1080.6 288.1 L1082.4 289.1 L1084.3 290 L1086.1 290.9 L1087.9 291.7 L1089.8 292.6 L1091.6 293.5 L1093.4 294.4 L1095.3 295.3 L1097.1 296.1 L1098.9 297 L1100.8 297.8 L1102.6 298.7 L1104.4 299.5 L1106.2 300.4 L1108.1 301.2 L1109.9 302 L1111.7 302.9 L1113.6 303.7 L1115.4 304.5 L1117.2 305.3 L1119.1 306.1 L1120.9 306.9 L1122.7 307.7 L1124.6 308.5 L1126.4 309.3 L1128.2 310.1 L1130 310.9 L1131.9 311.6 L1133.7 312.4 L1135.5 313.2 L1137.4 313.9 L1139.2 314.7 L1141 315.4 L1142.9 316.2 L1144.7 316.9 L1146.5 317.7 L1148.3 318.4 L1150.2 319.2 L1152 319.9 L1153.8 320.6 L1155.7 321.4 L1157.5 322.1 L1159.3 322.8 L1161.2 323.5 L1163 324.2 L1164.8 324.9 L1166.7 325.6 L1168.5 326.4 L1170.3 327.1 L1172.1 327.7 L1174 328.4 L1175.8 329.1 L1177.6 329.8 L1179.5 330.5 L1181.3 331.2 L1183.1 331.9 L1185 332.5 L1186.8 333.2 L1188.6 333.9 L1190.4 334.6 L1192.3 335.2 L1194.1 335.9 L1195.9 336.6 L1197.8 337.2 L1199.6 337.9 L1201.4 338.5 L1203.3 339.2 L1205.1 339.8 L1206.9 340.5 L1208.8 341.1 L1210.6 341.8 L1212.4 342.4 L1214.2 343 L1216.1 343.7 L1217.9 344.3 L1219.7 344.9 L1221.6 345.6 L1223.4 346.2 L1225.2 346.8 L1227.1 347.5 L1228.9 348.1 L1230.7 348.7 L1232.6 349.3 L1234.4 349.9 L1236.2 350.6 L1238 351.2 L1239.9 351.8 L1241.7 352.4 L1243.5 353 L1245.4 353.6 L1247.2 354.2 L1249 354.8 L1250.9 355.4 L1252.7 356 L1254.5 356.6 L1256.3 357.2 L1258.2 357.8 L1260 358.4 L1261.8 359 L1263.7 359.6 L1265.5 360.2 L1267.3 360.8 L1269.2 361.4 L1271 362 L1272.8 362.6 L1274.7 363.2 L1276.5 363.8 L1278.3 364.3 L1280.1 364.9 L1282 365.5 L1283.8 366.1 L1285.6 366.7 L1287.5 367.3 L1289.3 367.8 L1291.1 368.4 L1293 369 L1294.8 369.6 L1296.6 370.1 L1298.4 370.7 L1300.3 371.3 L1302.1 371.9 L1303.9 372.4 L1305.8 373 L1307.6 373.6 L1309.4 374.1 L1311.3 374.7 L1313.1 375.3 L1314.9 375.9 L1316.8 376.4 L1318.6 377 L1320.4 377.6 L1322.2 378.1 L1324.1 378.7 L1325.9 379.2 L1327.7 379.8 L1329.6 380.4 L1331.4 380.9 L1333.2 381.5 L1335.1 382 L1336.9 382.6 L1338.7 383.2" fill="none" stroke="#c4c4c4" stroke-width="2.6"/>
<path d="M791.4 33.8 L793.2 35.3 L795.1 36.8 L796.9 38.3 L798.8 39.8 L800.6 41.2 L802.5 42.7 L804.3 44.1 L806.2 45.6 L808 47 L809.9 48.4 L811.7 49.8 L813.6 51.2 L815.4 52.6 L817.3 53.9 L819.1 55.3 L820.9 56.7 L822.8 58 L824.6 59.3 L826.5 60.6 L828.3 62 L830.2 63.3 L832 64.5 L833.9 65.8 L835.7 67.1 L837.6 68.3 L839.4 69.6 L841.3 70.8 L843.1 72.1 L844.9 73.3 L846.8 74.5 L848.6 75.7 L850.5 76.9 L852.3 78.1 L854.2 79.2 L856 80.4 L857.9 81.6 L859.7 82.7 L861.6 83.8 L863.4 85 L865.3 86.1 L867.1 87.2 L869 88.3 L870.8 89.4 L872.6 90.5 L874.5 91.6 L876.3 92.6 L878.2 93.7 L880 94.8 L881.9 95.8 L883.7 96.8 L885.6 97.9 L887.4 98.9 L889.3 99.9 L891.1 100.9 L893 101.9 L894.8 102.9 L896.7 103.9 L898.5 104.9 L900.3 105.8 L902.2 106.8 L904 107.8 L905.9 108.7 L907.7 109.7 L909.6 110.6 L911.4 111.5 L913.3 112.5 L915.1 113.4 L917 114.3 L918.8 115.2 L920.7 116.1 L922.5 117 L924.3 117.9 L926.2 118.8 L928 119.6 L929.9 120.5 L931.7 121.4 L933.6 122.2 L935.4 123.1 L937.3 123.9 L939.1 124.8 L941 125.6 L942.8 126.5 L944.7 127.3 L946.5 128.1 L948.4 128.9 L950.2 129.7 L952 130.6 L953.9 131.4 L955.7 132.2 L957.6 132.9 L959.4 133.7 L961.3 134.5 L963.1 135.3 L965 136.1 L966.8 136.8 L968.7 137.6 L970.5 138.4 L972.4 139.1 L974.2 139.9 L976.1 140.6 L977.9 141.4 L979.7 142.1 L981.6 142.8 L983.4 143.6 L985.3 144.3 L987.1 145 L989 145.7 L990.8 146.4 L992.7 147.2 L994.5 147.9 L996.4 148.6 L998.2 149.3 L1000.1 150 L1001.9 150.6 L1003.7 151.3 L1005.6 152 L1007.4 152.7 L1009.3 153.4 L1011.1 154 L1013 154.7 L1014.8 155.4 L1016.7 156 L1018.5 156.7 L1020.4 157.3 L1022.2 158 L1024.1 158.6 L1025.9 159.3 L1027.8 159.9 L1029.6 160.5 L1031.4 161.2 L1033.3 161.8 L1035.1 162.4 L1037 163 L1038.8 163.6 L1040.7 164.3 L1042.5 164.9 L1044.4 165.5 L1046.2 166.1 L1048.1 166.7 L1049.9 167.3 L1051.8 167.9 L1053.6 168.5 L1055.5 169 L1057.3 169.6 L1059.1 170.2 L1061 170.8 L1062.8 171.4 L1064.7 171.9 L1066.5 172.5 L1068.4 173 L1070.2 173.6 L1072.1 174.2 L1073.9 174.7 L1075.8 175.3 L1077.6 175.8 L1079.5 176.4 L1081.3 176.9 L1083.1 177.4 L1085 178 L1086.8 178.5 L1088.7 179 L1090.5 179.6 L1092.4 180.1 L1094.2 180.6 L1096.1 181.1 L1097.9 181.6 L1099.8 182.1 L1101.6 182.6 L1103.5 183.1 L1105.3 183.6 L1107.2 184.1 L1109 184.6 L1110.8 185.1 L1112.7 185.6 L1114.5 186.1 L1116.4 186.6 L1118.2 187 L1120.1 187.5 L1121.9 188 L1123.8 188.5 L1125.6 188.9 L1127.5 189.4 L1129.3 189.9 L1131.2 190.3 L1133 190.8 L1134.8 191.2 L1136.7 191.7 L1138.5 192.1 L1140.4 192.6 L1142.2 193 L1144.1 193.4 L1145.9 193.9 L1147.8 194.3 L1149.6 194.7 L1151.5 195.2 L1153.3 195.6 L1155.2 196 L1157 196.4 L1158.9 196.8 L1160.7 197.3 L1162.5 197.7 L1164.4 198.1 L1166.2 198.5 L1168.1 198.9 L1169.9 199.3 L1171.8 199.7 L1173.6 200.1 L1175.5 200.5 L1177.3 200.8 L1179.2 201.2 L1181 201.6 L1182.9 202 L1184.7 202.4 L1186.6 202.7 L1188.4 203.1 L1190.2 203.5 L1192.1 203.9 L1193.9 204.2 L1195.8 204.6 L1197.6 204.9 L1199.5 205.3 L1201.3 205.6 L1203.2 206 L1205 206.3 L1206.9 206.7 L1208.7 207 L1210.6 207.4 L1212.4 207.7 L1214.2 208.1 L1216.1 208.4 L1217.9 208.7 L1219.8 209.1 L1221.6 209.4 L1223.5 209.7 L1225.3 210 L1227.2 210.4 L1229 210.7 L1230.9 211 L1232.7 211.3 L1234.6 211.6 L1236.4 211.9 L1238.3 212.2 L1240.1 212.5 L1241.9 212.8 L1243.8 213.1 L1245.6 213.4 L1247.5 213.7 L1249.3 214 L1251.2 214.3 L1253 214.6 L1254.9 214.9 L1256.7 215.2 L1258.6 215.5 L1260.4 215.7 L1262.3 216 L1264.1 216.3 L1266 216.6 L1267.8 216.8 L1269.6 217.1 L1271.5 217.4 L1273.3 217.7 L1275.2 217.9 L1277 218.2 L1278.9 218.4 L1280.7 218.7 L1282.6 219 L1284.4 219.2 L1286.3 219.5 L1288.1 219.7 L1290 220 L1291.8 220.2 L1293.6 220.5 L1295.5 220.7 L1297.3 221 L1299.2 221.2 L1301 221.4 L1302.9 221.7 L1304.7 221.9 L1306.6 222.1 L1308.4 222.4 L1310.3 222.6 L1312.1 222.8 L1314 223.1 L1315.8 223.3 L1317.7 223.5 L1319.5 223.7 L1321.3 224 L1323.2 224.2 L1325 224.4 L1326.9 224.6 L1328.7 224.8 L1330.6 225 L1332.4 225.3 L1334.3 225.5 L1336.1 225.7 L1338 225.9 L1339.8 226.1 L1341.7 226.3 L1343.5 226.5" fill="none" stroke="#f270a8" stroke-width="3.1"/>
</g>
<rect x="791.4" y="28.2" width="552.2" height="407.4" fill="none" stroke="#222" stroke-width="2.3"/>
<path d="M791.4 435.6v8.8M791.4 28.2v8.8M828.2 435.6v4.6M828.2 28.2v4.6M865 435.6v8.8M865 28.2v8.8M901.8 435.6v4.6M901.8 28.2v4.6M938.6 435.6v8.8M938.6 28.2v8.8M975.4 435.6v4.6M975.4 28.2v4.6M1012.2 435.6v8.8M1012.2 28.2v8.8M1049 435.6v4.6M1049 28.2v4.6M1085.9 435.6v8.8M1085.9 28.2v8.8M1122.7 435.6v4.6M1122.7 28.2v4.6M1159.5 435.6v8.8M1159.5 28.2v8.8M1196.3 435.6v4.6M1196.3 28.2v4.6M1233.1 435.6v8.8M1233.1 28.2v8.8M1269.9 435.6v4.6M1269.9 28.2v4.6M1306.7 435.6v8.8M1306.7 28.2v8.8M1343.5 435.6v4.6M1343.5 28.2v4.6M791.4 33.8h-8.8M1343.6 33.8h-8.8M791.4 169.6h-8.8M1343.6 169.6h-8.8M791.4 128.7h-4.6M1343.6 128.7h-4.6M791.4 104.8h-4.6M1343.6 104.8h-4.6M791.4 87.8h-4.6M1343.6 87.8h-4.6M791.4 74.7h-4.6M1343.6 74.7h-4.6M791.4 63.9h-4.6M1343.6 63.9h-4.6M791.4 54.8h-4.6M1343.6 54.8h-4.6M791.4 47h-4.6M1343.6 47h-4.6M791.4 40h-4.6M1343.6 40h-4.6M791.4 305.4h-8.8M1343.6 305.4h-8.8M791.4 264.5h-4.6M1343.6 264.5h-4.6M791.4 240.6h-4.6M1343.6 240.6h-4.6M791.4 223.6h-4.6M1343.6 223.6h-4.6M791.4 210.5h-4.6M1343.6 210.5h-4.6M791.4 199.7h-4.6M1343.6 199.7h-4.6M791.4 190.6h-4.6M1343.6 190.6h-4.6M791.4 182.8h-4.6M1343.6 182.8h-4.6M791.4 175.8h-4.6M1343.6 175.8h-4.6M791.4 400.3h-4.6M1343.6 400.3h-4.6M791.4 376.4h-4.6M1343.6 376.4h-4.6M791.4 359.4h-4.6M1343.6 359.4h-4.6M791.4 346.3h-4.6M1343.6 346.3h-4.6M791.4 335.5h-4.6M1343.6 335.5h-4.6M791.4 326.4h-4.6M1343.6 326.4h-4.6M791.4 318.6h-4.6M1343.6 318.6h-4.6M791.4 311.6h-4.6M1343.6 311.6h-4.6" stroke="#222" stroke-width="2" fill="none"/>
<text transform="translate(774,177.4) scale(0.930,1.000)" font-family="Liberation Sans" font-weight="bold" font-size="27.5" text-anchor="end" fill="#1a1a1a" >0.1</text>
<text transform="translate(774,313.2) scale(0.930,1.000)" font-family="Liberation Sans" font-weight="bold" font-size="27.5" text-anchor="end" fill="#1a1a1a" >0.01</text>
<text transform="translate(791.6,469.6) scale(1.000,0.970)" font-family="Liberation Sans" font-weight="bold" font-size="26.8" text-anchor="middle" fill="#1a1a1a" >0</text>
<text transform="translate(865.2,469.6) scale(1.000,0.970)" font-family="Liberation Sans" font-weight="bold" font-size="26.8" text-anchor="middle" fill="#1a1a1a" >200</text>
<text transform="translate(938.8,469.6) scale(1.000,0.970)" font-family="Liberation Sans" font-weight="bold" font-size="26.8" text-anchor="middle" fill="#1a1a1a" >400</text>
<text transform="translate(1012.4,469.6) scale(1.000,0.970)" font-family="Liberation Sans" font-weight="bold" font-size="26.8" text-anchor="middle" fill="#1a1a1a" >600</text>
<text transform="translate(1086.1,469.6) scale(1.000,0.970)" font-family="Liberation Sans" font-weight="bold" font-size="26.8" text-anchor="middle" fill="#1a1a1a" >800</text>
<text transform="translate(1159.7,469.6) scale(1.000,0.970)" font-family="Liberation Sans" font-weight="bold" font-size="26.8" text-anchor="middle" fill="#1a1a1a" >1000</text>
<text transform="translate(1233.3,469.6) scale(1.000,0.970)" font-family="Liberation Sans" font-weight="bold" font-size="26.8" text-anchor="middle" fill="#1a1a1a" >1200</text>
<text transform="translate(1306.9,469.6) scale(1.000,0.970)" font-family="Liberation Sans" font-weight="bold" font-size="26.8" text-anchor="middle" fill="#1a1a1a" >1400</text>
<rect x="700" y="0" width="75" height="46" fill="#fff"/>
<text transform="translate(706.7,33.1) scale(1.040,1.000)" font-family="Liberation Serif" font-weight="bold" font-size="42.1" text-anchor="start" fill="#000" >(b)</text>
<text transform="translate(948.7,513.3) scale(1.000,1.025)" font-family="Liberation Sans" font-weight="bold" font-size="26.8" text-anchor="start" fill="#1a1a1a" >PL decay time (ns)</text>
<text transform="translate(714.8,384.1) rotate(-90) scale(1.000,1.020)" font-family="Liberation Sans" font-weight="bold" font-size="27.5" text-anchor="start" fill="#1a1a1a" >PL counts (Normalized)</text>
<circle cx="896.1" cy="351.4" r="3.1" fill="url(#gk2)"/>
<circle cx="896.1" cy="386.2" r="3.1" fill="url(#gr2)"/>
<text transform="translate(921.8,359.2) scale(1.000,0.920)" font-family="Liberation Sans" font-weight="bold" font-size="27.5" text-anchor="start" fill="#1a1a1a" >Control</text>
<text transform="translate(923.2,393.6) scale(1.000,0.920)" font-family="Liberation Sans" font-weight="bold" font-size="27.5" text-anchor="start" fill="#1a1a1a" >Target</text>
</svg></body></html>
